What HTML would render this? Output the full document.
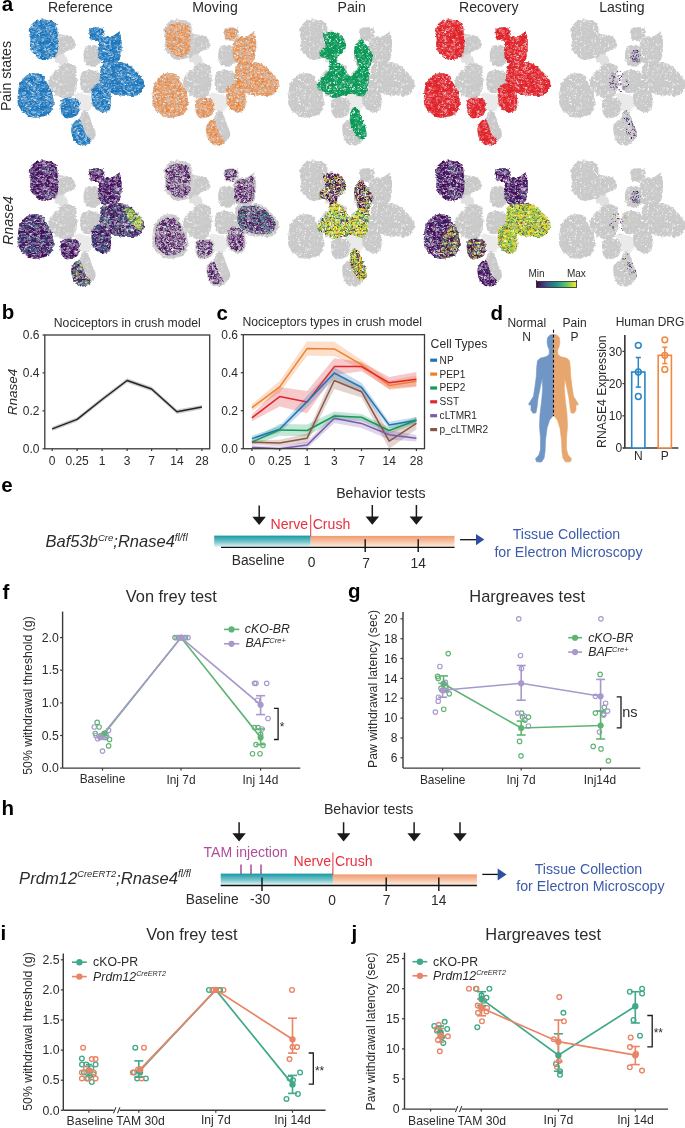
<!DOCTYPE html>
<html><head><meta charset="utf-8"><style>
html,body{margin:0;padding:0;background:#fff;}
svg{display:block;will-change:transform;font-family:"Liberation Sans", sans-serif;}
</style></head><body>
<svg width="685" height="1128" viewBox="0 0 685 1128">
<rect width="685" height="1128" fill="#fff"/>
<defs>
<pattern id="pg" width="24" height="24" patternUnits="userSpaceOnUse"><path fill="#ffffff" d="M22.1 21.9h.9v.9h-.9zM1.3 2.0h.9v.9h-.9zM19.3 17.0h.9v.9h-.9zM15.5 7.1h.9v.9h-.9zM14.0 14.0h.9v.9h-.9zM13.4 3.7h.9v.9h-.9zM9.9 9.1h.9v.9h-.9zM16.7 23.0h.9v.9h-.9zM21.9 12.6h.9v.9h-.9zM10.3 6.2h.9v.9h-.9zM0.8 0.6h.9v.9h-.9zM10.7 7.4h.9v.9h-.9zM8.8 20.6h.9v.9h-.9zM12.1 12.9h.9v.9h-.9zM5.5 0.6h.9v.9h-.9zM7.5 3.2h.9v.9h-.9zM11.8 23.1h.9v.9h-.9zM15.6 4.2h.9v.9h-.9zM20.6 18.4h.9v.9h-.9zM17.0 20.9h.9v.9h-.9zM17.6 18.2h.9v.9h-.9zM8.2 22.7h.9v.9h-.9zM22.2 3.7h.9v.9h-.9zM17.4 16.5h.9v.9h-.9zM10.7 12.3h.9v.9h-.9zM11.3 21.4h.9v.9h-.9zM11.6 19.2h.9v.9h-.9zM8.2 20.4h.9v.9h-.9zM20.8 10.6h.9v.9h-.9zM13.1 21.3h.9v.9h-.9zM16.7 11.2h.9v.9h-.9zM5.1 7.5h.9v.9h-.9zM16.2 3.8h.9v.9h-.9zM21.0 6.2h.9v.9h-.9zM21.1 7.2h.9v.9h-.9zM22.1 16.3h.9v.9h-.9zM11.6 12.0h.9v.9h-.9zM15.0 13.6h.9v.9h-.9zM7.2 4.8h.9v.9h-.9zM11.8 21.6h.9v.9h-.9zM14.4 1.7h.9v.9h-.9zM19.0 16.8h.9v.9h-.9zM21.0 4.4h.9v.9h-.9zM17.2 1.4h.9v.9h-.9z"/><path fill="#d6d6d6" d="M15.1 6.3h.9v.9h-.9zM5.2 20.2h.9v.9h-.9zM2.5 12.1h.9v.9h-.9zM19.7 5.7h.9v.9h-.9zM4.9 20.3h.9v.9h-.9zM9.8 16.6h.9v.9h-.9zM0.7 8.4h.9v.9h-.9zM4.0 15.5h.9v.9h-.9zM1.9 22.1h.9v.9h-.9zM0.6 16.8h.9v.9h-.9zM0.5 5.9h.9v.9h-.9zM18.8 3.6h.9v.9h-.9zM4.2 16.0h.9v.9h-.9zM8.9 1.0h.9v.9h-.9zM22.9 3.5h.9v.9h-.9zM0.8 8.0h.9v.9h-.9zM14.2 17.2h.9v.9h-.9zM2.6 7.8h.9v.9h-.9zM0.7 10.4h.9v.9h-.9zM17.7 17.1h.9v.9h-.9zM20.8 17.5h.9v.9h-.9zM19.9 16.3h.9v.9h-.9zM10.9 5.2h.9v.9h-.9zM15.3 7.3h.9v.9h-.9zM2.4 10.3h.9v.9h-.9zM20.2 2.9h.9v.9h-.9zM13.5 9.1h.9v.9h-.9zM11.9 3.3h.9v.9h-.9zM22.2 6.0h.9v.9h-.9zM14.0 9.7h.9v.9h-.9zM0.4 12.9h.9v.9h-.9zM3.2 1.3h.9v.9h-.9zM0.8 3.7h.9v.9h-.9zM2.2 14.7h.9v.9h-.9zM11.7 22.7h.9v.9h-.9zM21.6 23.0h.9v.9h-.9zM5.4 10.3h.9v.9h-.9zM5.8 13.7h.9v.9h-.9zM14.4 18.5h.9v.9h-.9zM16.4 5.9h.9v.9h-.9zM9.8 12.2h.9v.9h-.9zM0.1 0.8h.9v.9h-.9zM9.4 2.6h.9v.9h-.9zM16.7 5.6h.9v.9h-.9zM2.3 4.2h.9v.9h-.9zM5.3 5.0h.9v.9h-.9zM12.0 10.7h.9v.9h-.9zM7.2 14.8h.9v.9h-.9zM4.9 20.9h.9v.9h-.9zM22.2 16.8h.9v.9h-.9zM10.0 11.8h.9v.9h-.9zM13.4 1.2h.9v.9h-.9zM9.7 12.1h.9v.9h-.9zM4.2 2.2h.9v.9h-.9zM18.5 8.5h.9v.9h-.9zM12.0 21.3h.9v.9h-.9zM14.1 6.7h.9v.9h-.9zM22.7 8.6h.9v.9h-.9zM0.4 15.8h.9v.9h-.9zM2.3 7.1h.9v.9h-.9zM19.4 15.5h.9v.9h-.9zM0.4 10.4h.9v.9h-.9zM9.5 11.2h.9v.9h-.9zM4.8 13.6h.9v.9h-.9zM1.7 6.6h.9v.9h-.9zM8.6 21.6h.9v.9h-.9zM1.8 17.4h.9v.9h-.9zM4.4 13.2h.9v.9h-.9zM9.1 10.7h.9v.9h-.9zM17.4 9.1h.9v.9h-.9zM2.8 2.8h.9v.9h-.9zM1.9 19.6h.9v.9h-.9zM14.8 22.2h.9v.9h-.9zM16.0 0.6h.9v.9h-.9z"/></pattern>
<pattern id="pblue" width="24" height="24" patternUnits="userSpaceOnUse"><path fill="#ffffff" d="M5.5 12.6h.9v.9h-.9zM8.5 14.0h.9v.9h-.9zM14.5 1.5h.9v.9h-.9zM0.3 19.3h.9v.9h-.9zM6.0 5.4h.9v.9h-.9zM23.0 10.9h.9v.9h-.9zM19.3 11.0h.9v.9h-.9zM14.8 3.5h.9v.9h-.9zM14.7 20.1h.9v.9h-.9zM12.1 17.1h.9v.9h-.9zM15.5 1.5h.9v.9h-.9zM17.5 13.7h.9v.9h-.9zM7.0 0.7h.9v.9h-.9zM20.0 10.9h.9v.9h-.9zM16.6 20.3h.9v.9h-.9zM16.5 21.3h.9v.9h-.9zM9.1 18.5h.9v.9h-.9zM10.3 21.6h.9v.9h-.9zM20.3 2.3h.9v.9h-.9zM3.1 5.0h.9v.9h-.9zM22.3 10.1h.9v.9h-.9zM14.5 7.0h.9v.9h-.9zM11.7 8.9h.9v.9h-.9zM8.1 13.5h.9v.9h-.9zM13.5 20.9h.9v.9h-.9zM15.8 21.5h.9v.9h-.9zM19.8 22.9h.9v.9h-.9zM15.5 3.8h.9v.9h-.9zM19.9 22.3h.9v.9h-.9zM20.9 13.1h.9v.9h-.9zM16.5 4.9h.9v.9h-.9zM19.2 13.2h.9v.9h-.9zM6.6 1.5h.9v.9h-.9zM19.7 22.9h.9v.9h-.9zM2.0 18.5h.9v.9h-.9zM9.5 3.5h.9v.9h-.9zM6.8 17.8h.9v.9h-.9zM20.2 1.0h.9v.9h-.9zM14.2 1.0h.9v.9h-.9zM16.6 7.6h.9v.9h-.9zM20.3 22.7h.9v.9h-.9zM11.7 23.1h.9v.9h-.9zM7.2 1.8h.9v.9h-.9zM13.9 0.7h.9v.9h-.9zM4.6 9.4h.9v.9h-.9zM14.1 3.6h.9v.9h-.9zM1.0 20.0h.9v.9h-.9zM7.2 22.1h.9v.9h-.9zM20.7 8.7h.9v.9h-.9zM10.6 12.0h.9v.9h-.9zM14.9 13.8h.9v.9h-.9zM12.9 14.3h.9v.9h-.9zM21.7 11.7h.9v.9h-.9zM10.0 16.6h.9v.9h-.9zM5.5 7.0h.9v.9h-.9zM22.6 12.0h.9v.9h-.9zM12.7 0.3h.9v.9h-.9zM9.6 13.4h.9v.9h-.9zM0.5 14.2h.9v.9h-.9zM14.6 1.4h.9v.9h-.9zM14.5 10.8h.9v.9h-.9zM15.7 8.1h.9v.9h-.9zM16.3 17.0h.9v.9h-.9zM0.5 1.4h.9v.9h-.9zM15.6 22.3h.9v.9h-.9zM5.8 10.5h.9v.9h-.9zM13.7 7.4h.9v.9h-.9zM8.4 7.2h.9v.9h-.9zM8.5 13.8h.9v.9h-.9zM6.9 8.7h.9v.9h-.9zM17.8 0.6h.9v.9h-.9zM13.1 17.0h.9v.9h-.9zM7.2 5.1h.9v.9h-.9zM18.6 5.5h.9v.9h-.9zM4.3 10.1h.9v.9h-.9zM16.1 2.4h.9v.9h-.9zM7.4 7.7h.9v.9h-.9zM19.3 10.1h.9v.9h-.9zM19.8 3.9h.9v.9h-.9zM7.8 15.0h.9v.9h-.9zM20.4 10.4h.9v.9h-.9zM5.2 2.8h.9v.9h-.9zM12.2 4.4h.9v.9h-.9zM18.6 19.4h.9v.9h-.9zM4.2 6.4h.9v.9h-.9zM18.6 14.8h.9v.9h-.9zM18.6 8.0h.9v.9h-.9zM3.0 6.7h.9v.9h-.9zM18.3 6.3h.9v.9h-.9zM8.0 9.6h.9v.9h-.9zM9.7 9.5h.9v.9h-.9zM21.3 3.6h.9v.9h-.9zM0.1 21.8h.9v.9h-.9zM20.3 22.8h.9v.9h-.9zM10.0 21.9h.9v.9h-.9zM21.4 5.1h.9v.9h-.9zM17.2 19.3h.9v.9h-.9zM15.3 12.0h.9v.9h-.9zM6.7 7.9h.9v.9h-.9zM5.3 1.6h.9v.9h-.9zM13.6 6.6h.9v.9h-.9zM18.7 1.0h.9v.9h-.9zM20.9 16.0h.9v.9h-.9zM21.3 20.7h.9v.9h-.9zM20.8 13.3h.9v.9h-.9zM0.3 17.2h.9v.9h-.9zM4.0 6.9h.9v.9h-.9z"/><path fill="#d4d4d4" d="M15.3 12.1h.9v.9h-.9zM9.6 21.7h.9v.9h-.9zM14.1 7.9h.9v.9h-.9zM5.8 19.9h.9v.9h-.9zM11.0 18.1h.9v.9h-.9zM8.1 4.6h.9v.9h-.9zM12.4 18.9h.9v.9h-.9zM4.0 18.3h.9v.9h-.9zM21.3 18.6h.9v.9h-.9zM19.0 0.2h.9v.9h-.9zM14.5 19.9h.9v.9h-.9zM1.2 6.3h.9v.9h-.9zM6.2 12.2h.9v.9h-.9zM9.8 10.9h.9v.9h-.9zM17.9 0.0h.9v.9h-.9zM1.3 2.9h.9v.9h-.9zM2.9 1.6h.9v.9h-.9zM22.5 19.7h.9v.9h-.9zM2.0 11.6h.9v.9h-.9zM7.3 7.3h.9v.9h-.9zM8.1 14.9h.9v.9h-.9zM13.6 8.3h.9v.9h-.9zM4.4 7.6h.9v.9h-.9zM2.9 12.8h.9v.9h-.9zM16.5 8.8h.9v.9h-.9zM1.8 4.1h.9v.9h-.9zM8.6 14.0h.9v.9h-.9zM18.1 8.8h.9v.9h-.9zM18.5 14.4h.9v.9h-.9zM10.0 8.6h.9v.9h-.9zM11.5 16.2h.9v.9h-.9zM9.7 16.0h.9v.9h-.9zM10.6 5.7h.9v.9h-.9zM12.4 16.1h.9v.9h-.9zM1.7 9.8h.9v.9h-.9zM9.8 20.3h.9v.9h-.9z"/><path fill="#5a9bcc" d="M21.6 8.6h.9v.9h-.9zM20.7 18.3h.9v.9h-.9zM6.1 10.7h.9v.9h-.9zM2.8 18.8h.9v.9h-.9zM15.3 20.5h.9v.9h-.9zM18.3 15.4h.9v.9h-.9zM16.9 13.0h.9v.9h-.9zM2.4 13.6h.9v.9h-.9zM0.1 3.3h.9v.9h-.9zM17.9 1.0h.9v.9h-.9zM2.1 2.3h.9v.9h-.9zM20.3 4.1h.9v.9h-.9zM0.5 19.4h.9v.9h-.9zM2.8 19.5h.9v.9h-.9zM15.6 19.3h.9v.9h-.9zM22.0 13.4h.9v.9h-.9zM18.5 0.8h.9v.9h-.9zM17.7 11.8h.9v.9h-.9zM16.5 2.5h.9v.9h-.9zM17.3 21.6h.9v.9h-.9zM1.4 7.5h.9v.9h-.9zM13.0 19.1h.9v.9h-.9zM5.6 4.2h.9v.9h-.9zM5.8 14.2h.9v.9h-.9zM17.4 9.1h.9v.9h-.9zM8.5 9.2h.9v.9h-.9zM8.1 9.7h.9v.9h-.9zM1.9 11.6h.9v.9h-.9zM22.5 9.5h.9v.9h-.9zM17.3 3.7h.9v.9h-.9zM16.0 17.5h.9v.9h-.9zM15.6 11.9h.9v.9h-.9zM11.2 14.9h.9v.9h-.9zM20.7 3.4h.9v.9h-.9zM2.2 17.3h.9v.9h-.9zM21.2 11.9h.9v.9h-.9zM10.2 16.6h.9v.9h-.9zM4.3 6.2h.9v.9h-.9zM4.6 13.5h.9v.9h-.9zM7.3 5.4h.9v.9h-.9zM16.0 22.0h.9v.9h-.9zM6.8 16.3h.9v.9h-.9zM9.5 19.7h.9v.9h-.9zM13.5 6.2h.9v.9h-.9zM5.0 0.5h.9v.9h-.9zM11.1 8.8h.9v.9h-.9zM4.0 8.3h.9v.9h-.9zM7.4 17.9h.9v.9h-.9zM3.3 22.9h.9v.9h-.9zM11.1 13.8h.9v.9h-.9zM10.8 19.3h.9v.9h-.9zM19.0 12.9h.9v.9h-.9zM11.1 16.6h.9v.9h-.9zM19.8 9.2h.9v.9h-.9zM16.9 22.2h.9v.9h-.9zM10.8 5.3h.9v.9h-.9zM5.4 16.6h.9v.9h-.9zM15.6 22.1h.9v.9h-.9zM19.7 5.6h.9v.9h-.9zM4.4 6.0h.9v.9h-.9zM4.3 16.3h.9v.9h-.9zM19.8 20.8h.9v.9h-.9zM5.9 20.0h.9v.9h-.9zM7.2 9.8h.9v.9h-.9zM16.8 2.0h.9v.9h-.9zM2.1 19.3h.9v.9h-.9zM6.7 8.2h.9v.9h-.9zM13.4 15.6h.9v.9h-.9zM0.2 7.7h.9v.9h-.9zM10.1 11.2h.9v.9h-.9zM4.9 13.5h.9v.9h-.9zM22.1 9.0h.9v.9h-.9zM12.6 2.8h.9v.9h-.9zM6.3 15.4h.9v.9h-.9zM2.6 20.5h.9v.9h-.9zM21.0 2.2h.9v.9h-.9zM21.7 8.6h.9v.9h-.9zM17.8 17.5h.9v.9h-.9zM6.8 15.6h.9v.9h-.9zM15.1 18.6h.9v.9h-.9zM6.1 17.4h.9v.9h-.9zM22.2 15.5h.9v.9h-.9zM12.4 2.6h.9v.9h-.9zM11.4 8.1h.9v.9h-.9zM16.6 15.7h.9v.9h-.9zM13.1 4.2h.9v.9h-.9zM14.9 14.6h.9v.9h-.9zM4.1 20.6h.9v.9h-.9zM15.1 2.8h.9v.9h-.9zM21.5 3.3h.9v.9h-.9z"/></pattern>
<pattern id="pred" width="24" height="24" patternUnits="userSpaceOnUse"><path fill="#ffffff" d="M5.5 2.4h.9v.9h-.9zM9.1 3.6h.9v.9h-.9zM1.5 9.3h.9v.9h-.9zM21.2 18.5h.9v.9h-.9zM17.7 5.1h.9v.9h-.9zM12.4 6.4h.9v.9h-.9zM4.0 2.5h.9v.9h-.9zM5.0 21.4h.9v.9h-.9zM19.1 18.6h.9v.9h-.9zM18.5 4.5h.9v.9h-.9zM7.2 14.5h.9v.9h-.9zM16.9 19.7h.9v.9h-.9zM20.3 2.0h.9v.9h-.9zM14.0 15.5h.9v.9h-.9zM11.7 4.1h.9v.9h-.9zM10.9 2.1h.9v.9h-.9zM21.6 20.0h.9v.9h-.9zM12.7 6.9h.9v.9h-.9zM21.0 13.2h.9v.9h-.9zM20.4 19.6h.9v.9h-.9zM11.7 9.6h.9v.9h-.9zM13.8 10.0h.9v.9h-.9zM3.7 7.0h.9v.9h-.9zM18.8 1.0h.9v.9h-.9zM1.1 14.5h.9v.9h-.9zM6.5 12.3h.9v.9h-.9zM10.9 7.9h.9v.9h-.9zM23.0 4.5h.9v.9h-.9zM9.5 4.7h.9v.9h-.9zM14.6 6.4h.9v.9h-.9zM8.2 17.3h.9v.9h-.9zM7.4 12.9h.9v.9h-.9zM20.9 2.3h.9v.9h-.9zM1.4 5.3h.9v.9h-.9zM17.7 14.2h.9v.9h-.9zM5.5 7.6h.9v.9h-.9zM4.1 10.6h.9v.9h-.9zM1.0 16.1h.9v.9h-.9zM20.7 22.1h.9v.9h-.9zM17.0 22.2h.9v.9h-.9zM0.4 6.7h.9v.9h-.9zM22.3 17.9h.9v.9h-.9zM9.5 21.8h.9v.9h-.9zM14.3 18.9h.9v.9h-.9zM6.8 4.4h.9v.9h-.9zM10.3 3.2h.9v.9h-.9zM8.8 22.2h.9v.9h-.9zM7.7 0.2h.9v.9h-.9zM1.0 3.9h.9v.9h-.9zM18.1 8.4h.9v.9h-.9zM6.7 2.2h.9v.9h-.9zM22.7 9.8h.9v.9h-.9zM4.8 1.4h.9v.9h-.9zM1.3 3.9h.9v.9h-.9zM15.6 3.5h.9v.9h-.9zM0.9 11.3h.9v.9h-.9zM5.8 23.0h.9v.9h-.9zM2.8 12.2h.9v.9h-.9zM17.9 9.5h.9v.9h-.9zM22.8 11.0h.9v.9h-.9zM5.6 9.5h.9v.9h-.9zM0.9 9.7h.9v.9h-.9zM5.7 20.5h.9v.9h-.9zM19.2 11.5h.9v.9h-.9zM0.7 5.9h.9v.9h-.9zM5.6 4.8h.9v.9h-.9zM5.3 20.1h.9v.9h-.9zM3.3 1.2h.9v.9h-.9zM21.4 13.1h.9v.9h-.9zM22.9 9.3h.9v.9h-.9zM20.8 15.1h.9v.9h-.9zM18.3 17.2h.9v.9h-.9zM11.4 2.1h.9v.9h-.9zM4.9 20.2h.9v.9h-.9z"/><path fill="#d4d4d4" d="M20.8 21.4h.9v.9h-.9zM7.8 15.2h.9v.9h-.9zM18.5 14.8h.9v.9h-.9zM18.8 12.2h.9v.9h-.9zM15.1 15.8h.9v.9h-.9zM6.2 21.3h.9v.9h-.9zM22.1 1.7h.9v.9h-.9zM22.4 22.2h.9v.9h-.9zM15.4 1.0h.9v.9h-.9zM20.8 2.9h.9v.9h-.9zM22.4 15.4h.9v.9h-.9zM1.4 3.9h.9v.9h-.9zM14.7 13.1h.9v.9h-.9zM17.2 21.4h.9v.9h-.9zM5.0 0.1h.9v.9h-.9zM21.3 0.3h.9v.9h-.9zM20.2 2.7h.9v.9h-.9zM18.7 18.1h.9v.9h-.9zM20.3 12.7h.9v.9h-.9zM20.3 4.7h.9v.9h-.9zM15.5 7.6h.9v.9h-.9zM20.6 17.9h.9v.9h-.9zM10.9 12.2h.9v.9h-.9zM0.6 0.8h.9v.9h-.9zM13.7 11.3h.9v.9h-.9zM20.0 14.0h.9v.9h-.9zM3.2 8.4h.9v.9h-.9zM17.7 12.1h.9v.9h-.9zM0.2 19.4h.9v.9h-.9z"/><path fill="#e85a5e" d="M19.1 2.0h.9v.9h-.9zM12.6 8.8h.9v.9h-.9zM18.2 7.2h.9v.9h-.9zM5.4 11.2h.9v.9h-.9zM22.3 2.2h.9v.9h-.9zM2.6 14.3h.9v.9h-.9zM20.5 11.8h.9v.9h-.9zM10.0 19.8h.9v.9h-.9zM17.9 1.5h.9v.9h-.9zM20.4 4.5h.9v.9h-.9zM7.0 19.3h.9v.9h-.9zM9.8 18.4h.9v.9h-.9zM3.9 20.2h.9v.9h-.9zM4.1 3.4h.9v.9h-.9zM11.4 7.8h.9v.9h-.9zM12.5 20.9h.9v.9h-.9zM16.4 0.1h.9v.9h-.9zM7.2 12.6h.9v.9h-.9zM11.2 16.5h.9v.9h-.9zM11.2 1.7h.9v.9h-.9zM5.7 19.6h.9v.9h-.9zM8.2 17.7h.9v.9h-.9zM22.8 14.5h.9v.9h-.9zM15.6 14.1h.9v.9h-.9zM7.2 21.1h.9v.9h-.9zM10.8 21.1h.9v.9h-.9zM7.1 20.0h.9v.9h-.9zM18.2 14.2h.9v.9h-.9zM10.2 3.2h.9v.9h-.9zM17.8 8.4h.9v.9h-.9zM15.3 3.1h.9v.9h-.9zM1.9 3.3h.9v.9h-.9zM18.7 4.1h.9v.9h-.9zM20.8 8.6h.9v.9h-.9zM13.3 8.1h.9v.9h-.9zM14.3 2.2h.9v.9h-.9zM9.3 21.6h.9v.9h-.9zM4.2 15.1h.9v.9h-.9zM7.5 6.9h.9v.9h-.9zM0.5 0.5h.9v.9h-.9zM21.9 19.2h.9v.9h-.9zM18.5 18.6h.9v.9h-.9zM22.0 3.7h.9v.9h-.9zM13.5 11.4h.9v.9h-.9zM13.3 21.7h.9v.9h-.9zM17.6 22.4h.9v.9h-.9zM2.7 15.1h.9v.9h-.9zM15.6 17.2h.9v.9h-.9zM14.3 19.2h.9v.9h-.9zM7.0 21.4h.9v.9h-.9zM9.4 13.8h.9v.9h-.9zM20.7 16.3h.9v.9h-.9zM7.2 5.3h.9v.9h-.9zM7.5 14.5h.9v.9h-.9zM23.0 20.8h.9v.9h-.9zM9.2 9.3h.9v.9h-.9zM18.9 6.6h.9v.9h-.9zM9.5 0.3h.9v.9h-.9zM4.2 12.5h.9v.9h-.9zM16.0 14.2h.9v.9h-.9zM8.4 22.0h.9v.9h-.9zM14.4 3.6h.9v.9h-.9zM1.6 22.5h.9v.9h-.9zM22.8 21.3h.9v.9h-.9zM13.9 7.2h.9v.9h-.9zM2.1 6.0h.9v.9h-.9zM5.1 21.4h.9v.9h-.9zM20.6 18.0h.9v.9h-.9zM3.4 5.5h.9v.9h-.9zM6.9 21.9h.9v.9h-.9zM3.8 18.3h.9v.9h-.9zM15.7 12.6h.9v.9h-.9zM22.2 6.1h.9v.9h-.9zM12.1 3.6h.9v.9h-.9zM2.2 0.7h.9v.9h-.9zM7.3 2.8h.9v.9h-.9zM1.4 22.9h.9v.9h-.9zM6.7 20.6h.9v.9h-.9zM16.2 16.9h.9v.9h-.9zM15.1 22.0h.9v.9h-.9zM20.3 16.6h.9v.9h-.9zM12.9 16.0h.9v.9h-.9zM16.7 12.8h.9v.9h-.9zM11.6 3.6h.9v.9h-.9zM19.5 11.2h.9v.9h-.9zM1.6 3.9h.9v.9h-.9zM20.2 5.9h.9v.9h-.9zM9.0 15.8h.9v.9h-.9zM19.9 7.6h.9v.9h-.9zM8.9 9.8h.9v.9h-.9z"/></pattern>
<pattern id="pgrn" width="24" height="24" patternUnits="userSpaceOnUse"><path fill="#ffffff" d="M14.4 17.1h.9v.9h-.9zM18.4 21.8h.9v.9h-.9zM17.1 21.3h.9v.9h-.9zM0.7 10.8h.9v.9h-.9zM21.8 15.0h.9v.9h-.9zM20.8 2.6h.9v.9h-.9zM10.8 5.7h.9v.9h-.9zM12.6 13.3h.9v.9h-.9zM0.3 5.0h.9v.9h-.9zM6.5 21.2h.9v.9h-.9zM17.7 3.7h.9v.9h-.9zM18.4 3.2h.9v.9h-.9zM14.3 2.9h.9v.9h-.9zM0.0 20.1h.9v.9h-.9zM4.8 5.0h.9v.9h-.9zM22.7 20.2h.9v.9h-.9zM6.7 22.2h.9v.9h-.9zM12.5 15.7h.9v.9h-.9zM4.7 21.7h.9v.9h-.9zM16.0 22.3h.9v.9h-.9zM20.6 6.9h.9v.9h-.9zM8.3 3.8h.9v.9h-.9zM3.4 1.5h.9v.9h-.9zM7.0 13.9h.9v.9h-.9zM0.1 15.7h.9v.9h-.9zM7.8 7.2h.9v.9h-.9zM18.9 11.1h.9v.9h-.9zM7.3 11.1h.9v.9h-.9zM16.3 1.3h.9v.9h-.9zM22.5 0.5h.9v.9h-.9zM17.3 19.5h.9v.9h-.9zM0.4 18.2h.9v.9h-.9zM8.5 13.4h.9v.9h-.9zM0.2 1.1h.9v.9h-.9zM4.2 22.1h.9v.9h-.9zM4.5 17.5h.9v.9h-.9zM21.5 21.8h.9v.9h-.9zM8.0 8.2h.9v.9h-.9zM12.1 17.9h.9v.9h-.9zM2.5 17.3h.9v.9h-.9zM18.4 19.9h.9v.9h-.9zM0.8 21.8h.9v.9h-.9zM2.1 7.9h.9v.9h-.9zM14.1 21.2h.9v.9h-.9zM7.9 21.3h.9v.9h-.9zM12.6 7.2h.9v.9h-.9zM7.3 4.1h.9v.9h-.9zM1.8 3.4h.9v.9h-.9zM15.9 23.0h.9v.9h-.9zM3.7 1.1h.9v.9h-.9zM22.8 12.3h.9v.9h-.9zM9.4 5.5h.9v.9h-.9zM13.7 19.1h.9v.9h-.9zM10.5 9.7h.9v.9h-.9zM1.3 21.2h.9v.9h-.9zM0.8 11.4h.9v.9h-.9zM19.4 3.0h.9v.9h-.9zM16.9 21.9h.9v.9h-.9zM14.6 18.2h.9v.9h-.9zM2.5 10.0h.9v.9h-.9zM3.4 19.5h.9v.9h-.9zM6.8 10.5h.9v.9h-.9zM23.1 19.7h.9v.9h-.9zM22.5 10.5h.9v.9h-.9zM11.3 16.9h.9v.9h-.9zM11.1 6.7h.9v.9h-.9zM9.3 3.4h.9v.9h-.9zM8.7 22.8h.9v.9h-.9zM22.2 14.5h.9v.9h-.9zM11.5 7.8h.9v.9h-.9zM2.1 6.3h.9v.9h-.9zM18.1 20.0h.9v.9h-.9zM8.3 18.2h.9v.9h-.9zM17.9 16.0h.9v.9h-.9z"/><path fill="#d4d4d4" d="M15.3 17.5h.9v.9h-.9zM8.4 16.3h.9v.9h-.9zM6.5 11.2h.9v.9h-.9zM17.8 16.0h.9v.9h-.9zM6.8 21.8h.9v.9h-.9zM15.0 13.4h.9v.9h-.9zM0.3 12.6h.9v.9h-.9zM5.8 15.5h.9v.9h-.9zM10.7 18.9h.9v.9h-.9zM15.0 18.4h.9v.9h-.9zM8.0 14.9h.9v.9h-.9zM17.0 19.1h.9v.9h-.9zM8.1 19.5h.9v.9h-.9zM20.1 15.9h.9v.9h-.9zM22.5 22.1h.9v.9h-.9zM12.0 12.2h.9v.9h-.9zM3.8 19.3h.9v.9h-.9zM21.7 11.0h.9v.9h-.9zM16.0 16.6h.9v.9h-.9zM16.9 4.0h.9v.9h-.9zM18.0 13.4h.9v.9h-.9zM15.4 9.7h.9v.9h-.9zM14.4 17.9h.9v.9h-.9zM14.7 16.6h.9v.9h-.9zM0.6 3.7h.9v.9h-.9zM10.2 15.0h.9v.9h-.9zM5.1 15.8h.9v.9h-.9zM14.6 1.0h.9v.9h-.9zM10.9 5.2h.9v.9h-.9z"/><path fill="#3aae7a" d="M1.3 3.1h.9v.9h-.9zM7.3 4.2h.9v.9h-.9zM4.5 0.8h.9v.9h-.9zM10.7 8.8h.9v.9h-.9zM14.1 13.6h.9v.9h-.9zM5.5 20.9h.9v.9h-.9zM0.0 9.4h.9v.9h-.9zM6.4 9.5h.9v.9h-.9zM2.7 19.2h.9v.9h-.9zM8.6 0.8h.9v.9h-.9zM14.2 2.2h.9v.9h-.9zM12.6 7.8h.9v.9h-.9zM13.4 22.1h.9v.9h-.9zM18.9 9.7h.9v.9h-.9zM18.8 14.8h.9v.9h-.9zM8.5 3.3h.9v.9h-.9zM13.8 13.0h.9v.9h-.9zM22.1 22.4h.9v.9h-.9zM14.1 8.1h.9v.9h-.9zM20.6 0.0h.9v.9h-.9zM2.5 13.1h.9v.9h-.9zM14.2 3.3h.9v.9h-.9zM14.5 20.6h.9v.9h-.9zM8.7 10.0h.9v.9h-.9zM5.2 6.7h.9v.9h-.9zM22.5 8.8h.9v.9h-.9zM22.2 21.1h.9v.9h-.9zM13.8 6.0h.9v.9h-.9zM22.7 11.5h.9v.9h-.9zM9.6 7.4h.9v.9h-.9zM22.7 11.4h.9v.9h-.9zM6.6 11.0h.9v.9h-.9zM2.8 14.4h.9v.9h-.9zM10.2 6.8h.9v.9h-.9zM18.1 19.1h.9v.9h-.9zM0.3 12.3h.9v.9h-.9zM6.3 21.6h.9v.9h-.9zM18.1 5.7h.9v.9h-.9zM6.2 3.6h.9v.9h-.9zM22.8 6.8h.9v.9h-.9zM14.0 11.0h.9v.9h-.9zM14.9 13.9h.9v.9h-.9zM17.2 2.7h.9v.9h-.9zM17.6 6.9h.9v.9h-.9zM12.3 7.8h.9v.9h-.9zM6.9 12.2h.9v.9h-.9zM10.7 8.3h.9v.9h-.9zM17.2 13.6h.9v.9h-.9zM0.8 5.8h.9v.9h-.9zM10.5 21.2h.9v.9h-.9zM20.5 12.6h.9v.9h-.9zM0.3 18.0h.9v.9h-.9zM9.9 13.3h.9v.9h-.9zM16.4 14.6h.9v.9h-.9zM11.1 21.1h.9v.9h-.9zM8.9 9.1h.9v.9h-.9zM19.7 4.5h.9v.9h-.9zM6.8 19.2h.9v.9h-.9zM1.5 19.3h.9v.9h-.9zM16.0 10.0h.9v.9h-.9zM6.6 18.0h.9v.9h-.9zM21.0 3.3h.9v.9h-.9zM11.1 12.7h.9v.9h-.9zM11.5 7.6h.9v.9h-.9zM3.5 13.5h.9v.9h-.9zM18.8 1.6h.9v.9h-.9zM5.3 18.9h.9v.9h-.9zM18.3 15.3h.9v.9h-.9zM0.6 16.7h.9v.9h-.9zM22.6 23.1h.9v.9h-.9zM16.2 1.1h.9v.9h-.9zM19.5 5.1h.9v.9h-.9zM14.9 22.0h.9v.9h-.9zM16.5 3.1h.9v.9h-.9zM6.8 21.2h.9v.9h-.9zM3.5 14.1h.9v.9h-.9zM9.6 3.7h.9v.9h-.9zM14.4 1.0h.9v.9h-.9zM2.5 8.8h.9v.9h-.9zM1.7 1.3h.9v.9h-.9zM13.3 17.1h.9v.9h-.9zM20.3 3.1h.9v.9h-.9zM10.0 7.3h.9v.9h-.9zM13.9 11.3h.9v.9h-.9zM21.7 8.6h.9v.9h-.9zM1.3 16.1h.9v.9h-.9zM3.5 14.6h.9v.9h-.9zM11.7 21.0h.9v.9h-.9zM12.8 14.3h.9v.9h-.9zM6.1 12.7h.9v.9h-.9z"/></pattern>
<pattern id="porg" width="24" height="24" patternUnits="userSpaceOnUse"><path fill="#ef8030" d="M18.3 19.0h.9v.9h-.9zM11.2 6.0h.9v.9h-.9zM0.0 15.3h.9v.9h-.9zM10.9 17.5h.9v.9h-.9zM8.6 17.8h.9v.9h-.9zM6.3 18.5h.9v.9h-.9zM16.9 9.6h.9v.9h-.9zM12.4 15.8h.9v.9h-.9zM4.5 12.8h.9v.9h-.9zM18.6 6.1h.9v.9h-.9zM18.6 15.8h.9v.9h-.9zM19.5 7.8h.9v.9h-.9zM2.2 18.5h.9v.9h-.9zM18.6 10.3h.9v.9h-.9zM2.2 4.6h.9v.9h-.9zM14.7 6.7h.9v.9h-.9zM22.0 13.6h.9v.9h-.9zM4.6 15.1h.9v.9h-.9zM8.3 21.5h.9v.9h-.9zM21.0 11.9h.9v.9h-.9zM14.9 16.1h.9v.9h-.9zM18.6 22.6h.9v.9h-.9zM0.7 8.3h.9v.9h-.9zM13.9 7.0h.9v.9h-.9zM13.6 2.1h.9v.9h-.9zM20.3 12.1h.9v.9h-.9zM2.7 15.3h.9v.9h-.9zM7.2 4.5h.9v.9h-.9zM11.2 3.2h.9v.9h-.9zM4.8 20.0h.9v.9h-.9zM16.1 0.3h.9v.9h-.9zM18.0 0.4h.9v.9h-.9zM7.7 20.9h.9v.9h-.9zM14.3 7.1h.9v.9h-.9zM8.7 9.0h.9v.9h-.9zM2.9 23.1h.9v.9h-.9zM1.2 9.8h.9v.9h-.9zM17.2 9.2h.9v.9h-.9zM22.7 5.7h.9v.9h-.9zM22.6 20.6h.9v.9h-.9zM15.5 20.5h.9v.9h-.9zM10.3 19.2h.9v.9h-.9zM18.4 11.9h.9v.9h-.9zM10.9 16.3h.9v.9h-.9zM9.4 2.0h.9v.9h-.9zM17.2 6.1h.9v.9h-.9zM11.3 18.1h.9v.9h-.9zM4.0 0.5h.9v.9h-.9zM2.9 13.6h.9v.9h-.9zM8.3 5.9h.9v.9h-.9zM10.4 21.4h.9v.9h-.9zM5.9 9.5h.9v.9h-.9zM20.3 14.1h.9v.9h-.9zM6.2 11.0h.9v.9h-.9zM11.1 3.3h.9v.9h-.9zM8.7 7.1h.9v.9h-.9zM18.6 7.5h.9v.9h-.9zM15.2 22.4h.9v.9h-.9zM21.3 8.7h.9v.9h-.9zM13.9 7.4h.9v.9h-.9zM9.2 11.3h.9v.9h-.9zM18.3 21.6h.9v.9h-.9zM6.7 0.1h.9v.9h-.9zM10.4 1.3h.9v.9h-.9zM0.7 17.9h.9v.9h-.9zM2.6 16.6h.9v.9h-.9zM8.4 21.7h.9v.9h-.9zM19.7 1.4h.9v.9h-.9zM4.4 21.9h.9v.9h-.9zM14.2 9.8h.9v.9h-.9zM18.1 18.8h.9v.9h-.9zM11.4 10.8h.9v.9h-.9zM2.3 8.4h.9v.9h-.9zM3.3 14.5h.9v.9h-.9zM14.0 3.3h.9v.9h-.9zM14.5 2.2h.9v.9h-.9zM2.4 14.9h.9v.9h-.9zM10.7 20.8h.9v.9h-.9zM14.5 16.2h.9v.9h-.9zM2.9 19.2h.9v.9h-.9zM1.9 14.3h.9v.9h-.9zM21.1 21.0h.9v.9h-.9zM20.6 10.4h.9v.9h-.9zM16.0 18.3h.9v.9h-.9zM3.2 21.8h.9v.9h-.9zM21.0 10.2h.9v.9h-.9zM18.0 10.3h.9v.9h-.9zM6.4 16.5h.9v.9h-.9zM1.5 18.5h.9v.9h-.9zM22.6 6.6h.9v.9h-.9zM21.7 1.9h.9v.9h-.9zM19.8 6.5h.9v.9h-.9zM22.3 9.9h.9v.9h-.9zM21.3 0.7h.9v.9h-.9zM2.0 18.9h.9v.9h-.9zM14.8 12.4h.9v.9h-.9zM0.8 4.0h.9v.9h-.9zM8.6 1.2h.9v.9h-.9zM22.9 17.7h.9v.9h-.9zM21.9 16.2h.9v.9h-.9zM7.9 1.8h.9v.9h-.9zM16.9 2.6h.9v.9h-.9zM12.6 10.7h.9v.9h-.9zM11.4 1.7h.9v.9h-.9zM1.7 12.0h.9v.9h-.9zM0.7 12.1h.9v.9h-.9zM3.5 6.5h.9v.9h-.9zM3.5 13.1h.9v.9h-.9zM9.0 5.2h.9v.9h-.9zM5.1 13.0h.9v.9h-.9zM21.0 9.7h.9v.9h-.9zM3.8 7.3h.9v.9h-.9zM5.6 13.2h.9v.9h-.9zM18.2 13.1h.9v.9h-.9zM4.3 7.5h.9v.9h-.9zM8.8 10.2h.9v.9h-.9zM9.2 23.0h.9v.9h-.9zM12.7 15.3h.9v.9h-.9zM16.5 14.9h.9v.9h-.9zM18.6 8.6h.9v.9h-.9zM15.4 22.5h.9v.9h-.9zM3.8 14.4h.9v.9h-.9zM8.9 1.4h.9v.9h-.9zM0.9 17.5h.9v.9h-.9zM2.6 16.4h.9v.9h-.9zM2.3 8.5h.9v.9h-.9zM0.7 12.5h.9v.9h-.9zM18.2 5.2h.9v.9h-.9zM13.1 21.3h.9v.9h-.9zM6.8 10.9h.9v.9h-.9zM16.7 20.0h.9v.9h-.9zM3.9 15.3h.9v.9h-.9zM2.8 2.6h.9v.9h-.9zM22.7 1.2h.9v.9h-.9zM21.2 17.3h.9v.9h-.9zM15.6 16.9h.9v.9h-.9zM15.0 6.6h.9v.9h-.9zM10.2 4.7h.9v.9h-.9zM19.8 18.0h.9v.9h-.9zM18.2 4.9h.9v.9h-.9zM13.7 5.9h.9v.9h-.9zM18.3 17.2h.9v.9h-.9zM23.0 16.4h.9v.9h-.9zM15.8 17.9h.9v.9h-.9zM2.2 13.8h.9v.9h-.9zM0.8 8.5h.9v.9h-.9zM2.7 21.9h.9v.9h-.9zM0.6 21.3h.9v.9h-.9zM21.9 10.1h.9v.9h-.9zM19.2 1.2h.9v.9h-.9zM3.2 0.2h.9v.9h-.9zM1.6 0.1h.9v.9h-.9zM19.1 2.0h.9v.9h-.9zM13.6 6.3h.9v.9h-.9zM3.1 9.7h.9v.9h-.9zM4.2 22.6h.9v.9h-.9zM8.9 13.7h.9v.9h-.9zM13.0 14.5h.9v.9h-.9zM11.1 6.2h.9v.9h-.9zM3.2 20.5h.9v.9h-.9zM4.4 10.4h.9v.9h-.9zM18.7 13.3h.9v.9h-.9zM21.9 18.7h.9v.9h-.9zM11.9 2.8h.9v.9h-.9zM13.7 10.9h.9v.9h-.9zM19.9 12.3h.9v.9h-.9zM16.0 18.7h.9v.9h-.9zM10.9 19.4h.9v.9h-.9zM20.8 3.6h.9v.9h-.9zM21.2 20.1h.9v.9h-.9zM19.8 7.8h.9v.9h-.9zM5.8 3.1h.9v.9h-.9zM8.6 19.8h.9v.9h-.9zM8.4 0.1h.9v.9h-.9zM7.0 1.9h.9v.9h-.9zM14.4 17.7h.9v.9h-.9zM21.4 2.1h.9v.9h-.9zM8.8 2.9h.9v.9h-.9zM21.0 19.3h.9v.9h-.9zM12.0 22.0h.9v.9h-.9zM12.0 17.9h.9v.9h-.9zM11.3 8.4h.9v.9h-.9zM23.0 19.4h.9v.9h-.9zM13.7 20.0h.9v.9h-.9zM15.0 18.4h.9v.9h-.9zM1.5 3.0h.9v.9h-.9zM2.5 13.9h.9v.9h-.9zM16.6 3.6h.9v.9h-.9zM11.7 2.6h.9v.9h-.9zM15.9 18.0h.9v.9h-.9zM2.0 22.6h.9v.9h-.9zM15.4 2.9h.9v.9h-.9zM8.1 3.7h.9v.9h-.9zM16.8 21.2h.9v.9h-.9zM4.0 4.3h.9v.9h-.9zM14.5 19.9h.9v.9h-.9zM17.1 10.6h.9v.9h-.9zM2.6 14.2h.9v.9h-.9zM10.5 18.6h.9v.9h-.9zM13.2 17.0h.9v.9h-.9zM22.4 14.5h.9v.9h-.9zM21.1 6.3h.9v.9h-.9zM0.0 20.4h.9v.9h-.9zM0.7 23.0h.9v.9h-.9zM10.5 1.4h.9v.9h-.9zM6.3 16.7h.9v.9h-.9zM8.9 14.4h.9v.9h-.9zM2.4 19.3h.9v.9h-.9zM8.6 19.2h.9v.9h-.9zM3.4 15.4h.9v.9h-.9zM10.8 9.3h.9v.9h-.9zM0.4 12.3h.9v.9h-.9zM19.4 2.4h.9v.9h-.9zM10.3 0.3h.9v.9h-.9zM23.0 22.4h.9v.9h-.9zM15.7 11.1h.9v.9h-.9zM1.6 2.8h.9v.9h-.9zM16.3 18.4h.9v.9h-.9zM22.8 19.9h.9v.9h-.9zM10.1 5.9h.9v.9h-.9zM12.5 8.0h.9v.9h-.9zM12.6 20.4h.9v.9h-.9zM10.5 22.7h.9v.9h-.9zM16.6 1.1h.9v.9h-.9zM17.3 15.3h.9v.9h-.9zM14.4 0.1h.9v.9h-.9zM20.3 11.4h.9v.9h-.9zM12.4 3.9h.9v.9h-.9zM0.8 0.3h.9v.9h-.9zM4.8 7.0h.9v.9h-.9zM3.6 1.3h.9v.9h-.9zM16.8 16.2h.9v.9h-.9zM20.4 5.0h.9v.9h-.9zM16.8 13.7h.9v.9h-.9zM2.1 20.2h.9v.9h-.9zM8.3 4.3h.9v.9h-.9zM4.2 21.4h.9v.9h-.9zM5.1 8.9h.9v.9h-.9zM12.6 8.3h.9v.9h-.9zM15.2 2.0h.9v.9h-.9zM9.9 13.5h.9v.9h-.9zM14.3 14.1h.9v.9h-.9zM6.2 14.7h.9v.9h-.9zM22.5 11.1h.9v.9h-.9zM14.9 19.3h.9v.9h-.9zM5.8 6.1h.9v.9h-.9zM22.4 6.9h.9v.9h-.9zM9.8 8.6h.9v.9h-.9zM22.9 12.6h.9v.9h-.9zM20.7 3.8h.9v.9h-.9zM6.4 15.0h.9v.9h-.9zM7.4 15.3h.9v.9h-.9zM11.7 1.8h.9v.9h-.9zM2.6 10.1h.9v.9h-.9zM12.3 4.1h.9v.9h-.9zM6.1 0.0h.9v.9h-.9zM6.1 7.1h.9v.9h-.9zM9.0 13.7h.9v.9h-.9zM19.7 16.6h.9v.9h-.9zM17.1 6.5h.9v.9h-.9zM11.4 16.8h.9v.9h-.9zM20.6 5.6h.9v.9h-.9zM0.3 1.2h.9v.9h-.9zM11.9 20.1h.9v.9h-.9zM3.5 18.1h.9v.9h-.9zM14.8 20.0h.9v.9h-.9zM20.8 2.5h.9v.9h-.9zM18.3 3.1h.9v.9h-.9zM2.7 9.2h.9v.9h-.9zM11.3 1.6h.9v.9h-.9zM6.4 4.1h.9v.9h-.9zM3.1 2.3h.9v.9h-.9zM0.5 5.0h.9v.9h-.9zM7.6 9.7h.9v.9h-.9zM16.0 14.1h.9v.9h-.9zM11.3 7.5h.9v.9h-.9zM14.2 4.5h.9v.9h-.9zM4.1 2.6h.9v.9h-.9zM15.5 3.2h.9v.9h-.9zM5.1 8.1h.9v.9h-.9zM13.0 15.0h.9v.9h-.9zM13.7 13.8h.9v.9h-.9zM4.4 21.1h.9v.9h-.9zM17.0 9.4h.9v.9h-.9zM9.2 13.3h.9v.9h-.9zM2.8 14.9h.9v.9h-.9zM20.9 8.4h.9v.9h-.9zM11.5 5.8h.9v.9h-.9zM21.0 8.7h.9v.9h-.9zM8.3 16.5h.9v.9h-.9zM8.6 20.9h.9v.9h-.9zM9.5 13.6h.9v.9h-.9zM7.0 13.6h.9v.9h-.9zM10.9 2.4h.9v.9h-.9zM20.5 3.7h.9v.9h-.9zM13.3 15.6h.9v.9h-.9zM10.8 7.6h.9v.9h-.9zM10.5 23.1h.9v.9h-.9zM0.3 20.4h.9v.9h-.9zM14.0 11.1h.9v.9h-.9zM14.7 14.8h.9v.9h-.9zM19.2 22.6h.9v.9h-.9zM11.9 8.1h.9v.9h-.9zM8.4 21.0h.9v.9h-.9zM11.1 1.6h.9v.9h-.9zM13.6 2.7h.9v.9h-.9zM8.0 15.0h.9v.9h-.9zM14.1 12.4h.9v.9h-.9zM19.2 14.1h.9v.9h-.9zM22.4 18.7h.9v.9h-.9zM6.1 18.1h.9v.9h-.9zM8.3 21.8h.9v.9h-.9zM14.3 9.7h.9v.9h-.9zM4.0 19.6h.9v.9h-.9zM8.1 0.4h.9v.9h-.9zM18.6 0.2h.9v.9h-.9zM1.0 0.7h.9v.9h-.9zM14.9 13.0h.9v.9h-.9zM11.2 21.6h.9v.9h-.9zM10.9 4.8h.9v.9h-.9zM23.0 2.5h.9v.9h-.9zM1.1 5.1h.9v.9h-.9zM22.6 9.6h.9v.9h-.9zM8.2 8.5h.9v.9h-.9zM8.6 17.5h.9v.9h-.9zM14.7 6.5h.9v.9h-.9zM4.4 18.9h.9v.9h-.9zM13.0 11.6h.9v.9h-.9zM4.6 22.6h.9v.9h-.9zM12.2 21.2h.9v.9h-.9zM15.6 14.8h.9v.9h-.9zM0.6 21.1h.9v.9h-.9zM19.7 1.8h.9v.9h-.9zM1.9 15.6h.9v.9h-.9zM15.4 4.5h.9v.9h-.9zM22.9 2.3h.9v.9h-.9zM13.1 11.1h.9v.9h-.9zM7.6 15.5h.9v.9h-.9zM10.2 17.7h.9v.9h-.9zM17.8 0.2h.9v.9h-.9zM7.5 12.5h.9v.9h-.9zM6.8 13.9h.9v.9h-.9zM0.7 2.4h.9v.9h-.9zM11.8 5.0h.9v.9h-.9zM4.8 9.5h.9v.9h-.9zM13.7 15.1h.9v.9h-.9zM13.8 11.5h.9v.9h-.9zM10.0 20.1h.9v.9h-.9zM19.9 20.8h.9v.9h-.9zM21.8 15.5h.9v.9h-.9zM4.6 16.2h.9v.9h-.9zM6.5 6.9h.9v.9h-.9zM9.3 0.8h.9v.9h-.9zM10.1 4.5h.9v.9h-.9zM5.4 10.0h.9v.9h-.9zM17.5 15.1h.9v.9h-.9zM7.3 16.7h.9v.9h-.9zM9.4 8.3h.9v.9h-.9zM9.4 6.6h.9v.9h-.9zM3.5 22.4h.9v.9h-.9zM13.8 15.2h.9v.9h-.9zM14.1 11.6h.9v.9h-.9zM14.5 0.2h.9v.9h-.9zM1.5 12.3h.9v.9h-.9zM10.7 0.3h.9v.9h-.9zM4.9 7.0h.9v.9h-.9zM22.4 19.3h.9v.9h-.9zM0.9 9.0h.9v.9h-.9zM8.1 3.2h.9v.9h-.9zM6.7 22.9h.9v.9h-.9zM21.2 6.2h.9v.9h-.9zM18.0 3.0h.9v.9h-.9zM14.6 2.0h.9v.9h-.9zM14.8 13.8h.9v.9h-.9zM23.0 13.4h.9v.9h-.9zM21.1 5.6h.9v.9h-.9zM14.4 4.8h.9v.9h-.9zM1.6 22.7h.9v.9h-.9zM0.6 8.2h.9v.9h-.9zM7.3 4.7h.9v.9h-.9zM19.8 17.4h.9v.9h-.9zM8.8 13.0h.9v.9h-.9zM19.2 1.4h.9v.9h-.9zM15.1 19.7h.9v.9h-.9zM14.0 12.1h.9v.9h-.9zM5.7 3.9h.9v.9h-.9zM4.1 8.3h.9v.9h-.9zM6.6 18.0h.9v.9h-.9zM3.7 2.9h.9v.9h-.9zM18.4 10.5h.9v.9h-.9zM2.6 18.8h.9v.9h-.9zM0.9 8.6h.9v.9h-.9zM9.4 12.0h.9v.9h-.9zM5.5 21.4h.9v.9h-.9zM13.4 7.6h.9v.9h-.9zM14.7 8.8h.9v.9h-.9zM12.9 13.8h.9v.9h-.9zM5.7 20.1h.9v.9h-.9zM2.2 21.6h.9v.9h-.9zM9.8 11.7h.9v.9h-.9zM2.5 11.8h.9v.9h-.9zM7.7 14.1h.9v.9h-.9zM15.9 2.3h.9v.9h-.9zM1.7 20.7h.9v.9h-.9zM4.7 15.7h.9v.9h-.9zM16.9 18.1h.9v.9h-.9zM0.1 14.7h.9v.9h-.9zM19.5 0.8h.9v.9h-.9zM0.2 20.4h.9v.9h-.9zM16.0 16.3h.9v.9h-.9zM17.8 14.1h.9v.9h-.9zM4.6 3.7h.9v.9h-.9zM0.3 15.2h.9v.9h-.9zM15.3 22.9h.9v.9h-.9zM5.7 3.4h.9v.9h-.9zM8.7 21.7h.9v.9h-.9zM5.5 20.3h.9v.9h-.9zM14.7 17.7h.9v.9h-.9zM2.7 18.6h.9v.9h-.9zM9.2 17.1h.9v.9h-.9zM1.1 6.8h.9v.9h-.9zM13.1 6.3h.9v.9h-.9zM12.4 2.5h.9v.9h-.9zM5.9 14.6h.9v.9h-.9zM7.6 22.6h.9v.9h-.9zM8.4 7.0h.9v.9h-.9zM9.3 14.7h.9v.9h-.9zM7.3 22.6h.9v.9h-.9zM4.6 13.5h.9v.9h-.9zM20.1 6.2h.9v.9h-.9zM5.4 11.8h.9v.9h-.9zM19.6 19.6h.9v.9h-.9zM19.8 16.5h.9v.9h-.9zM1.8 21.2h.9v.9h-.9zM3.6 0.3h.9v.9h-.9zM11.7 0.4h.9v.9h-.9zM1.0 4.5h.9v.9h-.9zM22.7 6.4h.9v.9h-.9zM19.7 21.8h.9v.9h-.9zM5.1 2.4h.9v.9h-.9zM5.0 14.8h.9v.9h-.9zM16.0 7.5h.9v.9h-.9zM18.0 1.6h.9v.9h-.9zM0.6 8.4h.9v.9h-.9zM15.2 19.5h.9v.9h-.9zM21.9 21.0h.9v.9h-.9zM22.4 14.1h.9v.9h-.9zM10.0 1.2h.9v.9h-.9zM13.1 21.2h.9v.9h-.9zM18.2 10.8h.9v.9h-.9zM14.8 17.8h.9v.9h-.9zM23.0 16.6h.9v.9h-.9zM13.6 22.2h.9v.9h-.9zM22.4 0.0h.9v.9h-.9zM22.3 6.8h.9v.9h-.9zM0.0 6.9h.9v.9h-.9zM3.0 0.1h.9v.9h-.9zM18.6 8.6h.9v.9h-.9zM2.6 16.7h.9v.9h-.9zM4.6 8.0h.9v.9h-.9zM9.4 7.4h.9v.9h-.9zM17.0 4.4h.9v.9h-.9zM18.8 10.6h.9v.9h-.9zM9.9 7.6h.9v.9h-.9zM21.2 5.6h.9v.9h-.9zM9.6 6.0h.9v.9h-.9zM2.8 0.5h.9v.9h-.9zM15.7 18.8h.9v.9h-.9zM7.3 10.2h.9v.9h-.9zM18.9 1.2h.9v.9h-.9zM6.3 17.0h.9v.9h-.9zM5.7 5.8h.9v.9h-.9zM12.2 6.3h.9v.9h-.9zM3.6 1.2h.9v.9h-.9zM22.7 18.7h.9v.9h-.9zM5.6 2.7h.9v.9h-.9zM12.0 12.4h.9v.9h-.9zM21.6 8.9h.9v.9h-.9zM3.0 19.6h.9v.9h-.9zM3.4 5.6h.9v.9h-.9zM5.1 20.1h.9v.9h-.9zM22.3 8.8h.9v.9h-.9zM14.6 16.3h.9v.9h-.9zM10.5 18.7h.9v.9h-.9zM7.3 17.0h.9v.9h-.9zM3.8 3.3h.9v.9h-.9zM3.6 4.1h.9v.9h-.9zM22.2 5.7h.9v.9h-.9zM15.1 0.3h.9v.9h-.9zM20.1 17.2h.9v.9h-.9zM15.4 22.8h.9v.9h-.9zM0.7 17.6h.9v.9h-.9zM2.8 21.8h.9v.9h-.9zM0.2 7.2h.9v.9h-.9zM12.7 10.9h.9v.9h-.9zM18.5 1.6h.9v.9h-.9zM20.5 0.4h.9v.9h-.9zM22.0 18.2h.9v.9h-.9zM0.4 1.3h.9v.9h-.9zM2.7 2.1h.9v.9h-.9zM3.8 5.0h.9v.9h-.9zM12.1 11.4h.9v.9h-.9zM5.8 22.8h.9v.9h-.9zM13.7 11.8h.9v.9h-.9zM19.2 14.3h.9v.9h-.9zM20.2 19.2h.9v.9h-.9zM8.3 20.2h.9v.9h-.9zM14.4 0.5h.9v.9h-.9zM7.7 15.8h.9v.9h-.9zM16.1 16.2h.9v.9h-.9zM17.8 16.8h.9v.9h-.9zM20.9 5.9h.9v.9h-.9zM20.9 20.5h.9v.9h-.9zM18.7 5.3h.9v.9h-.9zM13.9 19.9h.9v.9h-.9zM19.6 4.9h.9v.9h-.9zM0.9 12.7h.9v.9h-.9zM1.9 12.1h.9v.9h-.9zM2.8 2.9h.9v.9h-.9zM20.3 14.3h.9v.9h-.9zM1.4 12.4h.9v.9h-.9zM6.8 10.4h.9v.9h-.9zM17.4 20.7h.9v.9h-.9zM0.6 0.3h.9v.9h-.9zM21.2 3.2h.9v.9h-.9zM19.2 14.6h.9v.9h-.9zM13.4 14.6h.9v.9h-.9zM9.4 19.5h.9v.9h-.9zM22.2 6.5h.9v.9h-.9zM5.6 9.8h.9v.9h-.9zM8.6 12.7h.9v.9h-.9zM21.7 7.5h.9v.9h-.9zM21.5 6.4h.9v.9h-.9zM8.6 17.3h.9v.9h-.9zM15.7 20.9h.9v.9h-.9zM14.2 6.9h.9v.9h-.9zM18.6 5.8h.9v.9h-.9zM0.5 7.6h.9v.9h-.9zM22.4 0.3h.9v.9h-.9zM19.8 16.1h.9v.9h-.9zM15.3 14.2h.9v.9h-.9zM4.6 11.1h.9v.9h-.9zM23.1 19.3h.9v.9h-.9zM9.8 10.3h.9v.9h-.9zM9.8 8.4h.9v.9h-.9zM8.6 4.8h.9v.9h-.9zM21.3 0.6h.9v.9h-.9zM3.4 14.1h.9v.9h-.9zM19.6 15.8h.9v.9h-.9zM3.2 11.4h.9v.9h-.9zM22.7 20.1h.9v.9h-.9zM5.4 22.7h.9v.9h-.9zM23.0 3.5h.9v.9h-.9zM19.7 4.6h.9v.9h-.9zM1.0 9.4h.9v.9h-.9zM22.6 16.7h.9v.9h-.9zM4.2 19.6h.9v.9h-.9zM7.0 18.2h.9v.9h-.9zM12.5 15.2h.9v.9h-.9zM11.5 14.8h.9v.9h-.9zM13.9 21.3h.9v.9h-.9zM11.4 19.6h.9v.9h-.9zM11.9 2.1h.9v.9h-.9zM14.2 20.2h.9v.9h-.9zM9.8 9.8h.9v.9h-.9zM14.5 6.0h.9v.9h-.9zM5.2 11.6h.9v.9h-.9zM2.4 10.7h.9v.9h-.9zM10.3 10.9h.9v.9h-.9zM10.4 12.9h.9v.9h-.9zM18.0 20.3h.9v.9h-.9zM10.0 15.6h.9v.9h-.9zM6.6 4.7h.9v.9h-.9zM11.1 6.6h.9v.9h-.9zM7.2 15.2h.9v.9h-.9zM12.7 3.9h.9v.9h-.9zM13.6 22.9h.9v.9h-.9zM5.7 16.7h.9v.9h-.9zM7.7 16.5h.9v.9h-.9zM21.3 22.6h.9v.9h-.9zM19.6 6.5h.9v.9h-.9zM19.6 2.8h.9v.9h-.9zM18.8 15.4h.9v.9h-.9z"/><path fill="#f2a66e" d="M22.5 9.0h.9v.9h-.9zM20.6 11.1h.9v.9h-.9zM2.0 21.4h.9v.9h-.9zM3.7 14.9h.9v.9h-.9zM15.9 15.5h.9v.9h-.9zM15.1 21.9h.9v.9h-.9zM15.8 1.2h.9v.9h-.9zM13.1 21.9h.9v.9h-.9zM18.6 10.2h.9v.9h-.9zM12.4 17.4h.9v.9h-.9zM18.2 1.0h.9v.9h-.9zM6.5 9.1h.9v.9h-.9zM0.3 15.0h.9v.9h-.9zM14.2 6.4h.9v.9h-.9zM13.7 22.5h.9v.9h-.9zM10.7 4.4h.9v.9h-.9zM10.5 15.6h.9v.9h-.9zM4.0 15.1h.9v.9h-.9zM14.3 0.2h.9v.9h-.9zM11.5 0.6h.9v.9h-.9zM13.0 5.4h.9v.9h-.9zM2.7 9.7h.9v.9h-.9zM14.9 1.0h.9v.9h-.9zM18.1 9.1h.9v.9h-.9zM13.0 12.8h.9v.9h-.9zM11.3 2.4h.9v.9h-.9zM1.3 6.5h.9v.9h-.9zM23.0 14.4h.9v.9h-.9zM2.0 13.8h.9v.9h-.9zM11.9 5.4h.9v.9h-.9zM15.9 21.2h.9v.9h-.9zM22.6 12.4h.9v.9h-.9zM20.3 20.9h.9v.9h-.9zM6.9 11.5h.9v.9h-.9zM4.5 17.9h.9v.9h-.9zM21.0 16.5h.9v.9h-.9zM7.9 17.8h.9v.9h-.9zM9.1 4.2h.9v.9h-.9zM9.9 5.8h.9v.9h-.9zM22.0 0.4h.9v.9h-.9zM19.3 9.8h.9v.9h-.9zM0.5 19.4h.9v.9h-.9zM8.5 3.1h.9v.9h-.9zM15.2 11.0h.9v.9h-.9zM10.4 7.8h.9v.9h-.9zM3.9 20.5h.9v.9h-.9zM2.4 1.7h.9v.9h-.9zM10.8 16.0h.9v.9h-.9zM8.2 21.8h.9v.9h-.9zM19.9 13.1h.9v.9h-.9zM20.4 21.8h.9v.9h-.9zM4.4 5.8h.9v.9h-.9zM21.8 7.8h.9v.9h-.9zM21.8 17.6h.9v.9h-.9zM15.1 15.3h.9v.9h-.9zM16.2 19.5h.9v.9h-.9zM14.4 2.7h.9v.9h-.9zM1.4 3.1h.9v.9h-.9zM17.6 3.6h.9v.9h-.9zM0.3 7.0h.9v.9h-.9zM6.1 19.0h.9v.9h-.9zM17.8 0.0h.9v.9h-.9zM8.7 14.2h.9v.9h-.9zM7.0 22.1h.9v.9h-.9zM19.2 1.6h.9v.9h-.9zM7.0 21.5h.9v.9h-.9zM22.7 3.3h.9v.9h-.9zM5.0 16.8h.9v.9h-.9zM9.5 4.8h.9v.9h-.9zM15.7 15.6h.9v.9h-.9zM0.6 10.5h.9v.9h-.9zM12.6 7.1h.9v.9h-.9zM5.9 20.7h.9v.9h-.9zM1.6 1.5h.9v.9h-.9z"/><path fill="#ffffff" d="M10.4 1.4h.9v.9h-.9zM3.6 9.0h.9v.9h-.9zM11.8 20.6h.9v.9h-.9zM5.2 4.8h.9v.9h-.9zM13.1 10.0h.9v.9h-.9zM2.3 2.0h.9v.9h-.9zM15.6 15.7h.9v.9h-.9zM4.9 4.2h.9v.9h-.9zM2.6 8.7h.9v.9h-.9zM20.5 16.8h.9v.9h-.9zM19.1 17.3h.9v.9h-.9zM10.4 0.3h.9v.9h-.9zM2.6 1.1h.9v.9h-.9zM21.6 9.5h.9v.9h-.9zM18.8 7.2h.9v.9h-.9zM3.3 14.3h.9v.9h-.9zM3.9 20.1h.9v.9h-.9zM11.7 8.6h.9v.9h-.9zM7.9 15.7h.9v.9h-.9zM7.4 6.8h.9v.9h-.9zM19.7 13.9h.9v.9h-.9zM2.2 18.1h.9v.9h-.9zM10.1 5.3h.9v.9h-.9zM5.6 18.1h.9v.9h-.9zM4.7 14.8h.9v.9h-.9zM4.0 9.0h.9v.9h-.9zM13.6 5.0h.9v.9h-.9zM0.7 9.8h.9v.9h-.9zM14.5 1.4h.9v.9h-.9z"/></pattern>
<pattern id="ppur" width="24" height="24" patternUnits="userSpaceOnUse"><path fill="#ffffff" d="M7.5 3.5h.9v.9h-.9zM15.0 1.7h.9v.9h-.9zM12.4 8.4h.9v.9h-.9zM1.3 11.7h.9v.9h-.9zM0.9 10.0h.9v.9h-.9zM1.6 2.1h.9v.9h-.9zM9.8 19.1h.9v.9h-.9zM2.9 5.2h.9v.9h-.9zM14.5 21.9h.9v.9h-.9zM13.3 9.2h.9v.9h-.9zM22.6 1.1h.9v.9h-.9zM19.8 6.7h.9v.9h-.9zM3.3 2.7h.9v.9h-.9zM7.1 18.9h.9v.9h-.9zM4.2 13.4h.9v.9h-.9zM14.8 8.6h.9v.9h-.9zM12.7 1.5h.9v.9h-.9zM1.4 4.8h.9v.9h-.9zM15.7 9.9h.9v.9h-.9zM7.3 13.5h.9v.9h-.9zM10.5 6.9h.9v.9h-.9zM18.4 16.1h.9v.9h-.9zM5.6 13.3h.9v.9h-.9zM12.1 20.2h.9v.9h-.9zM16.9 6.7h.9v.9h-.9zM22.6 2.7h.9v.9h-.9zM9.7 17.5h.9v.9h-.9zM3.5 11.3h.9v.9h-.9zM0.9 15.4h.9v.9h-.9zM17.7 13.2h.9v.9h-.9zM20.2 7.2h.9v.9h-.9zM16.1 13.7h.9v.9h-.9zM13.4 10.5h.9v.9h-.9zM19.4 21.8h.9v.9h-.9zM11.0 15.3h.9v.9h-.9zM1.4 16.2h.9v.9h-.9zM14.9 22.9h.9v.9h-.9zM19.0 6.6h.9v.9h-.9zM8.9 15.4h.9v.9h-.9zM0.5 10.7h.9v.9h-.9zM3.9 2.7h.9v.9h-.9zM1.4 17.7h.9v.9h-.9zM3.0 5.7h.9v.9h-.9zM9.0 20.1h.9v.9h-.9zM1.9 10.4h.9v.9h-.9zM12.7 20.4h.9v.9h-.9zM18.9 20.0h.9v.9h-.9zM6.4 9.6h.9v.9h-.9zM8.3 20.4h.9v.9h-.9zM22.1 3.5h.9v.9h-.9zM4.1 5.4h.9v.9h-.9zM5.4 11.2h.9v.9h-.9zM13.6 6.1h.9v.9h-.9zM0.1 9.7h.9v.9h-.9zM8.5 13.1h.9v.9h-.9zM22.0 16.0h.9v.9h-.9zM11.9 14.3h.9v.9h-.9zM15.6 1.2h.9v.9h-.9zM20.8 18.0h.9v.9h-.9zM20.2 18.4h.9v.9h-.9zM9.1 9.2h.9v.9h-.9zM2.4 14.7h.9v.9h-.9zM1.4 1.6h.9v.9h-.9zM4.8 3.7h.9v.9h-.9zM7.9 1.2h.9v.9h-.9zM0.0 3.5h.9v.9h-.9zM2.3 8.4h.9v.9h-.9zM0.6 20.2h.9v.9h-.9zM14.2 3.4h.9v.9h-.9zM5.8 8.0h.9v.9h-.9zM8.4 2.8h.9v.9h-.9zM19.6 22.9h.9v.9h-.9zM10.8 11.2h.9v.9h-.9zM2.0 2.4h.9v.9h-.9zM7.9 6.1h.9v.9h-.9zM19.1 3.7h.9v.9h-.9zM0.5 22.0h.9v.9h-.9zM12.2 3.4h.9v.9h-.9zM12.5 0.6h.9v.9h-.9zM12.2 22.6h.9v.9h-.9zM19.9 16.1h.9v.9h-.9zM6.0 8.5h.9v.9h-.9zM3.9 17.8h.9v.9h-.9zM12.3 18.0h.9v.9h-.9zM7.6 5.2h.9v.9h-.9zM18.7 22.8h.9v.9h-.9zM19.7 18.6h.9v.9h-.9zM18.9 17.1h.9v.9h-.9zM5.2 12.0h.9v.9h-.9zM8.2 0.7h.9v.9h-.9zM0.6 6.5h.9v.9h-.9zM6.0 16.0h.9v.9h-.9zM22.1 10.3h.9v.9h-.9zM21.6 22.8h.9v.9h-.9zM22.1 8.4h.9v.9h-.9zM5.1 5.2h.9v.9h-.9zM4.5 4.7h.9v.9h-.9zM14.4 20.8h.9v.9h-.9zM19.4 11.1h.9v.9h-.9zM15.1 18.5h.9v.9h-.9zM2.0 15.3h.9v.9h-.9zM21.0 18.1h.9v.9h-.9zM17.3 11.0h.9v.9h-.9zM4.1 18.2h.9v.9h-.9zM7.7 18.5h.9v.9h-.9zM22.4 9.1h.9v.9h-.9zM9.3 21.9h.9v.9h-.9zM16.7 3.9h.9v.9h-.9zM2.9 3.5h.9v.9h-.9zM20.9 18.6h.9v.9h-.9zM3.4 19.1h.9v.9h-.9zM22.6 15.2h.9v.9h-.9zM8.1 12.7h.9v.9h-.9zM3.0 0.3h.9v.9h-.9zM22.4 15.0h.9v.9h-.9zM12.2 21.6h.9v.9h-.9zM10.0 20.1h.9v.9h-.9zM19.1 4.9h.9v.9h-.9zM5.8 6.8h.9v.9h-.9zM5.6 13.5h.9v.9h-.9zM6.0 9.7h.9v.9h-.9zM3.0 21.0h.9v.9h-.9zM8.2 10.6h.9v.9h-.9zM13.5 20.9h.9v.9h-.9zM9.7 21.2h.9v.9h-.9zM11.6 12.3h.9v.9h-.9zM12.1 0.4h.9v.9h-.9zM10.2 4.2h.9v.9h-.9zM0.1 18.5h.9v.9h-.9zM4.0 10.9h.9v.9h-.9zM16.8 12.9h.9v.9h-.9zM7.5 12.0h.9v.9h-.9zM12.8 18.1h.9v.9h-.9zM2.5 12.9h.9v.9h-.9zM5.7 6.4h.9v.9h-.9zM17.8 11.7h.9v.9h-.9zM13.0 17.6h.9v.9h-.9zM21.1 10.2h.9v.9h-.9zM14.1 11.7h.9v.9h-.9zM11.8 16.0h.9v.9h-.9zM10.4 12.3h.9v.9h-.9zM11.0 21.7h.9v.9h-.9zM16.2 20.2h.9v.9h-.9zM21.8 6.0h.9v.9h-.9zM12.9 21.8h.9v.9h-.9zM19.4 3.2h.9v.9h-.9zM2.8 10.2h.9v.9h-.9zM1.7 5.6h.9v.9h-.9zM1.7 15.5h.9v.9h-.9zM18.1 20.7h.9v.9h-.9zM3.6 16.5h.9v.9h-.9zM15.3 3.3h.9v.9h-.9zM20.4 22.4h.9v.9h-.9zM5.1 22.0h.9v.9h-.9zM9.2 11.3h.9v.9h-.9zM22.9 19.2h.9v.9h-.9zM3.7 10.0h.9v.9h-.9zM11.9 7.8h.9v.9h-.9z"/><path fill="#d4d4d4" d="M4.5 7.4h.9v.9h-.9zM16.7 0.5h.9v.9h-.9zM12.8 10.2h.9v.9h-.9zM0.4 7.7h.9v.9h-.9zM14.4 11.8h.9v.9h-.9zM1.5 22.8h.9v.9h-.9zM18.2 22.4h.9v.9h-.9zM2.4 6.1h.9v.9h-.9zM0.9 18.0h.9v.9h-.9zM6.2 3.0h.9v.9h-.9zM9.8 21.1h.9v.9h-.9zM18.9 6.0h.9v.9h-.9zM3.5 21.2h.9v.9h-.9zM13.2 16.2h.9v.9h-.9zM2.1 1.3h.9v.9h-.9zM15.9 9.8h.9v.9h-.9zM1.7 21.7h.9v.9h-.9zM14.7 18.5h.9v.9h-.9zM1.9 19.8h.9v.9h-.9zM1.5 19.9h.9v.9h-.9zM10.5 7.8h.9v.9h-.9zM12.8 21.4h.9v.9h-.9zM6.2 3.0h.9v.9h-.9zM12.2 5.5h.9v.9h-.9zM2.5 3.7h.9v.9h-.9zM1.2 4.7h.9v.9h-.9zM7.2 7.0h.9v.9h-.9zM17.5 6.7h.9v.9h-.9zM11.6 4.1h.9v.9h-.9zM8.0 0.4h.9v.9h-.9zM5.8 0.4h.9v.9h-.9zM16.9 12.7h.9v.9h-.9zM4.4 11.0h.9v.9h-.9zM21.6 2.5h.9v.9h-.9zM18.9 10.0h.9v.9h-.9zM11.4 19.3h.9v.9h-.9zM9.1 11.7h.9v.9h-.9zM15.9 22.7h.9v.9h-.9zM7.9 19.2h.9v.9h-.9zM16.3 14.7h.9v.9h-.9zM9.3 8.0h.9v.9h-.9zM1.3 3.0h.9v.9h-.9zM1.6 17.1h.9v.9h-.9zM5.9 3.8h.9v.9h-.9z"/><path fill="#21918c" d="M2.0 19.4h.9v.9h-.9zM20.1 15.5h.9v.9h-.9zM6.5 5.6h.9v.9h-.9zM6.8 10.6h.9v.9h-.9zM3.6 10.3h.9v.9h-.9zM6.1 22.2h.9v.9h-.9zM22.5 12.6h.9v.9h-.9zM5.6 22.3h.9v.9h-.9zM7.2 8.2h.9v.9h-.9zM0.0 8.8h.9v.9h-.9zM11.0 11.6h.9v.9h-.9zM4.6 11.7h.9v.9h-.9zM0.1 6.1h.9v.9h-.9zM2.1 9.2h.9v.9h-.9z"/><path fill="#3b528b" d="M1.0 0.5h.9v.9h-.9zM7.0 5.4h.9v.9h-.9zM13.5 12.2h.9v.9h-.9zM17.3 15.2h.9v.9h-.9zM16.5 20.3h.9v.9h-.9zM9.0 7.5h.9v.9h-.9zM22.7 3.5h.9v.9h-.9zM16.7 14.9h.9v.9h-.9zM1.0 19.3h.9v.9h-.9zM20.6 14.5h.9v.9h-.9zM17.0 18.8h.9v.9h-.9zM3.2 12.1h.9v.9h-.9zM11.7 19.3h.9v.9h-.9zM18.6 19.1h.9v.9h-.9zM13.5 20.6h.9v.9h-.9zM15.8 16.0h.9v.9h-.9zM5.3 0.7h.9v.9h-.9zM3.1 8.3h.9v.9h-.9zM2.4 19.3h.9v.9h-.9zM12.9 14.5h.9v.9h-.9zM14.5 15.7h.9v.9h-.9zM11.3 0.1h.9v.9h-.9zM18.4 17.3h.9v.9h-.9zM11.6 12.4h.9v.9h-.9zM15.2 1.5h.9v.9h-.9zM17.0 5.8h.9v.9h-.9zM1.7 6.1h.9v.9h-.9zM16.8 4.7h.9v.9h-.9zM17.1 22.5h.9v.9h-.9zM11.4 8.8h.9v.9h-.9zM11.1 15.8h.9v.9h-.9zM17.7 14.3h.9v.9h-.9zM14.8 1.8h.9v.9h-.9zM3.4 5.9h.9v.9h-.9zM17.2 7.0h.9v.9h-.9zM13.1 0.3h.9v.9h-.9z"/></pattern>
<pattern id="ppur2" width="24" height="24" patternUnits="userSpaceOnUse"><path fill="#440154" d="M5.2 22.2h.9v.9h-.9zM2.9 16.3h.9v.9h-.9zM2.0 5.7h.9v.9h-.9zM23.1 4.8h.9v.9h-.9zM14.8 10.6h.9v.9h-.9zM10.5 11.4h.9v.9h-.9zM4.4 19.2h.9v.9h-.9zM2.1 5.4h.9v.9h-.9zM0.5 6.2h.9v.9h-.9zM9.4 20.8h.9v.9h-.9zM8.8 2.6h.9v.9h-.9zM6.0 22.9h.9v.9h-.9zM1.5 14.3h.9v.9h-.9zM8.7 15.3h.9v.9h-.9zM7.8 16.0h.9v.9h-.9zM11.5 15.0h.9v.9h-.9zM20.8 13.4h.9v.9h-.9zM3.3 1.5h.9v.9h-.9zM21.9 11.3h.9v.9h-.9zM4.5 21.9h.9v.9h-.9zM13.4 16.8h.9v.9h-.9zM20.4 6.6h.9v.9h-.9zM8.2 20.3h.9v.9h-.9zM3.1 17.7h.9v.9h-.9zM2.3 15.9h.9v.9h-.9zM16.2 21.9h.9v.9h-.9zM19.5 11.6h.9v.9h-.9zM4.6 3.5h.9v.9h-.9zM12.2 11.8h.9v.9h-.9zM1.6 20.9h.9v.9h-.9zM11.7 16.2h.9v.9h-.9zM5.1 5.6h.9v.9h-.9zM0.3 7.9h.9v.9h-.9zM6.2 9.8h.9v.9h-.9zM8.7 19.3h.9v.9h-.9zM20.6 4.0h.9v.9h-.9zM9.2 3.8h.9v.9h-.9zM15.3 22.5h.9v.9h-.9zM4.7 17.7h.9v.9h-.9zM6.9 0.3h.9v.9h-.9zM17.7 7.9h.9v.9h-.9zM3.9 10.1h.9v.9h-.9zM5.4 9.5h.9v.9h-.9zM10.3 9.7h.9v.9h-.9zM13.6 6.7h.9v.9h-.9zM2.2 2.0h.9v.9h-.9zM2.5 12.0h.9v.9h-.9zM8.3 18.7h.9v.9h-.9zM11.7 16.4h.9v.9h-.9zM22.6 1.5h.9v.9h-.9zM0.4 3.2h.9v.9h-.9zM8.9 13.3h.9v.9h-.9zM17.2 8.1h.9v.9h-.9zM22.3 0.1h.9v.9h-.9zM19.3 4.9h.9v.9h-.9zM20.2 0.8h.9v.9h-.9zM22.3 17.5h.9v.9h-.9zM22.9 13.4h.9v.9h-.9zM4.1 22.4h.9v.9h-.9zM10.2 1.9h.9v.9h-.9zM14.0 11.5h.9v.9h-.9zM10.9 3.6h.9v.9h-.9zM2.8 13.4h.9v.9h-.9zM10.5 2.9h.9v.9h-.9zM10.2 16.8h.9v.9h-.9zM16.5 10.9h.9v.9h-.9zM9.1 8.3h.9v.9h-.9zM5.2 4.6h.9v.9h-.9zM10.3 2.5h.9v.9h-.9zM16.8 16.4h.9v.9h-.9zM14.1 0.5h.9v.9h-.9zM8.4 10.0h.9v.9h-.9zM2.2 22.4h.9v.9h-.9zM17.5 11.6h.9v.9h-.9zM16.3 4.6h.9v.9h-.9zM5.3 12.1h.9v.9h-.9zM17.2 15.0h.9v.9h-.9zM0.2 14.2h.9v.9h-.9zM21.0 17.2h.9v.9h-.9zM21.4 22.7h.9v.9h-.9zM5.2 6.8h.9v.9h-.9zM12.6 22.6h.9v.9h-.9zM8.5 21.7h.9v.9h-.9zM19.6 11.9h.9v.9h-.9zM14.4 22.1h.9v.9h-.9zM18.1 6.8h.9v.9h-.9zM19.5 4.5h.9v.9h-.9zM8.5 22.1h.9v.9h-.9zM19.6 7.2h.9v.9h-.9zM6.7 14.2h.9v.9h-.9zM19.5 15.8h.9v.9h-.9zM21.6 16.8h.9v.9h-.9zM19.0 14.0h.9v.9h-.9zM8.4 9.9h.9v.9h-.9zM11.3 12.2h.9v.9h-.9zM19.4 6.2h.9v.9h-.9zM1.6 16.9h.9v.9h-.9zM6.3 9.7h.9v.9h-.9zM2.7 19.2h.9v.9h-.9zM6.3 6.7h.9v.9h-.9zM18.6 11.6h.9v.9h-.9zM6.4 20.5h.9v.9h-.9zM9.5 8.3h.9v.9h-.9zM22.3 18.3h.9v.9h-.9zM17.3 5.8h.9v.9h-.9zM18.8 13.8h.9v.9h-.9zM19.2 8.5h.9v.9h-.9zM18.0 18.3h.9v.9h-.9zM9.0 15.1h.9v.9h-.9zM18.0 22.9h.9v.9h-.9zM21.3 18.2h.9v.9h-.9zM3.2 14.1h.9v.9h-.9zM15.8 2.0h.9v.9h-.9zM10.7 20.1h.9v.9h-.9zM20.9 21.4h.9v.9h-.9zM2.1 14.0h.9v.9h-.9zM20.0 15.1h.9v.9h-.9zM7.4 0.9h.9v.9h-.9zM21.2 19.8h.9v.9h-.9zM15.1 8.5h.9v.9h-.9zM19.1 18.8h.9v.9h-.9zM16.7 13.9h.9v.9h-.9zM7.4 6.9h.9v.9h-.9zM8.3 7.5h.9v.9h-.9zM12.0 2.6h.9v.9h-.9zM16.7 8.0h.9v.9h-.9zM3.7 5.9h.9v.9h-.9zM9.0 10.0h.9v.9h-.9zM18.1 2.3h.9v.9h-.9zM5.1 6.8h.9v.9h-.9zM4.1 17.3h.9v.9h-.9zM2.5 1.2h.9v.9h-.9zM12.8 17.0h.9v.9h-.9zM19.1 12.9h.9v.9h-.9zM7.5 20.4h.9v.9h-.9zM17.0 11.1h.9v.9h-.9zM13.0 21.6h.9v.9h-.9zM23.0 21.5h.9v.9h-.9zM3.1 7.6h.9v.9h-.9zM9.4 3.9h.9v.9h-.9zM17.6 1.4h.9v.9h-.9zM20.5 13.5h.9v.9h-.9zM14.2 9.6h.9v.9h-.9zM21.6 13.4h.9v.9h-.9zM20.7 21.3h.9v.9h-.9zM16.0 22.7h.9v.9h-.9zM11.3 8.5h.9v.9h-.9zM19.5 12.2h.9v.9h-.9zM7.1 15.7h.9v.9h-.9zM11.0 3.0h.9v.9h-.9zM19.4 11.5h.9v.9h-.9zM22.4 12.3h.9v.9h-.9zM21.6 6.7h.9v.9h-.9zM5.0 12.2h.9v.9h-.9zM17.7 19.1h.9v.9h-.9zM15.0 2.9h.9v.9h-.9zM9.1 0.8h.9v.9h-.9zM8.6 21.8h.9v.9h-.9zM8.0 16.1h.9v.9h-.9zM14.4 3.3h.9v.9h-.9zM15.9 1.8h.9v.9h-.9zM4.3 13.4h.9v.9h-.9zM2.9 22.3h.9v.9h-.9zM9.8 14.6h.9v.9h-.9zM22.3 2.5h.9v.9h-.9zM23.1 0.9h.9v.9h-.9zM13.9 15.2h.9v.9h-.9zM22.8 8.3h.9v.9h-.9zM21.9 15.0h.9v.9h-.9zM11.0 3.9h.9v.9h-.9zM5.4 8.4h.9v.9h-.9zM8.0 8.6h.9v.9h-.9zM18.7 8.7h.9v.9h-.9zM14.5 0.9h.9v.9h-.9zM3.3 16.4h.9v.9h-.9zM20.6 7.2h.9v.9h-.9zM0.7 5.4h.9v.9h-.9zM8.3 8.5h.9v.9h-.9zM13.0 7.0h.9v.9h-.9zM14.9 18.2h.9v.9h-.9zM18.1 17.1h.9v.9h-.9zM13.5 6.0h.9v.9h-.9zM19.4 6.7h.9v.9h-.9zM19.9 10.3h.9v.9h-.9zM14.5 11.5h.9v.9h-.9zM15.1 7.9h.9v.9h-.9zM13.4 17.0h.9v.9h-.9zM8.3 13.9h.9v.9h-.9zM10.5 10.9h.9v.9h-.9zM8.9 12.6h.9v.9h-.9zM16.4 4.0h.9v.9h-.9zM3.4 19.0h.9v.9h-.9zM2.0 18.3h.9v.9h-.9zM17.5 5.0h.9v.9h-.9zM14.7 5.9h.9v.9h-.9zM20.4 4.6h.9v.9h-.9zM2.7 0.8h.9v.9h-.9zM16.6 4.9h.9v.9h-.9zM7.3 22.6h.9v.9h-.9zM17.0 17.0h.9v.9h-.9zM13.3 14.8h.9v.9h-.9zM0.3 18.8h.9v.9h-.9zM7.6 19.7h.9v.9h-.9zM9.6 21.1h.9v.9h-.9zM0.0 22.6h.9v.9h-.9zM2.2 11.8h.9v.9h-.9zM11.1 22.8h.9v.9h-.9zM16.6 22.7h.9v.9h-.9zM20.9 9.8h.9v.9h-.9zM3.4 3.4h.9v.9h-.9zM16.4 22.0h.9v.9h-.9zM15.4 8.0h.9v.9h-.9zM13.8 15.2h.9v.9h-.9zM5.8 16.0h.9v.9h-.9zM4.6 0.6h.9v.9h-.9zM1.5 11.3h.9v.9h-.9zM16.1 5.2h.9v.9h-.9zM9.2 16.0h.9v.9h-.9zM6.1 12.1h.9v.9h-.9zM13.9 9.4h.9v.9h-.9zM4.8 16.0h.9v.9h-.9zM16.2 4.4h.9v.9h-.9zM18.6 15.1h.9v.9h-.9zM20.0 18.0h.9v.9h-.9zM11.4 16.5h.9v.9h-.9zM7.3 15.1h.9v.9h-.9zM1.9 8.0h.9v.9h-.9zM11.7 20.5h.9v.9h-.9zM15.8 21.0h.9v.9h-.9zM20.1 22.4h.9v.9h-.9zM14.3 14.2h.9v.9h-.9zM10.8 5.1h.9v.9h-.9zM18.4 14.1h.9v.9h-.9zM3.7 5.5h.9v.9h-.9zM5.1 16.7h.9v.9h-.9zM13.8 4.6h.9v.9h-.9zM15.9 13.0h.9v.9h-.9zM6.2 10.3h.9v.9h-.9zM22.9 3.3h.9v.9h-.9zM5.5 13.7h.9v.9h-.9zM19.4 21.3h.9v.9h-.9zM9.2 17.8h.9v.9h-.9zM2.7 8.9h.9v.9h-.9zM19.8 15.4h.9v.9h-.9zM10.3 13.8h.9v.9h-.9zM11.3 12.7h.9v.9h-.9zM20.4 22.5h.9v.9h-.9zM4.6 17.4h.9v.9h-.9zM21.8 14.0h.9v.9h-.9zM11.6 8.6h.9v.9h-.9zM11.2 13.4h.9v.9h-.9zM14.1 2.6h.9v.9h-.9zM23.1 6.4h.9v.9h-.9zM12.6 4.6h.9v.9h-.9zM14.6 1.7h.9v.9h-.9zM7.7 8.9h.9v.9h-.9zM7.2 11.3h.9v.9h-.9zM3.7 11.3h.9v.9h-.9zM18.4 14.5h.9v.9h-.9zM22.4 21.9h.9v.9h-.9zM11.0 10.8h.9v.9h-.9zM17.6 20.3h.9v.9h-.9zM12.5 15.4h.9v.9h-.9zM16.0 11.9h.9v.9h-.9zM11.7 9.3h.9v.9h-.9zM10.4 11.0h.9v.9h-.9zM18.5 3.7h.9v.9h-.9zM2.7 21.3h.9v.9h-.9zM11.8 16.1h.9v.9h-.9zM21.2 17.0h.9v.9h-.9zM13.1 22.0h.9v.9h-.9zM14.4 10.3h.9v.9h-.9zM4.2 3.7h.9v.9h-.9zM18.3 20.7h.9v.9h-.9zM8.2 12.2h.9v.9h-.9zM15.7 14.0h.9v.9h-.9zM6.4 21.1h.9v.9h-.9zM12.7 16.5h.9v.9h-.9zM15.9 10.1h.9v.9h-.9zM16.2 4.4h.9v.9h-.9zM12.7 15.0h.9v.9h-.9zM14.5 6.8h.9v.9h-.9zM4.2 2.3h.9v.9h-.9zM2.9 4.3h.9v.9h-.9zM11.2 13.1h.9v.9h-.9zM16.3 10.1h.9v.9h-.9zM17.7 0.7h.9v.9h-.9zM8.0 2.8h.9v.9h-.9zM11.9 13.2h.9v.9h-.9zM13.5 10.2h.9v.9h-.9zM8.5 7.6h.9v.9h-.9zM2.5 4.5h.9v.9h-.9zM11.2 13.1h.9v.9h-.9zM2.3 19.5h.9v.9h-.9zM0.6 2.9h.9v.9h-.9zM10.3 7.7h.9v.9h-.9zM12.0 15.9h.9v.9h-.9zM13.7 18.1h.9v.9h-.9zM10.9 15.6h.9v.9h-.9zM9.7 2.9h.9v.9h-.9zM1.7 4.2h.9v.9h-.9zM10.3 6.4h.9v.9h-.9zM13.0 15.4h.9v.9h-.9zM21.2 3.5h.9v.9h-.9zM22.1 0.0h.9v.9h-.9zM20.5 22.7h.9v.9h-.9zM8.4 18.4h.9v.9h-.9zM11.7 13.0h.9v.9h-.9zM19.8 21.8h.9v.9h-.9zM6.9 5.1h.9v.9h-.9zM21.2 13.7h.9v.9h-.9zM20.8 5.1h.9v.9h-.9zM19.6 3.7h.9v.9h-.9zM3.4 6.7h.9v.9h-.9zM21.4 8.9h.9v.9h-.9zM10.2 6.7h.9v.9h-.9zM1.7 10.2h.9v.9h-.9zM11.5 7.7h.9v.9h-.9zM16.9 7.2h.9v.9h-.9zM22.6 21.0h.9v.9h-.9zM13.4 2.3h.9v.9h-.9zM12.9 14.3h.9v.9h-.9zM15.0 9.8h.9v.9h-.9zM16.7 23.0h.9v.9h-.9zM16.2 0.9h.9v.9h-.9zM14.5 14.4h.9v.9h-.9zM12.6 21.7h.9v.9h-.9zM1.2 0.4h.9v.9h-.9zM16.7 2.3h.9v.9h-.9zM3.2 18.9h.9v.9h-.9zM8.4 20.4h.9v.9h-.9zM18.5 15.3h.9v.9h-.9zM8.3 1.9h.9v.9h-.9zM22.5 20.1h.9v.9h-.9zM21.2 11.8h.9v.9h-.9zM6.5 14.5h.9v.9h-.9zM9.7 4.4h.9v.9h-.9zM2.6 9.4h.9v.9h-.9zM3.4 6.2h.9v.9h-.9zM22.6 21.6h.9v.9h-.9zM20.5 11.8h.9v.9h-.9zM17.6 3.8h.9v.9h-.9zM14.3 22.5h.9v.9h-.9zM18.3 22.8h.9v.9h-.9zM14.5 7.0h.9v.9h-.9zM0.5 6.2h.9v.9h-.9zM19.1 12.2h.9v.9h-.9zM14.4 18.5h.9v.9h-.9zM6.8 3.3h.9v.9h-.9zM20.5 13.9h.9v.9h-.9zM0.6 16.1h.9v.9h-.9zM16.7 17.6h.9v.9h-.9zM3.0 6.3h.9v.9h-.9zM16.7 15.5h.9v.9h-.9zM8.0 22.4h.9v.9h-.9zM7.0 20.6h.9v.9h-.9zM3.1 10.6h.9v.9h-.9zM22.9 16.0h.9v.9h-.9zM17.5 20.4h.9v.9h-.9zM14.5 12.6h.9v.9h-.9zM19.1 12.3h.9v.9h-.9zM22.1 17.6h.9v.9h-.9zM0.0 6.6h.9v.9h-.9zM20.4 2.7h.9v.9h-.9zM0.3 13.4h.9v.9h-.9zM16.0 22.7h.9v.9h-.9zM22.2 14.5h.9v.9h-.9zM16.2 12.3h.9v.9h-.9zM19.6 16.0h.9v.9h-.9zM3.0 14.5h.9v.9h-.9zM1.2 7.7h.9v.9h-.9zM7.7 21.3h.9v.9h-.9zM5.1 8.7h.9v.9h-.9zM13.0 4.7h.9v.9h-.9zM10.5 6.9h.9v.9h-.9zM16.7 18.3h.9v.9h-.9zM13.5 20.0h.9v.9h-.9zM11.3 17.3h.9v.9h-.9zM2.2 8.9h.9v.9h-.9zM7.5 20.5h.9v.9h-.9zM11.5 8.7h.9v.9h-.9zM15.4 22.0h.9v.9h-.9zM19.2 18.6h.9v.9h-.9zM15.4 18.6h.9v.9h-.9zM13.0 9.0h.9v.9h-.9zM7.3 6.1h.9v.9h-.9zM7.8 11.6h.9v.9h-.9zM19.9 5.5h.9v.9h-.9zM9.0 6.0h.9v.9h-.9zM11.1 1.4h.9v.9h-.9zM14.4 19.8h.9v.9h-.9zM21.1 8.3h.9v.9h-.9zM3.9 16.9h.9v.9h-.9zM17.5 4.4h.9v.9h-.9zM1.4 15.5h.9v.9h-.9zM8.8 12.1h.9v.9h-.9zM13.0 20.4h.9v.9h-.9zM2.9 6.0h.9v.9h-.9zM0.8 15.9h.9v.9h-.9zM1.8 19.7h.9v.9h-.9zM14.1 11.8h.9v.9h-.9zM6.2 20.1h.9v.9h-.9zM2.6 13.4h.9v.9h-.9zM19.2 15.2h.9v.9h-.9zM1.1 2.6h.9v.9h-.9zM6.6 16.9h.9v.9h-.9zM3.2 22.1h.9v.9h-.9zM20.5 13.2h.9v.9h-.9zM20.3 14.7h.9v.9h-.9zM3.7 9.3h.9v.9h-.9zM0.6 10.1h.9v.9h-.9zM22.9 9.3h.9v.9h-.9zM15.3 8.3h.9v.9h-.9zM15.6 7.7h.9v.9h-.9zM21.1 9.5h.9v.9h-.9zM6.2 9.9h.9v.9h-.9zM1.7 7.6h.9v.9h-.9zM17.1 9.3h.9v.9h-.9zM10.3 5.4h.9v.9h-.9zM19.0 20.4h.9v.9h-.9zM9.4 0.0h.9v.9h-.9zM9.9 20.2h.9v.9h-.9zM15.0 5.3h.9v.9h-.9zM2.4 20.5h.9v.9h-.9zM1.8 14.2h.9v.9h-.9zM13.8 4.2h.9v.9h-.9zM10.2 19.9h.9v.9h-.9zM23.0 1.7h.9v.9h-.9zM0.7 6.0h.9v.9h-.9zM1.2 21.4h.9v.9h-.9zM1.9 8.5h.9v.9h-.9zM19.8 10.7h.9v.9h-.9zM5.4 1.4h.9v.9h-.9zM5.2 7.2h.9v.9h-.9zM19.6 10.0h.9v.9h-.9zM12.8 6.1h.9v.9h-.9zM9.4 21.4h.9v.9h-.9zM2.6 16.2h.9v.9h-.9zM7.2 9.7h.9v.9h-.9zM16.6 8.1h.9v.9h-.9zM11.3 11.3h.9v.9h-.9zM11.2 1.7h.9v.9h-.9zM9.1 8.8h.9v.9h-.9zM9.7 6.6h.9v.9h-.9zM10.4 17.1h.9v.9h-.9zM1.7 1.7h.9v.9h-.9zM12.4 13.3h.9v.9h-.9zM18.5 0.8h.9v.9h-.9zM0.2 14.0h.9v.9h-.9zM5.0 11.4h.9v.9h-.9zM6.8 2.0h.9v.9h-.9zM13.0 7.3h.9v.9h-.9zM11.2 20.1h.9v.9h-.9zM10.4 19.5h.9v.9h-.9zM6.8 4.2h.9v.9h-.9zM9.3 6.9h.9v.9h-.9zM16.8 2.8h.9v.9h-.9zM16.7 5.1h.9v.9h-.9zM9.4 5.0h.9v.9h-.9zM3.3 3.2h.9v.9h-.9zM22.8 2.3h.9v.9h-.9zM21.4 10.6h.9v.9h-.9zM20.4 4.1h.9v.9h-.9zM13.5 15.8h.9v.9h-.9zM7.1 14.2h.9v.9h-.9zM20.9 9.6h.9v.9h-.9zM0.7 14.1h.9v.9h-.9zM18.0 10.5h.9v.9h-.9zM19.4 8.2h.9v.9h-.9zM10.4 10.0h.9v.9h-.9zM2.2 1.7h.9v.9h-.9zM14.7 20.5h.9v.9h-.9zM4.2 20.9h.9v.9h-.9zM7.5 9.7h.9v.9h-.9zM1.0 0.2h.9v.9h-.9zM13.3 20.4h.9v.9h-.9zM14.7 3.0h.9v.9h-.9zM15.3 3.0h.9v.9h-.9zM10.9 17.3h.9v.9h-.9zM8.9 7.3h.9v.9h-.9zM7.4 6.7h.9v.9h-.9zM0.4 16.8h.9v.9h-.9zM9.0 4.3h.9v.9h-.9zM7.2 0.9h.9v.9h-.9zM10.9 13.5h.9v.9h-.9zM14.3 10.3h.9v.9h-.9zM22.8 3.5h.9v.9h-.9zM4.5 13.0h.9v.9h-.9zM9.5 7.0h.9v.9h-.9zM16.8 11.9h.9v.9h-.9zM13.1 16.0h.9v.9h-.9zM9.7 11.8h.9v.9h-.9zM22.8 3.7h.9v.9h-.9zM10.7 14.1h.9v.9h-.9zM17.6 2.1h.9v.9h-.9zM2.7 6.2h.9v.9h-.9zM15.4 4.8h.9v.9h-.9zM0.8 9.7h.9v.9h-.9zM3.6 15.9h.9v.9h-.9zM21.9 17.4h.9v.9h-.9zM13.1 9.4h.9v.9h-.9zM0.6 10.0h.9v.9h-.9zM12.0 6.9h.9v.9h-.9zM9.4 21.8h.9v.9h-.9zM8.6 6.1h.9v.9h-.9zM10.2 21.6h.9v.9h-.9zM1.0 10.8h.9v.9h-.9zM22.9 12.2h.9v.9h-.9zM7.3 7.7h.9v.9h-.9zM16.0 3.0h.9v.9h-.9zM22.0 16.0h.9v.9h-.9zM21.0 3.7h.9v.9h-.9zM0.4 7.4h.9v.9h-.9zM10.8 12.2h.9v.9h-.9zM14.4 0.8h.9v.9h-.9zM21.6 3.5h.9v.9h-.9zM4.3 2.9h.9v.9h-.9zM8.8 3.7h.9v.9h-.9zM16.5 8.1h.9v.9h-.9zM2.9 8.5h.9v.9h-.9zM19.0 12.7h.9v.9h-.9z"/><path fill="#3b528b" d="M1.6 13.6h.9v.9h-.9zM11.4 12.0h.9v.9h-.9zM17.3 3.3h.9v.9h-.9zM16.1 17.8h.9v.9h-.9zM21.2 8.9h.9v.9h-.9zM5.1 16.4h.9v.9h-.9zM23.0 22.4h.9v.9h-.9zM13.7 7.4h.9v.9h-.9zM21.3 3.5h.9v.9h-.9zM14.9 19.8h.9v.9h-.9zM13.0 17.1h.9v.9h-.9zM9.9 16.3h.9v.9h-.9zM5.0 15.7h.9v.9h-.9zM3.2 4.0h.9v.9h-.9zM2.8 7.5h.9v.9h-.9zM0.1 16.2h.9v.9h-.9zM21.1 19.4h.9v.9h-.9zM1.0 11.4h.9v.9h-.9zM3.1 13.2h.9v.9h-.9zM0.3 22.0h.9v.9h-.9zM10.5 4.0h.9v.9h-.9zM9.6 7.2h.9v.9h-.9zM11.2 9.5h.9v.9h-.9zM22.4 7.3h.9v.9h-.9zM1.5 12.8h.9v.9h-.9zM11.0 8.2h.9v.9h-.9zM22.2 19.5h.9v.9h-.9zM9.5 3.2h.9v.9h-.9zM20.4 18.6h.9v.9h-.9zM21.4 9.3h.9v.9h-.9zM5.4 12.1h.9v.9h-.9zM12.2 17.0h.9v.9h-.9zM3.2 22.3h.9v.9h-.9zM12.4 6.7h.9v.9h-.9zM13.9 1.5h.9v.9h-.9zM19.1 12.4h.9v.9h-.9z"/><path fill="#ffffff" d="M4.7 1.2h.9v.9h-.9zM12.3 18.4h.9v.9h-.9zM5.5 22.1h.9v.9h-.9zM14.1 11.8h.9v.9h-.9zM22.4 8.2h.9v.9h-.9zM16.2 8.7h.9v.9h-.9zM8.1 12.2h.9v.9h-.9zM22.0 2.2h.9v.9h-.9zM9.2 1.2h.9v.9h-.9zM9.5 1.5h.9v.9h-.9zM18.5 15.7h.9v.9h-.9zM22.2 17.0h.9v.9h-.9zM8.0 14.3h.9v.9h-.9zM3.7 10.0h.9v.9h-.9zM2.4 22.3h.9v.9h-.9zM15.4 5.9h.9v.9h-.9zM12.4 9.0h.9v.9h-.9zM20.5 15.6h.9v.9h-.9zM16.3 14.4h.9v.9h-.9zM3.5 13.2h.9v.9h-.9zM19.6 8.6h.9v.9h-.9zM0.1 7.1h.9v.9h-.9zM0.4 13.1h.9v.9h-.9zM11.0 2.5h.9v.9h-.9zM20.0 5.8h.9v.9h-.9zM10.2 3.4h.9v.9h-.9zM12.1 13.2h.9v.9h-.9zM16.3 0.3h.9v.9h-.9zM3.6 3.5h.9v.9h-.9zM7.1 18.7h.9v.9h-.9zM19.7 17.1h.9v.9h-.9zM12.9 0.6h.9v.9h-.9zM6.6 11.8h.9v.9h-.9zM17.0 8.8h.9v.9h-.9zM10.4 7.3h.9v.9h-.9zM12.2 10.0h.9v.9h-.9z"/></pattern>
<pattern id="pmixE" width="24" height="24" patternUnits="userSpaceOnUse"><path fill="#21918c" d="M10.7 8.6h.9v.9h-.9zM3.2 20.0h.9v.9h-.9zM0.1 11.6h.9v.9h-.9zM20.8 1.9h.9v.9h-.9zM12.8 14.2h.9v.9h-.9zM0.9 8.8h.9v.9h-.9zM16.3 10.4h.9v.9h-.9zM16.7 3.6h.9v.9h-.9zM5.5 2.6h.9v.9h-.9zM11.7 21.3h.9v.9h-.9zM13.6 17.9h.9v.9h-.9zM8.9 17.2h.9v.9h-.9zM2.3 6.7h.9v.9h-.9zM15.6 16.8h.9v.9h-.9zM9.7 2.0h.9v.9h-.9zM6.2 4.8h.9v.9h-.9zM6.5 18.7h.9v.9h-.9zM4.6 20.5h.9v.9h-.9zM20.3 1.3h.9v.9h-.9zM8.8 11.4h.9v.9h-.9zM0.5 9.8h.9v.9h-.9zM20.9 2.6h.9v.9h-.9zM13.8 2.8h.9v.9h-.9zM13.4 20.7h.9v.9h-.9zM4.7 0.2h.9v.9h-.9zM1.9 12.5h.9v.9h-.9zM0.4 2.0h.9v.9h-.9zM11.5 21.3h.9v.9h-.9zM9.7 9.2h.9v.9h-.9zM14.8 2.2h.9v.9h-.9zM13.4 4.0h.9v.9h-.9zM14.1 22.1h.9v.9h-.9zM1.3 12.8h.9v.9h-.9zM14.0 3.4h.9v.9h-.9zM6.2 23.0h.9v.9h-.9zM23.1 2.8h.9v.9h-.9zM16.3 22.0h.9v.9h-.9zM5.5 14.1h.9v.9h-.9zM1.0 8.5h.9v.9h-.9zM15.6 13.6h.9v.9h-.9zM17.9 2.0h.9v.9h-.9zM8.0 20.0h.9v.9h-.9zM13.5 10.4h.9v.9h-.9zM9.3 22.8h.9v.9h-.9zM13.3 0.4h.9v.9h-.9zM18.5 7.6h.9v.9h-.9zM10.0 4.9h.9v.9h-.9zM10.3 7.5h.9v.9h-.9zM2.1 14.5h.9v.9h-.9zM2.4 18.1h.9v.9h-.9zM0.6 18.0h.9v.9h-.9zM18.7 11.5h.9v.9h-.9zM16.4 5.7h.9v.9h-.9zM17.0 9.8h.9v.9h-.9zM5.3 22.3h.9v.9h-.9zM9.3 8.6h.9v.9h-.9zM19.9 8.5h.9v.9h-.9zM15.4 4.0h.9v.9h-.9zM19.5 6.0h.9v.9h-.9zM1.2 22.5h.9v.9h-.9zM4.0 21.9h.9v.9h-.9zM22.8 14.0h.9v.9h-.9zM0.3 1.4h.9v.9h-.9zM4.8 9.0h.9v.9h-.9zM14.1 22.3h.9v.9h-.9zM8.2 3.2h.9v.9h-.9zM13.0 3.2h.9v.9h-.9zM2.0 12.8h.9v.9h-.9zM16.1 1.5h.9v.9h-.9zM10.4 16.3h.9v.9h-.9zM17.7 8.8h.9v.9h-.9zM20.5 3.9h.9v.9h-.9zM16.5 17.8h.9v.9h-.9zM20.3 11.4h.9v.9h-.9zM2.3 1.1h.9v.9h-.9zM12.2 4.0h.9v.9h-.9zM14.5 1.9h.9v.9h-.9zM18.0 5.1h.9v.9h-.9zM0.3 4.1h.9v.9h-.9zM10.5 12.9h.9v.9h-.9zM9.0 4.0h.9v.9h-.9zM11.1 21.9h.9v.9h-.9zM12.4 21.7h.9v.9h-.9zM0.7 22.9h.9v.9h-.9zM20.5 12.6h.9v.9h-.9zM12.1 12.4h.9v.9h-.9zM21.0 1.5h.9v.9h-.9zM14.8 12.5h.9v.9h-.9zM6.9 16.7h.9v.9h-.9zM16.6 2.4h.9v.9h-.9zM16.2 10.5h.9v.9h-.9zM11.3 14.7h.9v.9h-.9zM1.2 13.9h.9v.9h-.9zM8.6 20.3h.9v.9h-.9zM5.3 19.0h.9v.9h-.9zM16.9 14.4h.9v.9h-.9zM20.2 0.8h.9v.9h-.9zM13.8 14.2h.9v.9h-.9zM15.7 9.4h.9v.9h-.9zM1.6 4.4h.9v.9h-.9zM14.0 4.2h.9v.9h-.9zM1.5 8.2h.9v.9h-.9zM10.9 12.4h.9v.9h-.9zM0.6 17.9h.9v.9h-.9zM7.7 18.1h.9v.9h-.9zM0.2 22.0h.9v.9h-.9zM13.6 22.6h.9v.9h-.9zM22.8 19.2h.9v.9h-.9zM2.5 8.1h.9v.9h-.9zM5.3 18.0h.9v.9h-.9zM4.4 5.1h.9v.9h-.9zM2.6 2.8h.9v.9h-.9zM21.7 22.6h.9v.9h-.9zM8.6 17.1h.9v.9h-.9zM10.8 12.1h.9v.9h-.9zM8.5 14.7h.9v.9h-.9zM5.5 5.9h.9v.9h-.9zM12.0 4.6h.9v.9h-.9zM10.1 21.8h.9v.9h-.9zM0.5 2.4h.9v.9h-.9zM18.5 1.3h.9v.9h-.9zM5.8 19.7h.9v.9h-.9zM14.0 5.1h.9v.9h-.9zM1.4 6.4h.9v.9h-.9zM6.9 18.5h.9v.9h-.9zM22.5 18.2h.9v.9h-.9zM20.8 21.5h.9v.9h-.9zM20.2 21.3h.9v.9h-.9zM22.4 2.2h.9v.9h-.9zM7.3 5.7h.9v.9h-.9zM14.0 11.4h.9v.9h-.9zM8.0 19.3h.9v.9h-.9zM9.2 4.8h.9v.9h-.9zM6.4 10.7h.9v.9h-.9zM14.1 13.1h.9v.9h-.9zM10.2 4.3h.9v.9h-.9zM9.3 7.5h.9v.9h-.9zM3.9 12.6h.9v.9h-.9zM4.4 16.4h.9v.9h-.9zM15.2 3.2h.9v.9h-.9zM14.4 7.8h.9v.9h-.9zM10.3 14.0h.9v.9h-.9zM17.6 20.4h.9v.9h-.9zM16.9 4.9h.9v.9h-.9zM12.5 7.7h.9v.9h-.9zM0.4 12.8h.9v.9h-.9zM10.9 20.0h.9v.9h-.9zM7.5 19.3h.9v.9h-.9zM11.9 2.3h.9v.9h-.9zM16.6 6.6h.9v.9h-.9zM12.3 1.6h.9v.9h-.9zM0.2 21.3h.9v.9h-.9zM1.0 3.4h.9v.9h-.9zM3.8 2.2h.9v.9h-.9zM19.0 23.0h.9v.9h-.9zM15.0 9.1h.9v.9h-.9zM20.5 11.7h.9v.9h-.9zM3.1 15.9h.9v.9h-.9z"/><path fill="#fde725" d="M8.3 6.2h.9v.9h-.9zM7.4 8.9h.9v.9h-.9zM4.2 14.1h.9v.9h-.9zM20.1 13.2h.9v.9h-.9zM0.2 15.8h.9v.9h-.9zM0.5 11.1h.9v.9h-.9zM20.0 15.6h.9v.9h-.9zM21.0 17.4h.9v.9h-.9zM6.3 3.3h.9v.9h-.9zM10.4 15.7h.9v.9h-.9zM5.4 7.6h.9v.9h-.9zM17.3 8.0h.9v.9h-.9zM13.9 12.6h.9v.9h-.9zM21.5 0.6h.9v.9h-.9zM4.3 18.0h.9v.9h-.9zM15.5 2.2h.9v.9h-.9zM3.1 4.9h.9v.9h-.9zM12.5 20.8h.9v.9h-.9zM5.0 4.7h.9v.9h-.9zM15.8 9.8h.9v.9h-.9zM19.6 23.1h.9v.9h-.9zM21.6 16.5h.9v.9h-.9zM11.5 1.4h.9v.9h-.9zM18.7 9.2h.9v.9h-.9zM10.7 14.6h.9v.9h-.9zM22.3 12.8h.9v.9h-.9zM21.2 22.3h.9v.9h-.9zM2.0 8.2h.9v.9h-.9zM20.5 17.7h.9v.9h-.9zM22.4 4.3h.9v.9h-.9zM12.3 21.5h.9v.9h-.9zM12.5 15.5h.9v.9h-.9zM22.5 4.0h.9v.9h-.9zM1.3 19.7h.9v.9h-.9zM13.4 4.6h.9v.9h-.9zM19.2 6.5h.9v.9h-.9zM3.0 6.9h.9v.9h-.9zM0.8 9.4h.9v.9h-.9zM18.0 10.5h.9v.9h-.9zM22.3 1.0h.9v.9h-.9zM4.0 3.3h.9v.9h-.9zM13.3 4.6h.9v.9h-.9zM15.4 12.1h.9v.9h-.9zM13.4 19.5h.9v.9h-.9zM18.2 21.3h.9v.9h-.9zM3.5 8.8h.9v.9h-.9zM22.2 9.2h.9v.9h-.9zM6.6 11.1h.9v.9h-.9zM4.2 19.6h.9v.9h-.9zM14.7 2.2h.9v.9h-.9zM22.3 12.0h.9v.9h-.9zM5.9 14.2h.9v.9h-.9zM21.9 8.0h.9v.9h-.9zM0.3 4.6h.9v.9h-.9zM1.4 12.2h.9v.9h-.9zM7.2 19.7h.9v.9h-.9zM4.8 0.3h.9v.9h-.9zM10.7 2.8h.9v.9h-.9zM7.2 5.2h.9v.9h-.9zM4.1 14.7h.9v.9h-.9zM21.6 8.5h.9v.9h-.9zM14.8 7.5h.9v.9h-.9zM21.1 12.8h.9v.9h-.9zM0.7 17.1h.9v.9h-.9zM4.8 1.1h.9v.9h-.9zM0.4 19.4h.9v.9h-.9zM16.4 8.3h.9v.9h-.9zM12.9 16.3h.9v.9h-.9zM1.7 16.3h.9v.9h-.9zM16.4 21.8h.9v.9h-.9zM1.4 13.2h.9v.9h-.9zM11.7 19.5h.9v.9h-.9zM8.4 15.3h.9v.9h-.9zM20.7 8.1h.9v.9h-.9zM11.9 20.6h.9v.9h-.9zM0.8 22.5h.9v.9h-.9zM7.2 10.6h.9v.9h-.9zM6.6 18.4h.9v.9h-.9zM12.3 17.3h.9v.9h-.9zM2.4 20.3h.9v.9h-.9zM19.0 15.7h.9v.9h-.9zM5.1 6.0h.9v.9h-.9zM10.4 1.5h.9v.9h-.9zM22.0 9.4h.9v.9h-.9zM22.0 4.2h.9v.9h-.9zM15.0 18.5h.9v.9h-.9zM14.9 9.8h.9v.9h-.9zM0.4 10.1h.9v.9h-.9zM9.0 21.8h.9v.9h-.9zM22.5 22.1h.9v.9h-.9zM22.6 3.9h.9v.9h-.9zM0.7 6.7h.9v.9h-.9zM0.2 2.7h.9v.9h-.9zM13.3 4.6h.9v.9h-.9zM14.1 8.8h.9v.9h-.9zM6.3 22.4h.9v.9h-.9zM4.3 20.4h.9v.9h-.9zM12.2 15.3h.9v.9h-.9zM3.3 17.2h.9v.9h-.9zM20.5 4.6h.9v.9h-.9zM10.9 15.1h.9v.9h-.9zM11.0 17.4h.9v.9h-.9zM14.9 7.3h.9v.9h-.9zM15.7 17.9h.9v.9h-.9zM10.7 13.6h.9v.9h-.9zM14.7 11.0h.9v.9h-.9zM2.1 9.4h.9v.9h-.9z"/><path fill="#5ec962" d="M18.0 16.7h.9v.9h-.9zM1.7 11.0h.9v.9h-.9zM13.6 12.3h.9v.9h-.9zM3.5 14.9h.9v.9h-.9zM16.1 12.4h.9v.9h-.9zM21.7 13.3h.9v.9h-.9zM0.3 6.6h.9v.9h-.9zM16.2 1.8h.9v.9h-.9zM22.3 16.1h.9v.9h-.9zM17.7 3.9h.9v.9h-.9zM0.2 20.2h.9v.9h-.9zM11.8 10.2h.9v.9h-.9zM12.0 17.7h.9v.9h-.9zM8.6 17.9h.9v.9h-.9zM3.7 22.6h.9v.9h-.9zM16.1 7.4h.9v.9h-.9zM11.0 20.4h.9v.9h-.9zM7.5 16.1h.9v.9h-.9zM21.0 22.2h.9v.9h-.9zM5.9 18.4h.9v.9h-.9zM14.1 18.7h.9v.9h-.9zM1.6 9.5h.9v.9h-.9zM10.4 18.8h.9v.9h-.9zM10.4 1.0h.9v.9h-.9zM4.8 19.2h.9v.9h-.9zM20.4 13.3h.9v.9h-.9zM1.8 17.9h.9v.9h-.9zM20.0 6.6h.9v.9h-.9zM11.1 6.7h.9v.9h-.9zM1.2 17.0h.9v.9h-.9zM3.7 2.0h.9v.9h-.9zM21.0 2.2h.9v.9h-.9zM17.5 18.8h.9v.9h-.9zM5.8 8.6h.9v.9h-.9zM5.1 16.4h.9v.9h-.9zM22.5 17.2h.9v.9h-.9zM11.4 12.4h.9v.9h-.9zM9.4 16.5h.9v.9h-.9zM6.2 5.7h.9v.9h-.9zM16.1 5.9h.9v.9h-.9zM22.8 16.8h.9v.9h-.9zM4.2 0.5h.9v.9h-.9zM13.8 3.1h.9v.9h-.9zM11.5 13.9h.9v.9h-.9zM18.7 9.0h.9v.9h-.9zM12.6 18.8h.9v.9h-.9zM3.1 7.8h.9v.9h-.9zM18.7 8.3h.9v.9h-.9zM21.5 1.9h.9v.9h-.9zM2.0 8.4h.9v.9h-.9zM10.7 8.5h.9v.9h-.9zM5.1 10.3h.9v.9h-.9zM20.7 21.7h.9v.9h-.9zM14.5 5.9h.9v.9h-.9zM13.5 3.6h.9v.9h-.9zM1.5 18.4h.9v.9h-.9zM6.2 3.7h.9v.9h-.9zM18.9 2.8h.9v.9h-.9zM5.5 3.5h.9v.9h-.9zM20.6 15.7h.9v.9h-.9zM4.2 1.7h.9v.9h-.9zM20.9 3.0h.9v.9h-.9zM16.5 15.9h.9v.9h-.9zM13.6 11.1h.9v.9h-.9zM9.6 6.5h.9v.9h-.9zM14.9 3.5h.9v.9h-.9zM11.0 6.0h.9v.9h-.9zM8.5 20.6h.9v.9h-.9zM13.1 14.9h.9v.9h-.9zM15.0 0.0h.9v.9h-.9zM18.1 20.2h.9v.9h-.9zM17.2 12.1h.9v.9h-.9zM19.5 21.8h.9v.9h-.9zM6.4 3.8h.9v.9h-.9z"/><path fill="#ffffff" d="M7.8 0.4h.9v.9h-.9zM5.4 1.9h.9v.9h-.9zM0.2 9.2h.9v.9h-.9zM0.1 11.1h.9v.9h-.9zM19.6 16.5h.9v.9h-.9zM1.2 16.8h.9v.9h-.9zM4.4 18.6h.9v.9h-.9zM14.9 12.6h.9v.9h-.9zM10.1 22.6h.9v.9h-.9zM4.9 20.8h.9v.9h-.9zM4.7 2.2h.9v.9h-.9zM5.0 0.9h.9v.9h-.9zM19.2 4.3h.9v.9h-.9zM13.2 6.3h.9v.9h-.9zM8.3 18.2h.9v.9h-.9zM12.7 6.2h.9v.9h-.9zM17.2 3.3h.9v.9h-.9zM0.9 16.1h.9v.9h-.9zM19.7 17.7h.9v.9h-.9zM16.1 21.5h.9v.9h-.9zM21.4 13.1h.9v.9h-.9zM4.1 13.4h.9v.9h-.9zM9.9 16.4h.9v.9h-.9zM8.1 1.7h.9v.9h-.9zM4.5 3.3h.9v.9h-.9zM16.9 15.9h.9v.9h-.9zM12.3 7.3h.9v.9h-.9zM16.8 10.3h.9v.9h-.9zM11.4 4.5h.9v.9h-.9zM23.0 10.2h.9v.9h-.9zM10.9 4.8h.9v.9h-.9zM10.3 10.9h.9v.9h-.9zM9.8 17.2h.9v.9h-.9zM7.7 14.4h.9v.9h-.9zM15.5 3.1h.9v.9h-.9zM19.0 1.6h.9v.9h-.9zM6.0 19.2h.9v.9h-.9zM2.8 6.4h.9v.9h-.9zM9.5 21.8h.9v.9h-.9zM22.4 5.0h.9v.9h-.9zM14.8 19.2h.9v.9h-.9zM11.9 7.3h.9v.9h-.9zM3.5 1.6h.9v.9h-.9zM1.0 1.1h.9v.9h-.9zM16.7 13.7h.9v.9h-.9zM1.6 21.6h.9v.9h-.9zM22.8 9.6h.9v.9h-.9zM8.4 20.2h.9v.9h-.9zM15.4 17.2h.9v.9h-.9zM4.2 16.8h.9v.9h-.9zM10.2 1.3h.9v.9h-.9zM1.1 6.1h.9v.9h-.9zM5.4 6.2h.9v.9h-.9zM21.1 9.2h.9v.9h-.9zM4.8 2.4h.9v.9h-.9zM1.3 9.4h.9v.9h-.9zM9.7 1.8h.9v.9h-.9zM11.9 8.0h.9v.9h-.9zM0.4 10.9h.9v.9h-.9zM3.6 4.2h.9v.9h-.9zM17.4 9.9h.9v.9h-.9zM8.2 12.8h.9v.9h-.9zM17.0 14.5h.9v.9h-.9zM21.9 16.5h.9v.9h-.9zM7.9 22.0h.9v.9h-.9zM0.4 4.3h.9v.9h-.9zM2.8 8.8h.9v.9h-.9zM8.2 9.0h.9v.9h-.9zM14.6 8.0h.9v.9h-.9zM11.2 15.6h.9v.9h-.9zM21.4 22.1h.9v.9h-.9zM8.5 8.9h.9v.9h-.9zM22.9 19.4h.9v.9h-.9zM20.3 2.6h.9v.9h-.9zM6.7 9.8h.9v.9h-.9zM7.1 10.7h.9v.9h-.9zM21.8 9.0h.9v.9h-.9zM11.7 7.5h.9v.9h-.9zM13.6 12.6h.9v.9h-.9zM4.2 1.4h.9v.9h-.9zM17.4 19.2h.9v.9h-.9zM7.8 4.6h.9v.9h-.9zM2.3 14.4h.9v.9h-.9zM13.4 21.6h.9v.9h-.9zM15.7 13.2h.9v.9h-.9zM13.7 21.0h.9v.9h-.9zM21.3 3.9h.9v.9h-.9zM2.8 3.0h.9v.9h-.9zM0.3 19.7h.9v.9h-.9zM22.2 11.6h.9v.9h-.9zM17.6 15.3h.9v.9h-.9zM15.2 9.1h.9v.9h-.9zM22.1 7.1h.9v.9h-.9zM2.3 1.2h.9v.9h-.9zM18.2 18.0h.9v.9h-.9zM19.7 18.5h.9v.9h-.9zM5.2 8.4h.9v.9h-.9zM6.5 20.0h.9v.9h-.9zM0.0 7.0h.9v.9h-.9zM15.1 14.7h.9v.9h-.9zM0.1 2.6h.9v.9h-.9zM3.9 5.1h.9v.9h-.9zM11.8 0.7h.9v.9h-.9zM19.1 10.8h.9v.9h-.9zM15.1 8.4h.9v.9h-.9zM19.6 2.4h.9v.9h-.9zM20.0 5.7h.9v.9h-.9zM11.9 13.0h.9v.9h-.9zM15.5 12.5h.9v.9h-.9zM16.6 1.2h.9v.9h-.9zM12.3 11.6h.9v.9h-.9zM14.3 2.5h.9v.9h-.9zM16.3 1.9h.9v.9h-.9zM1.1 1.2h.9v.9h-.9zM22.6 3.7h.9v.9h-.9zM15.8 1.3h.9v.9h-.9zM14.0 5.0h.9v.9h-.9zM13.8 17.1h.9v.9h-.9zM15.6 12.5h.9v.9h-.9zM16.6 0.0h.9v.9h-.9zM1.3 5.5h.9v.9h-.9zM10.4 17.6h.9v.9h-.9zM0.6 4.8h.9v.9h-.9zM12.1 7.5h.9v.9h-.9zM1.9 6.5h.9v.9h-.9zM0.6 0.3h.9v.9h-.9zM19.4 7.3h.9v.9h-.9zM16.5 5.7h.9v.9h-.9zM17.1 20.4h.9v.9h-.9zM0.4 13.9h.9v.9h-.9zM21.0 17.8h.9v.9h-.9zM2.8 16.9h.9v.9h-.9zM17.4 3.7h.9v.9h-.9zM15.2 14.4h.9v.9h-.9zM4.6 18.9h.9v.9h-.9zM19.8 1.7h.9v.9h-.9zM10.9 13.6h.9v.9h-.9zM0.2 12.0h.9v.9h-.9zM21.7 7.7h.9v.9h-.9zM11.4 21.7h.9v.9h-.9zM20.2 22.0h.9v.9h-.9zM2.1 23.1h.9v.9h-.9zM7.7 8.3h.9v.9h-.9zM4.3 18.6h.9v.9h-.9zM13.6 10.6h.9v.9h-.9zM11.4 11.9h.9v.9h-.9zM13.5 3.5h.9v.9h-.9zM16.6 6.1h.9v.9h-.9zM0.5 22.1h.9v.9h-.9zM2.3 18.5h.9v.9h-.9zM17.7 9.9h.9v.9h-.9zM14.1 5.6h.9v.9h-.9zM5.0 20.4h.9v.9h-.9zM17.3 17.7h.9v.9h-.9zM10.6 0.8h.9v.9h-.9zM17.9 22.2h.9v.9h-.9zM7.3 14.4h.9v.9h-.9zM3.4 22.2h.9v.9h-.9z"/><path fill="#3b528b" d="M16.4 1.5h.9v.9h-.9zM16.2 15.6h.9v.9h-.9zM10.1 13.5h.9v.9h-.9zM21.5 15.8h.9v.9h-.9zM10.9 22.4h.9v.9h-.9zM14.7 17.9h.9v.9h-.9zM12.8 17.5h.9v.9h-.9zM17.9 11.5h.9v.9h-.9zM10.7 4.6h.9v.9h-.9zM15.1 16.8h.9v.9h-.9zM9.5 1.5h.9v.9h-.9zM16.3 15.0h.9v.9h-.9zM15.0 3.5h.9v.9h-.9zM20.5 16.8h.9v.9h-.9zM18.5 3.4h.9v.9h-.9zM6.3 12.3h.9v.9h-.9zM0.1 22.5h.9v.9h-.9zM4.0 3.5h.9v.9h-.9zM18.4 5.4h.9v.9h-.9zM13.3 15.0h.9v.9h-.9zM4.7 1.2h.9v.9h-.9zM16.2 20.2h.9v.9h-.9zM18.7 2.4h.9v.9h-.9zM7.7 10.5h.9v.9h-.9zM0.8 20.4h.9v.9h-.9zM19.1 22.4h.9v.9h-.9zM21.1 19.3h.9v.9h-.9zM6.9 15.1h.9v.9h-.9zM20.2 0.2h.9v.9h-.9zM1.7 22.8h.9v.9h-.9zM2.1 21.0h.9v.9h-.9zM8.8 5.6h.9v.9h-.9zM8.7 20.4h.9v.9h-.9zM15.0 2.9h.9v.9h-.9zM19.0 8.0h.9v.9h-.9zM19.1 11.6h.9v.9h-.9zM19.9 12.7h.9v.9h-.9zM8.2 22.9h.9v.9h-.9zM22.7 12.6h.9v.9h-.9zM12.1 13.9h.9v.9h-.9zM15.6 6.3h.9v.9h-.9zM21.5 9.7h.9v.9h-.9zM23.0 13.2h.9v.9h-.9zM21.2 21.3h.9v.9h-.9z"/></pattern>
<pattern id="pmixT" width="24" height="24" patternUnits="userSpaceOnUse"><path fill="#21918c" d="M13.2 9.9h.9v.9h-.9zM13.4 4.8h.9v.9h-.9zM18.8 19.0h.9v.9h-.9zM15.1 3.7h.9v.9h-.9zM12.0 7.6h.9v.9h-.9zM5.8 22.0h.9v.9h-.9zM23.0 1.0h.9v.9h-.9zM19.9 13.9h.9v.9h-.9zM8.8 6.6h.9v.9h-.9zM15.6 10.6h.9v.9h-.9zM15.8 15.3h.9v.9h-.9zM3.1 17.7h.9v.9h-.9zM22.7 22.4h.9v.9h-.9zM14.2 1.0h.9v.9h-.9zM0.1 3.1h.9v.9h-.9zM21.7 7.0h.9v.9h-.9zM8.5 20.7h.9v.9h-.9zM7.3 12.7h.9v.9h-.9zM10.1 1.5h.9v.9h-.9zM13.5 19.5h.9v.9h-.9zM3.6 5.2h.9v.9h-.9zM9.5 0.9h.9v.9h-.9zM11.5 18.9h.9v.9h-.9zM15.2 12.3h.9v.9h-.9zM19.8 3.5h.9v.9h-.9zM13.1 8.6h.9v.9h-.9zM13.9 2.6h.9v.9h-.9zM17.9 2.2h.9v.9h-.9zM3.8 18.7h.9v.9h-.9zM21.9 10.0h.9v.9h-.9zM9.6 5.7h.9v.9h-.9zM6.3 14.3h.9v.9h-.9zM4.1 2.8h.9v.9h-.9zM10.5 3.8h.9v.9h-.9zM15.0 19.0h.9v.9h-.9zM18.0 11.1h.9v.9h-.9zM8.0 10.0h.9v.9h-.9zM0.1 16.5h.9v.9h-.9zM7.7 7.4h.9v.9h-.9zM1.8 10.4h.9v.9h-.9zM13.5 9.0h.9v.9h-.9zM20.1 15.6h.9v.9h-.9zM5.6 12.1h.9v.9h-.9zM21.0 12.0h.9v.9h-.9zM13.9 1.5h.9v.9h-.9zM11.3 10.7h.9v.9h-.9zM9.3 9.7h.9v.9h-.9zM13.5 12.4h.9v.9h-.9zM11.3 3.8h.9v.9h-.9zM10.2 22.4h.9v.9h-.9zM9.6 0.8h.9v.9h-.9zM0.1 12.4h.9v.9h-.9zM1.2 2.1h.9v.9h-.9zM2.5 10.5h.9v.9h-.9zM22.9 11.2h.9v.9h-.9zM10.6 10.1h.9v.9h-.9zM11.6 10.3h.9v.9h-.9zM16.8 20.7h.9v.9h-.9zM16.1 9.8h.9v.9h-.9zM15.0 21.0h.9v.9h-.9zM3.5 5.5h.9v.9h-.9zM14.3 15.9h.9v.9h-.9zM14.8 13.6h.9v.9h-.9zM19.2 11.1h.9v.9h-.9zM18.7 22.2h.9v.9h-.9zM10.1 19.8h.9v.9h-.9zM16.6 20.5h.9v.9h-.9zM1.1 21.1h.9v.9h-.9zM17.7 22.2h.9v.9h-.9zM22.7 6.6h.9v.9h-.9zM15.5 3.3h.9v.9h-.9zM13.7 21.2h.9v.9h-.9zM4.4 8.1h.9v.9h-.9zM1.8 4.5h.9v.9h-.9zM4.8 2.2h.9v.9h-.9zM23.1 20.5h.9v.9h-.9zM10.7 17.2h.9v.9h-.9zM16.1 12.1h.9v.9h-.9zM9.8 15.3h.9v.9h-.9zM12.8 6.1h.9v.9h-.9zM8.4 14.5h.9v.9h-.9zM14.5 4.8h.9v.9h-.9zM14.1 20.2h.9v.9h-.9zM20.1 15.1h.9v.9h-.9zM1.6 9.8h.9v.9h-.9zM2.1 1.3h.9v.9h-.9zM5.9 10.6h.9v.9h-.9zM17.5 14.5h.9v.9h-.9zM6.5 16.1h.9v.9h-.9zM11.7 11.7h.9v.9h-.9zM6.1 10.2h.9v.9h-.9zM7.9 16.8h.9v.9h-.9zM11.1 10.3h.9v.9h-.9zM11.0 11.1h.9v.9h-.9zM15.9 16.6h.9v.9h-.9zM18.5 9.4h.9v.9h-.9zM18.3 22.3h.9v.9h-.9zM22.9 16.6h.9v.9h-.9zM1.5 19.6h.9v.9h-.9zM19.3 0.4h.9v.9h-.9zM7.6 7.4h.9v.9h-.9zM17.1 14.1h.9v.9h-.9zM6.5 4.3h.9v.9h-.9zM3.9 2.2h.9v.9h-.9zM18.3 21.6h.9v.9h-.9zM5.1 17.2h.9v.9h-.9zM22.0 4.4h.9v.9h-.9zM13.2 10.1h.9v.9h-.9zM22.5 20.1h.9v.9h-.9zM0.4 4.7h.9v.9h-.9zM19.6 13.3h.9v.9h-.9zM12.1 18.7h.9v.9h-.9zM17.6 22.1h.9v.9h-.9zM7.5 1.1h.9v.9h-.9zM16.0 1.2h.9v.9h-.9zM13.1 19.9h.9v.9h-.9zM9.2 13.9h.9v.9h-.9zM4.0 3.6h.9v.9h-.9zM14.0 20.0h.9v.9h-.9zM23.1 0.7h.9v.9h-.9zM21.3 11.8h.9v.9h-.9zM8.1 9.2h.9v.9h-.9zM13.3 8.0h.9v.9h-.9z"/><path fill="#5ec962" d="M3.4 20.0h.9v.9h-.9zM16.3 14.1h.9v.9h-.9zM16.7 22.8h.9v.9h-.9zM4.0 19.0h.9v.9h-.9zM19.0 7.9h.9v.9h-.9zM12.9 10.6h.9v.9h-.9zM4.5 10.0h.9v.9h-.9zM3.5 21.5h.9v.9h-.9zM4.3 14.6h.9v.9h-.9zM13.2 22.5h.9v.9h-.9zM18.3 8.3h.9v.9h-.9zM8.7 1.2h.9v.9h-.9zM1.2 7.2h.9v.9h-.9zM21.9 1.1h.9v.9h-.9zM4.1 14.7h.9v.9h-.9zM8.3 4.3h.9v.9h-.9zM21.9 1.0h.9v.9h-.9zM13.8 9.9h.9v.9h-.9zM8.0 4.5h.9v.9h-.9zM3.8 9.4h.9v.9h-.9zM17.4 10.8h.9v.9h-.9zM18.0 20.3h.9v.9h-.9zM4.0 20.3h.9v.9h-.9zM13.4 9.7h.9v.9h-.9zM11.9 20.6h.9v.9h-.9zM9.1 2.2h.9v.9h-.9zM22.2 2.7h.9v.9h-.9zM2.5 16.7h.9v.9h-.9zM7.2 6.7h.9v.9h-.9zM15.0 20.6h.9v.9h-.9zM8.0 21.0h.9v.9h-.9zM14.3 14.0h.9v.9h-.9zM12.3 0.3h.9v.9h-.9zM3.7 15.6h.9v.9h-.9zM16.0 2.2h.9v.9h-.9zM14.7 11.0h.9v.9h-.9zM13.3 9.2h.9v.9h-.9zM5.0 8.2h.9v.9h-.9zM22.4 4.4h.9v.9h-.9zM19.9 12.3h.9v.9h-.9zM1.7 18.7h.9v.9h-.9zM0.4 19.3h.9v.9h-.9zM7.8 21.2h.9v.9h-.9zM16.8 8.3h.9v.9h-.9z"/><path fill="#ffffff" d="M14.4 22.8h.9v.9h-.9zM4.0 4.7h.9v.9h-.9zM6.7 19.0h.9v.9h-.9zM5.7 5.7h.9v.9h-.9zM14.2 13.5h.9v.9h-.9zM9.7 12.7h.9v.9h-.9zM0.7 0.1h.9v.9h-.9zM0.6 1.3h.9v.9h-.9zM17.8 22.6h.9v.9h-.9zM2.9 8.9h.9v.9h-.9zM0.3 10.0h.9v.9h-.9zM15.3 14.4h.9v.9h-.9zM20.8 12.7h.9v.9h-.9zM1.2 8.7h.9v.9h-.9zM10.6 7.8h.9v.9h-.9zM0.8 14.5h.9v.9h-.9zM11.3 16.4h.9v.9h-.9zM8.4 1.6h.9v.9h-.9zM6.1 4.1h.9v.9h-.9zM10.6 3.5h.9v.9h-.9zM1.8 12.1h.9v.9h-.9zM3.3 2.4h.9v.9h-.9zM2.8 16.3h.9v.9h-.9zM18.6 18.7h.9v.9h-.9zM13.3 14.7h.9v.9h-.9zM17.4 9.9h.9v.9h-.9zM11.8 16.5h.9v.9h-.9zM14.6 14.1h.9v.9h-.9zM14.9 12.4h.9v.9h-.9zM4.9 7.1h.9v.9h-.9zM16.0 9.7h.9v.9h-.9zM19.8 8.6h.9v.9h-.9zM15.5 2.7h.9v.9h-.9zM6.9 19.7h.9v.9h-.9zM4.1 14.5h.9v.9h-.9zM0.6 14.1h.9v.9h-.9zM10.4 20.8h.9v.9h-.9zM19.1 17.9h.9v.9h-.9zM7.8 15.5h.9v.9h-.9zM3.6 11.3h.9v.9h-.9zM9.0 10.8h.9v.9h-.9zM6.3 4.9h.9v.9h-.9zM12.0 15.1h.9v.9h-.9zM13.0 22.0h.9v.9h-.9zM12.9 3.4h.9v.9h-.9zM14.8 7.3h.9v.9h-.9zM21.7 3.0h.9v.9h-.9zM10.6 15.6h.9v.9h-.9zM22.4 12.1h.9v.9h-.9zM8.8 17.9h.9v.9h-.9zM18.2 21.1h.9v.9h-.9zM16.7 2.9h.9v.9h-.9zM22.9 21.5h.9v.9h-.9zM10.1 15.2h.9v.9h-.9zM19.3 21.2h.9v.9h-.9zM16.7 2.1h.9v.9h-.9zM1.6 8.5h.9v.9h-.9zM10.5 7.2h.9v.9h-.9zM17.3 17.6h.9v.9h-.9zM9.2 16.1h.9v.9h-.9zM4.4 22.0h.9v.9h-.9zM5.6 3.6h.9v.9h-.9zM8.8 19.9h.9v.9h-.9zM13.8 15.8h.9v.9h-.9zM18.9 8.9h.9v.9h-.9zM22.2 22.8h.9v.9h-.9zM12.4 17.3h.9v.9h-.9zM19.7 13.7h.9v.9h-.9zM3.0 15.2h.9v.9h-.9zM10.5 19.7h.9v.9h-.9zM4.8 0.3h.9v.9h-.9zM4.1 3.9h.9v.9h-.9zM8.9 4.8h.9v.9h-.9zM7.7 13.6h.9v.9h-.9zM3.6 11.2h.9v.9h-.9zM8.2 0.1h.9v.9h-.9zM15.6 11.6h.9v.9h-.9zM17.9 20.3h.9v.9h-.9zM1.1 16.5h.9v.9h-.9zM10.6 20.2h.9v.9h-.9zM2.7 19.4h.9v.9h-.9zM9.9 2.1h.9v.9h-.9zM10.7 20.3h.9v.9h-.9zM1.7 8.7h.9v.9h-.9zM1.9 0.2h.9v.9h-.9zM19.1 12.7h.9v.9h-.9zM13.2 20.8h.9v.9h-.9zM2.0 21.8h.9v.9h-.9zM17.4 19.7h.9v.9h-.9zM18.8 9.1h.9v.9h-.9zM0.5 23.0h.9v.9h-.9zM14.6 16.4h.9v.9h-.9zM16.1 6.9h.9v.9h-.9zM15.2 10.4h.9v.9h-.9zM5.2 11.5h.9v.9h-.9zM10.8 7.0h.9v.9h-.9zM17.3 21.0h.9v.9h-.9zM13.8 0.5h.9v.9h-.9zM12.6 14.6h.9v.9h-.9zM18.8 7.0h.9v.9h-.9zM5.4 8.6h.9v.9h-.9zM3.7 18.0h.9v.9h-.9zM0.6 13.0h.9v.9h-.9zM19.2 0.7h.9v.9h-.9zM3.8 22.9h.9v.9h-.9zM7.1 17.7h.9v.9h-.9zM0.7 10.8h.9v.9h-.9zM1.0 5.7h.9v.9h-.9zM0.4 15.7h.9v.9h-.9zM10.5 8.1h.9v.9h-.9zM9.7 15.7h.9v.9h-.9zM6.0 3.6h.9v.9h-.9zM1.0 15.1h.9v.9h-.9zM15.3 5.5h.9v.9h-.9zM11.9 22.4h.9v.9h-.9zM10.9 17.7h.9v.9h-.9zM8.1 12.8h.9v.9h-.9zM18.0 16.1h.9v.9h-.9zM13.8 6.8h.9v.9h-.9zM1.3 11.1h.9v.9h-.9zM16.7 8.3h.9v.9h-.9zM16.8 10.9h.9v.9h-.9zM1.6 13.4h.9v.9h-.9zM12.7 7.4h.9v.9h-.9zM4.6 22.8h.9v.9h-.9zM13.5 16.7h.9v.9h-.9zM1.0 16.9h.9v.9h-.9zM3.7 11.2h.9v.9h-.9zM9.1 9.0h.9v.9h-.9zM18.3 4.7h.9v.9h-.9zM21.8 19.6h.9v.9h-.9zM11.4 20.2h.9v.9h-.9zM12.7 21.2h.9v.9h-.9zM11.3 22.6h.9v.9h-.9zM17.2 15.2h.9v.9h-.9zM23.0 16.1h.9v.9h-.9zM5.7 15.0h.9v.9h-.9zM3.9 9.3h.9v.9h-.9zM16.2 4.4h.9v.9h-.9zM9.8 5.3h.9v.9h-.9zM9.6 5.3h.9v.9h-.9zM16.2 19.3h.9v.9h-.9zM11.1 16.5h.9v.9h-.9zM17.4 18.7h.9v.9h-.9zM18.5 15.2h.9v.9h-.9zM17.1 16.8h.9v.9h-.9zM12.1 18.4h.9v.9h-.9zM4.4 16.6h.9v.9h-.9zM14.7 12.5h.9v.9h-.9zM14.0 21.2h.9v.9h-.9zM18.2 16.0h.9v.9h-.9zM20.8 20.1h.9v.9h-.9zM7.6 19.9h.9v.9h-.9zM20.5 13.5h.9v.9h-.9zM21.4 4.1h.9v.9h-.9zM18.5 5.6h.9v.9h-.9zM9.2 11.7h.9v.9h-.9zM9.7 11.9h.9v.9h-.9zM2.1 1.4h.9v.9h-.9zM16.7 6.2h.9v.9h-.9zM6.4 16.2h.9v.9h-.9zM17.5 12.4h.9v.9h-.9zM18.9 8.1h.9v.9h-.9zM20.6 14.7h.9v.9h-.9zM19.6 18.8h.9v.9h-.9zM16.2 21.3h.9v.9h-.9zM17.4 10.4h.9v.9h-.9zM2.7 9.3h.9v.9h-.9zM14.2 0.5h.9v.9h-.9zM13.8 9.4h.9v.9h-.9zM11.0 1.5h.9v.9h-.9zM1.8 15.0h.9v.9h-.9zM6.2 3.6h.9v.9h-.9zM20.0 1.3h.9v.9h-.9zM16.2 19.0h.9v.9h-.9zM20.7 15.2h.9v.9h-.9z"/><path fill="#3b528b" d="M1.2 10.1h.9v.9h-.9zM20.2 9.5h.9v.9h-.9zM12.4 17.2h.9v.9h-.9zM13.3 8.3h.9v.9h-.9zM13.7 10.7h.9v.9h-.9zM7.7 1.6h.9v.9h-.9zM6.0 23.0h.9v.9h-.9zM6.8 8.0h.9v.9h-.9zM22.7 2.4h.9v.9h-.9zM5.8 8.7h.9v.9h-.9zM10.7 9.4h.9v.9h-.9zM6.3 3.5h.9v.9h-.9zM12.8 3.9h.9v.9h-.9zM0.1 17.5h.9v.9h-.9zM17.6 8.3h.9v.9h-.9zM20.4 3.7h.9v.9h-.9zM20.8 15.7h.9v.9h-.9zM15.5 1.2h.9v.9h-.9zM17.6 3.9h.9v.9h-.9zM12.4 12.7h.9v.9h-.9zM1.4 6.8h.9v.9h-.9zM21.2 17.5h.9v.9h-.9zM7.1 22.6h.9v.9h-.9zM1.7 15.1h.9v.9h-.9zM18.6 19.6h.9v.9h-.9zM14.9 17.1h.9v.9h-.9zM5.7 18.1h.9v.9h-.9zM15.7 13.3h.9v.9h-.9zM6.2 15.5h.9v.9h-.9zM1.1 11.6h.9v.9h-.9zM15.2 7.8h.9v.9h-.9zM13.9 1.3h.9v.9h-.9zM7.7 11.3h.9v.9h-.9zM19.1 12.4h.9v.9h-.9zM21.5 8.6h.9v.9h-.9zM20.6 13.4h.9v.9h-.9zM10.9 4.2h.9v.9h-.9zM19.1 18.4h.9v.9h-.9zM9.0 7.4h.9v.9h-.9zM6.3 7.9h.9v.9h-.9zM2.1 19.7h.9v.9h-.9zM10.1 4.1h.9v.9h-.9zM15.7 4.1h.9v.9h-.9zM20.3 0.1h.9v.9h-.9z"/></pattern>
<pattern id="pyel" width="24" height="24" patternUnits="userSpaceOnUse"><path fill="#440154" d="M10.4 12.9h.9v.9h-.9zM21.3 10.8h.9v.9h-.9zM11.7 13.6h.9v.9h-.9zM4.3 11.8h.9v.9h-.9zM14.6 18.3h.9v.9h-.9zM2.2 7.0h.9v.9h-.9zM2.1 18.7h.9v.9h-.9zM16.0 1.0h.9v.9h-.9zM22.7 22.3h.9v.9h-.9zM15.1 14.2h.9v.9h-.9zM3.6 0.3h.9v.9h-.9zM12.2 1.4h.9v.9h-.9zM4.4 5.6h.9v.9h-.9zM0.7 10.7h.9v.9h-.9zM10.2 19.5h.9v.9h-.9zM12.0 14.8h.9v.9h-.9zM11.5 15.3h.9v.9h-.9zM10.6 6.4h.9v.9h-.9zM23.0 23.0h.9v.9h-.9zM19.4 16.4h.9v.9h-.9zM7.3 5.3h.9v.9h-.9zM6.7 1.6h.9v.9h-.9zM17.7 9.2h.9v.9h-.9zM19.6 8.9h.9v.9h-.9zM22.1 19.6h.9v.9h-.9zM0.0 4.8h.9v.9h-.9zM21.0 10.9h.9v.9h-.9zM22.6 9.2h.9v.9h-.9zM1.7 14.5h.9v.9h-.9zM18.0 6.2h.9v.9h-.9zM2.0 7.7h.9v.9h-.9zM22.3 17.5h.9v.9h-.9zM2.7 5.7h.9v.9h-.9zM2.3 1.4h.9v.9h-.9zM18.4 4.1h.9v.9h-.9zM12.9 10.3h.9v.9h-.9zM4.4 16.9h.9v.9h-.9zM3.0 14.9h.9v.9h-.9zM2.7 9.7h.9v.9h-.9zM4.9 6.2h.9v.9h-.9zM22.4 18.6h.9v.9h-.9zM7.0 20.4h.9v.9h-.9zM4.9 9.1h.9v.9h-.9zM19.7 14.8h.9v.9h-.9zM2.3 22.9h.9v.9h-.9zM4.9 6.0h.9v.9h-.9zM17.8 7.6h.9v.9h-.9zM6.8 1.7h.9v.9h-.9zM2.1 13.5h.9v.9h-.9zM5.6 13.9h.9v.9h-.9zM8.6 10.5h.9v.9h-.9zM22.2 11.2h.9v.9h-.9zM13.3 20.0h.9v.9h-.9zM4.2 3.6h.9v.9h-.9zM21.0 18.9h.9v.9h-.9zM5.8 4.4h.9v.9h-.9zM17.1 21.7h.9v.9h-.9zM4.5 21.9h.9v.9h-.9zM20.4 13.9h.9v.9h-.9zM9.7 2.4h.9v.9h-.9zM0.9 22.2h.9v.9h-.9zM5.5 16.3h.9v.9h-.9zM5.9 19.0h.9v.9h-.9zM13.8 6.8h.9v.9h-.9zM4.1 16.6h.9v.9h-.9zM1.6 5.3h.9v.9h-.9zM12.9 19.7h.9v.9h-.9zM14.2 6.5h.9v.9h-.9zM21.2 4.7h.9v.9h-.9zM0.4 6.2h.9v.9h-.9zM10.3 1.4h.9v.9h-.9zM4.1 8.5h.9v.9h-.9zM13.2 3.0h.9v.9h-.9zM8.4 20.6h.9v.9h-.9zM22.6 15.2h.9v.9h-.9zM16.0 13.5h.9v.9h-.9zM3.2 0.8h.9v.9h-.9zM0.4 21.0h.9v.9h-.9zM16.2 22.2h.9v.9h-.9zM0.5 14.7h.9v.9h-.9zM11.1 16.9h.9v.9h-.9zM7.4 23.1h.9v.9h-.9zM1.7 12.6h.9v.9h-.9zM17.0 20.8h.9v.9h-.9zM17.0 16.3h.9v.9h-.9zM18.3 21.1h.9v.9h-.9zM8.1 15.8h.9v.9h-.9zM20.8 20.1h.9v.9h-.9zM9.6 18.3h.9v.9h-.9zM19.9 13.2h.9v.9h-.9zM14.4 8.8h.9v.9h-.9zM13.5 14.1h.9v.9h-.9zM1.9 14.8h.9v.9h-.9zM22.9 20.3h.9v.9h-.9zM16.8 9.0h.9v.9h-.9zM17.0 13.4h.9v.9h-.9zM10.2 19.4h.9v.9h-.9zM1.9 17.3h.9v.9h-.9zM0.7 13.9h.9v.9h-.9zM11.1 5.3h.9v.9h-.9zM16.1 11.5h.9v.9h-.9zM14.2 21.3h.9v.9h-.9zM5.9 0.3h.9v.9h-.9zM7.0 15.7h.9v.9h-.9zM4.7 3.9h.9v.9h-.9zM20.9 15.2h.9v.9h-.9zM10.2 20.6h.9v.9h-.9zM7.6 15.4h.9v.9h-.9zM4.6 10.0h.9v.9h-.9zM18.6 21.1h.9v.9h-.9zM20.3 8.9h.9v.9h-.9zM13.5 7.3h.9v.9h-.9zM3.1 11.5h.9v.9h-.9zM19.3 19.6h.9v.9h-.9zM16.4 21.9h.9v.9h-.9zM6.4 3.9h.9v.9h-.9zM10.4 6.4h.9v.9h-.9zM4.9 9.6h.9v.9h-.9zM14.5 11.4h.9v.9h-.9zM7.3 19.4h.9v.9h-.9zM22.7 10.5h.9v.9h-.9zM1.7 0.7h.9v.9h-.9zM20.2 1.0h.9v.9h-.9z"/><path fill="#21918c" d="M16.4 13.2h.9v.9h-.9zM7.1 18.3h.9v.9h-.9zM0.4 3.1h.9v.9h-.9zM10.5 0.6h.9v.9h-.9zM19.2 5.5h.9v.9h-.9zM3.3 1.1h.9v.9h-.9zM14.5 10.3h.9v.9h-.9zM14.6 15.1h.9v.9h-.9zM18.7 22.1h.9v.9h-.9zM15.8 4.6h.9v.9h-.9zM11.0 4.1h.9v.9h-.9zM0.2 10.9h.9v.9h-.9zM16.5 4.1h.9v.9h-.9zM6.3 8.0h.9v.9h-.9zM16.1 12.0h.9v.9h-.9zM14.2 17.5h.9v.9h-.9zM9.1 18.3h.9v.9h-.9zM20.9 2.0h.9v.9h-.9zM21.5 16.7h.9v.9h-.9zM3.0 10.5h.9v.9h-.9zM14.5 21.0h.9v.9h-.9zM8.7 13.1h.9v.9h-.9zM20.3 18.4h.9v.9h-.9zM21.8 10.7h.9v.9h-.9zM15.0 4.7h.9v.9h-.9zM16.7 18.9h.9v.9h-.9zM14.8 16.6h.9v.9h-.9zM4.9 20.8h.9v.9h-.9zM22.6 22.6h.9v.9h-.9zM12.4 18.3h.9v.9h-.9zM7.4 21.0h.9v.9h-.9zM19.8 8.1h.9v.9h-.9zM1.9 10.2h.9v.9h-.9zM12.7 17.7h.9v.9h-.9zM11.3 0.7h.9v.9h-.9zM18.7 1.5h.9v.9h-.9zM18.5 4.0h.9v.9h-.9zM7.7 18.2h.9v.9h-.9zM3.2 3.4h.9v.9h-.9zM11.9 16.7h.9v.9h-.9zM19.4 15.9h.9v.9h-.9zM21.8 11.4h.9v.9h-.9zM21.9 2.0h.9v.9h-.9zM5.1 12.2h.9v.9h-.9zM6.7 16.8h.9v.9h-.9zM14.8 12.1h.9v.9h-.9zM19.5 12.9h.9v.9h-.9zM7.2 8.8h.9v.9h-.9zM19.5 20.8h.9v.9h-.9zM4.8 19.7h.9v.9h-.9zM22.4 12.1h.9v.9h-.9zM13.2 4.6h.9v.9h-.9zM12.4 11.6h.9v.9h-.9zM14.0 0.6h.9v.9h-.9zM22.4 11.9h.9v.9h-.9zM9.3 18.5h.9v.9h-.9zM13.0 11.3h.9v.9h-.9zM16.0 1.5h.9v.9h-.9zM12.4 9.6h.9v.9h-.9zM22.1 21.3h.9v.9h-.9zM6.2 10.9h.9v.9h-.9zM2.9 10.0h.9v.9h-.9zM18.8 20.8h.9v.9h-.9zM11.0 7.3h.9v.9h-.9zM4.4 14.3h.9v.9h-.9zM21.4 3.0h.9v.9h-.9zM18.0 0.5h.9v.9h-.9zM4.5 5.2h.9v.9h-.9zM15.9 7.4h.9v.9h-.9zM8.2 14.3h.9v.9h-.9zM2.4 16.9h.9v.9h-.9zM2.8 11.8h.9v.9h-.9zM5.8 4.6h.9v.9h-.9zM12.3 10.1h.9v.9h-.9zM8.7 9.5h.9v.9h-.9zM12.2 3.7h.9v.9h-.9zM4.7 14.6h.9v.9h-.9zM14.7 12.2h.9v.9h-.9zM19.7 14.1h.9v.9h-.9zM19.8 5.4h.9v.9h-.9zM17.1 18.7h.9v.9h-.9zM20.9 7.3h.9v.9h-.9zM7.3 21.3h.9v.9h-.9zM5.0 23.1h.9v.9h-.9zM20.5 3.1h.9v.9h-.9zM5.5 16.8h.9v.9h-.9zM6.0 2.2h.9v.9h-.9zM19.2 9.7h.9v.9h-.9zM18.2 2.9h.9v.9h-.9zM9.3 15.8h.9v.9h-.9zM0.4 4.6h.9v.9h-.9zM15.8 21.1h.9v.9h-.9zM22.4 2.7h.9v.9h-.9zM11.7 17.5h.9v.9h-.9zM11.6 15.8h.9v.9h-.9zM4.4 1.6h.9v.9h-.9zM2.5 0.9h.9v.9h-.9zM12.7 11.9h.9v.9h-.9zM13.1 3.4h.9v.9h-.9zM4.3 4.7h.9v.9h-.9zM19.4 22.9h.9v.9h-.9zM21.4 2.2h.9v.9h-.9zM1.4 22.0h.9v.9h-.9zM10.7 17.7h.9v.9h-.9zM7.5 10.8h.9v.9h-.9zM11.9 9.9h.9v.9h-.9zM13.9 0.3h.9v.9h-.9z"/><path fill="#5ec962" d="M16.2 19.5h.9v.9h-.9zM4.2 10.5h.9v.9h-.9zM17.1 9.4h.9v.9h-.9zM4.5 3.8h.9v.9h-.9zM11.8 0.4h.9v.9h-.9zM20.6 18.5h.9v.9h-.9zM16.3 19.9h.9v.9h-.9zM14.5 9.3h.9v.9h-.9zM13.9 11.6h.9v.9h-.9zM22.7 18.6h.9v.9h-.9zM6.0 21.1h.9v.9h-.9zM17.2 18.0h.9v.9h-.9zM18.8 9.4h.9v.9h-.9zM20.7 20.3h.9v.9h-.9zM16.0 17.7h.9v.9h-.9zM17.7 9.4h.9v.9h-.9zM16.7 1.6h.9v.9h-.9zM7.9 10.8h.9v.9h-.9zM0.2 8.2h.9v.9h-.9zM14.8 14.4h.9v.9h-.9zM5.4 21.8h.9v.9h-.9zM15.4 7.8h.9v.9h-.9zM15.2 13.2h.9v.9h-.9zM12.3 9.0h.9v.9h-.9zM23.1 14.8h.9v.9h-.9zM16.2 17.6h.9v.9h-.9zM22.6 0.5h.9v.9h-.9zM14.2 17.1h.9v.9h-.9zM5.9 9.3h.9v.9h-.9zM1.2 4.5h.9v.9h-.9zM8.7 2.3h.9v.9h-.9zM5.8 20.9h.9v.9h-.9zM12.7 11.7h.9v.9h-.9zM22.3 13.1h.9v.9h-.9zM23.0 14.7h.9v.9h-.9zM18.7 1.8h.9v.9h-.9zM13.8 17.5h.9v.9h-.9zM1.0 21.5h.9v.9h-.9zM3.7 10.9h.9v.9h-.9zM3.9 11.4h.9v.9h-.9zM14.1 1.4h.9v.9h-.9zM21.8 9.7h.9v.9h-.9zM12.2 13.8h.9v.9h-.9zM8.4 6.6h.9v.9h-.9zM15.1 13.0h.9v.9h-.9zM6.5 16.6h.9v.9h-.9zM6.8 0.3h.9v.9h-.9zM5.7 1.0h.9v.9h-.9zM3.6 17.4h.9v.9h-.9zM9.0 20.7h.9v.9h-.9zM17.3 1.2h.9v.9h-.9zM22.8 21.8h.9v.9h-.9zM1.7 20.9h.9v.9h-.9zM9.9 11.0h.9v.9h-.9zM22.5 5.6h.9v.9h-.9zM12.1 21.7h.9v.9h-.9zM16.7 10.8h.9v.9h-.9zM22.6 18.9h.9v.9h-.9zM13.9 2.7h.9v.9h-.9zM14.4 10.5h.9v.9h-.9zM4.7 1.2h.9v.9h-.9zM12.2 2.9h.9v.9h-.9zM10.2 15.4h.9v.9h-.9zM10.5 6.1h.9v.9h-.9zM13.4 9.7h.9v.9h-.9zM18.0 12.3h.9v.9h-.9zM23.0 22.0h.9v.9h-.9zM17.0 5.5h.9v.9h-.9zM2.6 20.6h.9v.9h-.9zM18.1 14.4h.9v.9h-.9zM8.3 6.3h.9v.9h-.9zM15.8 13.0h.9v.9h-.9zM13.7 14.6h.9v.9h-.9zM17.4 4.4h.9v.9h-.9zM5.8 22.6h.9v.9h-.9zM21.2 20.3h.9v.9h-.9zM0.9 1.4h.9v.9h-.9zM6.3 9.8h.9v.9h-.9zM14.4 2.4h.9v.9h-.9zM12.5 1.7h.9v.9h-.9zM2.0 15.6h.9v.9h-.9zM12.7 14.6h.9v.9h-.9zM8.6 11.1h.9v.9h-.9zM4.9 7.9h.9v.9h-.9zM17.2 19.4h.9v.9h-.9zM1.7 2.8h.9v.9h-.9zM18.7 14.4h.9v.9h-.9zM17.8 4.9h.9v.9h-.9zM9.8 6.0h.9v.9h-.9zM18.7 8.5h.9v.9h-.9z"/><path fill="#ffffff" d="M15.1 22.9h.9v.9h-.9zM7.5 12.7h.9v.9h-.9zM17.2 21.3h.9v.9h-.9zM9.9 8.5h.9v.9h-.9zM2.2 20.2h.9v.9h-.9zM1.8 1.9h.9v.9h-.9zM13.0 11.2h.9v.9h-.9zM15.8 6.9h.9v.9h-.9zM17.9 1.8h.9v.9h-.9zM4.9 15.3h.9v.9h-.9zM1.9 7.0h.9v.9h-.9zM16.7 16.0h.9v.9h-.9zM6.5 3.3h.9v.9h-.9zM8.3 16.8h.9v.9h-.9zM8.5 2.7h.9v.9h-.9zM16.4 13.2h.9v.9h-.9zM21.2 21.7h.9v.9h-.9zM21.1 10.1h.9v.9h-.9zM18.6 7.0h.9v.9h-.9zM7.3 9.2h.9v.9h-.9zM21.6 20.7h.9v.9h-.9zM5.7 8.4h.9v.9h-.9zM8.4 8.4h.9v.9h-.9zM9.1 9.0h.9v.9h-.9zM4.5 13.0h.9v.9h-.9zM18.4 12.5h.9v.9h-.9zM19.3 13.0h.9v.9h-.9zM4.1 17.5h.9v.9h-.9zM20.3 6.5h.9v.9h-.9zM0.5 11.9h.9v.9h-.9zM12.6 13.1h.9v.9h-.9zM22.3 15.0h.9v.9h-.9zM18.6 1.5h.9v.9h-.9zM12.6 18.2h.9v.9h-.9zM1.9 1.9h.9v.9h-.9zM17.0 20.8h.9v.9h-.9zM2.0 14.6h.9v.9h-.9zM3.3 17.2h.9v.9h-.9zM15.0 5.7h.9v.9h-.9zM5.1 17.7h.9v.9h-.9zM12.0 17.7h.9v.9h-.9zM9.1 7.8h.9v.9h-.9zM22.4 15.5h.9v.9h-.9zM11.4 12.4h.9v.9h-.9zM16.7 16.4h.9v.9h-.9zM21.1 9.5h.9v.9h-.9zM19.1 15.4h.9v.9h-.9zM19.7 18.6h.9v.9h-.9zM19.3 20.5h.9v.9h-.9zM22.1 14.8h.9v.9h-.9zM12.1 16.4h.9v.9h-.9zM18.5 9.7h.9v.9h-.9zM9.7 3.4h.9v.9h-.9zM17.1 22.9h.9v.9h-.9zM8.7 3.9h.9v.9h-.9zM4.7 9.8h.9v.9h-.9zM6.7 22.4h.9v.9h-.9zM1.4 7.1h.9v.9h-.9zM2.7 15.0h.9v.9h-.9z"/></pattern>
<pattern id="pyel2" width="24" height="24" patternUnits="userSpaceOnUse"><path fill="#440154" d="M11.0 15.2h.9v.9h-.9zM15.4 3.3h.9v.9h-.9zM0.3 8.7h.9v.9h-.9zM6.3 18.7h.9v.9h-.9zM16.0 13.9h.9v.9h-.9zM12.9 15.3h.9v.9h-.9zM3.4 10.2h.9v.9h-.9zM3.7 20.9h.9v.9h-.9zM1.4 18.9h.9v.9h-.9zM1.7 15.9h.9v.9h-.9zM7.8 9.3h.9v.9h-.9zM19.5 0.4h.9v.9h-.9zM1.4 21.1h.9v.9h-.9zM11.8 2.1h.9v.9h-.9zM22.8 21.9h.9v.9h-.9zM2.6 9.8h.9v.9h-.9zM3.1 7.2h.9v.9h-.9zM14.4 3.8h.9v.9h-.9zM16.1 1.2h.9v.9h-.9zM4.0 18.8h.9v.9h-.9zM9.3 9.7h.9v.9h-.9zM13.8 11.0h.9v.9h-.9zM8.9 0.7h.9v.9h-.9zM16.8 22.3h.9v.9h-.9zM22.6 15.3h.9v.9h-.9zM8.2 8.4h.9v.9h-.9zM15.9 15.6h.9v.9h-.9zM2.6 5.4h.9v.9h-.9zM8.4 11.8h.9v.9h-.9zM18.7 11.6h.9v.9h-.9zM0.7 19.0h.9v.9h-.9zM9.9 12.0h.9v.9h-.9zM5.1 9.9h.9v.9h-.9zM9.0 17.8h.9v.9h-.9zM2.4 12.7h.9v.9h-.9zM4.1 16.1h.9v.9h-.9zM0.9 6.4h.9v.9h-.9zM8.0 14.7h.9v.9h-.9zM1.2 10.6h.9v.9h-.9zM4.8 6.5h.9v.9h-.9zM11.0 22.1h.9v.9h-.9zM11.1 22.1h.9v.9h-.9zM3.9 21.4h.9v.9h-.9zM8.4 4.4h.9v.9h-.9zM17.3 21.1h.9v.9h-.9zM0.2 6.2h.9v.9h-.9zM17.8 7.9h.9v.9h-.9zM5.6 0.2h.9v.9h-.9zM0.9 14.3h.9v.9h-.9zM22.7 23.1h.9v.9h-.9zM11.6 0.6h.9v.9h-.9zM7.4 18.2h.9v.9h-.9zM19.2 14.8h.9v.9h-.9zM5.3 12.2h.9v.9h-.9zM11.0 14.5h.9v.9h-.9zM6.1 21.9h.9v.9h-.9zM20.7 3.7h.9v.9h-.9zM6.7 20.2h.9v.9h-.9zM6.4 21.8h.9v.9h-.9zM11.9 16.1h.9v.9h-.9zM16.3 4.9h.9v.9h-.9zM6.6 5.9h.9v.9h-.9zM15.8 16.0h.9v.9h-.9zM3.0 20.5h.9v.9h-.9zM9.7 5.6h.9v.9h-.9zM10.1 22.6h.9v.9h-.9zM12.9 14.4h.9v.9h-.9zM21.3 22.2h.9v.9h-.9zM17.6 9.6h.9v.9h-.9zM13.6 20.8h.9v.9h-.9zM18.2 13.4h.9v.9h-.9zM8.0 8.5h.9v.9h-.9zM17.0 13.0h.9v.9h-.9zM0.4 16.4h.9v.9h-.9zM20.9 18.4h.9v.9h-.9zM20.7 21.0h.9v.9h-.9zM12.4 18.2h.9v.9h-.9zM8.8 2.3h.9v.9h-.9zM8.2 7.2h.9v.9h-.9zM21.6 15.9h.9v.9h-.9zM12.5 14.4h.9v.9h-.9zM2.9 12.3h.9v.9h-.9zM16.2 9.1h.9v.9h-.9zM5.7 9.4h.9v.9h-.9zM7.5 15.8h.9v.9h-.9zM3.3 2.1h.9v.9h-.9zM7.2 16.1h.9v.9h-.9zM17.5 15.2h.9v.9h-.9zM21.6 8.4h.9v.9h-.9zM0.7 11.3h.9v.9h-.9zM10.2 4.1h.9v.9h-.9zM15.4 7.9h.9v.9h-.9zM5.5 7.6h.9v.9h-.9zM21.8 0.2h.9v.9h-.9zM8.3 6.5h.9v.9h-.9zM4.7 10.0h.9v.9h-.9zM5.1 21.2h.9v.9h-.9zM11.6 16.1h.9v.9h-.9zM3.8 10.7h.9v.9h-.9zM14.0 19.5h.9v.9h-.9zM5.8 10.6h.9v.9h-.9zM19.7 19.2h.9v.9h-.9zM5.3 12.4h.9v.9h-.9zM17.6 9.1h.9v.9h-.9zM15.6 15.3h.9v.9h-.9zM22.5 12.8h.9v.9h-.9zM15.7 8.1h.9v.9h-.9zM16.9 7.4h.9v.9h-.9zM11.5 8.3h.9v.9h-.9zM7.1 3.1h.9v.9h-.9zM5.2 12.6h.9v.9h-.9zM5.8 1.1h.9v.9h-.9zM18.6 6.6h.9v.9h-.9zM21.6 13.8h.9v.9h-.9zM9.0 20.2h.9v.9h-.9zM20.7 7.4h.9v.9h-.9zM2.9 14.8h.9v.9h-.9zM19.5 14.1h.9v.9h-.9zM18.1 9.5h.9v.9h-.9zM14.3 6.1h.9v.9h-.9zM9.4 8.8h.9v.9h-.9zM8.9 9.2h.9v.9h-.9zM18.6 3.9h.9v.9h-.9zM4.7 5.9h.9v.9h-.9zM22.4 12.1h.9v.9h-.9zM1.2 19.3h.9v.9h-.9zM20.2 19.0h.9v.9h-.9zM8.3 17.0h.9v.9h-.9zM7.1 3.2h.9v.9h-.9zM20.0 19.2h.9v.9h-.9zM4.9 20.3h.9v.9h-.9zM0.6 7.1h.9v.9h-.9zM0.3 4.0h.9v.9h-.9zM3.8 16.5h.9v.9h-.9zM6.9 4.4h.9v.9h-.9zM4.3 7.2h.9v.9h-.9zM19.9 14.0h.9v.9h-.9zM2.4 15.8h.9v.9h-.9zM12.4 10.4h.9v.9h-.9zM12.2 15.0h.9v.9h-.9zM18.5 11.7h.9v.9h-.9zM14.7 10.8h.9v.9h-.9zM14.6 9.0h.9v.9h-.9zM9.6 11.9h.9v.9h-.9zM16.5 6.4h.9v.9h-.9zM21.4 11.4h.9v.9h-.9zM19.8 15.9h.9v.9h-.9zM22.1 15.8h.9v.9h-.9zM9.9 9.4h.9v.9h-.9zM14.0 17.4h.9v.9h-.9zM19.4 3.0h.9v.9h-.9zM1.4 2.5h.9v.9h-.9zM1.9 1.3h.9v.9h-.9zM0.2 5.8h.9v.9h-.9zM2.6 15.8h.9v.9h-.9zM14.2 22.3h.9v.9h-.9zM22.2 17.2h.9v.9h-.9zM21.9 0.6h.9v.9h-.9zM5.3 21.4h.9v.9h-.9zM11.0 4.8h.9v.9h-.9zM17.5 9.8h.9v.9h-.9zM12.5 7.3h.9v.9h-.9zM5.6 2.0h.9v.9h-.9zM14.0 22.0h.9v.9h-.9zM22.8 17.7h.9v.9h-.9zM21.6 8.4h.9v.9h-.9zM6.9 21.3h.9v.9h-.9zM13.9 15.5h.9v.9h-.9zM0.3 5.3h.9v.9h-.9zM11.1 16.9h.9v.9h-.9zM19.1 17.5h.9v.9h-.9zM7.8 8.8h.9v.9h-.9zM19.9 22.9h.9v.9h-.9zM11.2 4.5h.9v.9h-.9zM14.4 12.4h.9v.9h-.9zM8.4 5.3h.9v.9h-.9zM8.9 14.1h.9v.9h-.9zM2.9 12.5h.9v.9h-.9zM22.0 17.2h.9v.9h-.9zM5.8 9.7h.9v.9h-.9zM2.4 17.0h.9v.9h-.9zM14.6 4.0h.9v.9h-.9zM12.7 13.8h.9v.9h-.9zM13.3 8.7h.9v.9h-.9zM7.2 8.2h.9v.9h-.9zM23.0 7.6h.9v.9h-.9zM11.6 10.6h.9v.9h-.9zM4.0 9.2h.9v.9h-.9zM4.7 7.4h.9v.9h-.9zM8.5 8.1h.9v.9h-.9zM21.7 6.9h.9v.9h-.9zM7.7 15.2h.9v.9h-.9zM9.2 11.9h.9v.9h-.9zM15.0 1.7h.9v.9h-.9zM15.5 2.3h.9v.9h-.9zM5.8 18.7h.9v.9h-.9zM22.9 15.6h.9v.9h-.9zM4.0 10.1h.9v.9h-.9zM6.5 19.4h.9v.9h-.9zM5.4 4.5h.9v.9h-.9zM14.7 14.7h.9v.9h-.9zM13.6 11.1h.9v.9h-.9zM22.2 10.6h.9v.9h-.9zM21.6 9.0h.9v.9h-.9zM10.7 8.3h.9v.9h-.9zM16.5 17.4h.9v.9h-.9zM5.5 12.2h.9v.9h-.9zM16.8 11.6h.9v.9h-.9zM15.3 14.2h.9v.9h-.9zM16.5 8.2h.9v.9h-.9zM7.1 0.6h.9v.9h-.9zM20.6 18.2h.9v.9h-.9zM9.0 22.3h.9v.9h-.9zM20.8 3.5h.9v.9h-.9zM19.3 9.7h.9v.9h-.9zM7.3 6.0h.9v.9h-.9zM9.6 1.2h.9v.9h-.9zM1.2 2.7h.9v.9h-.9zM7.1 3.7h.9v.9h-.9zM2.8 19.2h.9v.9h-.9zM8.8 11.3h.9v.9h-.9zM13.9 21.6h.9v.9h-.9zM3.4 5.3h.9v.9h-.9zM19.9 21.0h.9v.9h-.9zM21.5 12.2h.9v.9h-.9zM8.5 4.4h.9v.9h-.9zM21.0 17.7h.9v.9h-.9zM12.7 18.3h.9v.9h-.9zM6.0 12.3h.9v.9h-.9zM20.9 2.5h.9v.9h-.9zM14.3 4.3h.9v.9h-.9zM19.4 19.4h.9v.9h-.9zM14.9 10.1h.9v.9h-.9zM0.5 11.4h.9v.9h-.9zM8.3 9.2h.9v.9h-.9zM1.8 21.3h.9v.9h-.9zM12.1 13.0h.9v.9h-.9zM19.5 20.7h.9v.9h-.9zM12.7 12.6h.9v.9h-.9zM19.6 8.6h.9v.9h-.9zM20.8 0.6h.9v.9h-.9zM18.4 12.2h.9v.9h-.9zM14.4 22.9h.9v.9h-.9zM5.1 9.4h.9v.9h-.9zM18.5 17.2h.9v.9h-.9zM12.1 17.9h.9v.9h-.9zM15.6 20.1h.9v.9h-.9zM15.0 8.4h.9v.9h-.9zM6.6 1.9h.9v.9h-.9zM2.8 1.0h.9v.9h-.9zM22.5 3.3h.9v.9h-.9zM13.9 3.1h.9v.9h-.9zM22.3 12.3h.9v.9h-.9zM4.1 19.1h.9v.9h-.9zM19.9 22.6h.9v.9h-.9zM5.2 9.3h.9v.9h-.9zM15.3 6.5h.9v.9h-.9zM13.2 16.2h.9v.9h-.9zM17.4 19.0h.9v.9h-.9zM17.3 6.6h.9v.9h-.9zM17.5 10.0h.9v.9h-.9zM3.9 0.5h.9v.9h-.9zM14.4 8.3h.9v.9h-.9zM2.2 11.3h.9v.9h-.9zM9.6 7.5h.9v.9h-.9zM13.1 12.4h.9v.9h-.9zM12.2 22.8h.9v.9h-.9zM20.9 6.9h.9v.9h-.9zM20.1 7.3h.9v.9h-.9zM21.6 1.3h.9v.9h-.9zM7.3 21.5h.9v.9h-.9zM15.3 16.3h.9v.9h-.9zM4.7 2.8h.9v.9h-.9zM22.2 1.5h.9v.9h-.9zM4.1 10.0h.9v.9h-.9zM18.9 15.7h.9v.9h-.9zM23.1 18.0h.9v.9h-.9zM10.1 21.1h.9v.9h-.9zM7.3 1.2h.9v.9h-.9zM22.2 20.4h.9v.9h-.9zM15.3 11.1h.9v.9h-.9zM4.7 5.1h.9v.9h-.9zM1.6 2.2h.9v.9h-.9zM11.1 20.7h.9v.9h-.9zM21.5 11.9h.9v.9h-.9zM15.6 10.8h.9v.9h-.9zM17.9 16.3h.9v.9h-.9zM22.8 19.5h.9v.9h-.9zM15.7 13.6h.9v.9h-.9zM3.9 10.9h.9v.9h-.9zM10.3 3.6h.9v.9h-.9zM4.7 9.5h.9v.9h-.9zM4.1 14.4h.9v.9h-.9zM7.6 22.8h.9v.9h-.9zM15.8 11.9h.9v.9h-.9zM10.0 9.0h.9v.9h-.9zM4.6 22.2h.9v.9h-.9zM21.1 15.0h.9v.9h-.9zM15.0 3.3h.9v.9h-.9zM12.5 3.9h.9v.9h-.9zM7.5 13.6h.9v.9h-.9zM3.9 5.4h.9v.9h-.9zM16.9 11.2h.9v.9h-.9zM20.6 3.7h.9v.9h-.9zM2.0 21.7h.9v.9h-.9zM14.1 16.0h.9v.9h-.9zM12.9 3.4h.9v.9h-.9zM22.6 11.4h.9v.9h-.9zM21.0 3.4h.9v.9h-.9zM6.4 12.7h.9v.9h-.9zM5.7 19.9h.9v.9h-.9zM6.0 1.8h.9v.9h-.9zM3.8 6.3h.9v.9h-.9zM21.9 20.3h.9v.9h-.9zM15.5 9.9h.9v.9h-.9zM1.0 19.2h.9v.9h-.9zM2.9 4.6h.9v.9h-.9zM10.1 19.9h.9v.9h-.9zM4.2 1.4h.9v.9h-.9zM21.0 0.2h.9v.9h-.9zM17.0 3.2h.9v.9h-.9zM6.9 4.8h.9v.9h-.9zM10.1 21.3h.9v.9h-.9zM19.4 12.4h.9v.9h-.9zM2.0 4.1h.9v.9h-.9zM6.8 18.3h.9v.9h-.9zM21.2 0.6h.9v.9h-.9zM7.7 22.2h.9v.9h-.9zM3.5 1.8h.9v.9h-.9zM6.1 20.5h.9v.9h-.9zM6.1 16.7h.9v.9h-.9zM2.7 15.2h.9v.9h-.9zM3.9 13.7h.9v.9h-.9zM17.2 20.3h.9v.9h-.9zM10.1 22.7h.9v.9h-.9zM9.4 21.9h.9v.9h-.9zM21.1 23.1h.9v.9h-.9zM2.4 6.3h.9v.9h-.9zM16.1 20.5h.9v.9h-.9z"/><path fill="#21918c" d="M5.9 17.7h.9v.9h-.9zM11.0 0.1h.9v.9h-.9zM2.0 0.2h.9v.9h-.9zM5.3 21.5h.9v.9h-.9zM15.7 19.9h.9v.9h-.9zM21.2 9.1h.9v.9h-.9zM16.1 15.1h.9v.9h-.9zM16.0 2.1h.9v.9h-.9zM20.5 3.6h.9v.9h-.9zM10.3 15.9h.9v.9h-.9zM17.2 19.1h.9v.9h-.9zM7.2 6.9h.9v.9h-.9zM16.8 1.1h.9v.9h-.9zM20.2 7.3h.9v.9h-.9zM9.1 7.2h.9v.9h-.9zM16.5 4.0h.9v.9h-.9zM3.1 1.5h.9v.9h-.9zM3.0 14.4h.9v.9h-.9zM22.8 0.1h.9v.9h-.9zM10.7 8.2h.9v.9h-.9zM7.2 7.9h.9v.9h-.9zM2.5 9.8h.9v.9h-.9zM6.2 1.4h.9v.9h-.9zM3.1 21.4h.9v.9h-.9zM16.6 22.7h.9v.9h-.9zM18.8 17.1h.9v.9h-.9zM5.2 2.5h.9v.9h-.9zM22.7 15.8h.9v.9h-.9zM16.7 3.3h.9v.9h-.9zM18.3 12.4h.9v.9h-.9zM2.0 4.9h.9v.9h-.9zM22.4 14.4h.9v.9h-.9zM2.1 1.9h.9v.9h-.9zM17.3 8.1h.9v.9h-.9zM11.0 3.2h.9v.9h-.9zM4.1 11.5h.9v.9h-.9zM9.9 4.3h.9v.9h-.9zM3.5 10.3h.9v.9h-.9zM2.6 1.4h.9v.9h-.9zM10.9 1.2h.9v.9h-.9zM17.0 17.7h.9v.9h-.9zM16.3 22.0h.9v.9h-.9zM3.8 9.7h.9v.9h-.9zM9.6 1.7h.9v.9h-.9zM19.9 0.9h.9v.9h-.9zM22.7 15.6h.9v.9h-.9zM22.7 1.4h.9v.9h-.9zM20.6 22.3h.9v.9h-.9zM18.0 13.4h.9v.9h-.9zM15.0 11.1h.9v.9h-.9zM19.7 13.4h.9v.9h-.9zM12.6 9.4h.9v.9h-.9zM14.5 13.6h.9v.9h-.9zM21.7 17.9h.9v.9h-.9zM7.6 16.6h.9v.9h-.9zM5.4 11.1h.9v.9h-.9zM12.2 16.8h.9v.9h-.9zM1.7 3.4h.9v.9h-.9zM4.2 14.3h.9v.9h-.9zM3.9 12.9h.9v.9h-.9zM20.4 9.9h.9v.9h-.9zM5.2 13.8h.9v.9h-.9zM9.5 10.1h.9v.9h-.9zM4.1 15.8h.9v.9h-.9zM8.0 22.8h.9v.9h-.9zM11.5 15.8h.9v.9h-.9zM21.4 22.7h.9v.9h-.9zM0.5 21.4h.9v.9h-.9zM2.4 21.9h.9v.9h-.9zM18.2 5.9h.9v.9h-.9zM16.5 13.0h.9v.9h-.9zM10.4 14.5h.9v.9h-.9zM10.5 15.2h.9v.9h-.9zM16.1 0.1h.9v.9h-.9zM14.8 16.3h.9v.9h-.9zM20.0 12.4h.9v.9h-.9zM12.5 3.3h.9v.9h-.9zM4.5 20.7h.9v.9h-.9zM1.4 20.8h.9v.9h-.9zM2.9 8.9h.9v.9h-.9zM14.4 0.7h.9v.9h-.9zM10.3 18.4h.9v.9h-.9zM8.9 4.1h.9v.9h-.9zM1.4 21.9h.9v.9h-.9zM2.4 15.5h.9v.9h-.9zM14.7 6.5h.9v.9h-.9zM12.9 15.8h.9v.9h-.9zM4.8 5.7h.9v.9h-.9zM21.3 4.8h.9v.9h-.9zM11.3 10.5h.9v.9h-.9z"/><path fill="#5ec962" d="M18.0 19.8h.9v.9h-.9zM17.6 14.5h.9v.9h-.9zM12.5 2.1h.9v.9h-.9zM13.3 10.0h.9v.9h-.9zM17.5 8.7h.9v.9h-.9zM2.8 8.9h.9v.9h-.9zM19.2 11.5h.9v.9h-.9zM15.4 1.3h.9v.9h-.9zM5.1 6.1h.9v.9h-.9zM11.2 2.7h.9v.9h-.9zM21.8 7.7h.9v.9h-.9zM0.0 5.5h.9v.9h-.9zM11.6 14.2h.9v.9h-.9zM18.8 2.0h.9v.9h-.9zM22.4 19.8h.9v.9h-.9zM11.9 14.9h.9v.9h-.9zM7.1 3.4h.9v.9h-.9zM0.2 22.2h.9v.9h-.9zM20.6 10.3h.9v.9h-.9zM13.9 11.0h.9v.9h-.9zM15.9 2.3h.9v.9h-.9zM17.4 4.0h.9v.9h-.9zM13.7 14.4h.9v.9h-.9zM19.6 14.2h.9v.9h-.9zM4.1 18.8h.9v.9h-.9zM8.6 13.0h.9v.9h-.9zM18.5 22.6h.9v.9h-.9zM2.4 10.5h.9v.9h-.9zM7.3 19.6h.9v.9h-.9zM9.2 21.0h.9v.9h-.9zM18.3 9.7h.9v.9h-.9zM17.6 15.7h.9v.9h-.9zM2.7 6.9h.9v.9h-.9zM3.1 19.2h.9v.9h-.9zM9.1 6.9h.9v.9h-.9zM16.6 22.8h.9v.9h-.9zM3.3 16.0h.9v.9h-.9zM5.3 18.3h.9v.9h-.9zM17.2 17.8h.9v.9h-.9zM13.5 2.8h.9v.9h-.9zM19.7 2.6h.9v.9h-.9zM13.4 22.2h.9v.9h-.9zM6.2 11.1h.9v.9h-.9zM15.6 14.9h.9v.9h-.9zM7.5 9.6h.9v.9h-.9zM20.7 16.5h.9v.9h-.9zM4.0 15.7h.9v.9h-.9zM19.7 13.9h.9v.9h-.9zM20.7 6.1h.9v.9h-.9zM6.7 20.0h.9v.9h-.9zM5.9 2.9h.9v.9h-.9zM3.4 20.4h.9v.9h-.9zM19.0 4.6h.9v.9h-.9zM17.1 4.6h.9v.9h-.9zM14.4 0.2h.9v.9h-.9zM13.3 17.3h.9v.9h-.9zM11.7 14.5h.9v.9h-.9zM2.7 10.6h.9v.9h-.9zM18.1 8.6h.9v.9h-.9z"/><path fill="#ffffff" d="M17.2 13.8h.9v.9h-.9zM18.7 17.1h.9v.9h-.9zM7.0 18.9h.9v.9h-.9zM18.9 9.9h.9v.9h-.9zM16.6 9.6h.9v.9h-.9zM13.3 7.5h.9v.9h-.9zM10.7 7.1h.9v.9h-.9zM20.7 14.2h.9v.9h-.9zM14.2 12.1h.9v.9h-.9zM10.7 4.0h.9v.9h-.9zM14.9 10.3h.9v.9h-.9zM7.9 11.8h.9v.9h-.9zM3.0 15.0h.9v.9h-.9zM18.1 8.5h.9v.9h-.9zM3.7 22.4h.9v.9h-.9zM14.3 7.4h.9v.9h-.9zM2.1 13.2h.9v.9h-.9zM5.1 20.8h.9v.9h-.9zM16.6 6.4h.9v.9h-.9zM9.4 2.0h.9v.9h-.9zM5.2 12.9h.9v.9h-.9zM20.4 9.9h.9v.9h-.9zM22.2 5.9h.9v.9h-.9zM2.4 19.4h.9v.9h-.9zM8.7 6.5h.9v.9h-.9zM10.3 14.1h.9v.9h-.9zM5.1 2.5h.9v.9h-.9zM13.8 15.2h.9v.9h-.9zM12.9 3.7h.9v.9h-.9zM19.9 9.9h.9v.9h-.9zM12.5 20.5h.9v.9h-.9zM3.1 11.5h.9v.9h-.9zM9.8 14.7h.9v.9h-.9zM5.2 5.6h.9v.9h-.9zM5.2 12.9h.9v.9h-.9zM6.9 21.4h.9v.9h-.9zM20.1 16.8h.9v.9h-.9zM9.4 19.0h.9v.9h-.9zM13.3 18.1h.9v.9h-.9zM22.1 2.8h.9v.9h-.9zM17.6 20.9h.9v.9h-.9zM9.4 7.9h.9v.9h-.9zM0.7 20.7h.9v.9h-.9zM4.8 0.2h.9v.9h-.9zM2.1 11.9h.9v.9h-.9zM15.8 20.9h.9v.9h-.9zM15.3 2.3h.9v.9h-.9zM21.5 20.1h.9v.9h-.9zM18.6 20.8h.9v.9h-.9zM19.3 15.8h.9v.9h-.9zM17.7 0.5h.9v.9h-.9zM22.9 0.1h.9v.9h-.9zM9.8 13.2h.9v.9h-.9zM11.8 7.8h.9v.9h-.9zM11.7 7.3h.9v.9h-.9zM15.3 0.7h.9v.9h-.9zM8.0 15.0h.9v.9h-.9zM10.6 0.5h.9v.9h-.9zM10.6 21.4h.9v.9h-.9zM12.1 16.9h.9v.9h-.9zM8.8 22.6h.9v.9h-.9zM12.1 18.7h.9v.9h-.9zM14.5 18.8h.9v.9h-.9zM9.1 21.4h.9v.9h-.9zM22.8 20.7h.9v.9h-.9zM21.0 8.4h.9v.9h-.9zM7.8 20.6h.9v.9h-.9zM19.1 13.7h.9v.9h-.9zM12.9 0.3h.9v.9h-.9zM12.9 1.3h.9v.9h-.9zM12.2 5.2h.9v.9h-.9zM14.0 3.6h.9v.9h-.9zM7.6 17.8h.9v.9h-.9zM13.4 3.1h.9v.9h-.9zM22.7 0.5h.9v.9h-.9zM9.5 16.5h.9v.9h-.9zM13.4 15.1h.9v.9h-.9zM20.9 2.2h.9v.9h-.9zM11.7 5.8h.9v.9h-.9zM13.8 10.7h.9v.9h-.9zM14.5 18.5h.9v.9h-.9zM11.6 9.8h.9v.9h-.9zM12.9 3.9h.9v.9h-.9zM21.1 9.0h.9v.9h-.9zM11.5 19.4h.9v.9h-.9zM19.3 23.0h.9v.9h-.9zM16.4 12.3h.9v.9h-.9zM9.9 18.0h.9v.9h-.9zM14.3 0.2h.9v.9h-.9zM13.0 15.5h.9v.9h-.9z"/></pattern>
<pattern id="plast" width="24" height="24" patternUnits="userSpaceOnUse"><path fill="#440154" d="M6.0 15.8h.9v.9h-.9zM15.8 19.6h.9v.9h-.9zM4.3 5.3h.9v.9h-.9zM3.4 5.2h.9v.9h-.9zM17.0 3.0h.9v.9h-.9zM12.3 4.9h.9v.9h-.9zM6.8 10.0h.9v.9h-.9zM19.3 14.1h.9v.9h-.9zM0.3 6.4h.9v.9h-.9zM3.4 20.1h.9v.9h-.9zM18.7 18.6h.9v.9h-.9zM19.1 17.2h.9v.9h-.9zM21.9 18.3h.9v.9h-.9zM5.9 19.6h.9v.9h-.9zM11.2 17.4h.9v.9h-.9zM13.0 9.9h.9v.9h-.9zM8.4 9.9h.9v.9h-.9zM7.2 2.7h.9v.9h-.9zM18.9 18.4h.9v.9h-.9zM22.8 16.0h.9v.9h-.9zM12.8 17.3h.9v.9h-.9zM3.1 15.6h.9v.9h-.9zM10.2 4.1h.9v.9h-.9zM4.7 12.1h.9v.9h-.9zM5.9 10.6h.9v.9h-.9zM14.0 9.1h.9v.9h-.9zM3.0 11.3h.9v.9h-.9zM5.4 5.4h.9v.9h-.9zM4.5 8.5h.9v.9h-.9zM1.7 15.0h.9v.9h-.9zM22.0 9.0h.9v.9h-.9zM16.6 21.6h.9v.9h-.9zM1.0 3.3h.9v.9h-.9zM18.6 19.4h.9v.9h-.9zM14.8 3.7h.9v.9h-.9zM9.6 20.1h.9v.9h-.9zM20.5 18.6h.9v.9h-.9zM4.7 19.7h.9v.9h-.9zM8.7 16.6h.9v.9h-.9zM3.2 22.4h.9v.9h-.9zM13.9 16.7h.9v.9h-.9zM4.9 14.3h.9v.9h-.9zM13.4 13.7h.9v.9h-.9zM8.3 16.8h.9v.9h-.9zM7.9 6.8h.9v.9h-.9zM3.8 15.8h.9v.9h-.9zM2.6 5.2h.9v.9h-.9zM1.6 14.9h.9v.9h-.9zM12.8 12.6h.9v.9h-.9zM0.9 10.2h.9v.9h-.9zM7.9 2.1h.9v.9h-.9zM0.1 23.1h.9v.9h-.9zM2.8 7.0h.9v.9h-.9zM6.2 13.8h.9v.9h-.9zM1.8 10.9h.9v.9h-.9zM8.5 19.3h.9v.9h-.9zM0.1 7.7h.9v.9h-.9zM11.5 22.4h.9v.9h-.9zM11.9 11.0h.9v.9h-.9zM15.5 6.9h.9v.9h-.9zM0.7 11.6h.9v.9h-.9zM21.0 17.1h.9v.9h-.9zM6.0 15.8h.9v.9h-.9zM19.6 6.0h.9v.9h-.9zM13.6 8.2h.9v.9h-.9zM5.6 6.6h.9v.9h-.9zM4.7 8.1h.9v.9h-.9zM0.9 9.2h.9v.9h-.9zM2.0 17.5h.9v.9h-.9zM13.9 0.1h.9v.9h-.9zM17.9 4.4h.9v.9h-.9zM11.1 12.8h.9v.9h-.9zM7.7 6.7h.9v.9h-.9zM10.0 3.2h.9v.9h-.9z"/><path fill="#3b528b" d="M19.9 2.6h.9v.9h-.9zM19.0 5.0h.9v.9h-.9zM7.0 9.0h.9v.9h-.9zM0.8 3.0h.9v.9h-.9zM8.3 10.2h.9v.9h-.9zM20.2 22.9h.9v.9h-.9zM1.0 12.4h.9v.9h-.9zM3.0 18.6h.9v.9h-.9zM7.5 20.6h.9v.9h-.9zM12.6 2.9h.9v.9h-.9zM0.1 5.7h.9v.9h-.9zM20.1 3.5h.9v.9h-.9zM11.1 8.6h.9v.9h-.9zM8.0 18.5h.9v.9h-.9zM4.9 16.6h.9v.9h-.9zM15.4 21.6h.9v.9h-.9zM12.0 21.3h.9v.9h-.9zM10.2 13.2h.9v.9h-.9zM14.3 19.4h.9v.9h-.9zM20.7 2.7h.9v.9h-.9zM3.2 12.3h.9v.9h-.9zM18.8 12.3h.9v.9h-.9zM6.9 22.2h.9v.9h-.9zM6.9 2.0h.9v.9h-.9zM1.2 0.7h.9v.9h-.9zM16.8 2.5h.9v.9h-.9zM16.5 20.0h.9v.9h-.9zM23.1 18.7h.9v.9h-.9zM9.8 14.4h.9v.9h-.9z"/></pattern>
<pattern id="ppy" width="24" height="24" patternUnits="userSpaceOnUse"><path fill="#fde725" d="M12.1 18.6h.9v.9h-.9zM22.2 6.7h.9v.9h-.9zM17.7 16.3h.9v.9h-.9zM15.3 2.5h.9v.9h-.9zM0.6 8.9h.9v.9h-.9zM17.2 5.8h.9v.9h-.9zM11.6 7.3h.9v.9h-.9zM19.6 21.8h.9v.9h-.9zM9.3 23.1h.9v.9h-.9zM1.4 18.8h.9v.9h-.9zM20.2 3.5h.9v.9h-.9zM16.3 12.9h.9v.9h-.9zM22.1 4.9h.9v.9h-.9zM12.5 20.4h.9v.9h-.9zM14.8 7.1h.9v.9h-.9zM1.9 21.7h.9v.9h-.9zM11.0 23.0h.9v.9h-.9zM3.3 18.8h.9v.9h-.9zM18.8 21.3h.9v.9h-.9zM0.4 8.6h.9v.9h-.9zM1.2 17.4h.9v.9h-.9zM8.2 22.2h.9v.9h-.9zM8.7 17.9h.9v.9h-.9zM20.0 5.5h.9v.9h-.9zM12.9 22.1h.9v.9h-.9zM12.2 8.3h.9v.9h-.9zM6.2 18.2h.9v.9h-.9zM4.5 14.0h.9v.9h-.9zM12.8 12.8h.9v.9h-.9zM3.0 15.2h.9v.9h-.9zM21.2 7.4h.9v.9h-.9zM7.7 21.0h.9v.9h-.9zM13.4 6.3h.9v.9h-.9zM0.2 17.4h.9v.9h-.9zM8.0 10.8h.9v.9h-.9zM6.3 14.6h.9v.9h-.9zM16.8 7.2h.9v.9h-.9zM1.7 22.8h.9v.9h-.9zM21.0 0.5h.9v.9h-.9zM13.0 15.8h.9v.9h-.9zM9.3 16.9h.9v.9h-.9zM22.2 13.6h.9v.9h-.9zM9.0 4.5h.9v.9h-.9zM5.8 3.5h.9v.9h-.9zM2.6 4.9h.9v.9h-.9zM19.5 12.4h.9v.9h-.9zM18.6 21.3h.9v.9h-.9zM18.7 1.1h.9v.9h-.9zM21.4 2.1h.9v.9h-.9zM17.8 19.4h.9v.9h-.9zM15.2 9.3h.9v.9h-.9zM1.7 2.0h.9v.9h-.9zM14.7 5.6h.9v.9h-.9zM12.3 6.1h.9v.9h-.9zM3.8 6.8h.9v.9h-.9zM16.7 11.2h.9v.9h-.9zM9.1 11.2h.9v.9h-.9zM12.8 11.9h.9v.9h-.9zM10.3 22.3h.9v.9h-.9zM17.4 5.3h.9v.9h-.9zM7.4 4.4h.9v.9h-.9zM8.4 0.7h.9v.9h-.9zM17.2 13.1h.9v.9h-.9zM9.8 20.6h.9v.9h-.9zM7.6 13.4h.9v.9h-.9zM21.5 12.8h.9v.9h-.9zM14.2 8.5h.9v.9h-.9zM23.1 17.4h.9v.9h-.9zM7.0 8.2h.9v.9h-.9zM13.7 12.0h.9v.9h-.9zM12.1 4.4h.9v.9h-.9zM13.3 16.3h.9v.9h-.9zM17.7 10.4h.9v.9h-.9zM10.3 11.6h.9v.9h-.9zM12.4 11.0h.9v.9h-.9zM0.3 6.1h.9v.9h-.9zM22.8 19.1h.9v.9h-.9zM10.8 17.4h.9v.9h-.9zM4.9 6.2h.9v.9h-.9zM12.0 16.2h.9v.9h-.9zM0.6 10.9h.9v.9h-.9zM20.9 14.1h.9v.9h-.9zM22.9 2.3h.9v.9h-.9zM21.0 19.3h.9v.9h-.9zM0.6 12.4h.9v.9h-.9zM17.5 5.1h.9v.9h-.9zM15.0 19.6h.9v.9h-.9zM18.3 9.9h.9v.9h-.9zM1.3 12.5h.9v.9h-.9zM4.3 12.4h.9v.9h-.9zM6.2 8.0h.9v.9h-.9zM12.6 18.9h.9v.9h-.9zM22.5 9.4h.9v.9h-.9zM0.2 17.3h.9v.9h-.9zM7.8 17.5h.9v.9h-.9zM19.2 0.8h.9v.9h-.9zM16.9 6.6h.9v.9h-.9zM7.4 7.7h.9v.9h-.9zM12.4 5.6h.9v.9h-.9zM11.4 6.5h.9v.9h-.9zM2.9 5.8h.9v.9h-.9zM15.7 7.2h.9v.9h-.9zM4.6 8.4h.9v.9h-.9zM4.9 22.7h.9v.9h-.9zM18.2 3.5h.9v.9h-.9zM6.8 10.1h.9v.9h-.9zM12.2 9.0h.9v.9h-.9zM12.1 17.6h.9v.9h-.9zM3.6 12.9h.9v.9h-.9zM3.8 12.4h.9v.9h-.9zM7.3 18.6h.9v.9h-.9zM20.4 22.1h.9v.9h-.9zM9.4 14.2h.9v.9h-.9zM3.9 16.4h.9v.9h-.9zM18.0 9.9h.9v.9h-.9zM7.4 17.5h.9v.9h-.9zM17.3 18.5h.9v.9h-.9zM6.7 5.6h.9v.9h-.9zM5.8 4.4h.9v.9h-.9zM0.2 2.8h.9v.9h-.9zM11.4 9.9h.9v.9h-.9zM20.6 8.7h.9v.9h-.9zM3.9 21.5h.9v.9h-.9zM1.7 7.8h.9v.9h-.9zM17.6 7.4h.9v.9h-.9zM22.3 17.2h.9v.9h-.9zM7.1 19.9h.9v.9h-.9zM21.3 11.9h.9v.9h-.9zM3.3 2.4h.9v.9h-.9zM18.9 20.5h.9v.9h-.9zM15.1 17.9h.9v.9h-.9zM18.3 5.5h.9v.9h-.9zM4.9 20.0h.9v.9h-.9zM19.4 10.1h.9v.9h-.9zM6.2 1.8h.9v.9h-.9zM9.3 21.0h.9v.9h-.9zM4.7 7.3h.9v.9h-.9zM0.8 13.1h.9v.9h-.9zM1.4 15.6h.9v.9h-.9zM11.4 9.8h.9v.9h-.9zM6.0 7.0h.9v.9h-.9zM20.6 21.7h.9v.9h-.9zM17.4 4.9h.9v.9h-.9zM4.8 8.4h.9v.9h-.9zM20.2 21.8h.9v.9h-.9zM5.3 14.6h.9v.9h-.9zM8.8 10.5h.9v.9h-.9zM4.6 16.7h.9v.9h-.9zM18.1 21.7h.9v.9h-.9zM11.2 10.2h.9v.9h-.9zM14.9 3.0h.9v.9h-.9zM20.3 17.7h.9v.9h-.9zM5.3 9.3h.9v.9h-.9zM11.2 19.7h.9v.9h-.9zM16.0 5.5h.9v.9h-.9zM22.0 21.5h.9v.9h-.9zM19.8 11.4h.9v.9h-.9zM10.9 9.4h.9v.9h-.9zM22.6 11.1h.9v.9h-.9zM22.2 4.2h.9v.9h-.9zM0.7 10.9h.9v.9h-.9zM4.6 5.9h.9v.9h-.9zM0.8 2.9h.9v.9h-.9zM10.2 2.0h.9v.9h-.9zM6.8 14.1h.9v.9h-.9zM6.0 7.2h.9v.9h-.9zM8.7 6.1h.9v.9h-.9zM13.0 17.9h.9v.9h-.9zM0.7 12.4h.9v.9h-.9zM12.4 21.2h.9v.9h-.9zM16.3 6.3h.9v.9h-.9zM14.2 20.8h.9v.9h-.9zM22.0 17.7h.9v.9h-.9zM2.5 8.6h.9v.9h-.9zM11.1 7.6h.9v.9h-.9zM17.5 11.4h.9v.9h-.9zM22.6 0.2h.9v.9h-.9zM18.7 2.6h.9v.9h-.9zM12.0 3.4h.9v.9h-.9zM8.8 14.1h.9v.9h-.9zM22.1 0.9h.9v.9h-.9zM9.0 2.5h.9v.9h-.9zM17.2 3.3h.9v.9h-.9zM4.5 18.7h.9v.9h-.9zM1.1 20.5h.9v.9h-.9zM6.2 23.0h.9v.9h-.9zM2.5 2.2h.9v.9h-.9zM11.0 7.1h.9v.9h-.9zM14.9 7.0h.9v.9h-.9zM7.6 0.4h.9v.9h-.9zM2.0 0.1h.9v.9h-.9zM10.7 20.2h.9v.9h-.9zM12.4 7.5h.9v.9h-.9zM10.6 17.7h.9v.9h-.9zM20.1 2.2h.9v.9h-.9zM14.9 6.9h.9v.9h-.9zM21.5 16.7h.9v.9h-.9zM13.6 15.4h.9v.9h-.9zM17.6 1.6h.9v.9h-.9zM7.4 0.9h.9v.9h-.9zM3.6 21.4h.9v.9h-.9zM13.2 4.6h.9v.9h-.9zM6.8 9.7h.9v.9h-.9zM2.0 18.8h.9v.9h-.9zM8.8 1.3h.9v.9h-.9zM11.9 9.6h.9v.9h-.9zM17.6 6.1h.9v.9h-.9zM5.5 11.6h.9v.9h-.9zM9.4 3.0h.9v.9h-.9zM17.0 20.0h.9v.9h-.9zM19.2 15.2h.9v.9h-.9zM10.9 18.3h.9v.9h-.9zM4.9 2.3h.9v.9h-.9zM4.7 12.3h.9v.9h-.9zM4.8 10.1h.9v.9h-.9zM18.8 14.3h.9v.9h-.9zM4.6 2.8h.9v.9h-.9zM0.1 1.2h.9v.9h-.9zM6.0 16.4h.9v.9h-.9zM19.2 8.9h.9v.9h-.9zM1.1 12.9h.9v.9h-.9zM21.9 0.4h.9v.9h-.9zM14.5 23.1h.9v.9h-.9zM7.5 13.7h.9v.9h-.9zM18.7 15.4h.9v.9h-.9zM4.0 18.2h.9v.9h-.9zM13.5 15.2h.9v.9h-.9zM13.8 19.1h.9v.9h-.9zM13.2 21.3h.9v.9h-.9zM2.6 0.6h.9v.9h-.9zM3.2 11.7h.9v.9h-.9zM16.6 21.2h.9v.9h-.9zM0.2 0.2h.9v.9h-.9zM8.8 15.2h.9v.9h-.9zM9.2 6.5h.9v.9h-.9zM4.7 16.5h.9v.9h-.9zM14.0 22.0h.9v.9h-.9zM7.6 11.0h.9v.9h-.9zM22.2 16.2h.9v.9h-.9zM6.0 16.8h.9v.9h-.9zM10.3 2.1h.9v.9h-.9zM2.4 11.5h.9v.9h-.9zM7.2 6.0h.9v.9h-.9zM16.7 6.0h.9v.9h-.9zM10.4 11.7h.9v.9h-.9zM0.2 18.6h.9v.9h-.9zM6.2 3.7h.9v.9h-.9zM11.9 4.9h.9v.9h-.9zM0.7 2.6h.9v.9h-.9zM0.9 8.2h.9v.9h-.9zM7.5 4.8h.9v.9h-.9zM4.0 19.5h.9v.9h-.9zM13.3 14.0h.9v.9h-.9zM0.2 21.3h.9v.9h-.9zM0.7 17.6h.9v.9h-.9zM15.1 9.5h.9v.9h-.9zM7.7 12.5h.9v.9h-.9zM13.4 19.5h.9v.9h-.9zM1.3 2.1h.9v.9h-.9zM14.4 6.6h.9v.9h-.9zM13.4 8.8h.9v.9h-.9zM0.8 19.0h.9v.9h-.9zM4.3 7.7h.9v.9h-.9zM17.2 21.1h.9v.9h-.9zM19.8 21.5h.9v.9h-.9zM7.4 5.4h.9v.9h-.9zM10.6 19.1h.9v.9h-.9zM15.0 14.4h.9v.9h-.9zM16.3 5.0h.9v.9h-.9zM13.1 9.9h.9v.9h-.9zM20.3 7.2h.9v.9h-.9zM12.6 14.6h.9v.9h-.9zM16.3 18.2h.9v.9h-.9zM17.3 3.1h.9v.9h-.9z"/><path fill="#21918c" d="M22.3 0.9h.9v.9h-.9zM16.9 7.0h.9v.9h-.9zM2.3 8.4h.9v.9h-.9zM2.6 4.9h.9v.9h-.9zM22.3 18.8h.9v.9h-.9zM8.5 11.4h.9v.9h-.9zM13.8 7.3h.9v.9h-.9zM3.1 10.2h.9v.9h-.9zM19.5 22.2h.9v.9h-.9zM14.0 18.5h.9v.9h-.9zM9.7 18.1h.9v.9h-.9zM18.7 20.9h.9v.9h-.9zM4.5 12.1h.9v.9h-.9zM1.7 13.4h.9v.9h-.9zM10.9 13.7h.9v.9h-.9zM12.3 7.9h.9v.9h-.9zM3.3 7.4h.9v.9h-.9zM18.0 6.4h.9v.9h-.9zM22.3 19.4h.9v.9h-.9zM6.1 10.5h.9v.9h-.9zM18.4 0.2h.9v.9h-.9zM17.8 9.4h.9v.9h-.9zM15.6 0.2h.9v.9h-.9zM15.0 1.3h.9v.9h-.9zM6.6 14.2h.9v.9h-.9zM14.6 8.4h.9v.9h-.9zM6.0 8.4h.9v.9h-.9zM7.0 5.3h.9v.9h-.9zM5.7 11.5h.9v.9h-.9zM17.4 19.0h.9v.9h-.9zM9.1 21.8h.9v.9h-.9zM8.0 19.3h.9v.9h-.9zM18.8 17.4h.9v.9h-.9zM21.0 14.0h.9v.9h-.9zM20.4 6.3h.9v.9h-.9zM11.7 13.1h.9v.9h-.9zM12.3 1.4h.9v.9h-.9zM5.9 14.6h.9v.9h-.9zM8.5 16.2h.9v.9h-.9zM16.9 12.8h.9v.9h-.9zM3.1 10.3h.9v.9h-.9zM21.3 7.3h.9v.9h-.9zM2.1 17.8h.9v.9h-.9zM8.5 4.6h.9v.9h-.9zM11.9 21.1h.9v.9h-.9zM13.0 4.9h.9v.9h-.9zM0.2 9.7h.9v.9h-.9zM6.1 22.3h.9v.9h-.9zM20.4 22.6h.9v.9h-.9zM21.1 6.5h.9v.9h-.9zM14.7 12.7h.9v.9h-.9zM12.3 12.5h.9v.9h-.9zM5.0 3.6h.9v.9h-.9zM1.3 15.9h.9v.9h-.9zM3.9 20.0h.9v.9h-.9zM15.0 7.1h.9v.9h-.9zM20.7 2.1h.9v.9h-.9zM4.7 18.4h.9v.9h-.9zM8.6 21.0h.9v.9h-.9zM11.4 0.0h.9v.9h-.9zM21.5 22.8h.9v.9h-.9zM10.4 16.5h.9v.9h-.9zM15.8 2.3h.9v.9h-.9zM17.5 11.4h.9v.9h-.9zM16.0 0.1h.9v.9h-.9zM9.4 4.6h.9v.9h-.9zM21.4 0.7h.9v.9h-.9zM0.6 7.5h.9v.9h-.9zM18.9 4.5h.9v.9h-.9zM15.8 18.2h.9v.9h-.9zM13.8 8.9h.9v.9h-.9zM17.2 2.8h.9v.9h-.9zM6.2 20.0h.9v.9h-.9zM5.0 6.0h.9v.9h-.9z"/><path fill="#5ec962" d="M3.1 12.3h.9v.9h-.9zM21.4 3.3h.9v.9h-.9zM11.9 20.6h.9v.9h-.9zM2.0 11.2h.9v.9h-.9zM6.9 12.7h.9v.9h-.9zM21.8 21.6h.9v.9h-.9zM7.7 4.7h.9v.9h-.9zM11.9 21.8h.9v.9h-.9zM5.6 6.3h.9v.9h-.9zM8.9 21.7h.9v.9h-.9zM6.9 4.5h.9v.9h-.9zM9.3 12.5h.9v.9h-.9zM5.1 17.9h.9v.9h-.9zM4.5 12.2h.9v.9h-.9zM8.3 20.4h.9v.9h-.9zM22.5 10.7h.9v.9h-.9zM9.2 9.3h.9v.9h-.9zM14.5 3.7h.9v.9h-.9zM0.9 6.1h.9v.9h-.9zM13.1 7.9h.9v.9h-.9zM3.8 12.7h.9v.9h-.9zM22.2 21.8h.9v.9h-.9zM5.7 4.5h.9v.9h-.9zM15.8 19.9h.9v.9h-.9zM2.8 11.9h.9v.9h-.9zM7.3 22.3h.9v.9h-.9zM21.9 5.7h.9v.9h-.9zM22.1 3.3h.9v.9h-.9zM5.8 21.7h.9v.9h-.9zM8.0 22.0h.9v.9h-.9zM13.4 14.6h.9v.9h-.9zM21.2 16.9h.9v.9h-.9zM7.5 9.7h.9v.9h-.9zM8.1 5.5h.9v.9h-.9zM7.4 16.3h.9v.9h-.9zM10.0 1.3h.9v.9h-.9z"/><path fill="#ffffff" d="M18.8 15.4h.9v.9h-.9zM21.2 13.3h.9v.9h-.9zM7.9 18.4h.9v.9h-.9zM16.2 13.4h.9v.9h-.9zM13.9 8.5h.9v.9h-.9zM6.4 0.8h.9v.9h-.9zM10.0 11.8h.9v.9h-.9zM4.0 21.5h.9v.9h-.9zM21.1 7.5h.9v.9h-.9zM3.1 1.8h.9v.9h-.9zM14.6 17.6h.9v.9h-.9zM9.9 18.1h.9v.9h-.9zM5.7 7.6h.9v.9h-.9zM5.2 0.5h.9v.9h-.9zM0.2 20.5h.9v.9h-.9zM3.3 2.1h.9v.9h-.9zM15.0 7.6h.9v.9h-.9zM12.5 0.7h.9v.9h-.9zM1.4 11.1h.9v.9h-.9zM22.0 4.0h.9v.9h-.9zM3.3 17.8h.9v.9h-.9zM17.4 11.9h.9v.9h-.9zM16.8 7.8h.9v.9h-.9zM5.3 7.5h.9v.9h-.9zM6.5 13.2h.9v.9h-.9zM17.4 18.7h.9v.9h-.9zM15.3 4.4h.9v.9h-.9zM16.4 5.7h.9v.9h-.9zM3.1 9.8h.9v.9h-.9zM23.0 9.4h.9v.9h-.9zM15.7 18.0h.9v.9h-.9zM14.7 4.0h.9v.9h-.9zM15.1 15.7h.9v.9h-.9zM6.3 2.8h.9v.9h-.9zM1.3 16.1h.9v.9h-.9zM21.2 0.4h.9v.9h-.9zM9.5 18.3h.9v.9h-.9zM19.7 17.7h.9v.9h-.9zM3.7 8.1h.9v.9h-.9zM1.3 8.9h.9v.9h-.9zM17.2 6.0h.9v.9h-.9zM22.5 6.0h.9v.9h-.9zM11.4 12.6h.9v.9h-.9zM12.0 16.5h.9v.9h-.9zM11.7 18.7h.9v.9h-.9zM13.4 22.1h.9v.9h-.9zM19.4 20.5h.9v.9h-.9zM21.8 15.1h.9v.9h-.9zM9.8 4.2h.9v.9h-.9zM5.7 11.5h.9v.9h-.9zM17.5 11.1h.9v.9h-.9zM1.2 6.6h.9v.9h-.9zM12.6 4.1h.9v.9h-.9zM20.5 7.1h.9v.9h-.9zM2.6 21.1h.9v.9h-.9zM10.6 4.8h.9v.9h-.9zM2.1 12.1h.9v.9h-.9zM21.7 7.3h.9v.9h-.9zM8.4 19.9h.9v.9h-.9zM14.9 17.9h.9v.9h-.9zM0.1 19.9h.9v.9h-.9zM22.8 8.9h.9v.9h-.9zM18.7 2.9h.9v.9h-.9zM5.8 21.3h.9v.9h-.9zM5.1 8.8h.9v.9h-.9zM7.3 3.4h.9v.9h-.9zM20.9 1.9h.9v.9h-.9zM22.0 7.8h.9v.9h-.9zM15.3 7.9h.9v.9h-.9zM6.8 13.8h.9v.9h-.9zM21.5 14.7h.9v.9h-.9zM4.8 14.2h.9v.9h-.9zM15.7 22.7h.9v.9h-.9zM9.0 20.9h.9v.9h-.9zM10.7 22.9h.9v.9h-.9zM12.8 6.4h.9v.9h-.9zM16.5 21.3h.9v.9h-.9zM3.4 8.7h.9v.9h-.9zM11.0 21.3h.9v.9h-.9zM21.1 5.7h.9v.9h-.9zM14.9 15.0h.9v.9h-.9zM13.2 1.2h.9v.9h-.9zM9.7 21.0h.9v.9h-.9zM6.3 21.7h.9v.9h-.9zM17.7 9.2h.9v.9h-.9zM5.3 4.8h.9v.9h-.9zM20.1 14.2h.9v.9h-.9zM19.1 9.7h.9v.9h-.9zM14.8 7.5h.9v.9h-.9zM3.7 10.6h.9v.9h-.9zM4.7 11.0h.9v.9h-.9zM8.1 4.0h.9v.9h-.9zM7.1 20.7h.9v.9h-.9zM20.3 20.0h.9v.9h-.9zM5.1 10.6h.9v.9h-.9zM15.5 4.0h.9v.9h-.9zM9.0 17.7h.9v.9h-.9zM22.1 3.4h.9v.9h-.9zM11.7 11.5h.9v.9h-.9zM10.1 20.3h.9v.9h-.9zM0.4 18.9h.9v.9h-.9zM19.2 8.7h.9v.9h-.9zM17.4 17.9h.9v.9h-.9zM9.6 2.9h.9v.9h-.9zM5.2 21.7h.9v.9h-.9zM8.2 18.1h.9v.9h-.9zM2.0 18.5h.9v.9h-.9zM6.3 15.3h.9v.9h-.9zM6.7 16.9h.9v.9h-.9zM16.2 22.8h.9v.9h-.9zM4.7 9.6h.9v.9h-.9zM20.6 14.6h.9v.9h-.9zM2.3 2.3h.9v.9h-.9zM13.7 3.1h.9v.9h-.9zM1.7 10.5h.9v.9h-.9zM6.7 11.0h.9v.9h-.9zM11.2 15.2h.9v.9h-.9zM3.7 21.5h.9v.9h-.9zM1.8 18.5h.9v.9h-.9zM9.5 10.7h.9v.9h-.9zM13.4 9.2h.9v.9h-.9zM10.8 22.5h.9v.9h-.9zM13.8 12.7h.9v.9h-.9zM6.0 21.8h.9v.9h-.9zM15.3 7.1h.9v.9h-.9zM22.3 6.1h.9v.9h-.9zM21.9 21.9h.9v.9h-.9zM18.7 6.6h.9v.9h-.9zM21.9 11.6h.9v.9h-.9zM0.2 10.8h.9v.9h-.9zM12.4 9.5h.9v.9h-.9zM0.2 3.7h.9v.9h-.9zM5.2 7.7h.9v.9h-.9zM6.0 13.7h.9v.9h-.9zM18.3 13.6h.9v.9h-.9zM11.9 5.3h.9v.9h-.9zM10.0 7.3h.9v.9h-.9zM9.3 6.6h.9v.9h-.9zM22.5 12.5h.9v.9h-.9zM9.5 21.2h.9v.9h-.9zM13.7 19.8h.9v.9h-.9z"/></pattern>
<pattern id="pEr" width="24" height="24" patternUnits="userSpaceOnUse"><path fill="#440154" d="M4.2 15.3h.9v.9h-.9zM7.7 4.6h.9v.9h-.9zM11.3 11.4h.9v.9h-.9zM11.1 10.6h.9v.9h-.9zM6.1 5.9h.9v.9h-.9zM16.0 7.5h.9v.9h-.9zM15.6 18.2h.9v.9h-.9zM20.0 21.8h.9v.9h-.9zM5.4 5.5h.9v.9h-.9zM17.0 13.3h.9v.9h-.9zM4.7 15.7h.9v.9h-.9zM20.2 19.3h.9v.9h-.9zM5.0 6.9h.9v.9h-.9zM0.2 22.5h.9v.9h-.9zM5.1 16.8h.9v.9h-.9zM12.4 13.7h.9v.9h-.9zM12.2 19.1h.9v.9h-.9zM13.9 7.0h.9v.9h-.9zM2.7 11.0h.9v.9h-.9zM21.3 3.4h.9v.9h-.9zM15.8 14.6h.9v.9h-.9zM3.7 4.8h.9v.9h-.9zM15.9 10.1h.9v.9h-.9zM9.4 11.1h.9v.9h-.9zM2.3 16.3h.9v.9h-.9zM13.6 12.3h.9v.9h-.9zM7.8 18.7h.9v.9h-.9zM19.0 12.6h.9v.9h-.9zM2.0 3.4h.9v.9h-.9zM3.5 1.8h.9v.9h-.9zM15.0 12.6h.9v.9h-.9zM4.7 21.0h.9v.9h-.9zM14.5 18.3h.9v.9h-.9zM18.9 15.7h.9v.9h-.9zM12.2 22.7h.9v.9h-.9zM3.1 15.9h.9v.9h-.9zM20.4 11.1h.9v.9h-.9zM18.9 4.2h.9v.9h-.9zM9.6 6.3h.9v.9h-.9zM9.2 16.2h.9v.9h-.9zM3.3 7.8h.9v.9h-.9zM19.5 7.0h.9v.9h-.9zM2.9 23.0h.9v.9h-.9zM12.5 0.4h.9v.9h-.9zM13.2 3.4h.9v.9h-.9zM3.8 17.1h.9v.9h-.9zM15.1 9.8h.9v.9h-.9zM11.9 12.9h.9v.9h-.9zM10.6 2.3h.9v.9h-.9zM17.8 17.8h.9v.9h-.9zM9.7 9.3h.9v.9h-.9zM14.1 10.9h.9v.9h-.9zM9.6 20.2h.9v.9h-.9zM20.9 3.5h.9v.9h-.9zM4.0 18.1h.9v.9h-.9zM22.1 16.9h.9v.9h-.9zM6.9 1.4h.9v.9h-.9zM19.1 21.5h.9v.9h-.9zM17.5 17.0h.9v.9h-.9zM22.5 12.1h.9v.9h-.9zM21.5 6.1h.9v.9h-.9zM1.8 19.4h.9v.9h-.9zM16.1 18.4h.9v.9h-.9zM3.0 6.9h.9v.9h-.9zM13.6 1.5h.9v.9h-.9zM7.6 13.9h.9v.9h-.9zM21.6 16.6h.9v.9h-.9zM9.2 9.4h.9v.9h-.9zM11.8 17.1h.9v.9h-.9zM23.0 0.3h.9v.9h-.9zM21.4 18.5h.9v.9h-.9zM1.1 5.9h.9v.9h-.9zM6.3 5.0h.9v.9h-.9zM3.7 3.1h.9v.9h-.9zM15.6 10.1h.9v.9h-.9zM2.5 19.5h.9v.9h-.9zM19.3 6.0h.9v.9h-.9zM19.2 17.9h.9v.9h-.9zM12.2 2.0h.9v.9h-.9zM16.4 20.2h.9v.9h-.9zM20.5 21.9h.9v.9h-.9zM3.8 22.5h.9v.9h-.9zM2.2 8.4h.9v.9h-.9zM12.5 14.8h.9v.9h-.9zM12.2 21.0h.9v.9h-.9zM17.9 19.8h.9v.9h-.9zM15.6 10.5h.9v.9h-.9zM0.5 14.9h.9v.9h-.9zM21.6 4.4h.9v.9h-.9zM23.0 0.4h.9v.9h-.9zM9.2 17.3h.9v.9h-.9zM16.5 13.3h.9v.9h-.9zM6.5 5.7h.9v.9h-.9zM3.2 14.9h.9v.9h-.9zM0.4 3.0h.9v.9h-.9zM16.6 10.3h.9v.9h-.9zM0.4 9.8h.9v.9h-.9zM21.4 11.8h.9v.9h-.9zM6.2 3.2h.9v.9h-.9zM11.5 5.6h.9v.9h-.9zM6.4 1.4h.9v.9h-.9zM14.0 18.3h.9v.9h-.9zM11.7 14.1h.9v.9h-.9zM6.8 22.9h.9v.9h-.9zM6.6 21.2h.9v.9h-.9zM0.3 15.3h.9v.9h-.9zM20.1 13.1h.9v.9h-.9zM5.0 3.9h.9v.9h-.9zM22.8 22.9h.9v.9h-.9zM5.5 9.5h.9v.9h-.9zM19.1 20.0h.9v.9h-.9zM0.7 12.6h.9v.9h-.9zM5.8 1.9h.9v.9h-.9zM16.0 11.2h.9v.9h-.9zM4.8 17.6h.9v.9h-.9zM7.5 6.1h.9v.9h-.9zM6.9 4.5h.9v.9h-.9zM19.5 7.6h.9v.9h-.9zM21.5 15.9h.9v.9h-.9zM12.4 20.7h.9v.9h-.9zM8.6 0.8h.9v.9h-.9zM15.2 1.5h.9v.9h-.9zM21.4 22.5h.9v.9h-.9zM9.0 2.1h.9v.9h-.9zM22.1 6.0h.9v.9h-.9zM22.3 11.0h.9v.9h-.9zM20.5 20.2h.9v.9h-.9zM3.5 7.7h.9v.9h-.9zM10.0 4.6h.9v.9h-.9zM21.5 4.8h.9v.9h-.9zM5.5 4.2h.9v.9h-.9zM3.5 18.8h.9v.9h-.9zM4.7 13.6h.9v.9h-.9zM2.9 18.7h.9v.9h-.9zM18.1 21.8h.9v.9h-.9zM1.3 15.5h.9v.9h-.9zM16.8 7.8h.9v.9h-.9zM15.9 7.4h.9v.9h-.9zM13.5 19.7h.9v.9h-.9zM19.1 7.7h.9v.9h-.9zM6.0 22.0h.9v.9h-.9zM5.4 10.9h.9v.9h-.9zM9.7 8.4h.9v.9h-.9zM12.3 2.7h.9v.9h-.9zM10.7 15.5h.9v.9h-.9zM19.6 11.3h.9v.9h-.9zM5.3 6.5h.9v.9h-.9zM4.4 3.4h.9v.9h-.9zM7.1 8.9h.9v.9h-.9zM21.8 17.5h.9v.9h-.9zM21.3 11.4h.9v.9h-.9zM4.5 13.2h.9v.9h-.9zM16.1 23.0h.9v.9h-.9zM5.3 17.6h.9v.9h-.9zM22.2 9.1h.9v.9h-.9zM12.0 2.5h.9v.9h-.9zM15.5 1.3h.9v.9h-.9zM18.0 17.5h.9v.9h-.9zM19.2 19.5h.9v.9h-.9zM1.6 20.2h.9v.9h-.9zM16.3 21.9h.9v.9h-.9zM20.8 11.1h.9v.9h-.9zM19.8 4.6h.9v.9h-.9zM22.4 15.6h.9v.9h-.9zM18.8 12.6h.9v.9h-.9zM13.3 5.6h.9v.9h-.9zM18.5 12.1h.9v.9h-.9zM5.2 17.4h.9v.9h-.9zM13.4 9.9h.9v.9h-.9zM18.6 9.8h.9v.9h-.9zM15.7 12.5h.9v.9h-.9zM8.4 8.2h.9v.9h-.9zM13.6 4.2h.9v.9h-.9zM4.0 7.3h.9v.9h-.9zM16.5 4.3h.9v.9h-.9zM17.8 7.6h.9v.9h-.9z"/><path fill="#21918c" d="M21.8 2.5h.9v.9h-.9zM19.7 19.0h.9v.9h-.9zM19.2 14.6h.9v.9h-.9zM6.9 22.1h.9v.9h-.9zM5.1 16.2h.9v.9h-.9zM9.4 1.6h.9v.9h-.9zM9.6 7.3h.9v.9h-.9zM18.2 4.8h.9v.9h-.9zM19.1 0.7h.9v.9h-.9zM2.0 14.4h.9v.9h-.9zM21.5 14.2h.9v.9h-.9zM3.7 21.1h.9v.9h-.9zM15.5 0.1h.9v.9h-.9zM3.1 9.0h.9v.9h-.9zM12.3 13.1h.9v.9h-.9zM19.3 14.2h.9v.9h-.9zM22.2 9.4h.9v.9h-.9zM7.8 15.3h.9v.9h-.9zM20.8 9.9h.9v.9h-.9zM1.1 8.8h.9v.9h-.9zM4.7 20.7h.9v.9h-.9zM7.6 10.5h.9v.9h-.9zM14.3 1.3h.9v.9h-.9zM2.1 12.0h.9v.9h-.9zM5.8 1.4h.9v.9h-.9zM17.2 17.0h.9v.9h-.9zM14.2 3.0h.9v.9h-.9zM18.8 23.0h.9v.9h-.9zM2.6 15.7h.9v.9h-.9zM1.2 2.6h.9v.9h-.9zM7.7 22.3h.9v.9h-.9zM10.5 12.5h.9v.9h-.9zM20.5 9.1h.9v.9h-.9zM6.7 1.9h.9v.9h-.9zM5.4 14.2h.9v.9h-.9zM20.4 22.8h.9v.9h-.9zM6.1 15.4h.9v.9h-.9zM7.4 12.9h.9v.9h-.9zM0.4 21.5h.9v.9h-.9zM18.0 17.5h.9v.9h-.9zM14.7 8.8h.9v.9h-.9zM19.4 11.7h.9v.9h-.9zM15.3 6.3h.9v.9h-.9zM4.3 16.6h.9v.9h-.9zM7.3 1.0h.9v.9h-.9zM6.9 9.7h.9v.9h-.9zM4.4 3.2h.9v.9h-.9zM16.5 10.7h.9v.9h-.9zM11.7 16.5h.9v.9h-.9zM1.1 11.9h.9v.9h-.9zM22.8 6.4h.9v.9h-.9zM16.2 4.1h.9v.9h-.9zM8.7 10.4h.9v.9h-.9zM5.0 5.5h.9v.9h-.9zM7.7 10.9h.9v.9h-.9zM9.0 11.4h.9v.9h-.9zM5.7 12.6h.9v.9h-.9zM17.7 10.9h.9v.9h-.9zM8.3 19.0h.9v.9h-.9zM14.5 11.5h.9v.9h-.9zM7.2 22.1h.9v.9h-.9zM2.7 21.3h.9v.9h-.9zM7.1 21.2h.9v.9h-.9zM1.0 16.0h.9v.9h-.9zM11.0 14.2h.9v.9h-.9zM2.0 8.7h.9v.9h-.9zM8.4 12.9h.9v.9h-.9zM16.6 22.0h.9v.9h-.9zM6.7 1.1h.9v.9h-.9zM4.2 21.2h.9v.9h-.9zM12.7 15.4h.9v.9h-.9zM23.0 18.4h.9v.9h-.9zM13.6 18.0h.9v.9h-.9zM3.9 19.0h.9v.9h-.9zM4.0 20.4h.9v.9h-.9zM19.7 13.2h.9v.9h-.9zM6.4 2.9h.9v.9h-.9zM11.3 4.9h.9v.9h-.9zM8.5 3.5h.9v.9h-.9zM1.9 18.3h.9v.9h-.9zM18.1 13.7h.9v.9h-.9zM14.4 18.9h.9v.9h-.9zM13.7 14.6h.9v.9h-.9zM1.3 1.8h.9v.9h-.9zM16.0 12.5h.9v.9h-.9zM6.6 18.7h.9v.9h-.9zM10.7 13.4h.9v.9h-.9zM22.1 10.3h.9v.9h-.9zM20.6 11.5h.9v.9h-.9zM15.4 17.2h.9v.9h-.9zM11.8 12.3h.9v.9h-.9zM19.9 17.6h.9v.9h-.9zM14.1 16.4h.9v.9h-.9zM6.0 12.9h.9v.9h-.9zM19.3 16.7h.9v.9h-.9zM21.5 1.2h.9v.9h-.9zM3.9 5.2h.9v.9h-.9zM22.0 20.8h.9v.9h-.9zM6.3 1.6h.9v.9h-.9zM7.7 19.2h.9v.9h-.9zM19.3 14.4h.9v.9h-.9zM21.7 17.8h.9v.9h-.9zM0.3 4.0h.9v.9h-.9zM19.1 17.7h.9v.9h-.9zM20.1 13.7h.9v.9h-.9zM21.1 0.0h.9v.9h-.9zM8.8 0.9h.9v.9h-.9zM22.7 20.0h.9v.9h-.9zM15.1 12.7h.9v.9h-.9zM12.1 13.5h.9v.9h-.9zM6.6 2.6h.9v.9h-.9zM19.6 19.1h.9v.9h-.9zM6.2 9.9h.9v.9h-.9zM9.5 17.6h.9v.9h-.9zM7.8 15.6h.9v.9h-.9zM2.8 21.3h.9v.9h-.9zM15.4 8.7h.9v.9h-.9zM11.8 15.9h.9v.9h-.9zM12.9 3.0h.9v.9h-.9zM3.6 2.4h.9v.9h-.9zM14.6 23.1h.9v.9h-.9zM2.7 19.9h.9v.9h-.9zM17.7 5.9h.9v.9h-.9zM10.8 1.9h.9v.9h-.9zM18.8 10.8h.9v.9h-.9zM19.3 9.8h.9v.9h-.9zM10.1 12.6h.9v.9h-.9zM18.2 13.2h.9v.9h-.9zM15.0 9.4h.9v.9h-.9zM4.4 5.5h.9v.9h-.9zM19.0 0.4h.9v.9h-.9zM18.7 12.4h.9v.9h-.9zM8.1 10.5h.9v.9h-.9zM9.4 16.7h.9v.9h-.9zM16.9 21.3h.9v.9h-.9zM11.1 14.7h.9v.9h-.9zM4.5 16.1h.9v.9h-.9zM0.4 19.6h.9v.9h-.9zM21.2 10.2h.9v.9h-.9zM2.9 4.1h.9v.9h-.9zM14.0 0.2h.9v.9h-.9z"/><path fill="#fde725" d="M7.2 0.1h.9v.9h-.9zM1.6 2.4h.9v.9h-.9zM21.5 17.7h.9v.9h-.9zM10.6 16.1h.9v.9h-.9zM2.6 16.6h.9v.9h-.9zM5.5 16.2h.9v.9h-.9zM8.7 19.8h.9v.9h-.9zM1.5 1.5h.9v.9h-.9zM20.3 19.1h.9v.9h-.9zM7.9 2.9h.9v.9h-.9zM12.4 11.7h.9v.9h-.9zM9.4 19.2h.9v.9h-.9zM2.0 9.0h.9v.9h-.9zM14.8 11.6h.9v.9h-.9zM9.9 14.1h.9v.9h-.9zM4.0 11.7h.9v.9h-.9zM1.2 6.1h.9v.9h-.9zM0.9 6.5h.9v.9h-.9zM0.9 23.0h.9v.9h-.9zM21.7 0.9h.9v.9h-.9zM3.1 21.4h.9v.9h-.9zM22.0 21.5h.9v.9h-.9zM22.9 12.1h.9v.9h-.9zM22.9 22.5h.9v.9h-.9zM6.9 11.5h.9v.9h-.9zM11.3 22.3h.9v.9h-.9zM14.5 7.7h.9v.9h-.9zM18.1 7.9h.9v.9h-.9zM14.0 7.1h.9v.9h-.9zM10.1 12.0h.9v.9h-.9zM1.6 15.7h.9v.9h-.9zM19.6 1.2h.9v.9h-.9zM4.9 14.4h.9v.9h-.9zM8.1 0.9h.9v.9h-.9zM6.8 4.7h.9v.9h-.9zM22.1 17.9h.9v.9h-.9zM2.1 10.7h.9v.9h-.9zM20.2 9.0h.9v.9h-.9zM6.0 5.4h.9v.9h-.9zM9.0 18.9h.9v.9h-.9zM22.7 22.6h.9v.9h-.9zM20.3 0.9h.9v.9h-.9zM15.2 15.2h.9v.9h-.9zM2.9 0.7h.9v.9h-.9zM11.1 7.1h.9v.9h-.9zM20.2 16.0h.9v.9h-.9zM8.8 18.2h.9v.9h-.9zM0.5 12.2h.9v.9h-.9zM6.3 6.6h.9v.9h-.9zM13.0 15.7h.9v.9h-.9zM22.0 11.6h.9v.9h-.9zM4.9 21.2h.9v.9h-.9zM19.3 19.9h.9v.9h-.9zM12.3 0.1h.9v.9h-.9zM17.6 2.2h.9v.9h-.9zM10.7 4.8h.9v.9h-.9zM16.7 10.3h.9v.9h-.9zM21.4 20.9h.9v.9h-.9zM7.1 6.2h.9v.9h-.9zM16.6 20.6h.9v.9h-.9zM21.7 11.7h.9v.9h-.9zM6.6 5.0h.9v.9h-.9zM17.8 7.5h.9v.9h-.9zM19.2 22.3h.9v.9h-.9zM15.9 12.4h.9v.9h-.9zM22.1 16.9h.9v.9h-.9zM14.1 14.2h.9v.9h-.9zM12.4 7.1h.9v.9h-.9zM1.5 14.8h.9v.9h-.9zM1.5 10.0h.9v.9h-.9zM8.6 18.1h.9v.9h-.9zM15.7 20.2h.9v.9h-.9zM13.9 11.8h.9v.9h-.9zM5.6 6.7h.9v.9h-.9zM9.5 12.2h.9v.9h-.9zM10.8 4.3h.9v.9h-.9zM5.9 19.6h.9v.9h-.9zM14.2 4.7h.9v.9h-.9zM6.8 7.5h.9v.9h-.9zM2.0 15.6h.9v.9h-.9zM11.8 9.9h.9v.9h-.9zM18.1 15.0h.9v.9h-.9zM15.3 19.9h.9v.9h-.9zM15.7 2.1h.9v.9h-.9zM20.0 22.3h.9v.9h-.9zM19.0 1.8h.9v.9h-.9zM19.9 16.1h.9v.9h-.9zM9.9 16.0h.9v.9h-.9zM11.9 19.6h.9v.9h-.9zM15.7 17.4h.9v.9h-.9zM17.1 10.5h.9v.9h-.9zM0.1 13.2h.9v.9h-.9zM11.3 14.2h.9v.9h-.9zM17.8 15.8h.9v.9h-.9zM3.9 6.3h.9v.9h-.9zM3.1 20.6h.9v.9h-.9zM3.1 2.5h.9v.9h-.9zM22.4 14.8h.9v.9h-.9zM16.7 23.1h.9v.9h-.9zM0.7 12.7h.9v.9h-.9zM8.1 19.0h.9v.9h-.9zM2.1 3.4h.9v.9h-.9zM16.2 21.8h.9v.9h-.9zM17.6 6.7h.9v.9h-.9zM10.0 7.9h.9v.9h-.9zM11.2 9.7h.9v.9h-.9zM16.9 19.4h.9v.9h-.9zM9.3 13.3h.9v.9h-.9zM20.5 6.9h.9v.9h-.9zM20.9 3.6h.9v.9h-.9zM7.4 18.2h.9v.9h-.9zM10.7 10.2h.9v.9h-.9zM12.4 3.7h.9v.9h-.9zM10.9 7.5h.9v.9h-.9zM0.8 13.4h.9v.9h-.9zM15.7 2.3h.9v.9h-.9zM1.5 3.5h.9v.9h-.9zM3.5 5.4h.9v.9h-.9zM14.1 9.0h.9v.9h-.9zM5.2 12.7h.9v.9h-.9zM17.6 16.7h.9v.9h-.9zM19.1 14.4h.9v.9h-.9zM10.3 14.3h.9v.9h-.9zM6.1 19.6h.9v.9h-.9zM0.6 17.5h.9v.9h-.9zM4.8 18.6h.9v.9h-.9zM18.8 22.2h.9v.9h-.9zM15.9 10.1h.9v.9h-.9zM8.6 6.5h.9v.9h-.9zM21.2 8.5h.9v.9h-.9zM11.1 10.2h.9v.9h-.9zM6.1 14.9h.9v.9h-.9zM21.4 14.0h.9v.9h-.9zM10.2 0.6h.9v.9h-.9zM17.1 12.3h.9v.9h-.9zM9.0 4.9h.9v.9h-.9zM14.7 22.7h.9v.9h-.9zM1.6 20.5h.9v.9h-.9zM5.7 3.4h.9v.9h-.9zM12.0 1.0h.9v.9h-.9zM1.3 18.9h.9v.9h-.9zM19.7 5.2h.9v.9h-.9zM9.9 11.5h.9v.9h-.9zM7.2 3.0h.9v.9h-.9zM2.7 17.1h.9v.9h-.9zM3.7 1.3h.9v.9h-.9zM9.9 16.0h.9v.9h-.9zM15.9 8.6h.9v.9h-.9zM10.2 6.1h.9v.9h-.9zM17.2 15.1h.9v.9h-.9zM2.8 3.8h.9v.9h-.9zM4.9 14.4h.9v.9h-.9zM7.2 9.2h.9v.9h-.9zM12.2 6.9h.9v.9h-.9zM0.3 8.6h.9v.9h-.9zM7.5 11.6h.9v.9h-.9zM2.6 11.6h.9v.9h-.9zM1.8 6.7h.9v.9h-.9zM7.8 9.2h.9v.9h-.9zM14.6 21.0h.9v.9h-.9zM13.1 12.1h.9v.9h-.9zM15.8 3.3h.9v.9h-.9zM11.7 17.0h.9v.9h-.9zM10.5 7.8h.9v.9h-.9zM13.3 7.2h.9v.9h-.9zM17.5 8.5h.9v.9h-.9zM9.2 22.4h.9v.9h-.9zM10.4 10.5h.9v.9h-.9zM11.6 1.7h.9v.9h-.9zM5.0 12.0h.9v.9h-.9zM1.2 16.3h.9v.9h-.9zM22.7 13.2h.9v.9h-.9zM20.1 17.5h.9v.9h-.9zM12.6 0.3h.9v.9h-.9zM11.1 18.9h.9v.9h-.9zM9.3 21.4h.9v.9h-.9zM14.6 6.2h.9v.9h-.9zM7.8 7.0h.9v.9h-.9zM18.0 11.9h.9v.9h-.9zM0.6 13.3h.9v.9h-.9zM20.9 5.7h.9v.9h-.9zM5.0 6.2h.9v.9h-.9zM18.5 16.4h.9v.9h-.9zM5.4 10.7h.9v.9h-.9zM10.5 14.0h.9v.9h-.9zM3.6 17.0h.9v.9h-.9zM6.2 8.2h.9v.9h-.9zM1.7 5.8h.9v.9h-.9zM16.9 12.0h.9v.9h-.9zM0.8 19.5h.9v.9h-.9zM15.0 11.4h.9v.9h-.9zM11.8 16.7h.9v.9h-.9zM6.3 20.4h.9v.9h-.9zM1.1 4.7h.9v.9h-.9zM8.7 5.8h.9v.9h-.9zM5.1 9.4h.9v.9h-.9zM13.6 8.3h.9v.9h-.9zM16.2 9.5h.9v.9h-.9zM5.5 21.9h.9v.9h-.9zM16.7 7.1h.9v.9h-.9zM7.5 18.1h.9v.9h-.9zM16.5 7.0h.9v.9h-.9zM4.8 21.9h.9v.9h-.9zM22.0 16.0h.9v.9h-.9zM16.1 14.8h.9v.9h-.9zM18.6 22.5h.9v.9h-.9zM11.4 19.9h.9v.9h-.9zM5.1 14.6h.9v.9h-.9zM15.2 1.3h.9v.9h-.9zM3.7 21.7h.9v.9h-.9zM16.1 19.5h.9v.9h-.9zM11.5 3.6h.9v.9h-.9zM11.8 20.7h.9v.9h-.9zM11.2 6.0h.9v.9h-.9zM0.6 18.5h.9v.9h-.9zM12.1 7.1h.9v.9h-.9zM13.1 14.0h.9v.9h-.9zM11.2 17.1h.9v.9h-.9zM13.5 21.9h.9v.9h-.9zM11.6 7.9h.9v.9h-.9zM8.2 21.9h.9v.9h-.9zM21.5 19.9h.9v.9h-.9zM14.0 22.9h.9v.9h-.9zM8.7 13.6h.9v.9h-.9zM8.9 2.3h.9v.9h-.9zM21.4 15.0h.9v.9h-.9zM7.2 3.6h.9v.9h-.9zM9.4 16.5h.9v.9h-.9zM12.6 7.0h.9v.9h-.9zM12.2 7.8h.9v.9h-.9zM19.5 15.0h.9v.9h-.9zM9.3 15.6h.9v.9h-.9zM2.3 14.1h.9v.9h-.9zM3.5 6.6h.9v.9h-.9zM11.0 17.2h.9v.9h-.9zM7.7 4.3h.9v.9h-.9zM11.7 16.8h.9v.9h-.9zM19.3 20.1h.9v.9h-.9zM0.1 11.7h.9v.9h-.9zM1.5 14.2h.9v.9h-.9zM9.3 22.4h.9v.9h-.9zM2.7 0.7h.9v.9h-.9zM8.4 2.1h.9v.9h-.9zM6.5 22.6h.9v.9h-.9zM4.0 18.7h.9v.9h-.9zM19.4 4.8h.9v.9h-.9zM7.2 7.0h.9v.9h-.9zM13.6 14.5h.9v.9h-.9zM1.7 13.5h.9v.9h-.9zM0.2 11.7h.9v.9h-.9zM7.5 18.4h.9v.9h-.9zM16.9 17.2h.9v.9h-.9zM8.2 22.9h.9v.9h-.9z"/><path fill="#ffffff" d="M12.0 12.0h.9v.9h-.9zM22.3 9.2h.9v.9h-.9zM2.6 19.0h.9v.9h-.9zM14.4 19.5h.9v.9h-.9zM12.7 12.2h.9v.9h-.9zM16.5 16.4h.9v.9h-.9zM11.6 2.3h.9v.9h-.9zM9.9 11.4h.9v.9h-.9zM18.4 1.0h.9v.9h-.9zM22.4 17.6h.9v.9h-.9zM11.2 3.1h.9v.9h-.9zM13.4 4.9h.9v.9h-.9zM7.2 6.4h.9v.9h-.9zM12.4 12.2h.9v.9h-.9zM8.4 8.3h.9v.9h-.9zM1.2 4.7h.9v.9h-.9zM4.7 12.5h.9v.9h-.9zM21.4 3.2h.9v.9h-.9zM8.0 8.9h.9v.9h-.9zM8.3 1.9h.9v.9h-.9zM13.6 16.8h.9v.9h-.9zM3.8 13.7h.9v.9h-.9zM2.0 10.2h.9v.9h-.9zM9.9 6.4h.9v.9h-.9zM9.6 4.7h.9v.9h-.9zM19.9 15.5h.9v.9h-.9zM13.6 16.5h.9v.9h-.9zM6.9 10.8h.9v.9h-.9zM0.0 8.4h.9v.9h-.9zM22.8 8.1h.9v.9h-.9zM16.6 5.1h.9v.9h-.9zM20.5 16.7h.9v.9h-.9zM11.5 10.6h.9v.9h-.9zM15.1 19.6h.9v.9h-.9zM19.0 10.2h.9v.9h-.9zM9.6 14.9h.9v.9h-.9zM10.6 8.4h.9v.9h-.9zM12.0 14.3h.9v.9h-.9zM4.9 16.6h.9v.9h-.9zM16.6 6.5h.9v.9h-.9zM4.1 18.7h.9v.9h-.9zM22.0 16.9h.9v.9h-.9zM1.8 17.2h.9v.9h-.9zM21.0 5.1h.9v.9h-.9zM21.9 0.1h.9v.9h-.9zM22.3 1.3h.9v.9h-.9zM11.3 11.9h.9v.9h-.9zM22.2 15.6h.9v.9h-.9zM21.4 1.0h.9v.9h-.9zM14.1 13.4h.9v.9h-.9zM3.3 10.4h.9v.9h-.9zM7.9 10.1h.9v.9h-.9zM18.1 16.5h.9v.9h-.9zM16.3 3.4h.9v.9h-.9zM8.8 19.5h.9v.9h-.9zM0.3 4.9h.9v.9h-.9zM0.5 16.4h.9v.9h-.9zM11.7 6.3h.9v.9h-.9zM6.2 3.3h.9v.9h-.9zM5.2 8.1h.9v.9h-.9zM11.2 21.0h.9v.9h-.9zM13.0 7.4h.9v.9h-.9zM20.7 8.0h.9v.9h-.9zM5.5 2.8h.9v.9h-.9zM5.1 8.4h.9v.9h-.9zM4.4 0.1h.9v.9h-.9zM1.7 15.3h.9v.9h-.9zM21.6 6.9h.9v.9h-.9zM14.6 14.2h.9v.9h-.9zM8.3 21.5h.9v.9h-.9zM4.7 0.6h.9v.9h-.9zM9.2 15.2h.9v.9h-.9zM18.1 16.9h.9v.9h-.9zM9.5 11.3h.9v.9h-.9zM11.4 21.1h.9v.9h-.9zM17.7 11.9h.9v.9h-.9zM21.1 13.6h.9v.9h-.9zM14.2 8.3h.9v.9h-.9zM6.0 9.6h.9v.9h-.9zM20.1 21.1h.9v.9h-.9zM2.2 11.6h.9v.9h-.9zM2.3 22.3h.9v.9h-.9zM2.4 12.8h.9v.9h-.9zM21.7 14.1h.9v.9h-.9zM22.3 2.9h.9v.9h-.9zM22.4 23.0h.9v.9h-.9zM3.2 15.2h.9v.9h-.9zM22.8 21.3h.9v.9h-.9zM8.1 21.9h.9v.9h-.9zM14.3 7.5h.9v.9h-.9zM5.1 20.4h.9v.9h-.9zM18.0 10.5h.9v.9h-.9zM13.6 19.3h.9v.9h-.9zM5.8 18.5h.9v.9h-.9zM14.6 21.6h.9v.9h-.9zM11.6 8.9h.9v.9h-.9zM5.5 9.1h.9v.9h-.9zM16.6 22.2h.9v.9h-.9zM23.0 5.0h.9v.9h-.9zM22.7 1.8h.9v.9h-.9zM19.1 4.7h.9v.9h-.9zM12.9 17.5h.9v.9h-.9zM21.0 13.8h.9v.9h-.9zM5.0 0.8h.9v.9h-.9zM11.0 16.1h.9v.9h-.9zM20.3 19.6h.9v.9h-.9zM1.6 4.1h.9v.9h-.9zM14.7 16.7h.9v.9h-.9zM3.7 14.1h.9v.9h-.9zM2.4 4.9h.9v.9h-.9zM11.4 11.5h.9v.9h-.9zM6.9 7.2h.9v.9h-.9zM22.2 15.4h.9v.9h-.9zM11.6 12.1h.9v.9h-.9zM13.6 6.3h.9v.9h-.9z"/></pattern>
<pattern id="pyelP" width="24" height="24" patternUnits="userSpaceOnUse"><path fill="#440154" d="M15.6 18.1h.9v.9h-.9zM12.0 11.8h.9v.9h-.9zM9.1 23.0h.9v.9h-.9zM6.7 3.4h.9v.9h-.9zM6.0 6.0h.9v.9h-.9zM7.6 6.2h.9v.9h-.9zM2.5 7.5h.9v.9h-.9zM7.2 13.1h.9v.9h-.9zM4.7 1.6h.9v.9h-.9zM4.7 12.5h.9v.9h-.9zM9.0 16.9h.9v.9h-.9zM18.6 9.6h.9v.9h-.9zM2.3 16.8h.9v.9h-.9zM17.5 9.1h.9v.9h-.9zM15.2 6.9h.9v.9h-.9zM21.1 19.3h.9v.9h-.9zM18.3 22.0h.9v.9h-.9zM5.4 12.6h.9v.9h-.9zM16.9 18.5h.9v.9h-.9zM9.0 3.2h.9v.9h-.9zM14.5 2.4h.9v.9h-.9zM16.3 0.2h.9v.9h-.9zM10.5 11.1h.9v.9h-.9zM2.8 11.1h.9v.9h-.9zM11.6 8.5h.9v.9h-.9zM20.7 20.0h.9v.9h-.9zM20.6 5.7h.9v.9h-.9zM0.6 8.7h.9v.9h-.9zM2.6 16.3h.9v.9h-.9zM6.1 3.0h.9v.9h-.9zM6.6 9.3h.9v.9h-.9zM17.0 10.7h.9v.9h-.9zM7.0 15.6h.9v.9h-.9zM1.0 4.8h.9v.9h-.9zM15.9 17.4h.9v.9h-.9zM2.3 1.5h.9v.9h-.9zM11.7 15.2h.9v.9h-.9zM0.4 10.1h.9v.9h-.9zM6.3 2.0h.9v.9h-.9zM4.0 6.6h.9v.9h-.9zM10.8 2.6h.9v.9h-.9zM14.3 20.3h.9v.9h-.9zM15.8 1.6h.9v.9h-.9zM15.0 14.6h.9v.9h-.9zM0.2 8.9h.9v.9h-.9zM15.1 21.9h.9v.9h-.9zM21.5 13.2h.9v.9h-.9zM13.6 22.1h.9v.9h-.9zM4.9 11.8h.9v.9h-.9zM1.4 17.9h.9v.9h-.9zM15.1 4.9h.9v.9h-.9zM4.6 12.1h.9v.9h-.9zM17.4 3.1h.9v.9h-.9zM7.5 11.8h.9v.9h-.9zM6.0 20.4h.9v.9h-.9zM16.7 22.1h.9v.9h-.9zM14.8 15.7h.9v.9h-.9zM6.6 11.7h.9v.9h-.9zM9.9 11.1h.9v.9h-.9zM1.4 19.6h.9v.9h-.9zM3.6 10.6h.9v.9h-.9zM21.5 11.8h.9v.9h-.9zM20.1 6.0h.9v.9h-.9zM10.8 8.8h.9v.9h-.9zM7.5 8.5h.9v.9h-.9zM10.3 19.4h.9v.9h-.9zM22.4 2.2h.9v.9h-.9zM15.4 12.2h.9v.9h-.9zM9.5 0.9h.9v.9h-.9zM8.4 7.3h.9v.9h-.9zM8.5 13.7h.9v.9h-.9zM8.5 6.8h.9v.9h-.9zM6.3 22.6h.9v.9h-.9zM9.1 22.5h.9v.9h-.9zM3.8 15.3h.9v.9h-.9zM12.8 16.4h.9v.9h-.9zM11.9 20.2h.9v.9h-.9zM13.6 1.1h.9v.9h-.9zM15.8 14.2h.9v.9h-.9zM5.7 16.9h.9v.9h-.9zM19.3 6.4h.9v.9h-.9zM3.4 6.7h.9v.9h-.9zM13.6 10.3h.9v.9h-.9zM1.7 10.4h.9v.9h-.9zM12.6 13.4h.9v.9h-.9zM8.2 18.1h.9v.9h-.9zM15.6 6.0h.9v.9h-.9zM8.0 21.4h.9v.9h-.9zM5.1 10.3h.9v.9h-.9zM7.0 13.5h.9v.9h-.9zM18.4 2.9h.9v.9h-.9zM4.4 1.5h.9v.9h-.9zM2.9 12.0h.9v.9h-.9zM11.3 21.8h.9v.9h-.9zM10.5 12.1h.9v.9h-.9zM0.6 5.2h.9v.9h-.9zM7.1 5.6h.9v.9h-.9zM18.2 9.6h.9v.9h-.9zM3.1 12.3h.9v.9h-.9zM3.6 4.3h.9v.9h-.9zM14.0 2.0h.9v.9h-.9zM17.5 10.1h.9v.9h-.9zM1.5 15.6h.9v.9h-.9zM22.2 17.1h.9v.9h-.9zM19.4 21.7h.9v.9h-.9zM6.3 11.2h.9v.9h-.9zM17.1 9.2h.9v.9h-.9zM22.3 9.8h.9v.9h-.9zM0.5 2.2h.9v.9h-.9zM9.9 0.4h.9v.9h-.9zM14.1 23.0h.9v.9h-.9zM21.6 22.8h.9v.9h-.9zM5.8 4.2h.9v.9h-.9zM1.6 21.5h.9v.9h-.9zM0.6 1.7h.9v.9h-.9zM15.4 21.9h.9v.9h-.9zM12.3 1.5h.9v.9h-.9zM0.8 18.9h.9v.9h-.9zM15.9 7.2h.9v.9h-.9zM22.7 6.5h.9v.9h-.9zM3.4 22.3h.9v.9h-.9zM1.3 8.4h.9v.9h-.9zM4.2 14.8h.9v.9h-.9zM11.3 5.8h.9v.9h-.9zM14.5 2.5h.9v.9h-.9zM22.7 18.1h.9v.9h-.9zM4.8 13.8h.9v.9h-.9zM6.3 13.3h.9v.9h-.9zM7.3 4.9h.9v.9h-.9zM11.3 1.7h.9v.9h-.9zM22.9 18.2h.9v.9h-.9zM5.3 13.8h.9v.9h-.9zM4.1 3.9h.9v.9h-.9zM8.9 16.5h.9v.9h-.9zM1.6 21.6h.9v.9h-.9zM5.8 3.8h.9v.9h-.9zM11.3 20.9h.9v.9h-.9zM9.6 12.4h.9v.9h-.9zM22.8 12.2h.9v.9h-.9zM8.0 4.4h.9v.9h-.9zM12.0 14.6h.9v.9h-.9zM13.7 4.5h.9v.9h-.9zM0.3 22.3h.9v.9h-.9zM15.9 19.5h.9v.9h-.9zM19.4 9.8h.9v.9h-.9zM4.3 22.3h.9v.9h-.9zM20.7 1.5h.9v.9h-.9zM14.5 11.6h.9v.9h-.9zM0.6 13.1h.9v.9h-.9zM15.0 10.3h.9v.9h-.9zM5.9 20.5h.9v.9h-.9zM15.5 6.4h.9v.9h-.9zM18.0 21.0h.9v.9h-.9zM9.0 13.2h.9v.9h-.9zM2.2 3.1h.9v.9h-.9zM19.6 22.1h.9v.9h-.9zM21.5 3.4h.9v.9h-.9zM16.2 9.1h.9v.9h-.9zM5.0 20.6h.9v.9h-.9zM2.2 1.9h.9v.9h-.9zM8.1 3.4h.9v.9h-.9zM9.2 14.6h.9v.9h-.9zM11.9 21.3h.9v.9h-.9zM11.2 3.3h.9v.9h-.9zM12.7 0.5h.9v.9h-.9zM15.2 3.7h.9v.9h-.9zM11.3 10.1h.9v.9h-.9zM21.5 2.9h.9v.9h-.9zM6.5 7.6h.9v.9h-.9zM12.0 8.9h.9v.9h-.9zM22.7 21.4h.9v.9h-.9zM21.8 15.5h.9v.9h-.9zM18.4 12.7h.9v.9h-.9zM4.7 3.8h.9v.9h-.9zM4.4 17.7h.9v.9h-.9zM15.5 0.8h.9v.9h-.9z"/><path fill="#21918c" d="M6.7 1.7h.9v.9h-.9zM12.1 7.9h.9v.9h-.9zM11.1 8.5h.9v.9h-.9zM9.3 10.5h.9v.9h-.9zM18.2 1.6h.9v.9h-.9zM17.5 13.5h.9v.9h-.9zM18.3 3.6h.9v.9h-.9zM6.7 21.0h.9v.9h-.9zM22.1 6.3h.9v.9h-.9zM8.7 7.8h.9v.9h-.9zM7.6 21.9h.9v.9h-.9zM11.6 9.8h.9v.9h-.9zM20.9 14.7h.9v.9h-.9zM21.7 15.0h.9v.9h-.9zM10.2 1.8h.9v.9h-.9zM11.5 12.0h.9v.9h-.9zM14.3 19.6h.9v.9h-.9zM8.4 12.7h.9v.9h-.9zM19.0 21.9h.9v.9h-.9zM19.0 6.1h.9v.9h-.9zM19.0 15.6h.9v.9h-.9zM7.3 12.8h.9v.9h-.9zM18.3 18.7h.9v.9h-.9zM5.6 11.3h.9v.9h-.9zM15.3 4.0h.9v.9h-.9zM17.6 18.2h.9v.9h-.9zM13.4 22.1h.9v.9h-.9zM7.3 6.4h.9v.9h-.9zM22.4 14.2h.9v.9h-.9zM0.1 10.0h.9v.9h-.9zM7.3 19.1h.9v.9h-.9zM22.5 3.2h.9v.9h-.9zM15.7 19.8h.9v.9h-.9zM2.7 10.2h.9v.9h-.9zM0.8 8.2h.9v.9h-.9zM13.5 16.4h.9v.9h-.9zM6.3 15.2h.9v.9h-.9zM12.8 8.4h.9v.9h-.9zM11.7 18.5h.9v.9h-.9zM18.2 9.7h.9v.9h-.9zM18.3 10.2h.9v.9h-.9zM10.9 5.2h.9v.9h-.9zM11.5 1.3h.9v.9h-.9zM19.5 8.5h.9v.9h-.9zM8.3 19.8h.9v.9h-.9zM15.8 10.5h.9v.9h-.9zM19.9 13.8h.9v.9h-.9zM19.9 6.1h.9v.9h-.9zM18.1 21.9h.9v.9h-.9zM9.3 17.6h.9v.9h-.9zM22.5 13.7h.9v.9h-.9zM17.5 2.6h.9v.9h-.9zM2.6 19.0h.9v.9h-.9zM17.8 3.6h.9v.9h-.9zM18.3 3.3h.9v.9h-.9zM19.7 21.5h.9v.9h-.9zM12.3 6.9h.9v.9h-.9zM17.6 20.0h.9v.9h-.9zM3.6 10.9h.9v.9h-.9zM15.0 17.6h.9v.9h-.9zM0.3 18.6h.9v.9h-.9zM14.4 19.0h.9v.9h-.9zM3.0 9.6h.9v.9h-.9zM14.4 20.7h.9v.9h-.9zM9.6 21.7h.9v.9h-.9zM12.3 21.2h.9v.9h-.9zM22.6 1.8h.9v.9h-.9zM4.7 7.3h.9v.9h-.9zM12.3 16.5h.9v.9h-.9zM13.7 8.0h.9v.9h-.9zM4.1 10.0h.9v.9h-.9zM22.9 4.5h.9v.9h-.9zM4.1 12.5h.9v.9h-.9zM4.1 18.4h.9v.9h-.9zM11.0 1.8h.9v.9h-.9zM10.9 16.2h.9v.9h-.9zM13.5 5.2h.9v.9h-.9zM21.7 2.5h.9v.9h-.9zM0.6 5.6h.9v.9h-.9zM20.4 12.1h.9v.9h-.9zM15.2 8.5h.9v.9h-.9zM8.3 10.2h.9v.9h-.9zM4.3 13.7h.9v.9h-.9zM7.2 22.0h.9v.9h-.9zM18.0 4.4h.9v.9h-.9zM21.6 2.8h.9v.9h-.9zM21.4 10.3h.9v.9h-.9zM19.2 12.2h.9v.9h-.9zM9.8 8.3h.9v.9h-.9zM13.0 12.3h.9v.9h-.9zM2.8 11.1h.9v.9h-.9zM11.1 19.4h.9v.9h-.9zM3.8 4.5h.9v.9h-.9zM2.0 9.0h.9v.9h-.9zM9.6 8.3h.9v.9h-.9zM2.0 21.3h.9v.9h-.9zM1.2 15.8h.9v.9h-.9zM5.1 11.2h.9v.9h-.9zM9.2 11.7h.9v.9h-.9zM2.4 5.0h.9v.9h-.9zM2.1 16.3h.9v.9h-.9zM0.5 15.5h.9v.9h-.9zM6.3 2.5h.9v.9h-.9zM19.3 17.2h.9v.9h-.9zM3.2 5.9h.9v.9h-.9zM17.3 7.1h.9v.9h-.9zM17.2 13.0h.9v.9h-.9zM12.7 6.8h.9v.9h-.9zM12.2 20.2h.9v.9h-.9zM2.1 11.2h.9v.9h-.9zM11.3 0.3h.9v.9h-.9zM6.5 4.6h.9v.9h-.9zM15.5 15.8h.9v.9h-.9zM14.6 9.5h.9v.9h-.9zM18.5 19.1h.9v.9h-.9zM16.1 1.2h.9v.9h-.9zM4.4 19.1h.9v.9h-.9zM4.7 13.9h.9v.9h-.9zM21.2 7.1h.9v.9h-.9zM10.3 8.6h.9v.9h-.9zM12.7 8.1h.9v.9h-.9zM4.8 22.0h.9v.9h-.9zM8.7 21.8h.9v.9h-.9zM9.9 3.3h.9v.9h-.9zM4.8 9.5h.9v.9h-.9zM22.8 10.1h.9v.9h-.9zM2.6 8.5h.9v.9h-.9zM9.5 13.4h.9v.9h-.9zM3.3 7.0h.9v.9h-.9zM2.7 7.6h.9v.9h-.9zM11.6 18.3h.9v.9h-.9zM3.0 2.9h.9v.9h-.9zM3.1 9.1h.9v.9h-.9zM20.9 22.8h.9v.9h-.9zM10.9 21.0h.9v.9h-.9zM7.2 8.5h.9v.9h-.9zM5.4 11.9h.9v.9h-.9zM5.1 19.7h.9v.9h-.9zM18.0 16.3h.9v.9h-.9zM14.9 7.7h.9v.9h-.9zM7.5 14.8h.9v.9h-.9z"/><path fill="#5ec962" d="M8.5 13.5h.9v.9h-.9zM4.4 13.6h.9v.9h-.9zM19.8 14.9h.9v.9h-.9zM6.9 6.9h.9v.9h-.9zM7.4 7.8h.9v.9h-.9zM18.9 2.2h.9v.9h-.9zM14.0 4.9h.9v.9h-.9zM12.4 16.5h.9v.9h-.9zM10.0 4.8h.9v.9h-.9zM13.7 7.5h.9v.9h-.9zM13.0 16.9h.9v.9h-.9zM7.5 12.4h.9v.9h-.9zM13.3 11.8h.9v.9h-.9zM6.9 5.0h.9v.9h-.9zM19.7 3.9h.9v.9h-.9zM3.1 0.0h.9v.9h-.9zM21.5 5.6h.9v.9h-.9zM16.2 7.6h.9v.9h-.9zM14.6 13.4h.9v.9h-.9zM6.7 8.8h.9v.9h-.9zM20.8 15.7h.9v.9h-.9zM3.1 19.4h.9v.9h-.9zM9.6 0.1h.9v.9h-.9zM12.5 19.4h.9v.9h-.9zM13.8 6.3h.9v.9h-.9zM13.0 1.9h.9v.9h-.9zM2.0 1.4h.9v.9h-.9zM12.5 12.4h.9v.9h-.9zM9.3 14.4h.9v.9h-.9zM4.9 23.0h.9v.9h-.9zM4.1 9.5h.9v.9h-.9zM14.5 2.5h.9v.9h-.9zM22.8 1.7h.9v.9h-.9zM16.8 1.5h.9v.9h-.9zM11.2 20.7h.9v.9h-.9zM14.4 5.0h.9v.9h-.9zM21.4 4.1h.9v.9h-.9zM4.1 11.8h.9v.9h-.9zM14.9 8.8h.9v.9h-.9zM12.4 12.4h.9v.9h-.9zM4.8 10.1h.9v.9h-.9zM5.1 20.9h.9v.9h-.9zM15.0 3.1h.9v.9h-.9zM10.3 6.2h.9v.9h-.9zM16.0 23.0h.9v.9h-.9zM6.5 15.4h.9v.9h-.9zM6.7 10.0h.9v.9h-.9zM11.9 11.3h.9v.9h-.9zM12.1 12.6h.9v.9h-.9zM12.7 19.2h.9v.9h-.9zM20.7 5.1h.9v.9h-.9zM12.2 18.7h.9v.9h-.9zM21.6 9.2h.9v.9h-.9zM5.8 16.2h.9v.9h-.9zM21.4 4.1h.9v.9h-.9zM6.8 15.8h.9v.9h-.9zM3.0 6.3h.9v.9h-.9zM8.3 7.0h.9v.9h-.9zM12.2 10.5h.9v.9h-.9zM4.1 16.7h.9v.9h-.9zM11.8 17.7h.9v.9h-.9zM1.9 21.2h.9v.9h-.9zM10.0 16.1h.9v.9h-.9zM12.5 22.2h.9v.9h-.9zM22.3 12.2h.9v.9h-.9zM9.2 0.1h.9v.9h-.9zM2.0 4.1h.9v.9h-.9zM18.1 6.9h.9v.9h-.9zM3.1 15.6h.9v.9h-.9zM2.5 3.4h.9v.9h-.9zM9.6 21.9h.9v.9h-.9zM7.6 12.2h.9v.9h-.9zM12.5 0.3h.9v.9h-.9zM6.6 3.6h.9v.9h-.9z"/><path fill="#ffffff" d="M5.7 7.0h.9v.9h-.9zM9.5 10.4h.9v.9h-.9zM10.6 3.9h.9v.9h-.9zM3.7 0.6h.9v.9h-.9zM19.4 12.2h.9v.9h-.9zM5.0 9.7h.9v.9h-.9zM0.3 20.0h.9v.9h-.9zM19.7 10.6h.9v.9h-.9zM8.7 1.6h.9v.9h-.9zM19.3 3.7h.9v.9h-.9zM10.5 20.7h.9v.9h-.9zM20.8 1.6h.9v.9h-.9zM7.0 16.8h.9v.9h-.9zM17.2 7.7h.9v.9h-.9zM13.4 10.5h.9v.9h-.9zM20.5 20.7h.9v.9h-.9zM21.3 16.5h.9v.9h-.9zM15.1 16.4h.9v.9h-.9zM3.5 14.7h.9v.9h-.9zM11.3 10.4h.9v.9h-.9zM6.7 7.0h.9v.9h-.9zM10.0 20.4h.9v.9h-.9zM23.0 10.4h.9v.9h-.9zM12.5 18.8h.9v.9h-.9zM7.4 23.1h.9v.9h-.9zM12.2 2.7h.9v.9h-.9zM7.9 14.4h.9v.9h-.9zM22.1 7.8h.9v.9h-.9zM9.1 10.6h.9v.9h-.9zM3.0 0.1h.9v.9h-.9zM18.7 1.9h.9v.9h-.9zM17.1 19.3h.9v.9h-.9zM19.8 0.2h.9v.9h-.9zM11.7 0.4h.9v.9h-.9zM2.7 6.3h.9v.9h-.9zM10.7 8.5h.9v.9h-.9zM3.2 10.4h.9v.9h-.9zM15.8 7.7h.9v.9h-.9zM16.0 7.2h.9v.9h-.9zM18.2 16.1h.9v.9h-.9zM11.0 7.8h.9v.9h-.9zM6.8 5.1h.9v.9h-.9zM0.4 11.8h.9v.9h-.9zM16.9 9.8h.9v.9h-.9zM11.3 21.7h.9v.9h-.9zM6.6 9.7h.9v.9h-.9zM20.3 17.6h.9v.9h-.9zM3.7 9.4h.9v.9h-.9zM13.0 6.1h.9v.9h-.9zM18.1 18.7h.9v.9h-.9zM0.9 13.6h.9v.9h-.9zM0.0 11.5h.9v.9h-.9zM0.2 14.6h.9v.9h-.9zM2.1 1.2h.9v.9h-.9zM16.3 1.3h.9v.9h-.9zM8.2 0.9h.9v.9h-.9zM13.3 5.4h.9v.9h-.9zM9.6 16.4h.9v.9h-.9zM12.7 16.6h.9v.9h-.9zM18.9 4.3h.9v.9h-.9zM6.5 4.2h.9v.9h-.9zM18.5 13.9h.9v.9h-.9zM4.9 5.4h.9v.9h-.9zM2.4 10.7h.9v.9h-.9zM5.7 9.4h.9v.9h-.9zM12.3 16.2h.9v.9h-.9zM12.2 10.9h.9v.9h-.9zM6.3 16.4h.9v.9h-.9zM3.9 5.1h.9v.9h-.9zM7.2 23.0h.9v.9h-.9zM3.8 19.0h.9v.9h-.9zM20.4 21.4h.9v.9h-.9zM21.8 16.3h.9v.9h-.9zM3.3 4.6h.9v.9h-.9zM17.8 16.6h.9v.9h-.9zM12.2 6.7h.9v.9h-.9zM20.1 7.9h.9v.9h-.9zM12.8 21.1h.9v.9h-.9zM10.2 15.4h.9v.9h-.9zM8.6 17.6h.9v.9h-.9zM20.1 0.6h.9v.9h-.9zM9.9 22.5h.9v.9h-.9zM22.9 12.1h.9v.9h-.9zM2.7 3.4h.9v.9h-.9zM21.3 14.9h.9v.9h-.9zM3.2 22.1h.9v.9h-.9zM1.5 7.5h.9v.9h-.9zM16.5 0.3h.9v.9h-.9zM12.9 12.2h.9v.9h-.9zM16.8 9.6h.9v.9h-.9zM12.1 11.2h.9v.9h-.9zM4.9 16.2h.9v.9h-.9zM8.2 15.5h.9v.9h-.9zM13.3 17.4h.9v.9h-.9zM18.0 6.7h.9v.9h-.9zM19.2 18.3h.9v.9h-.9zM14.8 6.8h.9v.9h-.9zM2.0 22.5h.9v.9h-.9zM15.9 2.5h.9v.9h-.9zM21.3 14.5h.9v.9h-.9zM5.4 7.2h.9v.9h-.9zM22.9 5.9h.9v.9h-.9zM6.9 14.1h.9v.9h-.9zM9.4 4.1h.9v.9h-.9zM14.9 2.8h.9v.9h-.9zM0.0 13.4h.9v.9h-.9zM17.3 20.5h.9v.9h-.9zM1.9 2.7h.9v.9h-.9zM5.0 3.1h.9v.9h-.9zM1.4 8.2h.9v.9h-.9zM6.2 16.7h.9v.9h-.9zM3.0 13.0h.9v.9h-.9zM23.0 2.9h.9v.9h-.9zM2.5 11.6h.9v.9h-.9zM18.6 7.2h.9v.9h-.9zM5.7 17.5h.9v.9h-.9zM7.8 9.2h.9v.9h-.9zM12.2 9.5h.9v.9h-.9zM9.6 13.0h.9v.9h-.9zM22.0 22.8h.9v.9h-.9zM9.0 1.6h.9v.9h-.9zM15.2 11.5h.9v.9h-.9zM10.9 21.0h.9v.9h-.9z"/></pattern>
<pattern id="plastD" width="24" height="24" patternUnits="userSpaceOnUse"><path fill="#440154" d="M20.9 15.9h.9v.9h-.9zM17.7 20.9h.9v.9h-.9zM6.0 14.7h.9v.9h-.9zM20.9 20.1h.9v.9h-.9zM13.2 3.9h.9v.9h-.9zM9.5 23.0h.9v.9h-.9zM2.4 7.4h.9v.9h-.9zM21.9 10.4h.9v.9h-.9zM4.8 7.3h.9v.9h-.9zM21.0 7.8h.9v.9h-.9zM9.9 14.5h.9v.9h-.9zM18.6 11.4h.9v.9h-.9zM1.9 13.2h.9v.9h-.9zM0.8 2.2h.9v.9h-.9zM4.4 16.0h.9v.9h-.9zM6.5 15.9h.9v.9h-.9zM3.8 2.7h.9v.9h-.9zM0.5 16.3h.9v.9h-.9zM19.8 5.1h.9v.9h-.9zM5.5 0.3h.9v.9h-.9zM14.9 6.9h.9v.9h-.9zM3.2 14.9h.9v.9h-.9zM13.9 10.3h.9v.9h-.9zM3.5 14.8h.9v.9h-.9zM12.8 10.0h.9v.9h-.9zM3.8 21.5h.9v.9h-.9zM19.9 15.9h.9v.9h-.9zM23.0 13.4h.9v.9h-.9zM8.0 2.7h.9v.9h-.9zM14.0 12.0h.9v.9h-.9zM10.1 22.9h.9v.9h-.9zM19.4 2.7h.9v.9h-.9zM20.4 0.0h.9v.9h-.9zM15.0 7.3h.9v.9h-.9zM16.9 22.0h.9v.9h-.9zM12.3 17.6h.9v.9h-.9zM1.3 15.4h.9v.9h-.9zM2.7 10.5h.9v.9h-.9zM7.7 1.7h.9v.9h-.9zM17.3 2.2h.9v.9h-.9zM5.9 2.0h.9v.9h-.9zM15.3 7.0h.9v.9h-.9zM1.0 0.6h.9v.9h-.9zM5.1 11.7h.9v.9h-.9zM0.3 0.5h.9v.9h-.9zM15.4 12.2h.9v.9h-.9zM3.1 7.2h.9v.9h-.9zM2.9 6.4h.9v.9h-.9zM9.0 5.0h.9v.9h-.9zM4.6 5.2h.9v.9h-.9zM7.0 12.8h.9v.9h-.9zM20.5 15.0h.9v.9h-.9zM10.4 0.1h.9v.9h-.9zM4.4 14.7h.9v.9h-.9zM9.4 19.6h.9v.9h-.9zM21.0 6.8h.9v.9h-.9zM8.4 6.9h.9v.9h-.9zM15.6 2.3h.9v.9h-.9zM6.4 20.3h.9v.9h-.9zM8.6 22.4h.9v.9h-.9zM9.1 19.3h.9v.9h-.9zM10.7 2.3h.9v.9h-.9zM13.3 4.9h.9v.9h-.9zM21.2 16.2h.9v.9h-.9zM12.2 21.3h.9v.9h-.9zM12.6 22.3h.9v.9h-.9zM16.5 4.1h.9v.9h-.9zM6.8 19.5h.9v.9h-.9zM2.3 22.7h.9v.9h-.9zM1.0 17.3h.9v.9h-.9zM14.3 9.4h.9v.9h-.9zM13.9 13.5h.9v.9h-.9zM8.3 6.5h.9v.9h-.9zM1.2 15.1h.9v.9h-.9zM20.3 8.7h.9v.9h-.9zM19.8 9.2h.9v.9h-.9zM5.9 18.5h.9v.9h-.9zM21.4 2.1h.9v.9h-.9zM20.1 7.4h.9v.9h-.9zM17.9 6.8h.9v.9h-.9zM22.9 7.8h.9v.9h-.9zM4.8 1.2h.9v.9h-.9zM3.1 2.1h.9v.9h-.9zM18.9 0.5h.9v.9h-.9zM2.7 5.5h.9v.9h-.9zM3.3 17.9h.9v.9h-.9zM0.2 15.7h.9v.9h-.9zM8.1 3.4h.9v.9h-.9zM5.3 12.2h.9v.9h-.9zM5.7 9.0h.9v.9h-.9zM9.0 12.4h.9v.9h-.9zM16.2 6.7h.9v.9h-.9zM14.1 16.5h.9v.9h-.9zM6.8 17.7h.9v.9h-.9zM1.9 11.4h.9v.9h-.9zM8.1 2.9h.9v.9h-.9zM15.2 19.7h.9v.9h-.9zM11.2 8.2h.9v.9h-.9zM20.9 22.9h.9v.9h-.9zM14.5 13.0h.9v.9h-.9zM14.8 16.2h.9v.9h-.9zM15.8 12.4h.9v.9h-.9zM17.4 17.2h.9v.9h-.9zM14.9 12.2h.9v.9h-.9zM8.6 4.9h.9v.9h-.9zM11.7 7.1h.9v.9h-.9zM10.9 4.1h.9v.9h-.9zM20.9 3.0h.9v.9h-.9zM20.3 13.1h.9v.9h-.9zM21.0 20.4h.9v.9h-.9zM3.9 6.3h.9v.9h-.9zM23.0 15.3h.9v.9h-.9zM2.0 6.1h.9v.9h-.9zM2.2 7.0h.9v.9h-.9zM1.8 0.9h.9v.9h-.9zM1.0 10.9h.9v.9h-.9zM16.5 11.7h.9v.9h-.9zM15.5 15.1h.9v.9h-.9zM3.1 16.3h.9v.9h-.9zM11.6 9.7h.9v.9h-.9zM22.2 10.5h.9v.9h-.9zM15.8 18.0h.9v.9h-.9zM11.2 3.5h.9v.9h-.9zM4.4 6.7h.9v.9h-.9zM4.4 9.3h.9v.9h-.9zM1.6 17.8h.9v.9h-.9zM17.8 14.7h.9v.9h-.9zM2.6 5.0h.9v.9h-.9zM20.8 20.2h.9v.9h-.9zM16.8 20.1h.9v.9h-.9zM4.8 6.7h.9v.9h-.9zM10.1 10.9h.9v.9h-.9zM8.4 5.7h.9v.9h-.9zM18.8 4.2h.9v.9h-.9zM13.2 18.8h.9v.9h-.9zM3.5 7.7h.9v.9h-.9zM8.7 6.6h.9v.9h-.9zM21.2 20.3h.9v.9h-.9zM3.0 1.5h.9v.9h-.9zM13.7 11.6h.9v.9h-.9zM0.8 20.0h.9v.9h-.9zM20.2 13.0h.9v.9h-.9zM2.1 4.4h.9v.9h-.9zM19.3 15.8h.9v.9h-.9zM10.3 21.6h.9v.9h-.9zM1.0 15.8h.9v.9h-.9zM19.2 19.1h.9v.9h-.9zM2.2 16.3h.9v.9h-.9zM13.0 14.5h.9v.9h-.9zM3.7 22.2h.9v.9h-.9zM22.4 2.7h.9v.9h-.9zM12.7 12.4h.9v.9h-.9zM10.3 7.8h.9v.9h-.9zM5.5 16.9h.9v.9h-.9zM11.8 10.4h.9v.9h-.9zM11.7 6.6h.9v.9h-.9zM20.8 17.7h.9v.9h-.9zM6.1 7.1h.9v.9h-.9zM12.3 14.6h.9v.9h-.9zM20.8 21.4h.9v.9h-.9zM1.5 20.0h.9v.9h-.9zM0.3 13.3h.9v.9h-.9zM17.8 4.1h.9v.9h-.9zM5.3 1.6h.9v.9h-.9zM10.2 19.3h.9v.9h-.9zM0.0 17.5h.9v.9h-.9zM9.0 21.6h.9v.9h-.9zM13.0 10.7h.9v.9h-.9zM6.6 19.6h.9v.9h-.9zM10.7 16.1h.9v.9h-.9zM15.3 18.9h.9v.9h-.9zM6.8 2.4h.9v.9h-.9zM4.4 14.4h.9v.9h-.9zM2.8 0.8h.9v.9h-.9zM8.1 15.3h.9v.9h-.9zM4.2 6.8h.9v.9h-.9z"/><path fill="#3b528b" d="M2.9 22.6h.9v.9h-.9zM21.0 22.8h.9v.9h-.9zM14.7 8.7h.9v.9h-.9zM6.4 7.9h.9v.9h-.9zM18.0 12.6h.9v.9h-.9zM3.0 20.4h.9v.9h-.9zM19.8 0.3h.9v.9h-.9zM2.1 11.7h.9v.9h-.9zM11.0 19.1h.9v.9h-.9zM4.9 22.7h.9v.9h-.9zM8.1 3.4h.9v.9h-.9zM22.6 17.6h.9v.9h-.9zM18.3 4.0h.9v.9h-.9zM22.3 7.0h.9v.9h-.9zM10.8 20.1h.9v.9h-.9zM2.7 0.6h.9v.9h-.9zM14.3 11.8h.9v.9h-.9zM21.9 22.4h.9v.9h-.9zM8.4 17.3h.9v.9h-.9zM0.5 16.6h.9v.9h-.9zM10.3 7.4h.9v.9h-.9zM6.6 10.9h.9v.9h-.9zM10.5 7.2h.9v.9h-.9zM0.6 0.8h.9v.9h-.9zM0.5 19.6h.9v.9h-.9zM9.7 10.6h.9v.9h-.9zM21.2 2.0h.9v.9h-.9zM18.9 20.6h.9v.9h-.9zM9.9 16.3h.9v.9h-.9zM0.6 9.1h.9v.9h-.9zM0.4 17.0h.9v.9h-.9zM22.4 21.4h.9v.9h-.9zM12.2 18.9h.9v.9h-.9zM15.6 0.1h.9v.9h-.9zM7.3 2.4h.9v.9h-.9zM9.9 7.7h.9v.9h-.9zM0.6 0.3h.9v.9h-.9zM2.7 13.0h.9v.9h-.9zM19.4 14.8h.9v.9h-.9zM20.3 5.3h.9v.9h-.9zM5.8 8.6h.9v.9h-.9zM1.6 12.1h.9v.9h-.9zM2.7 1.5h.9v.9h-.9zM19.4 5.8h.9v.9h-.9zM10.4 10.7h.9v.9h-.9zM1.0 0.9h.9v.9h-.9zM20.0 21.1h.9v.9h-.9zM17.5 10.7h.9v.9h-.9zM4.2 3.7h.9v.9h-.9zM12.1 5.0h.9v.9h-.9zM14.4 22.9h.9v.9h-.9zM21.7 5.7h.9v.9h-.9zM5.5 0.9h.9v.9h-.9zM21.4 22.3h.9v.9h-.9zM19.2 16.8h.9v.9h-.9zM13.8 21.2h.9v.9h-.9zM7.3 11.4h.9v.9h-.9zM21.2 14.0h.9v.9h-.9zM8.3 4.6h.9v.9h-.9z"/><path fill="#21918c" d="M6.5 19.9h.9v.9h-.9zM13.8 16.5h.9v.9h-.9zM19.5 16.9h.9v.9h-.9zM12.2 1.4h.9v.9h-.9zM18.2 5.4h.9v.9h-.9zM4.1 0.8h.9v.9h-.9zM11.6 14.6h.9v.9h-.9zM2.5 2.5h.9v.9h-.9zM10.6 11.9h.9v.9h-.9zM5.2 20.9h.9v.9h-.9zM10.1 5.8h.9v.9h-.9zM18.5 18.0h.9v.9h-.9zM7.2 8.1h.9v.9h-.9zM9.9 1.5h.9v.9h-.9zM20.8 4.7h.9v.9h-.9zM5.0 16.7h.9v.9h-.9zM10.8 15.1h.9v.9h-.9zM3.5 15.3h.9v.9h-.9zM22.2 22.4h.9v.9h-.9zM0.6 3.3h.9v.9h-.9zM5.0 13.4h.9v.9h-.9z"/></pattern>
<pattern id="ppurT" width="24" height="24" patternUnits="userSpaceOnUse"><path fill="#ffffff" d="M3.8 15.9h.9v.9h-.9zM14.7 11.1h.9v.9h-.9zM5.0 18.3h.9v.9h-.9zM18.7 11.8h.9v.9h-.9zM11.7 5.5h.9v.9h-.9zM0.1 8.6h.9v.9h-.9zM13.5 1.6h.9v.9h-.9zM18.3 5.4h.9v.9h-.9zM5.4 1.0h.9v.9h-.9zM23.0 17.1h.9v.9h-.9zM20.2 14.2h.9v.9h-.9zM0.8 7.6h.9v.9h-.9zM11.5 2.7h.9v.9h-.9zM22.0 8.5h.9v.9h-.9zM3.6 18.9h.9v.9h-.9zM2.9 21.4h.9v.9h-.9zM10.5 12.8h.9v.9h-.9zM7.9 11.2h.9v.9h-.9zM4.3 0.9h.9v.9h-.9zM20.0 5.4h.9v.9h-.9zM18.0 4.8h.9v.9h-.9zM22.4 20.7h.9v.9h-.9zM17.4 17.6h.9v.9h-.9zM13.4 16.9h.9v.9h-.9zM2.8 11.0h.9v.9h-.9zM19.1 4.6h.9v.9h-.9zM21.3 20.5h.9v.9h-.9zM9.5 8.4h.9v.9h-.9zM10.4 8.9h.9v.9h-.9zM23.0 8.9h.9v.9h-.9zM0.6 2.2h.9v.9h-.9zM16.6 22.9h.9v.9h-.9zM11.5 11.4h.9v.9h-.9zM12.7 17.3h.9v.9h-.9zM5.1 14.1h.9v.9h-.9zM12.9 14.4h.9v.9h-.9zM4.2 3.9h.9v.9h-.9zM8.0 21.4h.9v.9h-.9zM8.0 13.8h.9v.9h-.9zM7.1 2.4h.9v.9h-.9zM1.5 18.8h.9v.9h-.9zM17.9 8.7h.9v.9h-.9zM15.8 15.6h.9v.9h-.9zM20.8 22.1h.9v.9h-.9zM9.4 22.8h.9v.9h-.9zM22.2 13.6h.9v.9h-.9zM20.4 11.3h.9v.9h-.9zM8.7 5.7h.9v.9h-.9zM20.2 3.7h.9v.9h-.9zM1.6 18.6h.9v.9h-.9zM17.9 11.2h.9v.9h-.9zM19.3 1.2h.9v.9h-.9zM6.0 6.7h.9v.9h-.9zM9.7 3.9h.9v.9h-.9zM1.6 7.8h.9v.9h-.9zM20.8 22.7h.9v.9h-.9zM17.2 11.1h.9v.9h-.9zM5.8 22.2h.9v.9h-.9zM12.1 16.8h.9v.9h-.9zM0.7 4.9h.9v.9h-.9zM19.4 18.4h.9v.9h-.9zM20.4 13.9h.9v.9h-.9zM9.8 13.4h.9v.9h-.9zM19.6 7.1h.9v.9h-.9zM12.3 6.4h.9v.9h-.9zM17.7 0.2h.9v.9h-.9zM15.8 22.0h.9v.9h-.9zM0.5 13.7h.9v.9h-.9zM14.9 19.7h.9v.9h-.9zM13.5 5.9h.9v.9h-.9zM9.4 22.1h.9v.9h-.9zM20.9 3.1h.9v.9h-.9zM2.2 2.2h.9v.9h-.9zM0.6 10.3h.9v.9h-.9zM3.3 20.0h.9v.9h-.9zM15.1 2.9h.9v.9h-.9zM12.4 7.5h.9v.9h-.9zM11.4 5.1h.9v.9h-.9zM3.8 4.2h.9v.9h-.9zM8.7 16.4h.9v.9h-.9zM12.7 1.1h.9v.9h-.9zM16.4 20.2h.9v.9h-.9zM17.9 18.3h.9v.9h-.9zM0.2 10.7h.9v.9h-.9zM1.5 17.6h.9v.9h-.9zM4.0 16.4h.9v.9h-.9zM5.8 16.1h.9v.9h-.9zM7.2 1.0h.9v.9h-.9zM9.0 7.1h.9v.9h-.9zM20.8 6.8h.9v.9h-.9zM11.6 12.7h.9v.9h-.9zM21.9 2.3h.9v.9h-.9zM13.9 11.7h.9v.9h-.9zM17.0 22.3h.9v.9h-.9zM7.2 16.2h.9v.9h-.9zM12.1 13.0h.9v.9h-.9zM1.5 18.8h.9v.9h-.9zM22.6 8.2h.9v.9h-.9zM7.3 22.9h.9v.9h-.9zM2.5 1.8h.9v.9h-.9zM1.7 18.8h.9v.9h-.9zM17.6 10.4h.9v.9h-.9zM14.4 0.5h.9v.9h-.9zM14.9 10.2h.9v.9h-.9zM12.0 9.0h.9v.9h-.9zM9.3 5.2h.9v.9h-.9zM1.1 10.0h.9v.9h-.9zM5.7 16.3h.9v.9h-.9zM18.9 16.7h.9v.9h-.9zM10.5 5.5h.9v.9h-.9zM8.9 11.2h.9v.9h-.9zM14.6 22.2h.9v.9h-.9zM2.0 11.1h.9v.9h-.9zM11.4 16.6h.9v.9h-.9zM20.6 18.0h.9v.9h-.9zM14.5 17.5h.9v.9h-.9zM15.4 19.8h.9v.9h-.9zM16.1 15.8h.9v.9h-.9zM5.7 21.2h.9v.9h-.9zM8.9 14.2h.9v.9h-.9zM19.1 22.3h.9v.9h-.9zM22.9 0.1h.9v.9h-.9zM7.2 7.2h.9v.9h-.9zM9.0 3.4h.9v.9h-.9zM12.8 1.8h.9v.9h-.9zM7.0 21.8h.9v.9h-.9zM17.1 10.7h.9v.9h-.9zM2.5 22.1h.9v.9h-.9zM16.3 4.8h.9v.9h-.9zM7.7 14.8h.9v.9h-.9zM15.7 6.0h.9v.9h-.9zM22.0 7.4h.9v.9h-.9zM5.9 19.5h.9v.9h-.9zM3.5 15.7h.9v.9h-.9zM4.6 13.8h.9v.9h-.9zM6.4 8.8h.9v.9h-.9zM21.7 10.8h.9v.9h-.9zM10.1 14.3h.9v.9h-.9zM6.5 4.0h.9v.9h-.9zM8.9 6.3h.9v.9h-.9zM4.4 22.2h.9v.9h-.9zM0.8 18.7h.9v.9h-.9zM21.6 16.3h.9v.9h-.9zM0.4 11.6h.9v.9h-.9zM0.9 14.0h.9v.9h-.9zM16.2 5.5h.9v.9h-.9zM0.2 12.6h.9v.9h-.9zM2.2 7.1h.9v.9h-.9zM10.5 20.7h.9v.9h-.9zM8.5 3.1h.9v.9h-.9zM18.3 19.0h.9v.9h-.9zM12.2 1.1h.9v.9h-.9zM4.3 9.3h.9v.9h-.9zM12.7 5.2h.9v.9h-.9zM18.5 19.5h.9v.9h-.9zM21.4 20.4h.9v.9h-.9zM0.4 13.4h.9v.9h-.9zM1.9 20.8h.9v.9h-.9z"/><path fill="#d4d4d4" d="M17.3 17.5h.9v.9h-.9zM4.3 1.4h.9v.9h-.9zM18.8 14.0h.9v.9h-.9zM14.3 10.9h.9v.9h-.9zM18.5 7.8h.9v.9h-.9zM6.2 8.2h.9v.9h-.9zM6.9 14.5h.9v.9h-.9zM20.6 1.6h.9v.9h-.9zM1.6 11.8h.9v.9h-.9zM15.7 4.4h.9v.9h-.9zM6.2 1.4h.9v.9h-.9zM0.9 11.4h.9v.9h-.9zM15.7 15.1h.9v.9h-.9zM3.7 2.4h.9v.9h-.9zM21.5 12.4h.9v.9h-.9zM9.4 16.0h.9v.9h-.9zM16.8 12.1h.9v.9h-.9zM1.8 19.1h.9v.9h-.9zM4.9 0.9h.9v.9h-.9zM8.1 12.3h.9v.9h-.9zM14.5 4.0h.9v.9h-.9zM16.4 11.4h.9v.9h-.9zM3.7 19.7h.9v.9h-.9zM18.6 20.9h.9v.9h-.9zM15.7 5.0h.9v.9h-.9zM18.0 20.9h.9v.9h-.9zM12.3 21.0h.9v.9h-.9zM22.4 9.0h.9v.9h-.9zM21.8 21.6h.9v.9h-.9zM18.3 0.3h.9v.9h-.9zM8.1 14.2h.9v.9h-.9zM14.0 17.5h.9v.9h-.9zM14.9 3.7h.9v.9h-.9zM21.5 12.4h.9v.9h-.9zM20.4 4.8h.9v.9h-.9zM23.1 12.8h.9v.9h-.9z"/><path fill="#21918c" d="M17.9 17.1h.9v.9h-.9zM20.4 8.4h.9v.9h-.9zM1.9 9.4h.9v.9h-.9zM4.1 12.5h.9v.9h-.9zM18.8 8.4h.9v.9h-.9zM3.0 0.6h.9v.9h-.9zM9.8 13.4h.9v.9h-.9zM0.6 15.4h.9v.9h-.9zM4.9 2.5h.9v.9h-.9zM21.4 12.1h.9v.9h-.9zM20.7 11.9h.9v.9h-.9zM2.8 5.5h.9v.9h-.9zM9.8 14.8h.9v.9h-.9zM17.8 17.4h.9v.9h-.9zM15.0 5.8h.9v.9h-.9zM9.9 8.7h.9v.9h-.9zM11.3 6.1h.9v.9h-.9zM12.4 10.6h.9v.9h-.9zM0.8 19.0h.9v.9h-.9zM13.5 18.5h.9v.9h-.9zM17.0 16.9h.9v.9h-.9zM22.9 8.7h.9v.9h-.9zM9.1 0.1h.9v.9h-.9zM15.3 13.4h.9v.9h-.9zM13.3 23.0h.9v.9h-.9zM4.5 5.2h.9v.9h-.9zM17.0 18.8h.9v.9h-.9zM11.2 1.3h.9v.9h-.9zM8.6 19.1h.9v.9h-.9zM11.5 10.7h.9v.9h-.9zM9.0 14.5h.9v.9h-.9zM13.8 16.0h.9v.9h-.9zM20.0 17.4h.9v.9h-.9zM8.7 5.8h.9v.9h-.9zM18.1 18.3h.9v.9h-.9zM21.4 4.6h.9v.9h-.9zM19.6 20.6h.9v.9h-.9zM1.8 7.1h.9v.9h-.9zM14.6 3.4h.9v.9h-.9zM19.2 6.1h.9v.9h-.9zM15.8 6.8h.9v.9h-.9zM5.0 4.8h.9v.9h-.9zM11.5 16.5h.9v.9h-.9zM5.0 15.9h.9v.9h-.9zM7.7 15.0h.9v.9h-.9zM8.5 4.5h.9v.9h-.9zM3.3 1.3h.9v.9h-.9zM16.1 9.6h.9v.9h-.9zM2.8 20.3h.9v.9h-.9zM15.1 0.5h.9v.9h-.9zM16.7 13.7h.9v.9h-.9zM10.3 11.6h.9v.9h-.9zM22.2 8.6h.9v.9h-.9zM14.7 14.7h.9v.9h-.9zM8.4 8.0h.9v.9h-.9zM17.4 14.7h.9v.9h-.9zM10.6 11.9h.9v.9h-.9zM5.2 18.2h.9v.9h-.9zM0.5 14.9h.9v.9h-.9zM10.5 5.1h.9v.9h-.9zM13.6 13.5h.9v.9h-.9zM2.0 11.3h.9v.9h-.9zM3.8 18.5h.9v.9h-.9zM7.6 7.6h.9v.9h-.9zM5.0 1.1h.9v.9h-.9zM4.3 3.5h.9v.9h-.9zM14.4 19.6h.9v.9h-.9zM5.1 2.6h.9v.9h-.9zM12.3 2.7h.9v.9h-.9zM9.4 17.6h.9v.9h-.9zM4.7 16.2h.9v.9h-.9zM12.4 2.0h.9v.9h-.9zM5.6 13.8h.9v.9h-.9zM2.2 4.7h.9v.9h-.9zM13.3 18.9h.9v.9h-.9zM12.0 15.3h.9v.9h-.9zM0.2 7.0h.9v.9h-.9zM7.3 21.1h.9v.9h-.9zM8.3 18.1h.9v.9h-.9zM0.8 11.5h.9v.9h-.9zM20.6 17.8h.9v.9h-.9zM13.4 4.2h.9v.9h-.9zM21.4 1.8h.9v.9h-.9zM22.3 17.9h.9v.9h-.9zM16.6 12.3h.9v.9h-.9zM3.8 7.9h.9v.9h-.9zM15.3 15.2h.9v.9h-.9zM9.0 18.5h.9v.9h-.9zM1.2 6.6h.9v.9h-.9zM2.1 7.5h.9v.9h-.9z"/><path fill="#3b528b" d="M18.3 17.4h.9v.9h-.9zM3.5 7.1h.9v.9h-.9zM2.6 15.3h.9v.9h-.9zM10.2 5.3h.9v.9h-.9zM8.6 20.0h.9v.9h-.9zM9.8 16.0h.9v.9h-.9zM14.5 10.9h.9v.9h-.9zM12.9 8.4h.9v.9h-.9zM4.6 11.4h.9v.9h-.9zM7.0 7.6h.9v.9h-.9zM4.3 21.1h.9v.9h-.9zM9.8 4.6h.9v.9h-.9zM0.7 4.9h.9v.9h-.9zM20.1 7.8h.9v.9h-.9zM15.4 5.3h.9v.9h-.9zM15.0 10.4h.9v.9h-.9zM17.0 12.2h.9v.9h-.9zM8.7 6.5h.9v.9h-.9zM13.7 19.2h.9v.9h-.9zM16.0 11.1h.9v.9h-.9zM7.6 20.6h.9v.9h-.9zM19.5 3.4h.9v.9h-.9zM15.7 17.8h.9v.9h-.9zM15.6 22.3h.9v.9h-.9zM20.3 5.7h.9v.9h-.9zM23.0 7.6h.9v.9h-.9zM8.8 22.6h.9v.9h-.9zM3.9 9.1h.9v.9h-.9zM14.5 6.3h.9v.9h-.9zM6.2 18.3h.9v.9h-.9zM14.1 17.2h.9v.9h-.9zM18.2 20.1h.9v.9h-.9zM20.6 19.0h.9v.9h-.9zM22.6 11.5h.9v.9h-.9zM16.2 11.9h.9v.9h-.9zM22.4 15.1h.9v.9h-.9zM9.9 15.3h.9v.9h-.9zM6.8 3.0h.9v.9h-.9zM8.9 3.2h.9v.9h-.9zM0.1 2.1h.9v.9h-.9zM10.5 17.6h.9v.9h-.9zM1.1 14.7h.9v.9h-.9zM2.6 11.8h.9v.9h-.9zM6.8 10.3h.9v.9h-.9zM16.4 9.5h.9v.9h-.9zM9.0 16.8h.9v.9h-.9zM2.7 8.1h.9v.9h-.9zM16.2 19.3h.9v.9h-.9zM22.6 5.9h.9v.9h-.9zM14.4 7.2h.9v.9h-.9zM16.2 19.5h.9v.9h-.9zM3.1 8.0h.9v.9h-.9zM21.6 8.1h.9v.9h-.9zM14.6 18.9h.9v.9h-.9zM6.4 18.1h.9v.9h-.9zM0.1 7.9h.9v.9h-.9zM3.9 8.0h.9v.9h-.9zM4.9 0.6h.9v.9h-.9zM18.6 4.0h.9v.9h-.9z"/></pattern>
<pattern id="pmixY" width="24" height="24" patternUnits="userSpaceOnUse"><path fill="#fde725" d="M8.4 11.1h.9v.9h-.9zM9.6 10.3h.9v.9h-.9zM9.5 15.2h.9v.9h-.9zM6.0 14.7h.9v.9h-.9zM0.2 7.0h.9v.9h-.9zM7.7 3.3h.9v.9h-.9zM17.2 7.2h.9v.9h-.9zM18.2 22.1h.9v.9h-.9zM5.9 20.6h.9v.9h-.9zM18.7 15.4h.9v.9h-.9zM0.6 10.6h.9v.9h-.9zM14.5 6.8h.9v.9h-.9zM5.2 7.2h.9v.9h-.9zM6.0 18.2h.9v.9h-.9zM8.0 9.8h.9v.9h-.9zM14.9 21.9h.9v.9h-.9zM6.8 1.0h.9v.9h-.9zM22.5 19.2h.9v.9h-.9zM18.3 12.1h.9v.9h-.9zM5.4 3.6h.9v.9h-.9zM7.0 10.6h.9v.9h-.9zM1.5 16.2h.9v.9h-.9zM16.8 0.3h.9v.9h-.9zM19.5 11.4h.9v.9h-.9zM21.2 11.0h.9v.9h-.9zM18.4 10.5h.9v.9h-.9zM14.2 11.5h.9v.9h-.9zM0.5 3.3h.9v.9h-.9zM5.4 9.4h.9v.9h-.9zM8.5 12.5h.9v.9h-.9zM15.2 9.2h.9v.9h-.9zM7.4 11.8h.9v.9h-.9zM22.0 18.1h.9v.9h-.9zM15.1 18.9h.9v.9h-.9zM5.3 2.3h.9v.9h-.9zM2.2 2.8h.9v.9h-.9zM0.2 14.5h.9v.9h-.9zM21.2 2.6h.9v.9h-.9zM15.9 21.7h.9v.9h-.9zM17.7 3.5h.9v.9h-.9zM14.7 5.9h.9v.9h-.9zM4.1 0.3h.9v.9h-.9zM12.1 21.2h.9v.9h-.9zM2.4 3.4h.9v.9h-.9zM9.0 0.9h.9v.9h-.9zM10.7 16.9h.9v.9h-.9zM10.6 0.9h.9v.9h-.9zM0.7 4.6h.9v.9h-.9zM15.4 21.4h.9v.9h-.9zM11.6 2.4h.9v.9h-.9zM5.0 9.6h.9v.9h-.9zM2.5 2.7h.9v.9h-.9zM10.0 19.4h.9v.9h-.9zM5.5 20.4h.9v.9h-.9zM20.2 10.0h.9v.9h-.9zM5.2 4.3h.9v.9h-.9zM15.4 19.1h.9v.9h-.9zM19.9 4.8h.9v.9h-.9zM9.9 0.5h.9v.9h-.9zM7.0 6.8h.9v.9h-.9zM2.9 1.8h.9v.9h-.9zM22.9 7.0h.9v.9h-.9zM11.5 12.3h.9v.9h-.9zM10.9 13.6h.9v.9h-.9zM11.6 11.3h.9v.9h-.9zM1.8 14.6h.9v.9h-.9zM15.4 16.7h.9v.9h-.9zM7.2 10.7h.9v.9h-.9zM18.6 16.8h.9v.9h-.9zM1.2 7.7h.9v.9h-.9zM4.0 16.4h.9v.9h-.9zM9.3 9.0h.9v.9h-.9zM5.2 10.5h.9v.9h-.9zM16.6 14.6h.9v.9h-.9zM5.1 9.1h.9v.9h-.9zM14.4 1.3h.9v.9h-.9zM20.8 0.5h.9v.9h-.9zM14.4 3.4h.9v.9h-.9zM22.1 16.0h.9v.9h-.9zM5.1 11.6h.9v.9h-.9zM19.5 19.7h.9v.9h-.9zM15.3 14.7h.9v.9h-.9zM17.1 21.1h.9v.9h-.9zM11.9 14.2h.9v.9h-.9zM18.4 11.8h.9v.9h-.9zM5.1 13.4h.9v.9h-.9zM8.1 16.5h.9v.9h-.9zM17.3 20.9h.9v.9h-.9zM2.5 0.5h.9v.9h-.9zM21.5 16.9h.9v.9h-.9zM23.0 18.8h.9v.9h-.9zM22.0 3.6h.9v.9h-.9zM4.3 14.2h.9v.9h-.9zM17.5 2.7h.9v.9h-.9zM21.9 5.3h.9v.9h-.9zM4.7 10.1h.9v.9h-.9zM4.2 2.1h.9v.9h-.9zM1.8 0.8h.9v.9h-.9zM3.5 15.7h.9v.9h-.9zM18.0 17.8h.9v.9h-.9zM9.6 17.4h.9v.9h-.9zM2.7 20.0h.9v.9h-.9zM9.5 2.8h.9v.9h-.9zM8.9 4.5h.9v.9h-.9zM17.2 8.6h.9v.9h-.9zM0.4 4.4h.9v.9h-.9zM1.9 22.0h.9v.9h-.9zM9.5 18.1h.9v.9h-.9zM13.7 9.5h.9v.9h-.9zM16.9 12.8h.9v.9h-.9zM1.0 23.0h.9v.9h-.9zM8.1 15.1h.9v.9h-.9zM9.6 22.2h.9v.9h-.9zM3.9 1.3h.9v.9h-.9zM1.0 9.2h.9v.9h-.9zM19.6 10.3h.9v.9h-.9zM21.5 3.3h.9v.9h-.9zM22.3 3.9h.9v.9h-.9zM20.4 4.5h.9v.9h-.9zM13.5 14.2h.9v.9h-.9zM22.4 9.5h.9v.9h-.9zM19.5 1.2h.9v.9h-.9zM20.8 12.0h.9v.9h-.9zM12.4 22.4h.9v.9h-.9zM7.3 14.2h.9v.9h-.9zM13.6 7.0h.9v.9h-.9zM3.4 9.9h.9v.9h-.9zM6.5 14.1h.9v.9h-.9zM9.4 1.9h.9v.9h-.9zM15.9 21.3h.9v.9h-.9zM14.3 6.9h.9v.9h-.9zM7.0 22.1h.9v.9h-.9zM10.3 16.7h.9v.9h-.9zM1.7 18.8h.9v.9h-.9zM20.6 6.0h.9v.9h-.9zM7.1 15.0h.9v.9h-.9zM22.0 18.2h.9v.9h-.9zM0.5 2.7h.9v.9h-.9zM20.5 9.3h.9v.9h-.9zM22.0 10.4h.9v.9h-.9zM19.3 5.0h.9v.9h-.9zM22.3 11.0h.9v.9h-.9zM0.1 4.6h.9v.9h-.9zM1.9 9.7h.9v.9h-.9zM22.1 22.4h.9v.9h-.9zM21.4 9.4h.9v.9h-.9zM17.8 17.2h.9v.9h-.9zM19.2 22.4h.9v.9h-.9zM19.2 17.7h.9v.9h-.9zM7.3 3.9h.9v.9h-.9zM9.7 6.7h.9v.9h-.9zM17.4 3.6h.9v.9h-.9zM4.7 16.9h.9v.9h-.9zM0.9 1.9h.9v.9h-.9zM0.0 0.5h.9v.9h-.9zM2.3 17.1h.9v.9h-.9zM6.2 2.5h.9v.9h-.9zM11.5 8.3h.9v.9h-.9zM0.1 1.5h.9v.9h-.9zM5.9 9.7h.9v.9h-.9zM2.7 9.7h.9v.9h-.9zM11.2 21.4h.9v.9h-.9zM14.1 7.0h.9v.9h-.9zM5.1 4.2h.9v.9h-.9zM8.9 22.0h.9v.9h-.9zM22.4 3.4h.9v.9h-.9zM14.9 17.6h.9v.9h-.9zM21.4 17.5h.9v.9h-.9zM14.6 2.1h.9v.9h-.9zM6.1 21.7h.9v.9h-.9zM21.0 20.4h.9v.9h-.9zM7.8 18.1h.9v.9h-.9zM18.2 9.1h.9v.9h-.9zM7.7 10.6h.9v.9h-.9zM12.4 0.4h.9v.9h-.9zM0.5 23.1h.9v.9h-.9zM9.4 9.5h.9v.9h-.9zM13.6 12.2h.9v.9h-.9zM16.1 12.3h.9v.9h-.9zM0.4 1.0h.9v.9h-.9zM6.1 8.3h.9v.9h-.9zM22.8 11.5h.9v.9h-.9zM3.0 19.3h.9v.9h-.9zM7.3 9.7h.9v.9h-.9zM14.6 16.6h.9v.9h-.9zM5.6 9.6h.9v.9h-.9zM0.2 21.6h.9v.9h-.9zM20.2 18.9h.9v.9h-.9zM4.7 14.5h.9v.9h-.9zM10.0 3.5h.9v.9h-.9zM4.9 20.1h.9v.9h-.9zM14.0 13.8h.9v.9h-.9zM3.1 13.6h.9v.9h-.9zM20.6 4.7h.9v.9h-.9zM5.4 21.6h.9v.9h-.9zM6.3 10.6h.9v.9h-.9zM21.2 17.0h.9v.9h-.9zM7.2 7.7h.9v.9h-.9zM5.7 0.9h.9v.9h-.9zM12.1 3.4h.9v.9h-.9zM5.9 19.1h.9v.9h-.9zM2.8 1.9h.9v.9h-.9zM1.2 14.6h.9v.9h-.9zM5.7 6.2h.9v.9h-.9zM12.0 16.9h.9v.9h-.9zM22.4 1.4h.9v.9h-.9zM8.0 0.4h.9v.9h-.9zM8.2 15.4h.9v.9h-.9zM7.8 9.9h.9v.9h-.9zM7.1 22.6h.9v.9h-.9zM18.7 20.5h.9v.9h-.9zM14.2 20.7h.9v.9h-.9zM14.9 2.1h.9v.9h-.9zM3.1 22.0h.9v.9h-.9zM12.8 17.0h.9v.9h-.9zM12.9 20.7h.9v.9h-.9zM4.6 3.7h.9v.9h-.9zM5.0 16.9h.9v.9h-.9zM13.8 12.3h.9v.9h-.9zM4.7 9.8h.9v.9h-.9zM6.7 2.2h.9v.9h-.9zM22.0 18.5h.9v.9h-.9zM18.3 8.6h.9v.9h-.9zM19.4 18.7h.9v.9h-.9zM5.4 22.1h.9v.9h-.9zM18.7 1.3h.9v.9h-.9zM2.4 2.0h.9v.9h-.9zM15.5 3.6h.9v.9h-.9zM3.4 0.8h.9v.9h-.9zM10.1 7.1h.9v.9h-.9zM13.0 4.1h.9v.9h-.9zM16.2 14.5h.9v.9h-.9zM9.1 22.3h.9v.9h-.9z"/><path fill="#21918c" d="M13.7 12.5h.9v.9h-.9zM5.5 7.0h.9v.9h-.9zM16.6 8.0h.9v.9h-.9zM2.5 9.7h.9v.9h-.9zM11.3 3.3h.9v.9h-.9zM5.6 21.4h.9v.9h-.9zM18.7 10.1h.9v.9h-.9zM17.5 14.9h.9v.9h-.9zM4.5 12.7h.9v.9h-.9zM1.5 14.0h.9v.9h-.9zM12.4 2.4h.9v.9h-.9zM11.9 5.6h.9v.9h-.9zM15.2 22.8h.9v.9h-.9zM18.6 1.5h.9v.9h-.9zM13.8 12.7h.9v.9h-.9zM21.2 6.6h.9v.9h-.9zM2.2 8.5h.9v.9h-.9zM7.8 19.5h.9v.9h-.9zM20.5 13.8h.9v.9h-.9zM17.6 10.1h.9v.9h-.9zM6.3 10.0h.9v.9h-.9zM15.7 7.5h.9v.9h-.9zM19.1 10.5h.9v.9h-.9zM5.6 11.8h.9v.9h-.9zM20.0 8.3h.9v.9h-.9zM7.3 11.8h.9v.9h-.9zM22.0 18.4h.9v.9h-.9zM16.6 5.8h.9v.9h-.9zM14.2 15.6h.9v.9h-.9zM6.9 12.2h.9v.9h-.9zM3.7 21.1h.9v.9h-.9zM15.5 15.0h.9v.9h-.9zM18.9 17.6h.9v.9h-.9zM7.9 14.1h.9v.9h-.9zM2.9 15.8h.9v.9h-.9zM8.6 12.2h.9v.9h-.9zM19.2 6.8h.9v.9h-.9zM4.4 18.5h.9v.9h-.9zM6.7 20.8h.9v.9h-.9zM21.5 3.7h.9v.9h-.9zM13.0 21.8h.9v.9h-.9zM15.0 14.8h.9v.9h-.9zM3.2 10.1h.9v.9h-.9zM18.7 0.0h.9v.9h-.9zM16.4 7.1h.9v.9h-.9zM6.6 19.3h.9v.9h-.9zM8.5 11.5h.9v.9h-.9zM23.0 7.0h.9v.9h-.9zM22.2 7.3h.9v.9h-.9zM13.6 1.2h.9v.9h-.9zM22.6 10.8h.9v.9h-.9zM11.4 22.2h.9v.9h-.9zM9.6 0.5h.9v.9h-.9zM7.8 0.5h.9v.9h-.9zM0.9 20.2h.9v.9h-.9zM18.1 16.6h.9v.9h-.9zM14.8 8.8h.9v.9h-.9zM13.2 6.9h.9v.9h-.9zM14.5 18.0h.9v.9h-.9zM8.8 6.2h.9v.9h-.9zM7.7 5.0h.9v.9h-.9zM21.3 19.3h.9v.9h-.9zM7.1 2.4h.9v.9h-.9zM11.6 17.5h.9v.9h-.9zM6.7 17.5h.9v.9h-.9zM8.7 4.6h.9v.9h-.9zM18.7 16.6h.9v.9h-.9zM9.0 16.3h.9v.9h-.9zM7.2 17.6h.9v.9h-.9zM15.2 13.0h.9v.9h-.9zM7.1 14.6h.9v.9h-.9zM5.6 22.4h.9v.9h-.9zM13.0 17.5h.9v.9h-.9zM1.4 2.7h.9v.9h-.9z"/><path fill="#5ec962" d="M7.7 4.4h.9v.9h-.9zM8.8 14.0h.9v.9h-.9zM17.8 2.6h.9v.9h-.9zM15.4 2.9h.9v.9h-.9zM17.5 19.9h.9v.9h-.9zM16.3 8.1h.9v.9h-.9zM8.1 16.7h.9v.9h-.9zM19.7 2.7h.9v.9h-.9zM6.1 20.2h.9v.9h-.9zM17.9 5.0h.9v.9h-.9zM3.6 1.1h.9v.9h-.9zM6.6 19.6h.9v.9h-.9zM13.1 4.0h.9v.9h-.9zM3.6 2.3h.9v.9h-.9zM8.9 3.1h.9v.9h-.9zM2.5 12.8h.9v.9h-.9zM3.6 0.3h.9v.9h-.9zM0.9 18.0h.9v.9h-.9zM15.4 0.2h.9v.9h-.9zM22.1 19.9h.9v.9h-.9zM0.2 20.5h.9v.9h-.9zM0.0 5.0h.9v.9h-.9zM2.9 12.7h.9v.9h-.9zM15.2 5.0h.9v.9h-.9zM13.6 18.2h.9v.9h-.9zM1.5 3.9h.9v.9h-.9zM18.0 0.1h.9v.9h-.9zM6.9 6.3h.9v.9h-.9zM13.6 0.3h.9v.9h-.9zM0.1 14.0h.9v.9h-.9zM16.6 1.2h.9v.9h-.9zM14.2 4.9h.9v.9h-.9zM18.8 15.3h.9v.9h-.9zM14.5 5.6h.9v.9h-.9zM10.6 22.6h.9v.9h-.9zM11.8 15.4h.9v.9h-.9zM17.7 6.5h.9v.9h-.9zM7.1 22.5h.9v.9h-.9zM16.3 4.1h.9v.9h-.9zM12.3 7.4h.9v.9h-.9zM15.5 15.6h.9v.9h-.9zM19.8 13.0h.9v.9h-.9zM3.1 12.0h.9v.9h-.9zM2.5 10.7h.9v.9h-.9zM9.7 8.4h.9v.9h-.9zM5.7 3.8h.9v.9h-.9zM6.2 15.2h.9v.9h-.9zM3.9 11.1h.9v.9h-.9zM22.1 22.3h.9v.9h-.9zM17.4 11.9h.9v.9h-.9zM13.4 11.1h.9v.9h-.9zM20.4 10.2h.9v.9h-.9zM1.2 20.5h.9v.9h-.9zM5.1 21.1h.9v.9h-.9zM20.6 6.5h.9v.9h-.9zM5.9 20.0h.9v.9h-.9zM20.6 11.4h.9v.9h-.9zM2.3 11.6h.9v.9h-.9zM21.5 8.4h.9v.9h-.9z"/><path fill="#ffffff" d="M14.9 20.7h.9v.9h-.9zM12.4 8.0h.9v.9h-.9zM13.6 6.6h.9v.9h-.9zM19.1 5.0h.9v.9h-.9zM17.7 12.2h.9v.9h-.9zM5.2 20.9h.9v.9h-.9zM21.8 3.4h.9v.9h-.9zM7.8 20.6h.9v.9h-.9zM3.1 17.0h.9v.9h-.9zM6.9 10.8h.9v.9h-.9zM7.1 1.0h.9v.9h-.9zM11.5 21.2h.9v.9h-.9zM4.8 16.3h.9v.9h-.9zM2.6 20.6h.9v.9h-.9zM0.5 5.5h.9v.9h-.9zM5.7 14.6h.9v.9h-.9zM11.9 15.5h.9v.9h-.9zM13.2 19.9h.9v.9h-.9zM4.5 5.0h.9v.9h-.9zM13.0 18.0h.9v.9h-.9zM10.1 21.0h.9v.9h-.9zM5.7 20.4h.9v.9h-.9zM11.7 16.8h.9v.9h-.9zM22.6 20.7h.9v.9h-.9zM18.4 15.8h.9v.9h-.9zM8.1 16.8h.9v.9h-.9zM14.1 13.2h.9v.9h-.9zM2.9 20.5h.9v.9h-.9zM18.7 21.8h.9v.9h-.9zM10.8 7.9h.9v.9h-.9zM13.6 20.8h.9v.9h-.9zM8.7 8.3h.9v.9h-.9zM15.1 23.0h.9v.9h-.9zM14.4 18.5h.9v.9h-.9zM10.4 1.7h.9v.9h-.9zM20.5 11.1h.9v.9h-.9zM15.2 6.7h.9v.9h-.9zM19.0 3.5h.9v.9h-.9zM12.5 21.0h.9v.9h-.9zM17.2 1.5h.9v.9h-.9zM19.8 22.3h.9v.9h-.9zM21.7 5.6h.9v.9h-.9zM0.1 12.6h.9v.9h-.9zM15.0 3.2h.9v.9h-.9zM11.2 1.2h.9v.9h-.9zM2.3 21.2h.9v.9h-.9zM14.2 6.4h.9v.9h-.9zM13.3 3.3h.9v.9h-.9zM8.3 16.2h.9v.9h-.9zM7.1 2.1h.9v.9h-.9zM21.9 2.3h.9v.9h-.9zM14.1 9.7h.9v.9h-.9zM12.4 17.0h.9v.9h-.9zM6.1 10.2h.9v.9h-.9zM7.5 10.1h.9v.9h-.9zM14.6 9.8h.9v.9h-.9zM18.1 15.5h.9v.9h-.9zM15.8 9.0h.9v.9h-.9zM6.8 13.1h.9v.9h-.9zM14.8 11.3h.9v.9h-.9zM22.9 4.4h.9v.9h-.9zM12.3 22.5h.9v.9h-.9zM6.3 17.1h.9v.9h-.9zM16.4 21.0h.9v.9h-.9zM8.9 7.1h.9v.9h-.9zM17.0 17.3h.9v.9h-.9zM14.1 12.0h.9v.9h-.9zM1.9 11.0h.9v.9h-.9zM8.0 17.3h.9v.9h-.9zM22.7 11.6h.9v.9h-.9zM19.0 8.8h.9v.9h-.9zM9.7 15.2h.9v.9h-.9zM4.2 10.7h.9v.9h-.9zM1.3 8.1h.9v.9h-.9zM20.3 22.8h.9v.9h-.9zM5.7 13.1h.9v.9h-.9zM12.0 0.7h.9v.9h-.9zM3.6 15.4h.9v.9h-.9zM2.9 20.3h.9v.9h-.9zM21.2 6.3h.9v.9h-.9zM0.6 1.8h.9v.9h-.9zM2.0 20.6h.9v.9h-.9zM14.6 22.7h.9v.9h-.9zM14.9 18.0h.9v.9h-.9zM10.1 15.0h.9v.9h-.9zM21.7 3.5h.9v.9h-.9zM1.9 0.8h.9v.9h-.9zM8.8 6.8h.9v.9h-.9zM6.9 9.6h.9v.9h-.9zM12.1 10.7h.9v.9h-.9zM7.1 20.3h.9v.9h-.9zM4.2 18.0h.9v.9h-.9zM16.2 0.7h.9v.9h-.9zM9.0 21.1h.9v.9h-.9zM11.6 1.9h.9v.9h-.9zM18.1 3.8h.9v.9h-.9zM12.2 17.3h.9v.9h-.9zM0.1 22.7h.9v.9h-.9zM1.7 0.4h.9v.9h-.9zM6.2 0.6h.9v.9h-.9zM15.0 10.0h.9v.9h-.9zM11.9 13.4h.9v.9h-.9zM2.1 8.2h.9v.9h-.9zM21.9 20.4h.9v.9h-.9zM12.7 11.4h.9v.9h-.9zM18.9 21.1h.9v.9h-.9zM0.8 9.7h.9v.9h-.9z"/></pattern>
<pattern id="plast2" width="24" height="24" patternUnits="userSpaceOnUse"><path fill="#440154" d="M2.5 16.2h.9v.9h-.9zM15.1 21.7h.9v.9h-.9zM6.3 5.9h.9v.9h-.9zM17.0 15.2h.9v.9h-.9zM7.0 15.8h.9v.9h-.9zM9.2 18.0h.9v.9h-.9zM2.7 5.2h.9v.9h-.9zM20.8 8.3h.9v.9h-.9zM6.0 18.6h.9v.9h-.9zM14.6 3.5h.9v.9h-.9zM12.7 15.3h.9v.9h-.9zM3.8 15.1h.9v.9h-.9zM2.8 7.8h.9v.9h-.9zM1.9 4.7h.9v.9h-.9zM22.6 9.3h.9v.9h-.9zM22.9 10.1h.9v.9h-.9zM14.0 20.2h.9v.9h-.9zM15.9 2.6h.9v.9h-.9zM13.6 14.6h.9v.9h-.9zM4.2 2.2h.9v.9h-.9zM20.2 11.9h.9v.9h-.9zM4.5 10.5h.9v.9h-.9zM5.0 18.4h.9v.9h-.9zM11.6 2.4h.9v.9h-.9zM18.9 2.1h.9v.9h-.9zM6.5 0.6h.9v.9h-.9zM17.1 2.6h.9v.9h-.9zM12.1 2.1h.9v.9h-.9zM11.1 15.8h.9v.9h-.9zM12.4 10.5h.9v.9h-.9zM11.2 10.1h.9v.9h-.9zM13.8 2.2h.9v.9h-.9zM11.0 5.5h.9v.9h-.9zM20.0 21.7h.9v.9h-.9zM1.5 3.3h.9v.9h-.9zM16.3 13.2h.9v.9h-.9zM0.4 16.3h.9v.9h-.9zM21.8 9.8h.9v.9h-.9zM8.0 13.2h.9v.9h-.9zM21.7 6.1h.9v.9h-.9zM7.0 4.4h.9v.9h-.9zM14.5 10.8h.9v.9h-.9zM5.9 9.0h.9v.9h-.9zM0.8 7.2h.9v.9h-.9z"/><path fill="#21918c" d="M22.7 13.5h.9v.9h-.9zM6.5 21.6h.9v.9h-.9zM8.3 5.8h.9v.9h-.9zM0.8 3.4h.9v.9h-.9zM4.6 5.3h.9v.9h-.9zM20.2 6.1h.9v.9h-.9zM5.7 14.0h.9v.9h-.9zM21.2 6.7h.9v.9h-.9zM17.6 8.5h.9v.9h-.9zM13.0 13.8h.9v.9h-.9zM21.8 17.5h.9v.9h-.9zM11.7 19.4h.9v.9h-.9zM8.5 8.9h.9v.9h-.9zM22.2 12.6h.9v.9h-.9z"/><path fill="#fde725" d="M17.9 7.3h.9v.9h-.9zM21.1 14.2h.9v.9h-.9zM5.7 21.6h.9v.9h-.9zM10.8 7.8h.9v.9h-.9zM6.1 2.4h.9v.9h-.9zM4.6 16.0h.9v.9h-.9zM3.2 6.0h.9v.9h-.9zM10.3 12.6h.9v.9h-.9zM8.8 18.1h.9v.9h-.9zM5.9 8.5h.9v.9h-.9zM9.8 3.0h.9v.9h-.9zM5.1 3.4h.9v.9h-.9zM16.8 3.4h.9v.9h-.9zM15.4 5.1h.9v.9h-.9z"/></pattern>
<pattern id="pmoveT" width="24" height="24" patternUnits="userSpaceOnUse"><path fill="#21918c" d="M22.3 0.3h.9v.9h-.9zM17.0 3.7h.9v.9h-.9zM22.8 0.4h.9v.9h-.9zM20.3 15.7h.9v.9h-.9zM19.8 23.1h.9v.9h-.9zM5.5 7.8h.9v.9h-.9zM16.4 6.5h.9v.9h-.9zM6.1 5.3h.9v.9h-.9zM19.8 20.2h.9v.9h-.9zM18.4 5.2h.9v.9h-.9zM21.4 11.8h.9v.9h-.9zM5.3 10.5h.9v.9h-.9zM9.7 1.8h.9v.9h-.9zM13.0 8.3h.9v.9h-.9zM13.2 21.5h.9v.9h-.9zM14.9 9.4h.9v.9h-.9zM19.9 23.0h.9v.9h-.9zM11.3 21.8h.9v.9h-.9zM0.4 3.2h.9v.9h-.9zM4.0 21.7h.9v.9h-.9zM16.0 16.6h.9v.9h-.9zM6.6 11.4h.9v.9h-.9zM20.5 2.3h.9v.9h-.9zM2.7 1.1h.9v.9h-.9zM10.8 19.4h.9v.9h-.9zM12.8 9.3h.9v.9h-.9zM11.6 4.1h.9v.9h-.9zM21.9 8.2h.9v.9h-.9zM5.4 7.2h.9v.9h-.9zM19.1 7.4h.9v.9h-.9zM20.9 7.8h.9v.9h-.9zM10.2 1.7h.9v.9h-.9zM21.0 18.4h.9v.9h-.9zM11.0 2.7h.9v.9h-.9zM11.4 8.7h.9v.9h-.9zM19.4 21.4h.9v.9h-.9zM17.1 6.6h.9v.9h-.9zM1.0 20.7h.9v.9h-.9zM21.8 3.7h.9v.9h-.9zM11.5 11.1h.9v.9h-.9zM22.6 1.0h.9v.9h-.9zM1.4 19.5h.9v.9h-.9zM13.2 10.7h.9v.9h-.9zM18.0 13.7h.9v.9h-.9zM16.0 5.9h.9v.9h-.9zM2.0 0.2h.9v.9h-.9zM7.7 15.0h.9v.9h-.9zM8.8 8.0h.9v.9h-.9zM14.3 16.3h.9v.9h-.9zM13.8 7.2h.9v.9h-.9zM19.0 18.5h.9v.9h-.9zM20.6 20.6h.9v.9h-.9zM0.3 15.5h.9v.9h-.9zM8.0 9.0h.9v.9h-.9zM12.0 3.3h.9v.9h-.9zM5.8 22.8h.9v.9h-.9zM7.6 21.1h.9v.9h-.9zM15.8 7.3h.9v.9h-.9zM7.4 14.0h.9v.9h-.9zM16.2 7.9h.9v.9h-.9zM1.4 4.0h.9v.9h-.9zM19.9 16.8h.9v.9h-.9zM2.5 19.3h.9v.9h-.9zM13.3 7.7h.9v.9h-.9zM20.7 3.0h.9v.9h-.9zM2.3 7.9h.9v.9h-.9zM17.0 12.7h.9v.9h-.9zM11.2 20.9h.9v.9h-.9zM9.1 18.2h.9v.9h-.9zM0.1 18.1h.9v.9h-.9zM3.6 15.1h.9v.9h-.9zM19.4 15.1h.9v.9h-.9zM13.4 12.7h.9v.9h-.9zM17.4 8.5h.9v.9h-.9zM5.4 12.9h.9v.9h-.9zM12.0 2.7h.9v.9h-.9zM12.2 10.8h.9v.9h-.9zM3.6 16.3h.9v.9h-.9zM18.0 7.8h.9v.9h-.9zM20.0 22.8h.9v.9h-.9zM15.3 9.4h.9v.9h-.9zM6.3 3.0h.9v.9h-.9zM6.3 23.1h.9v.9h-.9zM1.4 21.2h.9v.9h-.9zM16.1 18.1h.9v.9h-.9zM2.3 14.9h.9v.9h-.9zM4.7 15.6h.9v.9h-.9zM18.3 16.7h.9v.9h-.9zM12.4 20.4h.9v.9h-.9zM5.3 3.6h.9v.9h-.9zM20.0 1.3h.9v.9h-.9zM9.7 9.7h.9v.9h-.9zM20.3 8.6h.9v.9h-.9zM13.2 11.6h.9v.9h-.9zM11.1 10.9h.9v.9h-.9zM10.8 13.8h.9v.9h-.9zM10.0 9.8h.9v.9h-.9zM21.4 22.6h.9v.9h-.9zM5.7 21.9h.9v.9h-.9zM0.6 7.7h.9v.9h-.9zM20.8 3.9h.9v.9h-.9zM15.5 23.0h.9v.9h-.9zM14.1 10.6h.9v.9h-.9zM0.7 10.4h.9v.9h-.9zM10.7 18.2h.9v.9h-.9zM9.0 18.6h.9v.9h-.9zM9.4 14.7h.9v.9h-.9zM17.5 3.8h.9v.9h-.9zM22.0 10.4h.9v.9h-.9zM11.1 22.5h.9v.9h-.9zM13.2 12.0h.9v.9h-.9zM4.9 5.1h.9v.9h-.9zM17.6 11.7h.9v.9h-.9zM15.2 16.1h.9v.9h-.9zM15.8 7.5h.9v.9h-.9zM19.9 10.4h.9v.9h-.9zM4.1 20.0h.9v.9h-.9zM20.8 2.8h.9v.9h-.9zM20.4 15.9h.9v.9h-.9zM6.2 13.3h.9v.9h-.9zM21.3 3.5h.9v.9h-.9zM15.2 5.6h.9v.9h-.9zM3.5 22.0h.9v.9h-.9zM23.0 15.1h.9v.9h-.9zM18.3 9.1h.9v.9h-.9zM9.9 14.2h.9v.9h-.9zM18.8 16.2h.9v.9h-.9zM10.9 14.5h.9v.9h-.9zM9.3 18.7h.9v.9h-.9zM20.1 17.9h.9v.9h-.9zM7.4 8.8h.9v.9h-.9zM22.6 8.7h.9v.9h-.9zM15.4 2.2h.9v.9h-.9zM3.0 5.2h.9v.9h-.9zM15.5 5.3h.9v.9h-.9zM15.2 1.7h.9v.9h-.9zM16.0 16.2h.9v.9h-.9zM5.9 5.5h.9v.9h-.9zM5.8 11.4h.9v.9h-.9zM4.3 5.4h.9v.9h-.9zM18.6 21.6h.9v.9h-.9zM3.7 12.0h.9v.9h-.9zM15.2 21.9h.9v.9h-.9zM12.9 12.3h.9v.9h-.9zM17.8 18.2h.9v.9h-.9zM16.5 14.4h.9v.9h-.9zM18.7 1.0h.9v.9h-.9zM17.7 5.1h.9v.9h-.9zM8.2 9.1h.9v.9h-.9zM12.0 13.6h.9v.9h-.9zM13.6 7.3h.9v.9h-.9zM8.3 15.2h.9v.9h-.9zM21.5 8.8h.9v.9h-.9zM0.2 19.7h.9v.9h-.9zM20.5 19.4h.9v.9h-.9zM14.7 9.6h.9v.9h-.9zM1.5 21.3h.9v.9h-.9zM10.1 2.8h.9v.9h-.9zM14.4 1.0h.9v.9h-.9zM9.0 13.9h.9v.9h-.9zM18.5 8.3h.9v.9h-.9zM4.5 7.9h.9v.9h-.9zM19.0 2.1h.9v.9h-.9zM3.2 8.0h.9v.9h-.9zM22.0 20.4h.9v.9h-.9zM22.3 1.1h.9v.9h-.9zM11.6 3.4h.9v.9h-.9zM13.5 18.3h.9v.9h-.9zM11.1 15.9h.9v.9h-.9zM15.7 11.7h.9v.9h-.9zM9.0 5.5h.9v.9h-.9zM16.6 22.7h.9v.9h-.9zM22.4 21.3h.9v.9h-.9zM19.6 15.2h.9v.9h-.9zM11.4 2.8h.9v.9h-.9zM18.4 4.2h.9v.9h-.9zM21.5 19.8h.9v.9h-.9zM6.5 20.9h.9v.9h-.9zM17.5 18.8h.9v.9h-.9zM2.5 6.3h.9v.9h-.9zM3.6 21.7h.9v.9h-.9zM5.6 10.3h.9v.9h-.9zM17.4 9.2h.9v.9h-.9zM14.6 14.4h.9v.9h-.9zM8.8 21.4h.9v.9h-.9zM15.4 17.1h.9v.9h-.9zM16.9 14.3h.9v.9h-.9zM3.9 21.1h.9v.9h-.9zM21.8 2.4h.9v.9h-.9zM8.5 4.3h.9v.9h-.9zM3.1 13.4h.9v.9h-.9zM10.0 3.1h.9v.9h-.9zM11.1 16.1h.9v.9h-.9zM3.1 14.9h.9v.9h-.9zM15.2 19.2h.9v.9h-.9zM23.1 20.3h.9v.9h-.9zM8.6 1.9h.9v.9h-.9zM7.7 3.9h.9v.9h-.9zM19.7 8.5h.9v.9h-.9zM12.9 16.8h.9v.9h-.9zM10.6 23.1h.9v.9h-.9zM15.2 13.8h.9v.9h-.9zM3.8 5.6h.9v.9h-.9zM15.9 10.2h.9v.9h-.9z"/><path fill="#440154" d="M13.4 20.3h.9v.9h-.9zM15.6 19.4h.9v.9h-.9zM8.5 1.6h.9v.9h-.9zM6.4 20.9h.9v.9h-.9zM5.5 2.8h.9v.9h-.9zM1.6 23.1h.9v.9h-.9zM4.8 1.8h.9v.9h-.9zM8.3 1.0h.9v.9h-.9zM16.9 15.9h.9v.9h-.9zM9.8 16.8h.9v.9h-.9zM0.4 18.4h.9v.9h-.9zM14.8 17.4h.9v.9h-.9zM3.3 22.0h.9v.9h-.9zM22.8 11.1h.9v.9h-.9zM7.4 11.9h.9v.9h-.9zM16.4 10.7h.9v.9h-.9zM12.6 22.0h.9v.9h-.9zM16.4 9.0h.9v.9h-.9zM21.0 18.2h.9v.9h-.9zM0.5 11.4h.9v.9h-.9zM7.0 7.0h.9v.9h-.9zM8.5 19.3h.9v.9h-.9zM14.1 5.7h.9v.9h-.9zM1.6 3.5h.9v.9h-.9zM8.7 12.5h.9v.9h-.9zM11.5 9.8h.9v.9h-.9zM12.2 7.2h.9v.9h-.9zM22.0 5.1h.9v.9h-.9zM8.5 15.2h.9v.9h-.9zM19.4 9.3h.9v.9h-.9zM14.7 5.9h.9v.9h-.9zM0.3 22.4h.9v.9h-.9zM1.6 17.6h.9v.9h-.9zM0.7 6.9h.9v.9h-.9zM11.9 20.8h.9v.9h-.9zM18.6 6.9h.9v.9h-.9zM0.2 17.4h.9v.9h-.9zM17.2 21.6h.9v.9h-.9zM3.1 15.5h.9v.9h-.9zM14.3 20.3h.9v.9h-.9zM19.6 17.7h.9v.9h-.9zM19.6 1.9h.9v.9h-.9zM22.8 13.9h.9v.9h-.9zM20.7 3.5h.9v.9h-.9zM11.9 20.5h.9v.9h-.9zM22.3 14.1h.9v.9h-.9zM20.6 0.5h.9v.9h-.9zM2.4 5.9h.9v.9h-.9zM20.2 16.5h.9v.9h-.9zM9.8 21.1h.9v.9h-.9zM11.9 3.4h.9v.9h-.9zM21.8 17.1h.9v.9h-.9zM23.0 18.0h.9v.9h-.9zM11.6 20.7h.9v.9h-.9zM3.1 0.2h.9v.9h-.9zM6.1 22.0h.9v.9h-.9zM2.0 17.5h.9v.9h-.9zM12.4 3.0h.9v.9h-.9zM4.8 16.6h.9v.9h-.9zM9.0 20.3h.9v.9h-.9zM1.2 13.3h.9v.9h-.9zM19.7 5.5h.9v.9h-.9zM6.4 13.4h.9v.9h-.9zM4.0 14.9h.9v.9h-.9zM21.3 7.4h.9v.9h-.9zM3.9 20.3h.9v.9h-.9zM1.2 19.7h.9v.9h-.9zM9.7 18.5h.9v.9h-.9zM8.7 22.2h.9v.9h-.9zM15.2 13.8h.9v.9h-.9zM1.7 13.4h.9v.9h-.9zM5.5 16.4h.9v.9h-.9zM7.4 5.3h.9v.9h-.9zM3.2 5.9h.9v.9h-.9zM2.9 6.5h.9v.9h-.9zM12.4 19.8h.9v.9h-.9zM17.9 8.4h.9v.9h-.9zM21.4 8.1h.9v.9h-.9zM9.9 12.6h.9v.9h-.9zM13.8 11.4h.9v.9h-.9zM15.3 4.6h.9v.9h-.9zM4.9 7.8h.9v.9h-.9zM10.1 5.8h.9v.9h-.9zM13.1 1.7h.9v.9h-.9zM9.8 10.6h.9v.9h-.9zM14.0 3.3h.9v.9h-.9zM15.1 10.7h.9v.9h-.9zM21.4 3.2h.9v.9h-.9zM9.3 18.1h.9v.9h-.9zM21.6 18.7h.9v.9h-.9zM20.6 10.1h.9v.9h-.9zM5.2 6.0h.9v.9h-.9zM14.7 15.3h.9v.9h-.9zM9.8 4.4h.9v.9h-.9zM20.2 7.5h.9v.9h-.9zM5.5 19.2h.9v.9h-.9zM17.9 15.5h.9v.9h-.9zM18.4 14.3h.9v.9h-.9zM14.4 9.0h.9v.9h-.9zM4.0 21.5h.9v.9h-.9zM2.5 17.8h.9v.9h-.9zM7.3 17.3h.9v.9h-.9zM20.8 18.1h.9v.9h-.9zM0.5 20.2h.9v.9h-.9zM5.3 6.1h.9v.9h-.9zM22.8 19.5h.9v.9h-.9zM3.7 19.7h.9v.9h-.9zM6.0 14.5h.9v.9h-.9zM18.8 1.6h.9v.9h-.9zM4.2 2.9h.9v.9h-.9zM3.3 20.9h.9v.9h-.9zM0.7 7.3h.9v.9h-.9zM19.6 0.5h.9v.9h-.9zM10.6 19.2h.9v.9h-.9zM21.1 19.0h.9v.9h-.9zM1.2 0.9h.9v.9h-.9zM17.1 10.6h.9v.9h-.9zM11.3 15.7h.9v.9h-.9zM18.6 6.4h.9v.9h-.9zM22.2 6.9h.9v.9h-.9zM20.1 1.8h.9v.9h-.9zM0.9 13.9h.9v.9h-.9zM17.3 14.7h.9v.9h-.9zM1.5 21.5h.9v.9h-.9zM21.3 20.9h.9v.9h-.9zM16.3 0.2h.9v.9h-.9zM10.2 4.3h.9v.9h-.9zM5.3 11.0h.9v.9h-.9zM19.7 14.9h.9v.9h-.9zM22.6 8.1h.9v.9h-.9zM2.1 18.5h.9v.9h-.9zM20.4 11.7h.9v.9h-.9zM5.4 14.8h.9v.9h-.9zM5.9 9.2h.9v.9h-.9zM13.6 16.7h.9v.9h-.9zM17.0 2.3h.9v.9h-.9zM9.2 11.8h.9v.9h-.9zM7.2 1.6h.9v.9h-.9zM6.0 10.1h.9v.9h-.9zM14.6 22.6h.9v.9h-.9zM4.7 13.1h.9v.9h-.9zM4.8 3.0h.9v.9h-.9zM6.5 9.8h.9v.9h-.9zM19.6 7.2h.9v.9h-.9zM21.9 18.1h.9v.9h-.9zM9.3 20.3h.9v.9h-.9zM6.3 0.4h.9v.9h-.9zM10.6 14.4h.9v.9h-.9zM15.9 0.4h.9v.9h-.9zM0.3 15.8h.9v.9h-.9zM21.3 11.3h.9v.9h-.9zM17.7 4.1h.9v.9h-.9zM3.3 10.8h.9v.9h-.9zM22.2 2.7h.9v.9h-.9zM12.3 15.9h.9v.9h-.9zM0.5 18.7h.9v.9h-.9zM4.5 19.2h.9v.9h-.9zM13.9 1.2h.9v.9h-.9zM4.9 9.8h.9v.9h-.9zM1.3 17.0h.9v.9h-.9zM9.8 3.0h.9v.9h-.9zM5.0 15.8h.9v.9h-.9zM10.0 12.1h.9v.9h-.9zM4.6 6.4h.9v.9h-.9zM5.4 10.3h.9v.9h-.9zM3.2 0.6h.9v.9h-.9zM22.0 22.4h.9v.9h-.9zM0.9 20.6h.9v.9h-.9zM6.8 12.4h.9v.9h-.9zM11.9 1.8h.9v.9h-.9zM7.9 9.8h.9v.9h-.9zM12.7 12.6h.9v.9h-.9zM8.4 11.9h.9v.9h-.9zM2.7 16.2h.9v.9h-.9zM13.6 4.3h.9v.9h-.9zM10.5 11.6h.9v.9h-.9zM11.4 5.3h.9v.9h-.9zM11.2 12.9h.9v.9h-.9zM22.8 19.9h.9v.9h-.9zM17.7 8.3h.9v.9h-.9zM12.0 7.5h.9v.9h-.9zM13.8 18.2h.9v.9h-.9zM18.1 21.9h.9v.9h-.9zM17.7 18.1h.9v.9h-.9zM10.6 5.3h.9v.9h-.9zM8.7 12.1h.9v.9h-.9zM11.0 11.5h.9v.9h-.9zM0.3 22.7h.9v.9h-.9zM8.8 7.6h.9v.9h-.9zM19.6 9.0h.9v.9h-.9zM18.0 2.4h.9v.9h-.9zM12.3 1.0h.9v.9h-.9zM11.7 18.3h.9v.9h-.9zM6.2 14.9h.9v.9h-.9zM17.0 9.5h.9v.9h-.9zM4.2 16.4h.9v.9h-.9zM20.1 21.7h.9v.9h-.9zM22.7 20.2h.9v.9h-.9zM8.3 17.4h.9v.9h-.9zM18.3 10.4h.9v.9h-.9zM20.7 3.0h.9v.9h-.9zM17.2 16.2h.9v.9h-.9zM5.3 3.0h.9v.9h-.9zM15.7 2.0h.9v.9h-.9z"/><path fill="#5ec962" d="M7.1 21.0h.9v.9h-.9zM17.0 9.0h.9v.9h-.9zM10.3 6.4h.9v.9h-.9zM17.2 12.9h.9v.9h-.9zM14.4 5.4h.9v.9h-.9zM21.4 6.0h.9v.9h-.9zM16.0 22.7h.9v.9h-.9zM20.5 1.1h.9v.9h-.9zM12.5 16.5h.9v.9h-.9zM10.4 6.2h.9v.9h-.9zM5.2 8.3h.9v.9h-.9zM15.1 12.5h.9v.9h-.9zM19.5 6.3h.9v.9h-.9zM15.3 22.5h.9v.9h-.9zM7.9 8.9h.9v.9h-.9zM7.7 1.7h.9v.9h-.9zM4.4 18.1h.9v.9h-.9zM7.3 5.9h.9v.9h-.9zM19.2 0.1h.9v.9h-.9zM7.5 4.1h.9v.9h-.9zM8.4 3.1h.9v.9h-.9zM16.2 6.3h.9v.9h-.9zM15.6 3.1h.9v.9h-.9zM19.7 2.6h.9v.9h-.9zM18.1 3.5h.9v.9h-.9zM10.1 14.0h.9v.9h-.9zM2.1 12.5h.9v.9h-.9zM14.6 9.7h.9v.9h-.9zM17.1 12.4h.9v.9h-.9zM1.0 17.7h.9v.9h-.9zM22.5 3.4h.9v.9h-.9zM3.9 13.5h.9v.9h-.9zM14.6 10.5h.9v.9h-.9zM4.1 11.4h.9v.9h-.9zM8.0 12.3h.9v.9h-.9zM21.5 10.1h.9v.9h-.9z"/><path fill="#ffffff" d="M23.0 21.5h.9v.9h-.9zM4.8 11.5h.9v.9h-.9zM2.9 3.3h.9v.9h-.9zM12.9 1.1h.9v.9h-.9zM17.6 16.3h.9v.9h-.9zM22.6 17.4h.9v.9h-.9zM19.4 7.5h.9v.9h-.9zM22.8 5.2h.9v.9h-.9zM21.1 21.3h.9v.9h-.9zM17.4 18.4h.9v.9h-.9zM4.6 18.7h.9v.9h-.9zM4.9 5.1h.9v.9h-.9zM2.0 18.6h.9v.9h-.9zM17.4 10.1h.9v.9h-.9zM1.0 3.3h.9v.9h-.9zM18.8 15.1h.9v.9h-.9zM6.4 21.2h.9v.9h-.9zM12.9 0.9h.9v.9h-.9zM22.8 7.8h.9v.9h-.9zM10.6 20.7h.9v.9h-.9zM21.5 6.2h.9v.9h-.9zM20.5 6.1h.9v.9h-.9zM0.5 1.7h.9v.9h-.9zM3.7 13.3h.9v.9h-.9zM6.2 19.4h.9v.9h-.9zM8.9 1.7h.9v.9h-.9zM11.4 2.2h.9v.9h-.9zM0.2 21.4h.9v.9h-.9zM2.3 2.6h.9v.9h-.9zM6.0 2.8h.9v.9h-.9zM10.0 15.4h.9v.9h-.9zM9.0 12.6h.9v.9h-.9zM1.2 3.8h.9v.9h-.9zM6.1 14.5h.9v.9h-.9zM17.2 22.2h.9v.9h-.9zM10.9 4.2h.9v.9h-.9z"/></pattern>
<filter id="rough" x="-10%" y="-10%" width="120%" height="120%"><feTurbulence type="fractalNoise" baseFrequency="0.3" numOctaves="2" seed="4"/><feDisplacementMap in="SourceGraphic" scale="3.5" xChannelSelector="R" yChannelSelector="G"/></filter>
<path id="sA" d="M11.3,10.3C11.9,7.6 14.0,4.8 16.4,3.2C18.8,1.6 22.5,0.7 25.6,0.6C28.7,0.5 32.6,1.7 34.8,2.6C37.0,3.5 38.0,4.4 38.9,6.2C39.8,8.0 39.0,11.9 39.9,13.4C40.8,14.9 42.1,14.9 44.0,15.4C45.9,15.9 49.2,15.5 51.2,16.4C53.2,17.2 55.2,19.0 56.3,20.5C57.4,22.0 57.8,24.1 57.8,25.6C57.8,27.1 57.6,28.7 56.3,29.7C55.0,30.7 52.2,31.0 50.2,31.8C48.2,32.6 45.7,33.9 44.0,34.8C42.3,35.6 41.4,36.2 39.9,36.9C38.4,37.6 37.0,38.2 34.8,38.9C32.6,39.6 28.9,41.0 26.7,41.0C24.5,41.0 23.6,40.3 21.5,38.9C19.4,37.5 15.9,34.8 14.4,32.8C12.9,30.8 12.6,28.9 12.3,26.7C12.1,24.5 13.1,22.2 12.9,19.5C12.7,16.8 10.7,13.0 11.3,10.3Z"/><path id="sA1" d="M11.3,10.3C11.9,7.6 14.0,4.8 16.4,3.2C18.8,1.6 22.5,0.7 25.6,0.6C28.7,0.5 32.6,1.7 34.8,2.6C37.0,3.5 38.0,4.4 38.9,6.2C39.8,8.0 39.6,10.4 39.9,13.4C40.2,16.4 40.5,20.7 40.5,24.0C40.5,27.3 40.9,30.5 39.9,33.0C38.9,35.5 37.0,37.6 34.8,38.9C32.6,40.2 28.9,41.0 26.7,41.0C24.5,41.0 23.6,40.3 21.5,38.9C19.4,37.5 15.9,34.8 14.4,32.8C12.9,30.8 12.6,28.9 12.3,26.7C12.1,24.5 13.1,22.2 12.9,19.5C12.7,16.8 10.7,13.0 11.3,10.3Z"/><path id="sAext" d="M37.0,15.0C38.5,12.9 41.5,13.3 44.0,13.5C46.5,13.7 49.8,14.6 52.0,16.0C54.2,17.4 56.6,19.8 57.5,22.0C58.4,24.2 58.4,27.7 57.5,29.5C56.6,31.3 54.2,31.9 52.0,33.0C49.8,34.1 46.3,35.8 44.0,36.0C41.7,36.2 39.5,35.7 38.0,34.0C36.5,32.3 35.2,29.2 35.0,26.0C34.8,22.8 35.5,17.1 37.0,15.0Z"/><path id="sB" d="M71.0,12.0C71.3,10.3 72.7,9.6 74.0,9.0C75.3,8.4 77.3,8.3 79.0,8.3C80.7,8.3 82.7,8.4 84.0,9.0C85.3,9.6 86.4,10.7 86.7,12.0C87.0,13.3 86.8,15.5 86.0,17.0C85.2,18.5 83.7,20.2 82.0,21.0C80.3,21.8 77.7,22.3 76.0,22.0C74.3,21.7 72.8,20.7 72.0,19.0C71.2,17.3 70.7,13.7 71.0,12.0Z"/><path id="sC" d="M80.5,26.0C80.7,23.2 80.8,22.4 82.0,21.0C83.2,19.6 85.8,18.2 88.0,17.5C90.2,16.8 92.8,17.7 95.0,17.0C97.2,16.3 99.6,13.2 101.0,13.4C102.4,13.6 103.0,15.6 103.5,18.0C104.0,20.4 104.1,24.7 104.0,28.0C103.9,31.3 103.8,35.3 103.0,38.0C102.2,40.7 100.9,42.8 99.0,44.0C97.1,45.2 94.1,45.5 91.8,45.5C89.5,45.5 86.8,45.2 85.0,44.0C83.2,42.8 81.8,41.0 81.0,38.0C80.2,35.0 80.3,28.8 80.5,26.0Z"/><path id="sD" d="M67.0,30.0C67.8,28.1 69.3,27.2 71.0,26.5C72.7,25.8 75.2,25.6 77.0,26.0C78.8,26.4 80.4,27.5 81.5,29.0C82.6,30.5 83.2,32.8 83.5,35.0C83.8,37.2 83.6,40.2 83.0,42.0C82.4,43.8 81.5,45.1 80.0,46.0C78.5,46.9 76.0,47.6 74.0,47.5C72.0,47.4 69.3,47.1 68.0,45.5C66.7,43.9 66.2,40.6 66.0,38.0C65.8,35.4 66.2,31.9 67.0,30.0Z"/><path id="sE" d="M85.0,46.0C86.6,44.2 89.5,44.3 92.0,44.0C94.5,43.7 98.2,44.2 100.0,44.0C101.8,43.8 101.1,42.6 103.0,43.0C104.9,43.4 108.8,44.7 111.2,46.1C113.6,47.5 114.9,48.8 117.3,51.2C119.7,53.6 124.0,57.6 125.5,60.4C127.0,63.2 126.7,65.5 126.0,68.0C125.3,70.5 124.6,74.2 121.4,75.7C118.2,77.2 111.1,77.0 107.0,76.8C102.9,76.6 99.9,75.7 96.9,74.7C93.9,73.7 91.3,72.8 89.0,71.0C86.7,69.2 84.1,66.7 83.0,64.0C81.9,61.3 82.2,58.0 82.5,55.0C82.8,52.0 83.4,47.8 85.0,46.0Z"/><path id="sF" d="M77.0,66.0C78.8,64.3 82.5,64.3 85.0,65.0C87.5,65.7 90.6,67.5 92.0,70.0C93.4,72.5 93.2,76.8 93.3,80.0C93.4,83.2 93.9,86.7 92.8,89.0C91.7,91.3 88.9,93.2 86.7,93.6C84.5,93.9 81.4,92.4 79.5,91.1C77.6,89.8 76.3,88.7 75.4,86.0C74.5,83.3 73.7,78.3 74.0,75.0C74.3,71.7 75.2,67.7 77.0,66.0Z"/><path id="sG" d="M16.4,54.3C18.7,54.2 21.9,54.6 23.6,55.3C25.3,56.0 25.7,56.9 26.7,58.4C27.7,59.9 28.5,62.3 29.7,64.5C30.9,66.7 32.8,68.8 33.8,71.7C34.8,74.6 35.7,78.9 35.9,81.9C36.1,85.0 35.7,87.8 34.8,90.0C33.9,92.2 32.7,93.8 30.7,95.2C28.7,96.6 25.5,97.7 22.6,98.2C19.7,98.7 16.1,99.1 13.4,98.2C10.7,97.3 8.2,95.0 6.2,93.1C4.2,91.2 2.1,89.2 1.1,87.0C0.1,84.8 0.0,83.2 0.1,79.8C0.2,76.4 0.8,69.7 1.6,66.5C2.5,63.3 3.8,62.1 5.2,60.4C6.6,58.6 8.1,57.0 10.0,56.0C11.9,55.0 14.1,54.4 16.4,54.3Z"/><path id="sH" d="M40.0,50.0C42.0,48.3 43.8,45.9 46.0,45.0C48.2,44.1 51.1,44.2 53.0,44.5C54.9,44.8 56.5,45.4 57.5,47.0C58.5,48.6 58.7,51.3 59.0,54.0C59.3,56.7 59.7,60.0 59.5,63.0C59.3,66.0 58.8,69.5 58.0,72.0C57.2,74.5 57.0,76.8 55.0,78.0C53.0,79.2 48.8,79.3 46.0,79.0C43.2,78.7 40.3,77.8 38.0,76.0C35.7,74.2 33.2,70.3 32.0,68.0C30.8,65.7 30.7,64.2 31.0,62.0C31.3,59.8 32.5,57.0 34.0,55.0C35.5,53.0 38.0,51.7 40.0,50.0Z"/><path id="sI" d="M64.0,54.0C64.9,52.2 66.2,52.0 68.0,51.5C69.8,51.0 73.0,50.8 75.0,51.0C77.0,51.2 78.7,51.5 80.0,52.5C81.3,53.5 82.4,55.1 83.0,57.0C83.6,58.9 83.8,61.8 83.5,64.0C83.2,66.2 82.4,68.4 81.0,70.0C79.6,71.6 77.2,72.8 75.0,73.5C72.8,74.2 69.9,74.6 68.0,74.0C66.1,73.4 64.4,72.0 63.5,70.0C62.6,68.0 62.4,64.7 62.5,62.0C62.6,59.3 63.1,55.8 64.0,54.0Z"/><path id="sJ" d="M43.2,82.1C44.2,80.7 46.6,79.2 49.1,78.8C51.6,78.4 56.1,78.9 58.3,79.8C60.4,80.7 61.6,81.6 62.0,84.0C62.4,86.4 61.4,92.2 60.5,94.4C59.6,96.7 58.6,96.7 56.4,97.5C54.2,98.3 49.2,99.8 47.1,99.2C45.0,98.6 44.7,96.1 44.0,94.1C43.3,92.1 43.1,89.0 43.0,87.0C42.9,85.0 42.2,83.5 43.2,82.1Z"/><path id="sK" d="M63.6,96.4C64.8,94.7 65.5,91.6 66.7,91.3C67.9,91.0 69.4,92.0 70.7,94.4C72.0,96.8 73.6,102.4 74.8,105.6C76.0,108.8 77.6,111.6 77.9,113.8C78.2,116.0 77.9,117.2 76.9,118.9C75.9,120.6 73.8,122.7 71.8,124.0C69.8,125.3 66.8,126.6 64.6,126.6C62.4,126.6 60.0,125.3 58.5,124.0C57.0,122.7 56.6,120.8 55.9,118.9C55.2,117.0 54.6,115.0 54.4,112.8C54.2,110.6 54.0,107.5 54.9,105.6C55.8,103.7 58.0,103.0 59.5,101.5C61.0,100.0 62.4,98.1 63.6,96.4Z"/><path id="sKl" d="M59.8,100.2C61.0,99.7 61.8,99.7 62.8,101.2C63.8,102.7 65.0,107.0 65.9,109.4C66.8,111.8 66.8,113.6 68.0,115.5C69.2,117.4 72.6,119.1 73.1,120.6C73.6,122.1 72.7,123.8 71.0,124.7C69.3,125.7 65.2,126.8 62.8,126.3C60.4,125.8 58.2,124.2 56.7,121.7C55.2,119.2 53.8,114.3 53.6,111.4C53.4,108.5 54.7,106.2 55.7,104.3C56.7,102.4 58.6,100.7 59.8,100.2Z"/><path id="sKr" d="M64.0,95.0C64.5,92.5 65.6,91.4 66.7,91.3C67.8,91.2 69.4,92.0 70.7,94.4C72.0,96.8 73.6,102.4 74.8,105.6C76.0,108.8 77.6,111.6 77.9,113.8C78.2,116.0 77.7,117.7 76.9,118.9C76.1,120.1 74.5,121.5 73.0,121.0C71.5,120.5 69.5,118.5 68.0,116.0C66.5,113.5 64.7,109.5 64.0,106.0C63.3,102.5 63.5,97.5 64.0,95.0Z"/><path id="spneck" d="M32.0,34.0C33.2,32.0 37.5,31.7 40.0,32.0C42.5,32.3 45.0,33.7 47.0,36.0C49.0,38.3 51.8,43.3 52.0,46.0C52.2,48.7 50.0,51.0 48.0,52.0C46.0,53.0 42.5,53.3 40.0,52.0C37.5,50.7 34.3,47.0 33.0,44.0C31.7,41.0 30.8,36.0 32.0,34.0Z"/><path id="spH" d="M50.0,46.0C52.3,45.7 54.3,48.0 56.0,50.0C57.7,52.0 59.0,54.7 60.0,58.0C61.0,61.3 62.3,67.0 62.0,70.0C61.7,73.0 60.3,74.7 58.0,76.0C55.7,77.3 51.0,77.7 48.0,78.0C45.0,78.3 42.5,79.0 40.0,78.0C37.5,77.0 34.8,74.0 33.0,72.0C31.2,70.0 28.8,68.0 29.0,66.0C29.2,64.0 31.8,62.3 34.0,60.0C36.2,57.7 39.3,54.3 42.0,52.0C44.7,49.7 47.7,46.3 50.0,46.0Z"/><path id="spI" d="M64.0,54.0C66.0,52.0 69.3,50.3 72.0,50.0C74.7,49.7 78.3,50.3 80.0,52.0C81.7,53.7 82.0,57.0 82.0,60.0C82.0,63.0 81.0,67.3 80.0,70.0C79.0,72.7 78.0,74.7 76.0,76.0C74.0,77.3 70.3,78.7 68.0,78.0C65.7,77.3 63.3,74.7 62.0,72.0C60.7,69.3 59.7,65.0 60.0,62.0C60.3,59.0 62.0,56.0 64.0,54.0Z"/><path id="spD" d="M68.0,22.0C69.3,20.3 72.0,19.7 74.0,20.0C76.0,20.3 78.3,22.0 80.0,24.0C81.7,26.0 83.5,29.0 84.0,32.0C84.5,35.0 84.0,39.3 83.0,42.0C82.0,44.7 80.2,47.0 78.0,48.0C75.8,49.0 72.0,49.3 70.0,48.0C68.0,46.7 66.7,43.0 66.0,40.0C65.3,37.0 65.7,33.0 66.0,30.0C66.3,27.0 66.7,23.7 68.0,22.0Z"/><path id="spK" d="M63.0,92.0C63.8,89.8 65.5,88.2 67.0,88.5C68.5,88.8 70.5,91.4 72.0,94.0C73.5,96.6 74.9,100.7 76.0,104.0C77.1,107.3 78.3,111.3 78.5,114.0C78.7,116.7 78.2,119.2 77.0,120.0C75.8,120.8 73.0,120.3 71.0,119.0C69.0,117.7 66.5,114.8 65.0,112.0C63.5,109.2 62.3,105.3 62.0,102.0C61.7,98.7 62.2,94.2 63.0,92.0Z"/><path id="sGlr" d="M22.0,70.0C24.0,67.7 28.0,63.7 30.0,64.0C32.0,64.3 33.0,69.0 34.0,72.0C35.0,75.0 36.0,79.0 36.0,82.0C36.0,85.0 35.0,87.8 34.0,90.0C33.0,92.2 32.0,93.7 30.0,95.0C28.0,96.3 24.7,97.8 22.0,98.0C19.3,98.2 15.0,98.0 14.0,96.0C13.0,94.0 15.3,89.0 16.0,86.0C16.7,83.0 17.0,80.7 18.0,78.0C19.0,75.3 20.0,72.3 22.0,70.0Z"/><path id="slD" d="M73.0,32.0C74.2,30.5 77.5,30.3 79.0,31.0C80.5,31.7 81.7,34.2 82.0,36.0C82.3,37.8 82.0,40.7 81.0,42.0C80.0,43.3 77.5,44.3 76.0,44.0C74.5,43.7 72.5,42.0 72.0,40.0C71.5,38.0 71.8,33.5 73.0,32.0Z"/><path id="slC" d="M52.0,56.0C53.7,54.0 57.3,52.0 60.0,52.0C62.7,52.0 66.3,53.7 68.0,56.0C69.7,58.3 70.7,63.0 70.0,66.0C69.3,69.0 66.5,73.0 64.0,74.0C61.5,75.0 57.3,73.7 55.0,72.0C52.7,70.3 50.5,66.7 50.0,64.0C49.5,61.3 50.3,58.0 52.0,56.0Z"/><path id="spUL" d="M35.4,14.7C36.7,13.4 41.2,12.3 44.3,12.8C47.4,13.3 51.9,15.6 54.2,17.7C56.5,19.8 57.8,23.1 58.1,25.6C58.4,28.1 57.4,30.7 56.1,32.5C54.8,34.3 51.4,34.6 50.2,36.4C49.0,38.1 48.7,41.1 49.0,43.0C49.3,44.9 52.8,46.8 52.0,48.0C51.2,49.2 46.1,51.3 44.0,50.0C41.9,48.7 41.3,42.4 39.4,40.3C37.5,38.2 33.8,38.7 32.5,37.4C31.2,36.1 30.7,34.1 31.5,32.5C32.3,30.9 36.6,29.5 37.4,27.5C38.2,25.5 36.7,22.7 36.4,20.6C36.1,18.5 34.1,16.0 35.4,14.7Z"/><path id="spUR" d="M68.0,25.6C69.2,23.3 71.3,19.7 72.9,19.7C74.5,19.7 76.0,23.3 77.8,25.6C79.6,27.9 82.7,30.4 83.7,33.4C84.7,36.3 84.4,40.5 83.7,43.3C83.0,46.1 81.8,48.8 79.8,50.2C77.8,51.7 73.7,52.2 72.0,52.0C70.3,51.8 70.4,51.0 69.9,49.2C69.4,47.4 69.6,43.9 68.9,41.3C68.2,38.7 66.2,36.0 66.0,33.4C65.8,30.8 66.8,27.9 68.0,25.6Z"/><path id="spLB" d="M42.3,47.2C44.1,45.2 46.9,43.0 49.2,43.3C51.5,43.6 54.0,46.9 56.1,49.2C58.2,51.5 60.4,56.1 62.0,57.1C63.6,58.1 64.7,56.4 66.0,55.1C67.3,53.8 67.6,50.0 69.9,49.2C72.2,48.4 78.0,48.6 79.8,50.2C81.6,51.9 80.8,56.0 80.8,59.1C80.8,62.2 80.6,66.0 79.8,68.9C79.0,71.9 77.4,75.5 75.8,76.8C74.2,78.1 71.9,77.1 69.9,76.8C67.9,76.5 66.3,74.8 64.0,74.8C61.7,74.8 59.1,76.1 56.1,76.8C53.1,77.5 49.2,79.1 46.3,78.8C43.3,78.5 41.2,76.4 38.4,74.8C35.6,73.2 30.8,70.9 29.5,68.9C28.2,66.9 29.0,65.3 30.5,63.0C32.0,60.7 36.4,57.7 38.4,55.1C40.4,52.5 40.5,49.2 42.3,47.2Z"/><path id="sEr" d="M107.0,49.0C107.3,47.6 110.2,47.9 112.0,48.5C113.8,49.1 116.0,50.8 118.0,52.5C120.0,54.2 122.8,56.8 124.0,59.0C125.2,61.2 125.7,64.2 125.3,66.0C124.9,67.8 123.1,70.3 121.5,70.0C119.9,69.7 117.4,66.2 115.5,64.0C113.6,61.8 111.4,59.5 110.0,57.0C108.6,54.5 106.7,50.4 107.0,49.0Z"/><path id="sbr1" d="M38.0,32.0C39.3,31.2 42.2,32.0 44.0,33.0C45.8,34.0 48.0,36.0 49.0,38.0C50.0,40.0 50.7,43.5 50.0,45.0C49.3,46.5 46.7,47.2 45.0,47.0C43.3,46.8 41.5,45.5 40.0,44.0C38.5,42.5 36.3,40.0 36.0,38.0C35.7,36.0 36.7,32.8 38.0,32.0Z"/><path id="sbr2" d="M58.0,74.0C59.2,72.5 63.3,74.3 66.0,75.0C68.7,75.7 72.3,76.2 74.0,78.0C75.7,79.8 76.7,83.7 76.0,86.0C75.3,88.3 72.2,91.2 70.0,92.0C67.8,92.8 64.8,92.3 63.0,91.0C61.2,89.7 59.8,86.8 59.0,84.0C58.2,81.2 56.8,75.5 58.0,74.0Z"/><path id="sA1i" d="M13.4,11.8C13.9,9.4 15.8,7.1 17.8,5.7C19.9,4.3 23.1,3.5 25.7,3.4C28.4,3.3 31.7,4.3 33.6,5.1C35.5,5.9 36.4,6.7 37.2,8.2C37.9,9.8 37.8,11.9 38.0,14.4C38.2,17.0 38.5,20.7 38.5,23.6C38.5,26.4 38.8,29.2 38.0,31.3C37.2,33.4 35.5,35.2 33.6,36.4C31.7,37.5 28.6,38.2 26.7,38.2C24.8,38.2 24.0,37.5 22.2,36.4C20.4,35.2 17.4,32.9 16.1,31.1C14.8,29.4 14.5,27.8 14.3,25.9C14.1,24.0 14.9,22.0 14.8,19.7C14.6,17.3 12.9,14.1 13.4,11.8Z"/><path id="sBi" d="M72.1,12.3C72.4,10.9 73.5,10.3 74.7,9.8C75.8,9.2 77.6,9.1 79.0,9.1C80.4,9.1 82.2,9.2 83.3,9.8C84.4,10.3 85.3,11.2 85.6,12.3C85.9,13.5 85.7,15.3 85.0,16.6C84.3,17.9 83.0,19.4 81.6,20.1C80.1,20.8 77.8,21.2 76.4,20.9C75.0,20.6 73.7,19.8 73.0,18.4C72.3,16.9 71.8,13.8 72.1,12.3Z"/><path id="sCi" d="M82.2,26.4C82.4,24.0 82.4,23.4 83.5,22.1C84.6,20.9 86.8,19.7 88.7,19.1C90.5,18.6 92.8,19.3 94.7,18.7C96.6,18.1 98.6,15.5 99.9,15.6C101.1,15.8 101.6,17.5 102.0,19.6C102.4,21.7 102.5,25.3 102.4,28.2C102.4,31.0 102.3,34.5 101.6,36.8C100.9,39.1 99.7,40.9 98.1,41.9C96.5,43.0 93.9,43.2 91.9,43.2C89.9,43.2 87.6,43.0 86.1,41.9C84.5,40.9 83.3,39.3 82.7,36.8C82.0,34.2 82.1,28.9 82.2,26.4Z"/><path id="sEi" d="M87.5,47.8C88.9,46.2 91.4,46.3 93.5,46.0C95.7,45.8 98.8,46.2 100.4,46.0C102.0,45.9 101.4,44.9 103.0,45.2C104.6,45.5 108.0,46.7 110.0,47.8C112.1,49.0 113.2,50.2 115.3,52.2C117.3,54.3 121.1,57.7 122.3,60.1C123.6,62.6 123.3,64.5 122.8,66.7C122.2,68.9 121.5,72.0 118.8,73.3C116.1,74.6 109.9,74.4 106.4,74.2C102.9,74.1 100.3,73.3 97.7,72.4C95.2,71.6 92.9,70.8 90.9,69.3C88.9,67.7 86.7,65.5 85.8,63.2C84.8,60.9 85.1,58.1 85.3,55.5C85.6,52.9 86.1,49.3 87.5,47.8Z"/><path id="sFi" d="M78.0,67.9C79.6,66.5 82.7,66.5 84.9,67.0C87.0,67.6 89.7,69.2 90.9,71.3C92.1,73.5 91.9,77.2 92.0,79.9C92.1,82.7 92.5,85.7 91.6,87.7C90.6,89.6 88.2,91.3 86.3,91.6C84.4,91.9 81.7,90.6 80.1,89.5C78.5,88.4 77.4,87.4 76.6,85.1C75.8,82.8 75.2,78.5 75.4,75.6C75.6,72.8 76.4,69.3 78.0,67.9Z"/><path id="sGi" d="M16.7,57.3C18.6,57.2 21.4,57.6 22.8,58.1C24.3,58.7 24.6,59.5 25.5,60.8C26.4,62.1 27.1,64.2 28.1,66.1C29.1,68.0 30.7,69.8 31.6,72.3C32.5,74.7 33.3,78.4 33.4,81.0C33.6,83.6 33.2,86.1 32.5,88.0C31.7,89.9 30.7,91.3 29.0,92.5C27.2,93.6 24.5,94.6 22.0,95.0C19.5,95.5 16.4,95.8 14.1,95.0C11.7,94.3 9.6,92.3 7.9,90.7C6.1,89.1 4.4,87.3 3.5,85.4C2.6,83.5 2.6,82.2 2.6,79.2C2.7,76.3 3.2,70.6 3.9,67.8C4.7,65.0 5.8,64.0 7.0,62.5C8.2,61.0 9.5,59.6 11.2,58.8C12.8,57.9 14.7,57.4 16.7,57.3Z"/><path id="sJi" d="M44.4,83.0C45.2,81.8 47.3,80.5 49.4,80.2C51.6,79.8 55.5,80.3 57.3,81.0C59.2,81.8 60.2,82.5 60.5,84.6C60.8,86.7 60.0,91.6 59.2,93.6C58.4,95.5 57.6,95.6 55.7,96.2C53.8,96.9 49.5,98.2 47.7,97.7C45.9,97.2 45.6,95.1 45.1,93.3C44.5,91.6 44.3,88.9 44.2,87.2C44.1,85.5 43.5,84.2 44.4,83.0Z"/><path id="sKli" d="M60.2,102.1C61.3,101.6 61.9,101.6 62.8,102.9C63.7,104.2 64.7,107.9 65.5,110.0C66.2,112.0 66.3,113.6 67.3,115.2C68.3,116.8 71.2,118.3 71.7,119.6C72.1,120.9 71.3,122.3 69.9,123.1C68.4,124.0 64.9,124.9 62.8,124.5C60.8,124.1 58.9,122.7 57.6,120.6C56.3,118.4 55.1,114.2 54.9,111.7C54.8,109.2 55.8,107.2 56.7,105.6C57.6,104.0 59.2,102.5 60.2,102.1Z"/><g id="ubase"><use href="#sbr1" fill="#e0e0e0"/><use href="#sbr2" fill="#eaeaea"/><use href="#sA" fill="#c9c9c9"/><use href="#sB" fill="#c9c9c9"/><use href="#sC" fill="#c9c9c9"/><use href="#sD" fill="#c9c9c9"/><use href="#sE" fill="#c9c9c9"/><use href="#sF" fill="#c9c9c9"/><use href="#sG" fill="#c9c9c9"/><use href="#sH" fill="#c9c9c9"/><use href="#sI" fill="#c9c9c9"/><use href="#sJ" fill="#c9c9c9"/><use href="#sK" fill="#c9c9c9"/><use href="#sA" fill="url(#pg)"/><use href="#sB" fill="url(#pg)"/><use href="#sC" fill="url(#pg)"/><use href="#sD" fill="url(#pg)"/><use href="#sE" fill="url(#pg)"/><use href="#sF" fill="url(#pg)"/><use href="#sG" fill="url(#pg)"/><use href="#sH" fill="url(#pg)"/><use href="#sI" fill="url(#pg)"/><use href="#sJ" fill="url(#pg)"/><use href="#sK" fill="url(#pg)"/></g>
<linearGradient id="vir" x1="0" x2="1" y1="0" y2="0"><stop offset="0" stop-color="#440154"/><stop offset="0.25" stop-color="#3b528b"/><stop offset="0.5" stop-color="#21918c"/><stop offset="0.75" stop-color="#5ec962"/><stop offset="1" stop-color="#fde725"/></linearGradient>
<linearGradient id="teal" x1="0" x2="0" y1="0" y2="1"><stop offset="0" stop-color="#1499a3"/><stop offset="0.55" stop-color="#7cc6cc"/><stop offset="1" stop-color="#f2fafa"/></linearGradient>
<linearGradient id="orng" x1="0" x2="0" y1="0" y2="1"><stop offset="0" stop-color="#f09a6e"/><stop offset="0.55" stop-color="#f8c8ad"/><stop offset="1" stop-color="#fdf0e8"/></linearGradient>
</defs>
<text x="1.7" y="10.7" font-size="20.5" text-anchor="start" font-weight="bold" font-style="normal" fill="#000" >a</text>
<text x="80.4" y="11.7" font-size="14.1" text-anchor="middle" font-weight="normal" font-style="normal" fill="#2b2b2b" >Reference</text>
<text x="215" y="11.7" font-size="14.1" text-anchor="middle" font-weight="normal" font-style="normal" fill="#2b2b2b" >Moving</text>
<text x="351.7" y="11.7" font-size="14.1" text-anchor="middle" font-weight="normal" font-style="normal" fill="#2b2b2b" >Pain</text>
<text x="488.8" y="11.7" font-size="14.1" text-anchor="middle" font-weight="normal" font-style="normal" fill="#2b2b2b" >Recovery</text>
<text x="621.9" y="11.7" font-size="14.1" text-anchor="middle" font-weight="normal" font-style="normal" fill="#2b2b2b" >Lasting</text>
<text x="0" y="0" font-size="14.2" text-anchor="middle" font-weight="normal" font-style="normal" fill="#2b2b2b" transform="translate(11.4,76) rotate(-90)">Pain states</text>
<text x="0" y="0" font-size="14.2" text-anchor="middle" font-weight="normal" font-style="italic" fill="#2b2b2b" transform="translate(12.6,220.5) rotate(-90)">Rnase4</text>
<g transform="translate(17.6,19)"><g filter="url(#rough)"><use href="#ubase"/><use href="#sA1" fill="#1b76bd"/><use href="#sA1" fill="url(#pblue)"/><use href="#sB" fill="#1b76bd"/><use href="#sB" fill="url(#pblue)"/><use href="#sC" fill="#1b76bd"/><use href="#sC" fill="url(#pblue)"/><use href="#sE" fill="#1b76bd"/><use href="#sE" fill="url(#pblue)"/><use href="#sF" fill="#1b76bd"/><use href="#sF" fill="url(#pblue)"/><use href="#sG" fill="#1b76bd"/><use href="#sG" fill="url(#pblue)"/><use href="#sJ" fill="#1b76bd"/><use href="#sJ" fill="url(#pblue)"/><use href="#sKl" fill="#1b76bd"/><use href="#sKl" fill="url(#pblue)"/></g></g>
<g transform="translate(152.2,19)"><g filter="url(#rough)"><use href="#ubase"/><use href="#sA1i" fill="url(#porg)"/><use href="#sBi" fill="url(#porg)"/><use href="#sC" fill="url(#porg)"/><use href="#sE" fill="url(#porg)"/><use href="#sF" fill="url(#porg)"/><use href="#sG" fill="url(#porg)"/><use href="#sJ" fill="url(#porg)"/><use href="#sKl" fill="url(#porg)"/></g></g>
<g transform="translate(288,19)"><g filter="url(#rough)"><use href="#ubase"/><use href="#spUL" fill="#079858"/><use href="#spUL" fill="url(#pgrn)"/><use href="#spUR" fill="#079858"/><use href="#spUR" fill="url(#pgrn)"/><use href="#spLB" fill="#079858"/><use href="#spLB" fill="url(#pgrn)"/><use href="#spK" fill="#079858"/><use href="#spK" fill="url(#pgrn)"/></g></g>
<g transform="translate(423.8,19)"><g filter="url(#rough)"><use href="#ubase"/><use href="#sA1" fill="#e0232b"/><use href="#sA1" fill="url(#pred)"/><use href="#sB" fill="#e0232b"/><use href="#sB" fill="url(#pred)"/><use href="#sC" fill="#e0232b"/><use href="#sC" fill="url(#pred)"/><use href="#sE" fill="#e0232b"/><use href="#sE" fill="url(#pred)"/><use href="#sF" fill="#e0232b"/><use href="#sF" fill="url(#pred)"/><use href="#sG" fill="#e0232b"/><use href="#sG" fill="url(#pred)"/><use href="#sJ" fill="#e0232b"/><use href="#sJ" fill="url(#pred)"/><use href="#sKl" fill="#e0232b"/><use href="#sKl" fill="url(#pred)"/></g></g>
<g transform="translate(559,19)"><g filter="url(#rough)"><use href="#ubase"/><use href="#slD" fill="url(#plastD)"/><use href="#slC" fill="url(#plast)"/><use href="#sKr" fill="url(#plast)"/></g></g>
<g transform="translate(17.6,160)"><g filter="url(#rough)"><use href="#ubase"/><use href="#sA1" fill="#45115c"/><use href="#sA1" fill="url(#ppur)"/><use href="#sB" fill="#45115c"/><use href="#sB" fill="url(#ppur)"/><use href="#sC" fill="#45115c"/><use href="#sC" fill="url(#ppur)"/><use href="#sJ" fill="#45115c"/><use href="#sJ" fill="url(#ppur)"/><use href="#sG" fill="#45115c"/><use href="#sG" fill="url(#ppurT)"/><use href="#sF" fill="#45115c"/><use href="#sF" fill="url(#ppurT)"/><use href="#sE" fill="#45115c"/><use href="#sE" fill="url(#pmixT)"/><use href="#sEr" fill="#8cc850"/><use href="#sEr" fill="url(#pEr)"/><use href="#sKl" fill="#45115c"/><use href="#sKl" fill="url(#pmixE)"/></g></g>
<g transform="translate(152.2,160)"><g filter="url(#rough)"><use href="#ubase"/><use href="#sA1i" fill="url(#ppur2)"/><use href="#sBi" fill="url(#ppur2)"/><use href="#sCi" fill="url(#ppur2)"/><use href="#sEi" fill="url(#ppur2)"/><use href="#sFi" fill="url(#ppur2)"/><use href="#sGi" fill="url(#ppur2)"/><use href="#sJi" fill="url(#ppur2)"/><use href="#sKli" fill="url(#ppur2)"/><use href="#sEi" fill="url(#pmoveT)"/></g></g>
<g transform="translate(288,160)"><g filter="url(#rough)"><use href="#ubase"/><use href="#spUL" fill="#45115c"/><use href="#spUL" fill="url(#ppy)"/><use href="#spUR" fill="#45115c"/><use href="#spUR" fill="url(#ppy)"/><use href="#spK" fill="#e2dc2a"/><use href="#spK" fill="url(#pyel2)"/><use href="#spLB" fill="#e2dc2a"/><use href="#spLB" fill="url(#pyelP)"/></g></g>
<g transform="translate(423.8,160)"><g filter="url(#rough)"><use href="#ubase"/><use href="#sA1" fill="#45115c"/><use href="#sA1" fill="url(#ppur)"/><use href="#sB" fill="#45115c"/><use href="#sB" fill="url(#ppur)"/><use href="#sC" fill="#45115c"/><use href="#sC" fill="url(#ppur)"/><use href="#sKl" fill="#45115c"/><use href="#sKl" fill="url(#ppur)"/><use href="#sG" fill="#45115c"/><use href="#sG" fill="url(#ppur)"/><use href="#sE" fill="#e2dc2a"/><use href="#sE" fill="url(#pyel)"/><use href="#sF" fill="#e2dc2a"/><use href="#sF" fill="url(#pyel)"/><use href="#sGlr" fill="#45115c"/><use href="#sGlr" fill="url(#pmixY)"/><use href="#sJ" fill="#45115c"/><use href="#sJ" fill="url(#pmixY)"/></g></g>
<g transform="translate(559,160)"><g filter="url(#rough)"><use href="#ubase"/><use href="#slD" fill="url(#plastD)"/><use href="#slC" fill="url(#plast2)"/><use href="#sKr" fill="url(#plast2)"/></g></g>
<text x="536.6" y="276.9" font-size="10" text-anchor="middle" font-weight="normal" font-style="normal" fill="#2b2b2b" >Min</text>
<text x="576.4" y="276.9" font-size="10" text-anchor="middle" font-weight="normal" font-style="normal" fill="#2b2b2b" >Max</text>
<rect x="536.4" y="281.6" width="40.2" height="5.8" fill="url(#vir)" stroke="#222" stroke-width="0.8"/>
<path d="M536.4,280 v2 M576.6,280 v2" stroke="#222" stroke-width="0.8"/>
<text x="1.7" y="319.4" font-size="20.5" text-anchor="start" font-weight="bold" font-style="normal" fill="#000" >b</text>
<text x="127.3" y="326.9" font-size="12.2" text-anchor="middle" font-weight="normal" font-style="normal" fill="#2b2b2b" >Nociceptors in crush model</text>
<path d="M52.2,426.7 L77.1,417.2 L102.1,397.3 L127.1,378.3 L151.6,386.8 L176.9,409.6 L201.9,404.9 L201.9,409.3 L176.9,414.0 L151.6,391.2 L127.1,382.7 L102.1,401.7 L77.1,421.6 L52.2,431.1Z" fill="#cfcfcf"/>
<polyline points="52.2,428.9 77.1,419.4 102.1,399.5 127.1,380.5 151.6,389.0 176.9,411.8 201.9,407.1" fill="none" stroke="#222" stroke-width="1.5" stroke-linejoin="round"/>
<rect x="44.8" y="335.0" width="164.89999999999998" height="113.80000000000001" fill="none" stroke="#3a3a3a" stroke-width="1.3"/>
<line x1="42.5" x2="44.8" y1="448.8" y2="448.8" stroke="#3a3a3a" stroke-width="1.2"/>
<text x="39.4" y="453.1" font-size="12" text-anchor="end" font-weight="normal" font-style="normal" fill="#2b2b2b" >0.0</text>
<line x1="42.5" x2="44.8" y1="410.9" y2="410.9" stroke="#3a3a3a" stroke-width="1.2"/>
<text x="39.4" y="415.17" font-size="12" text-anchor="end" font-weight="normal" font-style="normal" fill="#2b2b2b" >0.2</text>
<line x1="42.5" x2="44.8" y1="372.9" y2="372.9" stroke="#3a3a3a" stroke-width="1.2"/>
<text x="39.4" y="377.24" font-size="12" text-anchor="end" font-weight="normal" font-style="normal" fill="#2b2b2b" >0.4</text>
<line x1="42.5" x2="44.8" y1="335.0" y2="335.0" stroke="#3a3a3a" stroke-width="1.2"/>
<text x="39.4" y="339.31" font-size="12" text-anchor="end" font-weight="normal" font-style="normal" fill="#2b2b2b" >0.6</text>
<line x1="52.2" x2="52.2" y1="448.8" y2="451.1" stroke="#3a3a3a" stroke-width="1.2"/>
<text x="52.2" y="465.2" font-size="12" text-anchor="middle" font-weight="normal" font-style="normal" fill="#2b2b2b" >0</text>
<line x1="77.1" x2="77.1" y1="448.8" y2="451.1" stroke="#3a3a3a" stroke-width="1.2"/>
<text x="77.1" y="465.2" font-size="12" text-anchor="middle" font-weight="normal" font-style="normal" fill="#2b2b2b" >0.25</text>
<line x1="102.1" x2="102.1" y1="448.8" y2="451.1" stroke="#3a3a3a" stroke-width="1.2"/>
<text x="102.1" y="465.2" font-size="12" text-anchor="middle" font-weight="normal" font-style="normal" fill="#2b2b2b" >1</text>
<line x1="127.1" x2="127.1" y1="448.8" y2="451.1" stroke="#3a3a3a" stroke-width="1.2"/>
<text x="127.1" y="465.2" font-size="12" text-anchor="middle" font-weight="normal" font-style="normal" fill="#2b2b2b" >3</text>
<line x1="151.6" x2="151.6" y1="448.8" y2="451.1" stroke="#3a3a3a" stroke-width="1.2"/>
<text x="151.6" y="465.2" font-size="12" text-anchor="middle" font-weight="normal" font-style="normal" fill="#2b2b2b" >7</text>
<line x1="176.9" x2="176.9" y1="448.8" y2="451.1" stroke="#3a3a3a" stroke-width="1.2"/>
<text x="176.9" y="465.2" font-size="12" text-anchor="middle" font-weight="normal" font-style="normal" fill="#2b2b2b" >14</text>
<line x1="201.9" x2="201.9" y1="448.8" y2="451.1" stroke="#3a3a3a" stroke-width="1.2"/>
<text x="201.9" y="465.2" font-size="12" text-anchor="middle" font-weight="normal" font-style="normal" fill="#2b2b2b" >28</text>
<text x="0" y="0" font-size="13.5" text-anchor="middle" font-weight="normal" font-style="italic" fill="#2b2b2b" transform="translate(16.6,392) rotate(-90)">Rnase4</text>
<text x="216.6" y="319.5" font-size="20.5" text-anchor="start" font-weight="bold" font-style="normal" fill="#000" >c</text>
<text x="242.4" y="326.3" font-size="12.2" text-anchor="start" font-weight="normal" font-style="normal" fill="#2b2b2b" >Nociceptors types in crush model</text>
<path d="M251.9,404.3 L279.7,381.1 L307.1,341.4 L334.3,341.8 L361.5,360.1 L389.2,380.8 L416.4,375.4 L416.4,387.1 L389.2,390.0 L361.5,369.3 L334.3,356.1 L307.1,355.7 L279.7,392.8 L251.9,411.0Z" fill="#f07f2c" fill-opacity="0.25"/>
<path d="M251.9,414.6 L279.7,386.9 L307.1,391.1 L334.3,358.2 L361.5,362.0 L389.2,376.9 L416.4,372.0 L416.4,386.3 L389.2,388.7 L361.5,371.2 L334.3,375.1 L307.1,413.2 L279.7,406.4 L251.9,421.2Z" fill="#e0262d" fill-opacity="0.25"/>
<path d="M251.9,435.8 L279.7,426.0 L307.1,395.7 L334.3,367.2 L361.5,382.7 L389.2,421.8 L416.4,416.9 L416.4,423.5 L389.2,428.5 L361.5,391.9 L334.3,379.0 L307.1,407.5 L279.7,432.6 L251.9,441.4Z" fill="#1f74b6" fill-opacity="0.25"/>
<path d="M251.9,439.4 L279.7,424.0 L307.1,424.6 L334.3,411.4 L361.5,414.0 L389.2,427.1 L416.4,416.9 L416.4,423.5 L389.2,433.8 L361.5,420.7 L334.3,420.6 L307.1,436.3 L279.7,435.8 L251.9,445.1Z" fill="#129a5a" fill-opacity="0.25"/>
<path d="M251.9,440.2 L279.7,439.7 L307.1,433.6 L334.3,372.0 L361.5,385.8 L389.2,432.6 L416.4,417.5 L416.4,429.3 L389.2,448.7 L361.5,397.6 L334.3,388.9 L307.1,442.9 L279.7,446.3 L251.9,444.3Z" fill="#8a5545" fill-opacity="0.25"/>
<path d="M251.9,445.3 L279.7,446.7 L307.1,441.8 L334.3,413.7 L361.5,418.8 L389.2,430.2 L416.4,434.9 L416.4,441.6 L389.2,439.4 L361.5,428.0 L334.3,422.9 L307.1,448.4 L279.7,448.7 L251.9,448.7Z" fill="#7a5aaa" fill-opacity="0.25"/>
<polyline points="251.9,407.7 279.7,386.9 307.1,348.6 334.3,348.9 361.5,364.7 389.2,385.4 416.4,381.2" fill="none" stroke="#f07f2c" stroke-width="1.5" stroke-linejoin="round"/>
<polyline points="251.9,417.9 279.7,396.6 307.1,402.1 334.3,366.6 361.5,366.6 389.2,382.8 416.4,379.2" fill="none" stroke="#e0262d" stroke-width="1.5" stroke-linejoin="round"/>
<polyline points="251.9,438.6 279.7,429.3 307.1,401.6 334.3,373.1 361.5,387.3 389.2,425.1 416.4,420.2" fill="none" stroke="#1f74b6" stroke-width="1.5" stroke-linejoin="round"/>
<polyline points="251.9,442.2 279.7,429.9 307.1,430.5 334.3,416.0 361.5,417.3 389.2,430.5 416.4,420.2" fill="none" stroke="#129a5a" stroke-width="1.5" stroke-linejoin="round"/>
<polyline points="251.9,442.2 279.7,443.0 307.1,438.2 334.3,380.5 361.5,391.7 389.2,441.1 416.4,423.4" fill="none" stroke="#8a5545" stroke-width="1.5" stroke-linejoin="round"/>
<polyline points="251.9,447.4 279.7,448.7 307.1,445.1 334.3,418.3 361.5,423.4 389.2,434.8 416.4,438.2" fill="none" stroke="#7a5aaa" stroke-width="1.5" stroke-linejoin="round"/>
<rect x="243.3" y="334.7" width="181.2" height="114.0" fill="none" stroke="#3a3a3a" stroke-width="1.3"/>
<line x1="240.8" x2="243.3" y1="448.7" y2="448.7" stroke="#3a3a3a" stroke-width="1.2"/>
<text x="238.0" y="453.0" font-size="12" text-anchor="end" font-weight="normal" font-style="normal" fill="#2b2b2b" >0.0</text>
<line x1="240.8" x2="243.3" y1="410.7" y2="410.7" stroke="#3a3a3a" stroke-width="1.2"/>
<text x="238.0" y="415.0" font-size="12" text-anchor="end" font-weight="normal" font-style="normal" fill="#2b2b2b" >0.2</text>
<line x1="240.8" x2="243.3" y1="372.7" y2="372.7" stroke="#3a3a3a" stroke-width="1.2"/>
<text x="238.0" y="377.0" font-size="12" text-anchor="end" font-weight="normal" font-style="normal" fill="#2b2b2b" >0.4</text>
<line x1="240.8" x2="243.3" y1="334.7" y2="334.7" stroke="#3a3a3a" stroke-width="1.2"/>
<text x="238.0" y="339.0" font-size="12" text-anchor="end" font-weight="normal" font-style="normal" fill="#2b2b2b" >0.6</text>
<line x1="251.9" x2="251.9" y1="448.7" y2="451.0" stroke="#3a3a3a" stroke-width="1.2"/>
<text x="251.9" y="464.5" font-size="12" text-anchor="middle" font-weight="normal" font-style="normal" fill="#2b2b2b" >0</text>
<line x1="279.7" x2="279.7" y1="448.7" y2="451.0" stroke="#3a3a3a" stroke-width="1.2"/>
<text x="279.7" y="464.5" font-size="12" text-anchor="middle" font-weight="normal" font-style="normal" fill="#2b2b2b" >0.25</text>
<line x1="307.1" x2="307.1" y1="448.7" y2="451.0" stroke="#3a3a3a" stroke-width="1.2"/>
<text x="307.1" y="464.5" font-size="12" text-anchor="middle" font-weight="normal" font-style="normal" fill="#2b2b2b" >1</text>
<line x1="334.3" x2="334.3" y1="448.7" y2="451.0" stroke="#3a3a3a" stroke-width="1.2"/>
<text x="334.3" y="464.5" font-size="12" text-anchor="middle" font-weight="normal" font-style="normal" fill="#2b2b2b" >3</text>
<line x1="361.5" x2="361.5" y1="448.7" y2="451.0" stroke="#3a3a3a" stroke-width="1.2"/>
<text x="361.5" y="464.5" font-size="12" text-anchor="middle" font-weight="normal" font-style="normal" fill="#2b2b2b" >7</text>
<line x1="389.2" x2="389.2" y1="448.7" y2="451.0" stroke="#3a3a3a" stroke-width="1.2"/>
<text x="389.2" y="464.5" font-size="12" text-anchor="middle" font-weight="normal" font-style="normal" fill="#2b2b2b" >14</text>
<line x1="416.4" x2="416.4" y1="448.7" y2="451.0" stroke="#3a3a3a" stroke-width="1.2"/>
<text x="416.4" y="464.5" font-size="12" text-anchor="middle" font-weight="normal" font-style="normal" fill="#2b2b2b" >28</text>
<text x="430.6" y="347.9" font-size="12.2" text-anchor="start" font-weight="normal" font-style="normal" fill="#2b2b2b" >Cell Types</text>
<rect x="430.2" y="358.6" width="6.9" height="3.2" fill="#1f74b6"/>
<text x="439.6" y="363.7" font-size="10.1" text-anchor="start" font-weight="normal" font-style="normal" fill="#2b2b2b" >NP</text>
<rect x="430.2" y="372.5" width="6.9" height="3.2" fill="#f07f2c"/>
<text x="439.6" y="377.58" font-size="10.1" text-anchor="start" font-weight="normal" font-style="normal" fill="#2b2b2b" >PEP1</text>
<rect x="430.2" y="386.4" width="6.9" height="3.2" fill="#129a5a"/>
<text x="439.6" y="391.46" font-size="10.1" text-anchor="start" font-weight="normal" font-style="normal" fill="#2b2b2b" >PEP2</text>
<rect x="430.2" y="400.2" width="6.9" height="3.2" fill="#e0262d"/>
<text x="439.6" y="405.34" font-size="10.1" text-anchor="start" font-weight="normal" font-style="normal" fill="#2b2b2b" >SST</text>
<rect x="430.2" y="414.1" width="6.9" height="3.2" fill="#7a5aaa"/>
<text x="439.6" y="419.21999999999997" font-size="10.1" text-anchor="start" font-weight="normal" font-style="normal" fill="#2b2b2b" >cLTMR1</text>
<rect x="430.2" y="428.0" width="6.9" height="3.2" fill="#8a5545"/>
<text x="439.6" y="433.1" font-size="10.1" text-anchor="start" font-weight="normal" font-style="normal" fill="#2b2b2b" >p_cLTMR2</text>
<text x="490.5" y="319.5" font-size="20.5" text-anchor="start" font-weight="bold" font-style="normal" fill="#000" >d</text>
<text x="526.8" y="326.8" font-size="12" text-anchor="middle" font-weight="normal" font-style="normal" fill="#2b2b2b" >Normal</text>
<text x="526.5" y="341" font-size="12" text-anchor="middle" font-weight="normal" font-style="normal" fill="#2b2b2b" >N</text>
<text x="574.6" y="326.8" font-size="12" text-anchor="middle" font-weight="normal" font-style="normal" fill="#2b2b2b" >Pain</text>
<text x="574.6" y="341" font-size="12" text-anchor="middle" font-weight="normal" font-style="normal" fill="#2b2b2b" >P</text>
<path d="M553.5,334.3 L550.0,335.1 L547.5,337.8 L547.1,342.3 L547.9,346.8 L549.3,349.8 L549.2,354.3 L546.5,356.6 L540.0,358.3 L537.5,360.8 L536.7,367.3 L536.3,376.3 L535.0,386.3 L533.5,396.3 L531.0,400.3 L528.5,404.3 L530.0,405.3 L531.0,404.5 L531.0,410.3 L533.0,413.3 L536.0,412.8 L537.0,407.3 L538.0,398.3 L540.5,386.3 L542.2,378.3 L542.7,388.3 L541.7,400.3 L540.0,414.3 L539.5,426.3 L540.5,438.3 L540.5,449.3 L539.0,454.8 L535.5,458.8 L536.5,461.8 L541.5,462.1 L544.0,458.3 L545.0,452.3 L545.5,440.3 L547.0,428.3 L549.5,420.3 L552.5,416.3 L553.5,416.3Z" fill="#6f96c4" stroke="#6f96c4" stroke-width="0.6" stroke-linejoin="round"/>
<path d="M553.5,334.3 L557.0,335.1 L559.5,337.8 L559.9,342.3 L559.1,346.8 L557.7,349.8 L557.8,354.3 L560.5,356.6 L567.0,358.3 L569.5,360.8 L570.3,367.3 L570.7,376.3 L572.0,386.3 L573.5,396.3 L576.0,400.3 L578.5,404.3 L577.0,405.3 L576.0,404.5 L576.0,410.3 L574.0,413.3 L571.0,412.8 L570.0,407.3 L569.0,398.3 L566.5,386.3 L564.8,378.3 L564.3,388.3 L565.3,400.3 L567.0,414.3 L567.5,426.3 L566.5,438.3 L566.5,449.3 L568.0,454.8 L571.5,458.8 L570.5,461.8 L565.5,462.1 L563.0,458.3 L562.0,452.3 L561.5,440.3 L560.0,428.3 L557.5,420.3 L554.5,416.3 L553.5,416.3Z" fill="#e8a66f" stroke="#e8a66f" stroke-width="0.6" stroke-linejoin="round"/>
<line x1="553.5" x2="553.5" y1="329.8" y2="416" stroke="#111" stroke-width="1.1" stroke-dasharray="3,2"/>
<text x="650" y="326.4" font-size="12" text-anchor="middle" font-weight="normal" font-style="normal" fill="#2b2b2b" >Human DRG</text>
<line x1="624.7" x2="624.7" y1="335.1" y2="448.0" stroke="#3a3a3a" stroke-width="1.4"/>
<line x1="623.2" x2="678.4" y1="448.0" y2="448.0" stroke="#3a3a3a" stroke-width="1.4"/>
<line x1="622.4000000000001" x2="624.7" y1="448.0" y2="448.0" stroke="#3a3a3a" stroke-width="1.2"/>
<text x="622.2" y="452.3" font-size="12" text-anchor="end" font-weight="normal" font-style="normal" fill="#2b2b2b" >0</text>
<line x1="622.4000000000001" x2="624.7" y1="415.8" y2="415.8" stroke="#3a3a3a" stroke-width="1.2"/>
<text x="622.2" y="420.1" font-size="12" text-anchor="end" font-weight="normal" font-style="normal" fill="#2b2b2b" >10</text>
<line x1="622.4000000000001" x2="624.7" y1="383.6" y2="383.6" stroke="#3a3a3a" stroke-width="1.2"/>
<text x="622.2" y="387.90000000000003" font-size="12" text-anchor="end" font-weight="normal" font-style="normal" fill="#2b2b2b" >20</text>
<line x1="622.4000000000001" x2="624.7" y1="351.4" y2="351.4" stroke="#3a3a3a" stroke-width="1.2"/>
<text x="622.2" y="355.7" font-size="12" text-anchor="end" font-weight="normal" font-style="normal" fill="#2b2b2b" >30</text>
<text x="0" y="0" font-size="12.2" text-anchor="middle" font-weight="normal" font-style="normal" fill="#2b2b2b" transform="translate(605.8,391.7) rotate(-90)">RNASE4 Expression</text>
<rect x="631.7" y="372.0" width="13.2" height="76.0" fill="#fff" stroke="#2a86c6" stroke-width="1.6"/>
<line x1="638.3" x2="638.3" y1="357.5" y2="387.1" stroke="#2a86c6" stroke-width="1.5"/>
<line x1="635.6999999999999" x2="640.9" y1="387.1" y2="387.1" stroke="#2a86c6" stroke-width="1.5"/>
<line x1="635.6999999999999" x2="640.9" y1="357.5" y2="357.5" stroke="#2a86c6" stroke-width="1.5"/>
<circle cx="638.3" cy="345.3" r="2.9" fill="none" stroke="#2a86c6" stroke-width="1.5"/>
<circle cx="638.3" cy="396.5" r="2.9" fill="none" stroke="#2a86c6" stroke-width="1.5"/>
<circle cx="638.3" cy="372.0" r="2.9" fill="none" stroke="#2a86c6" stroke-width="1.5"/>
<text x="638.3" y="460.4" font-size="12" text-anchor="middle" font-weight="normal" font-style="normal" fill="#2b2b2b" >N</text>
<rect x="658.2" y="355.3" width="13.2" height="92.7" fill="#fff" stroke="#f08a40" stroke-width="1.6"/>
<line x1="664.8" x2="664.8" y1="347.2" y2="363.6" stroke="#f08a40" stroke-width="1.5"/>
<line x1="662.1999999999999" x2="667.4" y1="363.6" y2="363.6" stroke="#f08a40" stroke-width="1.5"/>
<line x1="662.1999999999999" x2="667.4" y1="347.2" y2="347.2" stroke="#f08a40" stroke-width="1.5"/>
<circle cx="664.8" cy="339.8" r="2.9" fill="none" stroke="#f08a40" stroke-width="1.5"/>
<circle cx="664.8" cy="369.4" r="2.9" fill="none" stroke="#f08a40" stroke-width="1.5"/>
<circle cx="664.8" cy="355.3" r="2.9" fill="none" stroke="#f08a40" stroke-width="1.5"/>
<text x="664.8" y="460.4" font-size="12" text-anchor="middle" font-weight="normal" font-style="normal" fill="#2b2b2b" >P</text>
<line x1="624.7" x2="624.7" y1="335.1" y2="448.0" stroke="#3a3a3a" stroke-width="1.4"/>
<text x="1.2" y="492.3" font-size="20.5" text-anchor="start" font-weight="bold" font-style="normal" fill="#000" >e</text>
<text x="45.6" y="547.2" font-size="16.5" font-style="italic" fill="#2b2b2b">Baf53b<tspan font-size="9.6" dy="-6.6">Cre</tspan><tspan dy="6.6">;Rnase4</tspan><tspan font-size="10" dy="-6.6">fl/fl</tspan></text>
<rect x="214.2" y="535.6" width="96.5" height="11.8" fill="url(#teal)"/>
<rect x="310.7" y="535.9" width="143.8" height="11.5" fill="url(#orng)"/>
<line x1="221" x2="454.5" y1="547.4" y2="547.4" stroke="#111" stroke-width="1.4"/>
<line x1="310.7" x2="310.7" y1="514.7" y2="536.5" stroke="#e8303c" stroke-width="1"/>
<line x1="365.2" x2="365.2" y1="539.2" y2="552" stroke="#111" stroke-width="1.4"/>
<line x1="418.2" x2="418.2" y1="539.2" y2="552" stroke="#111" stroke-width="1.4"/>
<text x="308.2" y="528.6" font-size="14.1" text-anchor="end" font-weight="normal" font-style="normal" fill="#e8303c" >Nerve</text>
<text x="312.7" y="528.6" font-size="14.1" text-anchor="start" font-weight="normal" font-style="normal" fill="#e8303c" >Crush</text>
<text x="380.8" y="497.9" font-size="14.1" text-anchor="middle" font-weight="normal" font-style="normal" fill="#2b2b2b" >Behavior tests</text>
<line x1="259.2" x2="259.2" y1="505.5" y2="517.8" stroke="#1a1a1a" stroke-width="1.5"/>
<path d="M252.4,516.8 L265.9,516.8 L259.2,525 Z" fill="#1a1a1a"/>
<line x1="372.3" x2="372.3" y1="505" y2="517.5" stroke="#1a1a1a" stroke-width="1.5"/>
<path d="M365.6,516.5 L379.1,516.5 L372.3,524.7 Z" fill="#1a1a1a"/>
<line x1="416.4" x2="416.4" y1="505" y2="517.5" stroke="#1a1a1a" stroke-width="1.5"/>
<path d="M409.6,516.5 L423.1,516.5 L416.4,524.7 Z" fill="#1a1a1a"/>
<text x="258.2" y="565.4" font-size="13.8" text-anchor="middle" font-weight="normal" font-style="normal" fill="#2b2b2b" >Baseline</text>
<text x="311.7" y="567" font-size="13.8" text-anchor="middle" font-weight="normal" font-style="normal" fill="#2b2b2b" >0</text>
<text x="366.2" y="567.5" font-size="13.8" text-anchor="middle" font-weight="normal" font-style="normal" fill="#2b2b2b" >7</text>
<text x="418.2" y="567.5" font-size="13.8" text-anchor="middle" font-weight="normal" font-style="normal" fill="#2b2b2b" >14</text>
<line x1="460.1" x2="477" y1="539.7" y2="539.7" stroke="#111" stroke-width="1.3"/>
<path d="M476,533.9 L484.3,539.6 L476,545.3 Z" fill="#2d4fa0"/>
<text x="566.5" y="539.1" font-size="14.2" text-anchor="middle" font-weight="normal" font-style="normal" fill="#3d5bab" >Tissue Collection</text>
<text x="568.5" y="556.6" font-size="14.2" text-anchor="middle" font-weight="normal" font-style="normal" fill="#3d5bab" >for Electron Microscopy</text>
<text x="2.6" y="598.5" font-size="20.5" text-anchor="start" font-weight="bold" font-style="normal" fill="#000" >f</text>
<text x="171.3" y="602.2" font-size="16.4" text-anchor="middle" font-weight="normal" font-style="normal" fill="#2b2b2b" >Von frey test</text>
<line x1="62.6" x2="62.6" y1="611.6" y2="768.1" stroke="#3a3a3a" stroke-width="1.4"/>
<line x1="62.6" x2="300.3" y1="768.1" y2="768.1" stroke="#3a3a3a" stroke-width="1.4"/>
<line x1="60.1" x2="62.6" y1="768.1" y2="768.1" stroke="#3a3a3a" stroke-width="1.2"/>
<text x="58.8" y="772.3000000000001" font-size="12.3" text-anchor="end" font-weight="normal" font-style="normal" fill="#2b2b2b" >0.0</text>
<line x1="60.1" x2="62.6" y1="735.5" y2="735.5" stroke="#3a3a3a" stroke-width="1.2"/>
<text x="58.8" y="739.6750000000001" font-size="12.3" text-anchor="end" font-weight="normal" font-style="normal" fill="#2b2b2b" >0.5</text>
<line x1="60.1" x2="62.6" y1="702.9" y2="702.9" stroke="#3a3a3a" stroke-width="1.2"/>
<text x="58.8" y="707.0500000000001" font-size="12.3" text-anchor="end" font-weight="normal" font-style="normal" fill="#2b2b2b" >1.0</text>
<line x1="60.1" x2="62.6" y1="670.2" y2="670.2" stroke="#3a3a3a" stroke-width="1.2"/>
<text x="58.8" y="674.4250000000001" font-size="12.3" text-anchor="end" font-weight="normal" font-style="normal" fill="#2b2b2b" >1.5</text>
<line x1="60.1" x2="62.6" y1="637.6" y2="637.6" stroke="#3a3a3a" stroke-width="1.2"/>
<text x="58.8" y="641.8000000000001" font-size="12.3" text-anchor="end" font-weight="normal" font-style="normal" fill="#2b2b2b" >2.0</text>
<line x1="102.5" x2="102.5" y1="768.1" y2="770.6" stroke="#3a3a3a" stroke-width="1.2"/>
<line x1="181" x2="181" y1="768.1" y2="770.6" stroke="#3a3a3a" stroke-width="1.2"/>
<line x1="260.6" x2="260.6" y1="768.1" y2="770.6" stroke="#3a3a3a" stroke-width="1.2"/>
<text x="102.5" y="783.3" font-size="11.9" text-anchor="middle" font-weight="normal" font-style="normal" fill="#2b2b2b" >Baseline</text>
<text x="181" y="784.2" font-size="11.9" text-anchor="middle" font-weight="normal" font-style="normal" fill="#2b2b2b" >Inj 7d</text>
<text x="260.4" y="784.2" font-size="11.9" text-anchor="middle" font-weight="normal" font-style="normal" fill="#2b2b2b" >Inj 14d</text>
<text x="0" y="0" font-size="12.3" text-anchor="middle" font-weight="normal" font-style="normal" fill="#2b2b2b" transform="translate(31.8,695.5) rotate(-90)">50% withdrawal threshold (g)</text>
<circle cx="97.2" cy="722.4" r="2.25" fill="none" stroke="#5fb474" stroke-width="1.15"/>
<circle cx="99.1" cy="727.0" r="2.25" fill="none" stroke="#5fb474" stroke-width="1.15"/>
<circle cx="95.3" cy="733.5" r="2.25" fill="none" stroke="#5fb474" stroke-width="1.15"/>
<circle cx="104.4" cy="733.5" r="2.25" fill="none" stroke="#5fb474" stroke-width="1.15"/>
<circle cx="109.5" cy="739.4" r="2.25" fill="none" stroke="#5fb474" stroke-width="1.15"/>
<circle cx="108.6" cy="745.9" r="2.25" fill="none" stroke="#5fb474" stroke-width="1.15"/>
<circle cx="101.0" cy="735.5" r="2.25" fill="none" stroke="#5fb474" stroke-width="1.15"/>
<circle cx="106.0" cy="737.4" r="2.25" fill="none" stroke="#5fb474" stroke-width="1.15"/>
<circle cx="94.3" cy="727.0" r="2.25" fill="none" stroke="#a898cc" stroke-width="1.15"/>
<circle cx="108.6" cy="730.3" r="2.25" fill="none" stroke="#a898cc" stroke-width="1.15"/>
<circle cx="97.7" cy="738.7" r="2.25" fill="none" stroke="#a898cc" stroke-width="1.15"/>
<circle cx="102.5" cy="751.1" r="2.25" fill="none" stroke="#a898cc" stroke-width="1.15"/>
<circle cx="100.0" cy="737.4" r="2.25" fill="none" stroke="#a898cc" stroke-width="1.15"/>
<circle cx="104.0" cy="737.4" r="2.25" fill="none" stroke="#a898cc" stroke-width="1.15"/>
<circle cx="106.5" cy="735.5" r="2.25" fill="none" stroke="#a898cc" stroke-width="1.15"/>
<circle cx="96.0" cy="735.5" r="2.25" fill="none" stroke="#a898cc" stroke-width="1.15"/>
<circle cx="175.0" cy="637.6" r="2.25" fill="none" stroke="#5fb474" stroke-width="1.15"/>
<circle cx="178.5" cy="637.6" r="2.25" fill="none" stroke="#5fb474" stroke-width="1.15"/>
<circle cx="182.0" cy="637.6" r="2.25" fill="none" stroke="#5fb474" stroke-width="1.15"/>
<circle cx="185.5" cy="637.6" r="2.25" fill="none" stroke="#5fb474" stroke-width="1.15"/>
<circle cx="177.0" cy="637.6" r="2.25" fill="none" stroke="#a898cc" stroke-width="1.15"/>
<circle cx="181.0" cy="637.6" r="2.25" fill="none" stroke="#a898cc" stroke-width="1.15"/>
<circle cx="184.5" cy="637.6" r="2.25" fill="none" stroke="#a898cc" stroke-width="1.15"/>
<circle cx="188.0" cy="637.6" r="2.25" fill="none" stroke="#a898cc" stroke-width="1.15"/>
<circle cx="254.5" cy="727.6" r="2.25" fill="none" stroke="#5fb474" stroke-width="1.15"/>
<circle cx="258.0" cy="727.6" r="2.25" fill="none" stroke="#5fb474" stroke-width="1.15"/>
<circle cx="260.6" cy="734.2" r="2.25" fill="none" stroke="#5fb474" stroke-width="1.15"/>
<circle cx="256.0" cy="744.6" r="2.25" fill="none" stroke="#5fb474" stroke-width="1.15"/>
<circle cx="263.0" cy="745.3" r="2.25" fill="none" stroke="#5fb474" stroke-width="1.15"/>
<circle cx="252.5" cy="753.7" r="2.25" fill="none" stroke="#5fb474" stroke-width="1.15"/>
<circle cx="260.0" cy="753.7" r="2.25" fill="none" stroke="#5fb474" stroke-width="1.15"/>
<circle cx="254.5" cy="683.3" r="2.25" fill="none" stroke="#a898cc" stroke-width="1.15"/>
<circle cx="256.0" cy="683.3" r="2.25" fill="none" stroke="#a898cc" stroke-width="1.15"/>
<circle cx="266.7" cy="683.3" r="2.25" fill="none" stroke="#a898cc" stroke-width="1.15"/>
<circle cx="257.5" cy="700.2" r="2.25" fill="none" stroke="#a898cc" stroke-width="1.15"/>
<circle cx="268.0" cy="718.5" r="2.25" fill="none" stroke="#a898cc" stroke-width="1.15"/>
<circle cx="262.0" cy="729.0" r="2.25" fill="none" stroke="#a898cc" stroke-width="1.15"/>
<polyline points="104.4,733.5 181,637.6 260.6,737.4" fill="none" stroke="#5fb474" stroke-width="1.6"/>
<polyline points="102,735.5 181,637.6 260.6,704.8" fill="none" stroke="#a898cc" stroke-width="1.6"/>
<line x1="260.6" x2="260.6" y1="695.7" y2="714.6" stroke="#a898cc" stroke-width="1.6"/>
<line x1="256.1" x2="265.1" y1="695.7" y2="695.7" stroke="#a898cc" stroke-width="1.6"/>
<line x1="256.1" x2="265.1" y1="714.6" y2="714.6" stroke="#a898cc" stroke-width="1.6"/>
<line x1="260.6" x2="260.6" y1="729.0" y2="744.6" stroke="#5fb474" stroke-width="1.6"/>
<line x1="256.1" x2="265.1" y1="729.0" y2="729.0" stroke="#5fb474" stroke-width="1.6"/>
<line x1="256.1" x2="265.1" y1="744.6" y2="744.6" stroke="#5fb474" stroke-width="1.6"/>
<circle cx="260.6" cy="704.8" r="2.5" fill="#a898cc" stroke="#a898cc" stroke-width="1.15"/>
<circle cx="260.6" cy="737.4" r="2.5" fill="#5fb474" stroke="#5fb474" stroke-width="1.15"/>
<circle cx="104.4" cy="733.5" r="2.5" fill="#5fb474" stroke="#5fb474" stroke-width="1.15"/>
<circle cx="100.6" cy="736.8" r="2.5" fill="#a898cc" stroke="#a898cc" stroke-width="1.15"/>
<circle cx="181.0" cy="637.6" r="2.5" fill="#a898cc" stroke="#a898cc" stroke-width="1.15"/>
<path d="M274,708.4 H278.1 V739.5 H274" fill="none" stroke="#1a1a1a" stroke-width="1.3"/>
<text x="279.8" y="730.5" font-size="12" text-anchor="start" font-weight="normal" font-style="normal" fill="#2b2b2b" >*</text>
<line x1="224" x2="239.3" y1="629.4" y2="629.4" stroke="#5fb474" stroke-width="1.6"/>
<circle cx="231.5" cy="629.4" r="2.5" fill="#5fb474" stroke="#5fb474" stroke-width="1.15"/>
<line x1="224" x2="239.3" y1="643.8" y2="643.8" stroke="#a898cc" stroke-width="1.6"/>
<circle cx="231.5" cy="643.8" r="2.5" fill="#a898cc" stroke="#a898cc" stroke-width="1.15"/>
<text x="244.8" y="632.9" font-size="12.3" text-anchor="start" font-weight="normal" font-style="italic" fill="#2b2b2b" >cKO-BR</text>
<text x="245.4" y="647.3" font-size="12.3" font-style="italic" fill="#2b2b2b">BAF<tspan font-size="7.5" dy="-4.5">Cre+</tspan></text>
<text x="348" y="598.4" font-size="20.5" text-anchor="start" font-weight="bold" font-style="normal" fill="#000" >g</text>
<text x="527.2" y="602.2" font-size="16.4" text-anchor="middle" font-weight="normal" font-style="normal" fill="#2b2b2b" >Hargreaves test</text>
<line x1="403" x2="403" y1="611.9" y2="768.1" stroke="#3a3a3a" stroke-width="1.4"/>
<line x1="403" x2="640.3" y1="768.1" y2="768.1" stroke="#3a3a3a" stroke-width="1.4"/>
<line x1="400.5" x2="403" y1="757.8" y2="757.8" stroke="#3a3a3a" stroke-width="1.2"/>
<text x="397.4" y="762.0200000000001" font-size="12" text-anchor="end" font-weight="normal" font-style="normal" fill="#2b2b2b" >6</text>
<line x1="400.5" x2="403" y1="738.0" y2="738.0" stroke="#3a3a3a" stroke-width="1.2"/>
<text x="397.4" y="742.1600000000001" font-size="12" text-anchor="end" font-weight="normal" font-style="normal" fill="#2b2b2b" >8</text>
<line x1="400.5" x2="403" y1="718.1" y2="718.1" stroke="#3a3a3a" stroke-width="1.2"/>
<text x="397.4" y="722.3000000000001" font-size="12" text-anchor="end" font-weight="normal" font-style="normal" fill="#2b2b2b" >10</text>
<line x1="400.5" x2="403" y1="698.2" y2="698.2" stroke="#3a3a3a" stroke-width="1.2"/>
<text x="397.4" y="702.44" font-size="12" text-anchor="end" font-weight="normal" font-style="normal" fill="#2b2b2b" >12</text>
<line x1="400.5" x2="403" y1="678.4" y2="678.4" stroke="#3a3a3a" stroke-width="1.2"/>
<text x="397.4" y="682.58" font-size="12" text-anchor="end" font-weight="normal" font-style="normal" fill="#2b2b2b" >14</text>
<line x1="400.5" x2="403" y1="658.5" y2="658.5" stroke="#3a3a3a" stroke-width="1.2"/>
<text x="397.4" y="662.72" font-size="12" text-anchor="end" font-weight="normal" font-style="normal" fill="#2b2b2b" >16</text>
<line x1="400.5" x2="403" y1="638.7" y2="638.7" stroke="#3a3a3a" stroke-width="1.2"/>
<text x="397.4" y="642.8600000000001" font-size="12" text-anchor="end" font-weight="normal" font-style="normal" fill="#2b2b2b" >18</text>
<line x1="400.5" x2="403" y1="618.8" y2="618.8" stroke="#3a3a3a" stroke-width="1.2"/>
<text x="397.4" y="623.0000000000001" font-size="12" text-anchor="end" font-weight="normal" font-style="normal" fill="#2b2b2b" >20</text>
<line x1="442.6" x2="442.6" y1="768.1" y2="770.6" stroke="#3a3a3a" stroke-width="1.2"/>
<line x1="521.2" x2="521.2" y1="768.1" y2="770.6" stroke="#3a3a3a" stroke-width="1.2"/>
<line x1="600.6" x2="600.6" y1="768.1" y2="770.6" stroke="#3a3a3a" stroke-width="1.2"/>
<text x="442.7" y="784.2" font-size="11.9" text-anchor="middle" font-weight="normal" font-style="normal" fill="#2b2b2b" >Baseline</text>
<text x="521" y="784.2" font-size="11.9" text-anchor="middle" font-weight="normal" font-style="normal" fill="#2b2b2b" >Inj 7d</text>
<text x="600" y="784.2" font-size="11.9" text-anchor="middle" font-weight="normal" font-style="normal" fill="#2b2b2b" >Inj14d</text>
<text x="0" y="0" font-size="12.25" text-anchor="middle" font-weight="normal" font-style="normal" fill="#2b2b2b" transform="translate(377,689) rotate(-90)">Paw withdrawal latency (sec)</text>
<circle cx="448.2" cy="653.6" r="2.25" fill="none" stroke="#5fb474" stroke-width="1.15"/>
<circle cx="437.6" cy="676.4" r="2.25" fill="none" stroke="#5fb474" stroke-width="1.15"/>
<circle cx="438.2" cy="678.4" r="2.25" fill="none" stroke="#5fb474" stroke-width="1.15"/>
<circle cx="443.7" cy="709.2" r="2.25" fill="none" stroke="#5fb474" stroke-width="1.15"/>
<circle cx="449.3" cy="693.8" r="2.25" fill="none" stroke="#5fb474" stroke-width="1.15"/>
<circle cx="446.0" cy="686.3" r="2.25" fill="none" stroke="#5fb474" stroke-width="1.15"/>
<circle cx="441.0" cy="688.3" r="2.25" fill="none" stroke="#5fb474" stroke-width="1.15"/>
<circle cx="439.9" cy="666.5" r="2.25" fill="none" stroke="#a898cc" stroke-width="1.15"/>
<circle cx="445.4" cy="682.4" r="2.25" fill="none" stroke="#a898cc" stroke-width="1.15"/>
<circle cx="438.5" cy="697.2" r="2.25" fill="none" stroke="#a898cc" stroke-width="1.15"/>
<circle cx="438.2" cy="701.2" r="2.25" fill="none" stroke="#a898cc" stroke-width="1.15"/>
<circle cx="435.4" cy="712.1" r="2.25" fill="none" stroke="#a898cc" stroke-width="1.15"/>
<circle cx="444.5" cy="690.3" r="2.25" fill="none" stroke="#a898cc" stroke-width="1.15"/>
<circle cx="446.5" cy="690.3" r="2.25" fill="none" stroke="#a898cc" stroke-width="1.15"/>
<circle cx="521.5" cy="713.1" r="2.25" fill="none" stroke="#5fb474" stroke-width="1.15"/>
<circle cx="522.5" cy="717.1" r="2.25" fill="none" stroke="#5fb474" stroke-width="1.15"/>
<circle cx="528.5" cy="717.1" r="2.25" fill="none" stroke="#5fb474" stroke-width="1.15"/>
<circle cx="525.0" cy="720.1" r="2.25" fill="none" stroke="#5fb474" stroke-width="1.15"/>
<circle cx="519.6" cy="741.4" r="2.25" fill="none" stroke="#5fb474" stroke-width="1.15"/>
<circle cx="521.0" cy="755.8" r="2.25" fill="none" stroke="#5fb474" stroke-width="1.15"/>
<circle cx="518.8" cy="618.8" r="2.25" fill="none" stroke="#a898cc" stroke-width="1.15"/>
<circle cx="520.5" cy="655.5" r="2.25" fill="none" stroke="#a898cc" stroke-width="1.15"/>
<circle cx="521.5" cy="668.5" r="2.25" fill="none" stroke="#a898cc" stroke-width="1.15"/>
<circle cx="517.7" cy="713.1" r="2.25" fill="none" stroke="#a898cc" stroke-width="1.15"/>
<circle cx="524.4" cy="716.1" r="2.25" fill="none" stroke="#a898cc" stroke-width="1.15"/>
<circle cx="528.4" cy="726.0" r="2.25" fill="none" stroke="#a898cc" stroke-width="1.15"/>
<circle cx="600.1" cy="674.4" r="2.25" fill="none" stroke="#5fb474" stroke-width="1.15"/>
<circle cx="604.3" cy="707.2" r="2.25" fill="none" stroke="#5fb474" stroke-width="1.15"/>
<circle cx="595.4" cy="713.1" r="2.25" fill="none" stroke="#5fb474" stroke-width="1.15"/>
<circle cx="593.2" cy="746.4" r="2.25" fill="none" stroke="#5fb474" stroke-width="1.15"/>
<circle cx="601.0" cy="748.9" r="2.25" fill="none" stroke="#5fb474" stroke-width="1.15"/>
<circle cx="608.4" cy="760.8" r="2.25" fill="none" stroke="#5fb474" stroke-width="1.15"/>
<circle cx="603.5" cy="714.1" r="2.25" fill="none" stroke="#5fb474" stroke-width="1.15"/>
<circle cx="600.9" cy="618.8" r="2.25" fill="none" stroke="#a898cc" stroke-width="1.15"/>
<circle cx="595.4" cy="696.3" r="2.25" fill="none" stroke="#a898cc" stroke-width="1.15"/>
<circle cx="605.6" cy="703.2" r="2.25" fill="none" stroke="#a898cc" stroke-width="1.15"/>
<circle cx="607.6" cy="711.1" r="2.25" fill="none" stroke="#a898cc" stroke-width="1.15"/>
<circle cx="603.7" cy="715.1" r="2.25" fill="none" stroke="#a898cc" stroke-width="1.15"/>
<circle cx="599.5" cy="732.0" r="2.25" fill="none" stroke="#a898cc" stroke-width="1.15"/>
<polyline points="443.5,683.8 521.2,728.0 600.6,725.5" fill="none" stroke="#5fb474" stroke-width="1.6"/>
<polyline points="442.6,690.3 521.2,683.3 600.6,696.3" fill="none" stroke="#a898cc" stroke-width="1.6"/>
<line x1="443.5" x2="443.5" y1="675.9" y2="690.8" stroke="#5fb474" stroke-width="1.6"/>
<line x1="439.0" x2="448.0" y1="675.9" y2="675.9" stroke="#5fb474" stroke-width="1.6"/>
<line x1="439.0" x2="448.0" y1="690.8" y2="690.8" stroke="#5fb474" stroke-width="1.6"/>
<line x1="442.6" x2="442.6" y1="683.3" y2="697.2" stroke="#a898cc" stroke-width="1.6"/>
<line x1="438.1" x2="447.1" y1="683.3" y2="683.3" stroke="#a898cc" stroke-width="1.6"/>
<line x1="438.1" x2="447.1" y1="697.2" y2="697.2" stroke="#a898cc" stroke-width="1.6"/>
<line x1="521.2" x2="521.2" y1="665.5" y2="700.2" stroke="#a898cc" stroke-width="1.6"/>
<line x1="516.7" x2="525.7" y1="665.5" y2="665.5" stroke="#a898cc" stroke-width="1.6"/>
<line x1="516.7" x2="525.7" y1="700.2" y2="700.2" stroke="#a898cc" stroke-width="1.6"/>
<line x1="521.2" x2="521.2" y1="721.1" y2="735.0" stroke="#5fb474" stroke-width="1.6"/>
<line x1="516.7" x2="525.7" y1="721.1" y2="721.1" stroke="#5fb474" stroke-width="1.6"/>
<line x1="516.7" x2="525.7" y1="735.0" y2="735.0" stroke="#5fb474" stroke-width="1.6"/>
<line x1="600.6" x2="600.6" y1="679.4" y2="711.1" stroke="#a898cc" stroke-width="1.6"/>
<line x1="596.1" x2="605.1" y1="679.4" y2="679.4" stroke="#a898cc" stroke-width="1.6"/>
<line x1="596.1" x2="605.1" y1="711.1" y2="711.1" stroke="#a898cc" stroke-width="1.6"/>
<line x1="600.6" x2="600.6" y1="711.1" y2="739.0" stroke="#5fb474" stroke-width="1.6"/>
<line x1="596.1" x2="605.1" y1="711.1" y2="711.1" stroke="#5fb474" stroke-width="1.6"/>
<line x1="596.1" x2="605.1" y1="739.0" y2="739.0" stroke="#5fb474" stroke-width="1.6"/>
<circle cx="443.5" cy="683.8" r="2.5" fill="#5fb474" stroke="#5fb474" stroke-width="1.15"/>
<circle cx="442.6" cy="690.3" r="2.5" fill="#a898cc" stroke="#a898cc" stroke-width="1.15"/>
<circle cx="521.2" cy="728.0" r="2.5" fill="#5fb474" stroke="#5fb474" stroke-width="1.15"/>
<circle cx="521.2" cy="683.3" r="2.5" fill="#a898cc" stroke="#a898cc" stroke-width="1.15"/>
<circle cx="600.6" cy="725.5" r="2.5" fill="#5fb474" stroke="#5fb474" stroke-width="1.15"/>
<circle cx="600.6" cy="696.3" r="2.5" fill="#a898cc" stroke="#a898cc" stroke-width="1.15"/>
<path d="M616.7,696.8 H621 V727.9 H616.7" fill="none" stroke="#1a1a1a" stroke-width="1.3"/>
<text x="622.3" y="716.8" font-size="14.5" text-anchor="start" font-weight="normal" font-style="normal" fill="#2b2b2b" >ns</text>
<line x1="568.2" x2="582" y1="637.7" y2="637.7" stroke="#5fb474" stroke-width="1.6"/>
<circle cx="575.0" cy="637.7" r="2.5" fill="#5fb474" stroke="#5fb474" stroke-width="1.15"/>
<line x1="568.2" x2="582" y1="652.1" y2="652.1" stroke="#a898cc" stroke-width="1.6"/>
<circle cx="575.0" cy="652.1" r="2.5" fill="#a898cc" stroke="#a898cc" stroke-width="1.15"/>
<text x="588.2" y="641.9" font-size="12.3" text-anchor="start" font-weight="normal" font-style="italic" fill="#2b2b2b" >cKO-BR</text>
<text x="588.2" y="656.3" font-size="12.3" font-style="italic" fill="#2b2b2b">BAF<tspan font-size="7.5" dy="-4.5">Cre+</tspan></text>
<text x="1.5" y="815" font-size="20.5" text-anchor="start" font-weight="bold" font-style="normal" fill="#000" >h</text>
<text x="19.1" y="883.9" font-size="16.6" font-style="italic" fill="#2b2b2b">Prdm12<tspan font-size="9.4" dy="-6.6">CreERT2</tspan><tspan dy="6.6">;Rnase4</tspan><tspan font-size="10" dy="-6.6">fl/fl</tspan></text>
<rect x="220.7" y="873.6" width="112.2" height="11.8" fill="url(#teal)"/>
<rect x="332.9" y="874.4" width="144" height="11" fill="url(#orng)"/>
<line x1="220.7" x2="476.9" y1="885.5" y2="885.5" stroke="#111" stroke-width="1.4"/>
<line x1="332.9" x2="332.9" y1="852.5" y2="874.9" stroke="#e8303c" stroke-width="1"/>
<line x1="241" x2="241" y1="864.4" y2="874.1" stroke="#a94a98" stroke-width="1.5"/>
<line x1="251" x2="251" y1="864.4" y2="874.1" stroke="#a94a98" stroke-width="1.5"/>
<line x1="261" x2="261" y1="864.4" y2="874.1" stroke="#a94a98" stroke-width="1.5"/>
<line x1="262" x2="262" y1="877.5" y2="891" stroke="#111" stroke-width="1.4"/>
<line x1="386.2" x2="386.2" y1="877.5" y2="891" stroke="#111" stroke-width="1.4"/>
<line x1="438.8" x2="438.8" y1="877.5" y2="891" stroke="#111" stroke-width="1.4"/>
<text x="245.6" y="856.5" font-size="14.05" text-anchor="middle" font-weight="normal" font-style="normal" fill="#b04c9e" >TAM injection</text>
<text x="331.1" y="866.2" font-size="14.1" text-anchor="end" font-weight="normal" font-style="normal" fill="#e8303c" >Nerve</text>
<text x="335" y="866.2" font-size="14.1" text-anchor="start" font-weight="normal" font-style="normal" fill="#e8303c" >Crush</text>
<text x="368.6" y="813.7" font-size="14.1" text-anchor="middle" font-weight="normal" font-style="normal" fill="#2b2b2b" >Behavior tests</text>
<line x1="239.1" x2="239.1" y1="822.3" y2="834.3" stroke="#1a1a1a" stroke-width="1.5"/>
<path d="M232.3,833.3 L245.8,833.3 L239.1,841.5 Z" fill="#1a1a1a"/>
<line x1="343.6" x2="343.6" y1="822.3" y2="834.3" stroke="#1a1a1a" stroke-width="1.5"/>
<path d="M336.9,833.3 L350.4,833.3 L343.6,841.5 Z" fill="#1a1a1a"/>
<line x1="414.1" x2="414.1" y1="822.3" y2="834.3" stroke="#1a1a1a" stroke-width="1.5"/>
<path d="M407.4,833.3 L420.9,833.3 L414.1,841.5 Z" fill="#1a1a1a"/>
<line x1="460" x2="460" y1="822.3" y2="834.3" stroke="#1a1a1a" stroke-width="1.5"/>
<path d="M453.2,833.3 L466.8,833.3 L460,841.5 Z" fill="#1a1a1a"/>
<text x="212.2" y="903.8" font-size="13.8" text-anchor="middle" font-weight="normal" font-style="normal" fill="#2b2b2b" >Baseline</text>
<text x="260.1" y="903.8" font-size="13.8" text-anchor="middle" font-weight="normal" font-style="normal" fill="#2b2b2b" >-30</text>
<text x="332" y="904.6" font-size="13.8" text-anchor="middle" font-weight="normal" font-style="normal" fill="#2b2b2b" >0</text>
<text x="386.5" y="904.6" font-size="13.8" text-anchor="middle" font-weight="normal" font-style="normal" fill="#2b2b2b" >7</text>
<text x="438.8" y="904.6" font-size="13.8" text-anchor="middle" font-weight="normal" font-style="normal" fill="#2b2b2b" >14</text>
<line x1="482.3" x2="498.5" y1="874.4" y2="874.4" stroke="#111" stroke-width="1.3"/>
<path d="M497.7,868.6 L506.5,874.5 L497.7,880.6 Z" fill="#2d4fa0"/>
<text x="588.5" y="874.4" font-size="14.2" text-anchor="middle" font-weight="normal" font-style="normal" fill="#3d5bab" >Tissue Collection</text>
<text x="590.4" y="891.4" font-size="14.2" text-anchor="middle" font-weight="normal" font-style="normal" fill="#3d5bab" >for Electron Microscopy</text>
<text x="0.6" y="939.6" font-size="20.5" text-anchor="start" font-weight="bold" font-style="normal" fill="#000" >i</text>
<text x="191.9" y="939.5" font-size="16.4" text-anchor="middle" font-weight="normal" font-style="normal" fill="#2b2b2b" >Von frey test</text>
<line x1="63.3" x2="63.3" y1="953.5" y2="1110.3" stroke="#3a3a3a" stroke-width="1.4"/>
<line x1="63.3" x2="325.6" y1="1110.3" y2="1110.3" stroke="#3a3a3a" stroke-width="1.4"/>
<line x1="60.8" x2="63.3" y1="1110.3" y2="1110.3" stroke="#3a3a3a" stroke-width="1.2"/>
<text x="59.6" y="1114.5" font-size="12.3" text-anchor="end" font-weight="normal" font-style="normal" fill="#2b2b2b" >0.0</text>
<line x1="60.8" x2="63.3" y1="1080.2" y2="1080.2" stroke="#3a3a3a" stroke-width="1.2"/>
<text x="59.6" y="1084.4" font-size="12.3" text-anchor="end" font-weight="normal" font-style="normal" fill="#2b2b2b" >0.5</text>
<line x1="60.8" x2="63.3" y1="1050.1" y2="1050.1" stroke="#3a3a3a" stroke-width="1.2"/>
<text x="59.6" y="1054.3" font-size="12.3" text-anchor="end" font-weight="normal" font-style="normal" fill="#2b2b2b" >1.0</text>
<line x1="60.8" x2="63.3" y1="1020.0" y2="1020.0" stroke="#3a3a3a" stroke-width="1.2"/>
<text x="59.6" y="1024.2" font-size="12.3" text-anchor="end" font-weight="normal" font-style="normal" fill="#2b2b2b" >1.5</text>
<line x1="60.8" x2="63.3" y1="989.9" y2="989.9" stroke="#3a3a3a" stroke-width="1.2"/>
<text x="59.6" y="994.1" font-size="12.3" text-anchor="end" font-weight="normal" font-style="normal" fill="#2b2b2b" >2.0</text>
<line x1="60.8" x2="63.3" y1="959.8" y2="959.8" stroke="#3a3a3a" stroke-width="1.2"/>
<text x="59.6" y="964.0" font-size="12.3" text-anchor="end" font-weight="normal" font-style="normal" fill="#2b2b2b" >2.5</text>
<line x1="88.9" x2="88.9" y1="1110.3" y2="1112.8" stroke="#3a3a3a" stroke-width="1.2"/>
<line x1="138.8" x2="138.8" y1="1110.3" y2="1112.8" stroke="#3a3a3a" stroke-width="1.2"/>
<line x1="215.8" x2="215.8" y1="1110.3" y2="1112.8" stroke="#3a3a3a" stroke-width="1.2"/>
<line x1="292.5" x2="292.5" y1="1110.3" y2="1112.8" stroke="#3a3a3a" stroke-width="1.2"/>
<rect x="113.7" y="1108.3" width="6" height="4" fill="#fff"/>
<path d="M113.5,1113.3 L115.9,1107.3 M117.5,1113.3 L119.9,1107.3" stroke="#222" stroke-width="1"/>
<text x="90" y="1124.7" font-size="12.2" text-anchor="middle" font-weight="normal" font-style="normal" fill="#2b2b2b" >Baseline</text>
<text x="140.6" y="1124.7" font-size="12.2" text-anchor="middle" font-weight="normal" font-style="normal" fill="#2b2b2b" >TAM 30d</text>
<text x="215.8" y="1123.5" font-size="12.2" text-anchor="middle" font-weight="normal" font-style="normal" fill="#2b2b2b" >Inj 7d</text>
<text x="292.5" y="1123.5" font-size="12.2" text-anchor="middle" font-weight="normal" font-style="normal" fill="#2b2b2b" >Inj 14d</text>
<text x="0" y="0" font-size="12.3" text-anchor="middle" font-weight="normal" font-style="normal" fill="#2b2b2b" transform="translate(32,1031.5) rotate(-90)">50% withdrawal threshold (g)</text>
<circle cx="81.9" cy="1058.5" r="2.35" fill="none" stroke="#40a98a" stroke-width="1.35"/>
<circle cx="82.0" cy="1064.5" r="2.35" fill="none" stroke="#40a98a" stroke-width="1.35"/>
<circle cx="86.4" cy="1064.5" r="2.35" fill="none" stroke="#40a98a" stroke-width="1.35"/>
<circle cx="95.6" cy="1064.5" r="2.35" fill="none" stroke="#40a98a" stroke-width="1.35"/>
<circle cx="91.3" cy="1068.2" r="2.35" fill="none" stroke="#40a98a" stroke-width="1.35"/>
<circle cx="91.8" cy="1082.0" r="2.35" fill="none" stroke="#40a98a" stroke-width="1.35"/>
<circle cx="84.0" cy="1072.4" r="2.35" fill="none" stroke="#40a98a" stroke-width="1.35"/>
<circle cx="90.0" cy="1075.4" r="2.35" fill="none" stroke="#40a98a" stroke-width="1.35"/>
<circle cx="87.0" cy="1078.4" r="2.35" fill="none" stroke="#40a98a" stroke-width="1.35"/>
<circle cx="93.5" cy="1074.2" r="2.35" fill="none" stroke="#40a98a" stroke-width="1.35"/>
<circle cx="83.1" cy="1047.7" r="2.35" fill="none" stroke="#ea8466" stroke-width="1.35"/>
<circle cx="91.8" cy="1059.1" r="2.35" fill="none" stroke="#ea8466" stroke-width="1.35"/>
<circle cx="95.6" cy="1059.1" r="2.35" fill="none" stroke="#ea8466" stroke-width="1.35"/>
<circle cx="81.9" cy="1072.4" r="2.35" fill="none" stroke="#ea8466" stroke-width="1.35"/>
<circle cx="93.8" cy="1072.4" r="2.35" fill="none" stroke="#ea8466" stroke-width="1.35"/>
<circle cx="81.9" cy="1078.4" r="2.35" fill="none" stroke="#ea8466" stroke-width="1.35"/>
<circle cx="88.1" cy="1078.4" r="2.35" fill="none" stroke="#ea8466" stroke-width="1.35"/>
<circle cx="95.6" cy="1078.4" r="2.35" fill="none" stroke="#ea8466" stroke-width="1.35"/>
<circle cx="86.0" cy="1068.2" r="2.35" fill="none" stroke="#ea8466" stroke-width="1.35"/>
<circle cx="135.3" cy="1047.7" r="2.35" fill="none" stroke="#40a98a" stroke-width="1.35"/>
<circle cx="134.0" cy="1072.4" r="2.35" fill="none" stroke="#40a98a" stroke-width="1.35"/>
<circle cx="140.2" cy="1072.4" r="2.35" fill="none" stroke="#40a98a" stroke-width="1.35"/>
<circle cx="137.2" cy="1078.4" r="2.35" fill="none" stroke="#40a98a" stroke-width="1.35"/>
<circle cx="145.9" cy="1078.4" r="2.35" fill="none" stroke="#40a98a" stroke-width="1.35"/>
<circle cx="144.0" cy="1047.7" r="2.35" fill="none" stroke="#ea8466" stroke-width="1.35"/>
<circle cx="132.8" cy="1072.4" r="2.35" fill="none" stroke="#ea8466" stroke-width="1.35"/>
<circle cx="141.5" cy="1078.4" r="2.35" fill="none" stroke="#ea8466" stroke-width="1.35"/>
<circle cx="138.0" cy="1069.4" r="2.35" fill="none" stroke="#ea8466" stroke-width="1.35"/>
<circle cx="209.0" cy="989.9" r="2.35" fill="none" stroke="#40a98a" stroke-width="1.35"/>
<circle cx="212.5" cy="989.9" r="2.35" fill="none" stroke="#40a98a" stroke-width="1.35"/>
<circle cx="216.0" cy="989.9" r="2.35" fill="none" stroke="#ea8466" stroke-width="1.35"/>
<circle cx="219.5" cy="989.9" r="2.35" fill="none" stroke="#ea8466" stroke-width="1.35"/>
<circle cx="223.5" cy="989.9" r="2.35" fill="none" stroke="#ea8466" stroke-width="1.35"/>
<circle cx="213.0" cy="989.9" r="2.35" fill="none" stroke="#ea8466" stroke-width="1.35"/>
<circle cx="220.0" cy="989.9" r="2.35" fill="none" stroke="#40a98a" stroke-width="1.35"/>
<circle cx="300.1" cy="1072.4" r="2.35" fill="none" stroke="#40a98a" stroke-width="1.35"/>
<circle cx="289.6" cy="1078.4" r="2.35" fill="none" stroke="#40a98a" stroke-width="1.35"/>
<circle cx="297.9" cy="1094.0" r="2.35" fill="none" stroke="#40a98a" stroke-width="1.35"/>
<circle cx="286.5" cy="1098.9" r="2.35" fill="none" stroke="#40a98a" stroke-width="1.35"/>
<circle cx="293.0" cy="1080.2" r="2.35" fill="none" stroke="#40a98a" stroke-width="1.35"/>
<circle cx="292.0" cy="989.9" r="2.35" fill="none" stroke="#ea8466" stroke-width="1.35"/>
<circle cx="292.5" cy="1047.1" r="2.35" fill="none" stroke="#ea8466" stroke-width="1.35"/>
<circle cx="297.1" cy="1047.1" r="2.35" fill="none" stroke="#ea8466" stroke-width="1.35"/>
<circle cx="289.5" cy="1059.1" r="2.35" fill="none" stroke="#ea8466" stroke-width="1.35"/>
<polyline points="139.5,1071.2 215.8,989.9 292.5,1084.4" fill="none" stroke="#40a98a" stroke-width="1.7"/>
<polyline points="140.2,1069.4 215.8,989.9 292.5,1039.3" fill="none" stroke="#ea8466" stroke-width="1.7"/>
<line x1="138.8" x2="138.8" y1="1060.9" y2="1077.2" stroke="#40a98a" stroke-width="1.6"/>
<line x1="134.3" x2="143.3" y1="1060.9" y2="1060.9" stroke="#40a98a" stroke-width="1.6"/>
<line x1="134.3" x2="143.3" y1="1077.2" y2="1077.2" stroke="#40a98a" stroke-width="1.6"/>
<line x1="292.5" x2="292.5" y1="1018.2" y2="1053.1" stroke="#ea8466" stroke-width="1.6"/>
<line x1="288.0" x2="297.0" y1="1018.2" y2="1018.2" stroke="#ea8466" stroke-width="1.6"/>
<line x1="288.0" x2="297.0" y1="1053.1" y2="1053.1" stroke="#ea8466" stroke-width="1.6"/>
<line x1="292.5" x2="292.5" y1="1075.4" y2="1093.4" stroke="#40a98a" stroke-width="1.6"/>
<line x1="288.0" x2="297.0" y1="1075.4" y2="1075.4" stroke="#40a98a" stroke-width="1.6"/>
<line x1="288.0" x2="297.0" y1="1093.4" y2="1093.4" stroke="#40a98a" stroke-width="1.6"/>
<line x1="88.9" x2="88.9" y1="1064.5" y2="1075.4" stroke="#40a98a" stroke-width="1.6"/>
<line x1="85.9" x2="91.9" y1="1064.5" y2="1064.5" stroke="#40a98a" stroke-width="1.6"/>
<line x1="85.9" x2="91.9" y1="1075.4" y2="1075.4" stroke="#40a98a" stroke-width="1.6"/>
<circle cx="88.9" cy="1070.6" r="2.5" fill="#40a98a" stroke="#40a98a" stroke-width="1.35"/>
<circle cx="89.5" cy="1070.6" r="2.5" fill="#ea8466" stroke="#ea8466" stroke-width="1.35"/>
<circle cx="139.5" cy="1071.2" r="2.5" fill="#40a98a" stroke="#40a98a" stroke-width="1.35"/>
<circle cx="140.2" cy="1069.4" r="2.5" fill="#ea8466" stroke="#ea8466" stroke-width="1.35"/>
<circle cx="292.5" cy="1039.3" r="2.5" fill="#ea8466" stroke="#ea8466" stroke-width="1.35"/>
<circle cx="292.5" cy="1084.4" r="2.5" fill="#40a98a" stroke="#40a98a" stroke-width="1.35"/>
<circle cx="215.8" cy="989.9" r="2.5" fill="#ea8466" stroke="#ea8466" stroke-width="1.35"/>
<path d="M308.7,1053 H313.3 V1084.2 H308.7" fill="none" stroke="#1a1a1a" stroke-width="1.3"/>
<text x="314.9" y="1075" font-size="12" text-anchor="start" font-weight="normal" font-style="normal" fill="#2b2b2b" >**</text>
<line x1="72.0" x2="86.80000000000001" y1="962.2" y2="962.2" stroke="#40a98a" stroke-width="1.6"/>
<circle cx="79.4" cy="962.2" r="2.5" fill="#40a98a" stroke="#40a98a" stroke-width="1.35"/>
<line x1="72.0" x2="86.80000000000001" y1="976.6" y2="976.6" stroke="#ea8466" stroke-width="1.6"/>
<circle cx="79.4" cy="976.6" r="2.5" fill="#ea8466" stroke="#ea8466" stroke-width="1.35"/>
<text x="93.1" y="966.0" font-size="12.3" text-anchor="start" font-weight="normal" font-style="normal" fill="#2b2b2b" >cKO-PR</text>
<text x="93.1" y="980.5" font-size="12.3" font-style="italic" fill="#2b2b2b">Prdm12<tspan font-size="7.2" dy="-4.8">CreERT2</tspan></text>
<text x="351.6" y="939.6" font-size="20.5" text-anchor="start" font-weight="bold" font-style="normal" fill="#000" >j</text>
<text x="543.2" y="939.5" font-size="16.4" text-anchor="middle" font-weight="normal" font-style="normal" fill="#2b2b2b" >Hargreaves test</text>
<line x1="404.5" x2="404.5" y1="952.7" y2="1109.1" stroke="#3a3a3a" stroke-width="1.4"/>
<line x1="404.5" x2="668.1" y1="1109.1" y2="1109.1" stroke="#3a3a3a" stroke-width="1.4"/>
<line x1="402.0" x2="404.5" y1="1109.1" y2="1109.1" stroke="#3a3a3a" stroke-width="1.2"/>
<text x="399.6" y="1113.3" font-size="12.3" text-anchor="end" font-weight="normal" font-style="normal" fill="#2b2b2b" >0</text>
<line x1="402.0" x2="404.5" y1="1079.0" y2="1079.0" stroke="#3a3a3a" stroke-width="1.2"/>
<text x="399.6" y="1083.2" font-size="12.3" text-anchor="end" font-weight="normal" font-style="normal" fill="#2b2b2b" >5</text>
<line x1="402.0" x2="404.5" y1="1048.9" y2="1048.9" stroke="#3a3a3a" stroke-width="1.2"/>
<text x="399.6" y="1053.1" font-size="12.3" text-anchor="end" font-weight="normal" font-style="normal" fill="#2b2b2b" >10</text>
<line x1="402.0" x2="404.5" y1="1018.8" y2="1018.8" stroke="#3a3a3a" stroke-width="1.2"/>
<text x="399.6" y="1023.0" font-size="12.3" text-anchor="end" font-weight="normal" font-style="normal" fill="#2b2b2b" >15</text>
<line x1="402.0" x2="404.5" y1="988.7" y2="988.7" stroke="#3a3a3a" stroke-width="1.2"/>
<text x="399.6" y="992.9" font-size="12.3" text-anchor="end" font-weight="normal" font-style="normal" fill="#2b2b2b" >20</text>
<line x1="402.0" x2="404.5" y1="958.6" y2="958.6" stroke="#3a3a3a" stroke-width="1.2"/>
<text x="399.6" y="962.8" font-size="12.3" text-anchor="end" font-weight="normal" font-style="normal" fill="#2b2b2b" >25</text>
<line x1="430.6" x2="430.6" y1="1109.1" y2="1111.6" stroke="#3a3a3a" stroke-width="1.2"/>
<line x1="481.3" x2="481.3" y1="1109.1" y2="1111.6" stroke="#3a3a3a" stroke-width="1.2"/>
<line x1="558.4" x2="558.4" y1="1109.1" y2="1111.6" stroke="#3a3a3a" stroke-width="1.2"/>
<line x1="635.3" x2="635.3" y1="1109.1" y2="1111.6" stroke="#3a3a3a" stroke-width="1.2"/>
<rect x="455.6" y="1107.1" width="6" height="4" fill="#fff"/>
<path d="M455.40000000000003,1112.1 L457.8,1106.1 M459.40000000000003,1112.1 L461.8,1106.1" stroke="#222" stroke-width="1"/>
<text x="431.5" y="1124.7" font-size="12.2" text-anchor="middle" font-weight="normal" font-style="normal" fill="#2b2b2b" >Baseline</text>
<text x="481.8" y="1124.7" font-size="12.2" text-anchor="middle" font-weight="normal" font-style="normal" fill="#2b2b2b" >TAM 30d</text>
<text x="558.5" y="1123.5" font-size="12.2" text-anchor="middle" font-weight="normal" font-style="normal" fill="#2b2b2b" >Inj 7d</text>
<text x="635.5" y="1123.5" font-size="12.2" text-anchor="middle" font-weight="normal" font-style="normal" fill="#2b2b2b" >Inj 14d</text>
<text x="0" y="0" font-size="12.25" text-anchor="middle" font-weight="normal" font-style="normal" fill="#2b2b2b" transform="translate(375.2,1031.5) rotate(-90)">Paw withdrawal latency (sec)</text>
<circle cx="434.3" cy="1026.0" r="2.35" fill="none" stroke="#40a98a" stroke-width="1.35"/>
<circle cx="444.7" cy="1021.8" r="2.35" fill="none" stroke="#40a98a" stroke-width="1.35"/>
<circle cx="447.2" cy="1029.0" r="2.35" fill="none" stroke="#40a98a" stroke-width="1.35"/>
<circle cx="443.3" cy="1042.9" r="2.35" fill="none" stroke="#40a98a" stroke-width="1.35"/>
<circle cx="440.5" cy="1032.0" r="2.35" fill="none" stroke="#40a98a" stroke-width="1.35"/>
<circle cx="437.0" cy="1030.8" r="2.35" fill="none" stroke="#40a98a" stroke-width="1.35"/>
<circle cx="442.0" cy="1036.9" r="2.35" fill="none" stroke="#40a98a" stroke-width="1.35"/>
<circle cx="438.8" cy="1024.8" r="2.35" fill="none" stroke="#ea8466" stroke-width="1.35"/>
<circle cx="436.8" cy="1029.0" r="2.35" fill="none" stroke="#ea8466" stroke-width="1.35"/>
<circle cx="447.9" cy="1036.3" r="2.35" fill="none" stroke="#ea8466" stroke-width="1.35"/>
<circle cx="439.8" cy="1051.3" r="2.35" fill="none" stroke="#ea8466" stroke-width="1.35"/>
<circle cx="441.0" cy="1035.1" r="2.35" fill="none" stroke="#ea8466" stroke-width="1.35"/>
<circle cx="438.0" cy="1039.9" r="2.35" fill="none" stroke="#ea8466" stroke-width="1.35"/>
<circle cx="476.0" cy="988.7" r="2.35" fill="none" stroke="#40a98a" stroke-width="1.35"/>
<circle cx="489.4" cy="988.7" r="2.35" fill="none" stroke="#40a98a" stroke-width="1.35"/>
<circle cx="481.5" cy="995.3" r="2.35" fill="none" stroke="#40a98a" stroke-width="1.35"/>
<circle cx="486.5" cy="997.7" r="2.35" fill="none" stroke="#40a98a" stroke-width="1.35"/>
<circle cx="477.3" cy="1027.2" r="2.35" fill="none" stroke="#40a98a" stroke-width="1.35"/>
<circle cx="484.0" cy="1000.7" r="2.35" fill="none" stroke="#40a98a" stroke-width="1.35"/>
<circle cx="469.0" cy="988.7" r="2.35" fill="none" stroke="#ea8466" stroke-width="1.35"/>
<circle cx="476.5" cy="988.7" r="2.35" fill="none" stroke="#ea8466" stroke-width="1.35"/>
<circle cx="477.7" cy="1005.6" r="2.35" fill="none" stroke="#ea8466" stroke-width="1.35"/>
<circle cx="481.5" cy="1007.4" r="2.35" fill="none" stroke="#ea8466" stroke-width="1.35"/>
<circle cx="487.0" cy="1008.0" r="2.35" fill="none" stroke="#ea8466" stroke-width="1.35"/>
<circle cx="486.5" cy="1011.6" r="2.35" fill="none" stroke="#ea8466" stroke-width="1.35"/>
<circle cx="482.0" cy="1021.2" r="2.35" fill="none" stroke="#ea8466" stroke-width="1.35"/>
<circle cx="478.0" cy="1012.8" r="2.35" fill="none" stroke="#ea8466" stroke-width="1.35"/>
<circle cx="563.4" cy="1012.8" r="2.35" fill="none" stroke="#40a98a" stroke-width="1.35"/>
<circle cx="560.0" cy="1071.2" r="2.35" fill="none" stroke="#40a98a" stroke-width="1.35"/>
<circle cx="560.0" cy="1074.8" r="2.35" fill="none" stroke="#40a98a" stroke-width="1.35"/>
<circle cx="556.0" cy="1063.9" r="2.35" fill="none" stroke="#40a98a" stroke-width="1.35"/>
<circle cx="559.3" cy="997.1" r="2.35" fill="none" stroke="#ea8466" stroke-width="1.35"/>
<circle cx="563.9" cy="1021.2" r="2.35" fill="none" stroke="#ea8466" stroke-width="1.35"/>
<circle cx="553.8" cy="1039.3" r="2.35" fill="none" stroke="#ea8466" stroke-width="1.35"/>
<circle cx="559.0" cy="1060.9" r="2.35" fill="none" stroke="#ea8466" stroke-width="1.35"/>
<circle cx="557.0" cy="1067.0" r="2.35" fill="none" stroke="#ea8466" stroke-width="1.35"/>
<circle cx="629.8" cy="991.7" r="2.35" fill="none" stroke="#40a98a" stroke-width="1.35"/>
<circle cx="642.1" cy="988.7" r="2.35" fill="none" stroke="#40a98a" stroke-width="1.35"/>
<circle cx="642.1" cy="993.5" r="2.35" fill="none" stroke="#40a98a" stroke-width="1.35"/>
<circle cx="633.5" cy="1020.0" r="2.35" fill="none" stroke="#40a98a" stroke-width="1.35"/>
<circle cx="640.0" cy="1035.7" r="2.35" fill="none" stroke="#40a98a" stroke-width="1.35"/>
<circle cx="630.7" cy="1037.5" r="2.35" fill="none" stroke="#ea8466" stroke-width="1.35"/>
<circle cx="630.0" cy="1047.1" r="2.35" fill="none" stroke="#ea8466" stroke-width="1.35"/>
<circle cx="629.8" cy="1067.3" r="2.35" fill="none" stroke="#ea8466" stroke-width="1.35"/>
<circle cx="642.0" cy="1070.6" r="2.35" fill="none" stroke="#ea8466" stroke-width="1.35"/>
<circle cx="636.0" cy="1053.7" r="2.35" fill="none" stroke="#ea8466" stroke-width="1.35"/>
<polyline points="481.5,998.9 558.4,1055.2 635.3,1006.2" fill="none" stroke="#40a98a" stroke-width="1.7"/>
<polyline points="481.5,1008.0 558.4,1041.7 635.3,1055.2" fill="none" stroke="#ea8466" stroke-width="1.7"/>
<line x1="481.5" x2="481.5" y1="991.7" y2="1005.6" stroke="#40a98a" stroke-width="1.6"/>
<line x1="477.0" x2="486.0" y1="991.7" y2="991.7" stroke="#40a98a" stroke-width="1.6"/>
<line x1="477.0" x2="486.0" y1="1005.6" y2="1005.6" stroke="#40a98a" stroke-width="1.6"/>
<line x1="481.5" x2="481.5" y1="998.9" y2="1015.8" stroke="#ea8466" stroke-width="1.6"/>
<line x1="477.0" x2="486.0" y1="998.9" y2="998.9" stroke="#ea8466" stroke-width="1.6"/>
<line x1="477.0" x2="486.0" y1="1015.8" y2="1015.8" stroke="#ea8466" stroke-width="1.6"/>
<line x1="440.5" x2="440.5" y1="1026.0" y2="1037.5" stroke="#40a98a" stroke-width="1.6"/>
<line x1="437.0" x2="444.0" y1="1026.0" y2="1026.0" stroke="#40a98a" stroke-width="1.6"/>
<line x1="437.0" x2="444.0" y1="1037.5" y2="1037.5" stroke="#40a98a" stroke-width="1.6"/>
<line x1="440.5" x2="440.5" y1="1028.4" y2="1042.3" stroke="#ea8466" stroke-width="1.6"/>
<line x1="437.0" x2="444.0" y1="1028.4" y2="1028.4" stroke="#ea8466" stroke-width="1.6"/>
<line x1="437.0" x2="444.0" y1="1042.3" y2="1042.3" stroke="#ea8466" stroke-width="1.6"/>
<line x1="558.4" x2="558.4" y1="1033.8" y2="1071.2" stroke="#40a98a" stroke-width="1.6"/>
<line x1="553.9" x2="562.9" y1="1033.8" y2="1033.8" stroke="#40a98a" stroke-width="1.6"/>
<line x1="553.9" x2="562.9" y1="1071.2" y2="1071.2" stroke="#40a98a" stroke-width="1.6"/>
<line x1="558.4" x2="558.4" y1="1020.0" y2="1061.5" stroke="#ea8466" stroke-width="1.6"/>
<line x1="553.9" x2="562.9" y1="1020.0" y2="1020.0" stroke="#ea8466" stroke-width="1.6"/>
<line x1="553.9" x2="562.9" y1="1061.5" y2="1061.5" stroke="#ea8466" stroke-width="1.6"/>
<line x1="635.3" x2="635.3" y1="991.7" y2="1023.0" stroke="#40a98a" stroke-width="1.6"/>
<line x1="630.8" x2="639.8" y1="991.7" y2="991.7" stroke="#40a98a" stroke-width="1.6"/>
<line x1="630.8" x2="639.8" y1="1023.0" y2="1023.0" stroke="#40a98a" stroke-width="1.6"/>
<line x1="635.3" x2="635.3" y1="1046.5" y2="1064.6" stroke="#ea8466" stroke-width="1.6"/>
<line x1="630.8" x2="639.8" y1="1046.5" y2="1046.5" stroke="#ea8466" stroke-width="1.6"/>
<line x1="630.8" x2="639.8" y1="1064.6" y2="1064.6" stroke="#ea8466" stroke-width="1.6"/>
<circle cx="440.5" cy="1032.6" r="2.5" fill="#40a98a" stroke="#40a98a" stroke-width="1.35"/>
<circle cx="440.5" cy="1035.7" r="2.5" fill="#ea8466" stroke="#ea8466" stroke-width="1.35"/>
<circle cx="481.5" cy="998.9" r="2.5" fill="#40a98a" stroke="#40a98a" stroke-width="1.35"/>
<circle cx="481.5" cy="1008.0" r="2.5" fill="#ea8466" stroke="#ea8466" stroke-width="1.35"/>
<circle cx="558.4" cy="1055.2" r="2.5" fill="#40a98a" stroke="#40a98a" stroke-width="1.35"/>
<circle cx="558.4" cy="1041.7" r="2.5" fill="#ea8466" stroke="#ea8466" stroke-width="1.35"/>
<circle cx="635.3" cy="1006.2" r="2.5" fill="#40a98a" stroke="#40a98a" stroke-width="1.35"/>
<circle cx="635.3" cy="1055.2" r="2.5" fill="#ea8466" stroke="#ea8466" stroke-width="1.35"/>
<path d="M647.3,1015.5 H652.2 V1046.8 H647.3" fill="none" stroke="#1a1a1a" stroke-width="1.3"/>
<text x="653.7" y="1037" font-size="12" text-anchor="start" font-weight="normal" font-style="normal" fill="#2b2b2b" >**</text>
<line x1="412.5" x2="427.29999999999995" y1="961.7" y2="961.7" stroke="#40a98a" stroke-width="1.6"/>
<circle cx="419.9" cy="961.7" r="2.5" fill="#40a98a" stroke="#40a98a" stroke-width="1.35"/>
<line x1="412.5" x2="427.29999999999995" y1="975.8" y2="975.8" stroke="#ea8466" stroke-width="1.6"/>
<circle cx="419.9" cy="975.8" r="2.5" fill="#ea8466" stroke="#ea8466" stroke-width="1.35"/>
<text x="433.1" y="965.5" font-size="12.3" text-anchor="start" font-weight="normal" font-style="normal" fill="#2b2b2b" >cKO-PR</text>
<text x="433.1" y="979.6999999999999" font-size="12.3" font-style="italic" fill="#2b2b2b">Prdm12<tspan font-size="7.2" dy="-4.8">CreERT2</tspan></text>
</svg></body></html>
